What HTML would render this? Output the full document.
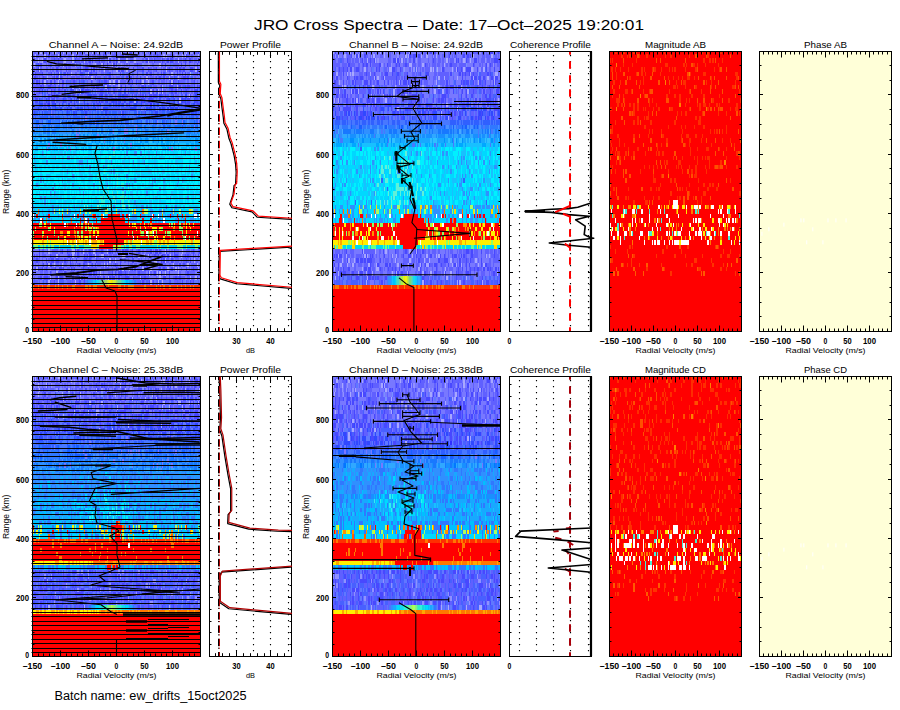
<!DOCTYPE html><html><head><meta charset="utf-8"><style>html,body{margin:0;padding:0;background:#fff;width:900px;height:710px;overflow:hidden}svg{display:block}text{font-family:"Liberation Sans",sans-serif;fill:#000}</style></head><body>
<svg width="900" height="710" viewBox="0 0 900 710">
<rect width="900" height="710" fill="#fff"/>
<text x="449" y="29.8" font-size="14.5" text-anchor="middle" textLength="390" lengthAdjust="spacingAndGlyphs" >JRO Cross Spectra – Date: 17–Oct–2025 19:20:01</text>
<text x="116" y="48" font-size="9.8" text-anchor="middle" textLength="134.5" lengthAdjust="spacingAndGlyphs" >Channel A – Noise: 24.92dB</text>
<text x="250.5" y="48" font-size="9.8" text-anchor="middle" textLength="61" lengthAdjust="spacingAndGlyphs" >Power Profile</text>
<text x="416" y="48" font-size="9.8" text-anchor="middle" textLength="134" lengthAdjust="spacingAndGlyphs" >Channel B – Noise: 24.92dB</text>
<text x="550.5" y="48" font-size="9.8" text-anchor="middle" textLength="81" lengthAdjust="spacingAndGlyphs" >Coherence Profile</text>
<text x="675.5" y="48" font-size="9.8" text-anchor="middle" textLength="61" lengthAdjust="spacingAndGlyphs" >Magnitude AB</text>
<text x="825.5" y="48" font-size="9.8" text-anchor="middle" textLength="43" lengthAdjust="spacingAndGlyphs" >Phase AB</text>
<path stroke="#ff0000" stroke-width="2.32" shape-rendering="crispEdges" d="M32.5 330.34h168"/>
<path stroke="#ff0000" stroke-width="4.44" shape-rendering="crispEdges" d="M32.5 326.96h168M32.5 322.51h168M32.5 318.07h168M32.5 313.63h168M32.5 309.19h168M32.5 304.74h168M32.5 300.3h168M32.5 295.86h168M32.5 291.42h168M32.5 238.11h168M32.5 233.66h168M32.5 229.22h168M32.5 224.78h168"/>
<path stroke="#ff3000" stroke-width="4.44" shape-rendering="crispEdges" d="M32.5 286.97h168"/>
<path stroke="#6060ff" stroke-width="4.44" shape-rendering="crispEdges" d="M32.5 282.53h168M32.5 278.09h168M32.5 273.65h168M32.5 269.2h168M32.5 264.76h168M32.5 260.32h168M32.5 255.88h168M32.5 251.43h168M32.5 87.06h168M32.5 82.61h168M32.5 78.17h168M32.5 60.4h168M32.5 55.96h168"/>
<path stroke="#00d8f0" stroke-width="4.44" shape-rendering="crispEdges" d="M32.5 246.99h168"/>
<path stroke="#fff000" stroke-width="4.44" shape-rendering="crispEdges" d="M32.5 242.55h168"/>
<path stroke="#00d8ff" stroke-width="4.44" shape-rendering="crispEdges" d="M32.5 220.33h168M32.5 215.89h168M32.5 211.45h168M32.5 207.01h168M32.5 202.56h168M32.5 193.68h168M32.5 189.24h168M32.5 184.79h168M32.5 162.58h168"/>
<path stroke="#00f0ff" stroke-width="4.44" shape-rendering="crispEdges" d="M32.5 198.12h168M32.5 180.35h168M32.5 175.91h168M32.5 171.47h168M32.5 167.02h168M32.5 158.14h168M32.5 153.7h168"/>
<path stroke="#18d8ff" stroke-width="4.44" shape-rendering="crispEdges" d="M32.5 149.25h168"/>
<path stroke="#18c0ff" stroke-width="4.44" shape-rendering="crispEdges" d="M32.5 144.81h168"/>
<path stroke="#18a8ff" stroke-width="4.44" shape-rendering="crispEdges" d="M32.5 140.37h168"/>
<path stroke="#1890ff" stroke-width="4.44" shape-rendering="crispEdges" d="M32.5 135.93h168"/>
<path stroke="#3090ff" stroke-width="4.44" shape-rendering="crispEdges" d="M32.5 131.48h168M32.5 127.04h168"/>
<path stroke="#3078ff" stroke-width="4.44" shape-rendering="crispEdges" d="M32.5 122.6h168"/>
<path stroke="#3060ff" stroke-width="4.44" shape-rendering="crispEdges" d="M32.5 118.16h168M32.5 113.71h168"/>
<path stroke="#4860ff" stroke-width="4.44" shape-rendering="crispEdges" d="M32.5 109.27h168M32.5 104.83h168"/>
<path stroke="#4848ff" stroke-width="4.44" shape-rendering="crispEdges" d="M32.5 100.38h168M32.5 95.94h168M32.5 91.5h168"/>
<path stroke="#7878ff" stroke-width="4.44" shape-rendering="crispEdges" d="M32.5 73.73h168M32.5 69.29h168M32.5 64.84h168"/>
<path stroke="#7878ff" stroke-width="2.24" shape-rendering="crispEdges" d="M32.5 52.62h168"/>
<path stroke="#ff7800" stroke-width="4.44" shape-rendering="crispEdges" d="M32.5 286.97h1.32m3.97 0h1.32m2.65 0h1.32m3.97 0h2.65m5.29 0h1.32m1.32 0h1.32m2.65 0h1.32m3.97 0h1.32m3.97 0h2.65m10.58 0h2.65m1.32 0h1.32m2.65 0h3.97m10.58 0h1.32m9.26 0h2.65m2.65 0h1.32m2.65 0h6.61m9.26 0h2.65m9.26 0h1.32m2.65 0h1.32m2.65 0h1.32m3.97 0h2.65m5.29 0h1.32m2.65 0h1.32m2.65 0h1.32m3.97 0h1.32m1.32 0h1.32M45.73 220.33h1.32m14.55 0h1.32m7.94 0h1.32m11.91 0h1.32M92.03 215.89h1.32m7.94 0h1.32m59.53 0h1.32m21.17 0h1.32M37.79 211.45h1.32m103.18 0h1.32"/>
<path stroke="#4860ff" stroke-width="4.44" shape-rendering="crispEdges" d="M33.82 282.53h1.32m7.94 0h1.32m1.32 0h1.32m2.65 0h1.32m7.94 0h5.29m5.29 0h1.32m1.32 0h1.32m66.14 0h1.32m5.29 0h1.32m9.26 0h1.32m1.32 0h1.32m7.94 0h1.32m6.61 0h1.32m7.94 0h1.32M32.5 113.71h1.32m14.55 0h1.32m2.65 0h1.32m1.32 0h1.32m27.78 0h1.32m1.32 0h1.32m1.32 0h1.32m3.97 0h1.32m6.61 0h1.32m2.65 0h2.65m9.26 0h1.32m3.97 0h1.32m1.32 0h1.32m1.32 0h1.32m11.91 0h2.65m3.97 0h1.32m2.65 0h2.65m3.97 0h2.65m3.97 0h1.32m14.55 0h1.32m1.32 0h2.65m9.26 0h1.32m1.32 0h1.32M32.5 100.38h1.32m6.61 0h2.65m3.97 0h1.32m2.65 0h1.32m3.97 0h1.32m3.97 0h1.32m2.65 0h1.32m10.58 0h1.32m13.23 0h2.65m7.94 0h1.32m29.1 0h1.32m10.58 0h1.32m6.61 0h1.32m1.32 0h1.32m9.26 0h1.32m2.65 0h2.65m3.97 0h1.32m7.94 0h1.32m10.58 0h2.65M33.82 95.94h1.32m6.61 0h1.32m1.32 0h1.32m11.91 0h1.32m5.29 0h1.32m1.32 0h1.32m3.97 0h1.32m18.52 0h1.32m2.65 0h1.32m9.26 0h1.32m1.32 0h2.65m2.65 0h1.32m5.29 0h1.32m11.91 0h1.32m21.17 0h1.32m3.97 0h1.32m3.97 0h1.32m2.65 0h1.32m7.94 0h2.65m10.58 0h1.32M44.41 91.5h1.32m9.26 0h1.32m10.58 0h1.32m10.58 0h1.32m9.26 0h1.32m1.32 0h1.32m1.32 0h1.32m6.61 0h1.32m1.32 0h1.32m6.61 0h1.32m3.97 0h1.32m10.58 0h3.97m1.32 0h2.65m3.97 0h3.97m1.32 0h1.32m6.61 0h1.32m27.78 0h1.32m13.23 0h1.32M54.99 87.06h1.32m2.65 0h1.32m5.29 0h1.32m6.61 0h1.32m6.61 0h1.32m19.84 0h1.32m5.29 0h1.32m2.65 0h1.32m15.87 0h1.32m9.26 0h1.32m5.29 0h1.32m1.32 0h1.32m31.75 0h1.32M32.5 82.61h1.32m31.75 0h1.32m2.65 0h1.32m10.58 0h1.32m1.32 0h1.32m15.87 0h1.32m41.01 0h1.32M103.93 78.17h1.32m17.2 0h1.32m51.59 0h1.32m14.55 0h1.32M53.67 73.73h1.32m5.29 0h1.32m1.32 0h1.32m18.52 0h2.65m21.17 0h2.65m13.23 0h1.32m7.94 0h1.32m9.26 0h1.32m21.17 0h1.32M137 69.29h1.32M36.47 64.84h1.32m13.23 0h1.32m6.61 0h1.32"/>
<path stroke="#6078ff" stroke-width="4.44" shape-rendering="crispEdges" d="M37.79 282.53h1.32m2.65 0h1.32m1.32 0h1.32m9.26 0h1.32m7.94 0h2.65m14.55 0h1.32m58.2 0h1.32m2.65 0h1.32m7.94 0h1.32m5.29 0h1.32m1.32 0h5.29m2.65 0h2.65m6.61 0h1.32m1.32 0h1.32m3.97 0h1.32m3.97 0h3.97m1.32 0h1.32M41.76 109.27h1.32m3.97 0h1.32m2.65 0h1.32m10.58 0h1.32m7.94 0h2.65m7.94 0h1.32m11.91 0h1.32m1.32 0h1.32m19.84 0h1.32m15.87 0h1.32m3.97 0h1.32m1.32 0h1.32m9.26 0h1.32m1.32 0h1.32m6.61 0h1.32m1.32 0h1.32m7.94 0h1.32m10.58 0h1.32m1.32 0h2.65m2.65 0h1.32M33.82 104.83h1.32m14.55 0h1.32m5.29 0h2.65m1.32 0h1.32m2.65 0h1.32m1.32 0h1.32m1.32 0h1.32m5.29 0h1.32m1.32 0h1.32m11.91 0h1.32m7.94 0h1.32m9.26 0h1.32m10.58 0h2.65m5.29 0h1.32m10.58 0h1.32m6.61 0h1.32m6.61 0h1.32m6.61 0h1.32m6.61 0h1.32m13.23 0h1.32M33.82 100.38h1.32m2.65 0h1.32m3.97 0h1.32m22.49 0h1.32m3.97 0h1.32m1.32 0h1.32m3.97 0h2.65m2.65 0h1.32m1.32 0h2.65m13.23 0h1.32m2.65 0h1.32m11.91 0h1.32m3.97 0h2.65m25.13 0h1.32m1.32 0h2.65m1.32 0h2.65m11.91 0h1.32m14.55 0h2.65M39.11 95.94h1.32m2.65 0h1.32m2.65 0h1.32m10.58 0h1.32m5.29 0h1.32m3.97 0h1.32m3.97 0h1.32m1.32 0h1.32m2.65 0h1.32m13.23 0h1.32m3.97 0h1.32m3.97 0h1.32m6.61 0h2.65m11.91 0h1.32m5.29 0h1.32m9.26 0h1.32m21.17 0h1.32M43.08 91.5h1.32m1.32 0h1.32m9.26 0h1.32m5.29 0h1.32m1.32 0h1.32m1.32 0h1.32m5.29 0h1.32m17.2 0h1.32m34.39 0h1.32m10.58 0h1.32m25.13 0h1.32m10.58 0h1.32m7.94 0h1.32m7.94 0h1.32M45.73 87.06h1.32m19.84 0h2.65m6.61 0h2.65m21.17 0h1.32m2.65 0h1.32m27.78 0h1.32m2.65 0h1.32m7.94 0h1.32m15.87 0h1.32m2.65 0h1.32m5.29 0h1.32m17.2 0h1.32M77.48 82.61h1.32m6.61 0h1.32m9.26 0h1.32m39.69 0h1.32m15.87 0h1.32m21.17 0h1.32m6.61 0h1.32M45.73 78.17h1.32m55.56 0h1.32m37.04 0h1.32m19.84 0h1.32m9.26 0h1.32m15.87 0h1.32m6.61 0h1.32M45.73 73.73h1.32m31.75 0h1.32m6.61 0h1.32m37.04 0h1.32m1.32 0h1.32m62.17 0h1.32M78.8 69.29h1.32m108.47 0h1.32M77.48 64.84h1.32m92.6 0h1.32M73.51 60.4h1.32"/>
<path stroke="#7878ff" stroke-width="4.44" shape-rendering="crispEdges" d="M40.44 282.53h1.32m142.87 0h1.32M32.5 278.09h1.32m1.32 0h2.65m3.97 0h1.32m9.26 0h2.65m9.26 0h1.32m3.97 0h2.65m1.32 0h1.32m7.94 0h1.32m1.32 0h1.32m9.26 0h1.32m3.97 0h1.32m2.65 0h1.32m7.94 0h1.32m1.32 0h1.32m1.32 0h1.32m9.26 0h2.65m15.87 0h6.61m1.32 0h2.65m1.32 0h2.65m2.65 0h2.65m1.32 0h2.65m11.91 0h2.65m6.61 0h1.32m2.65 0h2.65M33.82 273.65h1.32m1.32 0h3.97m2.65 0h1.32m3.97 0h1.32m2.65 0h2.65m7.94 0h1.32m2.65 0h2.65m3.97 0h2.65m2.65 0h3.97m3.97 0h1.32m3.97 0h1.32m3.97 0h1.32m2.65 0h1.32m1.32 0h3.97m5.29 0h1.32m2.65 0h1.32m9.26 0h1.32m6.61 0h1.32m9.26 0h1.32m3.97 0h1.32m2.65 0h1.32m5.29 0h2.65m2.65 0h1.32m1.32 0h7.94m2.65 0h3.97m10.58 0h2.65M32.5 269.2h1.32m9.26 0h1.32m3.97 0h2.65m5.29 0h2.65m5.29 0h2.65m2.65 0h1.32m3.97 0h6.61m15.87 0h3.97m2.65 0h1.32m3.97 0h2.65m1.32 0h2.65m2.65 0h1.32m5.29 0h3.97m3.97 0h1.32m1.32 0h1.32m11.91 0h1.32m1.32 0h6.61m2.65 0h1.32m6.61 0h1.32m2.65 0h1.32m5.29 0h1.32m1.32 0h3.97m1.32 0h1.32m1.32 0h1.32M33.82 264.76h1.32m1.32 0h1.32m1.32 0h2.65m2.65 0h1.32m6.61 0h1.32m1.32 0h1.32m2.65 0h1.32m2.65 0h1.32m2.65 0h2.65m3.97 0h1.32m1.32 0h1.32m3.97 0h1.32m3.97 0h1.32m1.32 0h1.32m2.65 0h1.32m1.32 0h1.32m3.97 0h1.32m6.61 0h1.32m1.32 0h1.32m5.29 0h1.32m1.32 0h6.61m1.32 0h1.32m2.65 0h1.32m2.65 0h3.97m1.32 0h1.32m1.32 0h1.32m1.32 0h3.97m3.97 0h1.32m1.32 0h1.32m6.61 0h2.65m2.65 0h1.32m5.29 0h1.32m1.32 0h1.32m3.97 0h1.32m2.65 0h1.32m6.61 0h1.32M40.44 260.32h1.32m1.32 0h2.65m1.32 0h1.32m5.29 0h1.32m7.94 0h1.32m3.97 0h1.32m1.32 0h1.32m1.32 0h2.65m1.32 0h5.29m9.26 0h3.97m7.94 0h1.32m1.32 0h1.32m5.29 0h1.32m1.32 0h3.97m2.65 0h1.32m2.65 0h1.32m1.32 0h2.65m2.65 0h3.97m1.32 0h1.32m1.32 0h2.65m1.32 0h1.32m1.32 0h1.32m1.32 0h2.65m5.29 0h1.32m7.94 0h2.65m2.65 0h1.32m3.97 0h1.32m1.32 0h1.32m5.29 0h1.32m1.32 0h1.32m2.65 0h1.32m1.32 0h2.65M32.5 255.88h1.32m1.32 0h1.32m1.32 0h1.32m1.32 0h1.32m3.97 0h3.97m10.58 0h6.61m6.61 0h1.32m1.32 0h1.32m2.65 0h3.97m3.97 0h1.32m9.26 0h2.65m6.61 0h1.32m2.65 0h1.32m3.97 0h1.32m1.32 0h2.65m2.65 0h1.32m6.61 0h1.32m5.29 0h3.97m2.65 0h1.32m2.65 0h1.32m7.94 0h2.65m3.97 0h1.32m1.32 0h1.32m2.65 0h1.32m5.29 0h1.32m1.32 0h1.32m7.94 0h1.32m1.32 0h1.32m1.32 0h1.32m1.32 0h1.32M33.82 251.43h5.29m1.32 0h1.32m2.65 0h2.65m2.65 0h2.65m5.29 0h2.65m2.65 0h3.97m3.97 0h1.32m3.97 0h1.32m2.65 0h1.32m2.65 0h1.32m1.32 0h1.32m6.61 0h1.32m7.94 0h2.65m6.61 0h1.32m1.32 0h1.32m3.97 0h1.32m6.61 0h1.32m2.65 0h2.65m5.29 0h1.32m1.32 0h2.65m5.29 0h1.32m1.32 0h1.32m2.65 0h1.32m2.65 0h2.65m2.65 0h1.32m1.32 0h1.32m1.32 0h1.32m5.29 0h2.65m1.32 0h2.65m3.97 0h1.32m3.97 0h2.65M47.05 149.25h1.32m18.52 0h1.32m1.32 0h1.32m42.33 0h1.32m54.24 0h1.32m1.32 0h1.32m22.49 0h1.32M48.37 144.81h1.32m10.58 0h1.32m11.91 0h1.32m55.56 0h1.32M54.99 140.37h1.32m47.62 0h1.32m18.52 0h1.32M76.15 135.93h2.65m18.52 0h1.32M76.15 131.48h1.32m1.32 0h1.32m33.07 0h1.32m9.26 0h3.97m7.94 0h1.32m30.43 0h1.32M33.82 127.04h1.32m2.65 0h1.32m96.57 0h1.32m56.88 0h1.32M94.67 122.6h1.32m60.85 0h1.32m17.2 0h1.32m5.29 0h1.32m14.55 0h1.32M85.41 118.16h1.32m112.44 0h1.32M51.02 113.71h1.32m68.79 0h1.32m14.55 0h1.32M101.29 109.27h1.32m38.36 0h1.32M49.7 100.38h1.32m3.97 0h1.32m108.47 0h1.32M40.44 95.94h1.32m3.97 0h1.32m13.23 0h2.65m50.27 0h1.32m18.52 0h1.32m9.26 0h1.32m13.23 0h1.32m9.26 0h1.32m3.97 0h1.32m3.97 0h1.32m2.65 0h1.32m2.65 0h1.32m2.65 0h1.32M32.5 91.5h1.32m1.32 0h1.32m11.91 0h2.65m22.49 0h1.32m2.65 0h1.32m11.91 0h1.32m3.97 0h1.32m9.26 0h1.32m2.65 0h2.65m3.97 0h1.32m3.97 0h1.32m2.65 0h1.32m10.58 0h1.32m14.55 0h1.32m3.97 0h1.32m5.29 0h1.32m9.26 0h1.32m3.97 0h1.32m6.61 0h1.32m1.32 0h1.32M44.41 87.06h1.32m10.58 0h1.32m2.65 0h1.32m2.65 0h1.32m14.55 0h1.32m3.97 0h1.32m1.32 0h2.65m3.97 0h1.32m14.55 0h2.65m2.65 0h2.65m3.97 0h2.65m1.32 0h3.97m1.32 0h1.32m1.32 0h2.65m2.65 0h1.32m10.58 0h1.32m3.97 0h2.65m5.29 0h1.32m14.55 0h1.32m13.23 0h1.32M35.15 82.61h1.32m3.97 0h1.32m6.61 0h1.32m2.65 0h1.32m2.65 0h1.32m2.65 0h1.32m2.65 0h1.32m22.49 0h2.65m2.65 0h2.65m14.55 0h2.65m13.23 0h1.32m5.29 0h2.65m5.29 0h1.32m3.97 0h1.32m1.32 0h1.32m5.29 0h2.65m1.32 0h1.32m3.97 0h1.32m1.32 0h1.32m17.2 0h1.32m1.32 0h2.65m3.97 0h1.32m1.32 0h2.65M32.5 78.17h1.32m3.97 0h1.32m1.32 0h1.32m6.61 0h3.97m2.65 0h1.32m6.61 0h3.97m1.32 0h2.65m3.97 0h1.32m3.97 0h1.32m2.65 0h1.32m1.32 0h1.32m5.29 0h1.32m1.32 0h1.32m3.97 0h1.32m3.97 0h1.32m2.65 0h2.65m1.32 0h1.32m3.97 0h1.32m2.65 0h2.65m2.65 0h1.32m1.32 0h1.32m1.32 0h1.32m2.65 0h1.32m2.65 0h1.32m5.29 0h1.32m3.97 0h1.32m1.32 0h1.32m6.61 0h1.32m10.58 0h1.32m1.32 0h1.32m7.94 0h1.32m2.65 0h1.32m2.65 0h1.32m1.32 0h1.32M35.15 60.4h2.65m1.32 0h1.32m7.94 0h2.65m14.55 0h5.29m9.26 0h1.32m5.29 0h1.32m2.65 0h1.32m1.32 0h1.32m5.29 0h1.32m3.97 0h1.32m3.97 0h2.65m1.32 0h1.32m11.91 0h2.65m2.65 0h1.32m1.32 0h6.61m1.32 0h1.32m7.94 0h1.32m6.61 0h1.32m2.65 0h1.32m2.65 0h1.32m3.97 0h1.32m6.61 0h1.32m3.97 0h1.32m3.97 0h1.32m2.65 0h1.32M33.82 55.96h1.32m3.97 0h3.97m3.97 0h1.32m1.32 0h1.32m3.97 0h1.32m5.29 0h2.65m1.32 0h2.65m6.61 0h1.32m1.32 0h1.32m3.97 0h2.65m2.65 0h1.32m1.32 0h1.32m3.97 0h1.32m3.97 0h1.32m7.94 0h1.32m6.61 0h1.32m3.97 0h1.32m3.97 0h1.32m9.26 0h3.97m2.65 0h2.65m2.65 0h1.32m7.94 0h2.65m1.32 0h1.32m1.32 0h2.65m3.97 0h1.32m1.32 0h5.29m1.32 0h1.32m5.29 0h1.32m1.32 0h5.29"/>
<path stroke="#a8a8ff" stroke-width="4.44" shape-rendering="crispEdges" d="M48.37 282.53h1.32m7.94 0h1.32m15.87 0h1.32m74.08 0h1.32m6.61 0h1.32m2.65 0h1.32M49.7 278.09h1.32m6.61 0h1.32m21.17 0h1.32m26.46 0h1.32m30.43 0h1.32m18.52 0h1.32m29.1 0h1.32m3.97 0h1.32M56.31 273.65h1.32m42.33 0h1.32m47.62 0h1.32m6.61 0h1.32m1.32 0h1.32m3.97 0h1.32m11.91 0h1.32M36.47 269.2h1.32m84.66 0h1.32m5.29 0h1.32m11.91 0h1.32m6.61 0h1.32m15.87 0h1.32m6.61 0h1.32m1.32 0h1.32m18.52 0h1.32M48.37 264.76h1.32m3.97 0h1.32m6.61 0h1.32m25.13 0h1.32m14.55 0h1.32m1.32 0h1.32m64.82 0h1.32m13.23 0h1.32m7.94 0h1.32M109.22 260.32h1.32m3.97 0h1.32m38.36 0h2.65m7.94 0h1.32m27.78 0h1.32M56.31 255.88h1.32m14.55 0h1.32m21.17 0h1.32m5.29 0h2.65m18.52 0h2.65m13.23 0h1.32m3.97 0h1.32m2.65 0h1.32m21.17 0h1.32m9.26 0h1.32M48.37 251.43h1.32m22.49 0h2.65m7.94 0h1.32m9.26 0h1.32m11.91 0h1.32m56.88 0h1.32m15.87 0h1.32M78.8 100.38h1.32m54.24 0h1.32m43.65 0h1.32M188.59 95.94h1.32M76.15 91.5h1.32m2.65 0h1.32m68.79 0h1.32m6.61 0h1.32m2.65 0h1.32M72.19 87.06h1.32m5.29 0h1.32m25.13 0h1.32m11.91 0h1.32m42.33 0h1.32m13.23 0h1.32M44.41 82.61h1.32m11.91 0h1.32m50.27 0h1.32m2.65 0h1.32m3.97 0h1.32m22.49 0h1.32m3.97 0h1.32m22.49 0h1.32M47.05 78.17h1.32m10.58 0h1.32m30.43 0h2.65m52.91 0h1.32m21.17 0h1.32m7.94 0h1.32M58.96 73.73h1.32m10.58 0h1.32m15.87 0h1.32m82.02 0h1.32m17.2 0h1.32M39.11 69.29h1.32m63.5 0h1.32m10.58 0h2.65m7.94 0h1.32m38.36 0h1.32m27.78 0h1.32M33.82 64.84h1.32m27.78 0h1.32m30.43 0h1.32m5.29 0h1.32m9.26 0h1.32m46.3 0h1.32M37.79 60.4h1.32m2.65 0h1.32m21.17 0h1.32m6.61 0h1.32m10.58 0h1.32m22.49 0h1.32m9.26 0h1.32m6.61 0h1.32m6.61 0h1.32m11.91 0h1.32m29.1 0h1.32M35.15 55.96h1.32m7.94 0h1.32m11.91 0h1.32m13.23 0h1.32m89.95 0h1.32m1.32 0h1.32m14.55 0h1.32m1.32 0h1.32m11.91 0h1.32"/>
<path stroke="#4848ff" stroke-width="4.44" shape-rendering="crispEdges" d="M53.67 282.53h1.32m23.81 0h2.65m2.65 0h1.32m56.88 0h1.32m5.29 0h1.32m2.65 0h1.32m15.87 0h1.32m10.58 0h1.32m6.61 0h1.32m1.32 0h1.32M40.44 278.09h1.32m2.65 0h3.97m7.94 0h1.32m2.65 0h2.65m2.65 0h1.32m5.29 0h1.32m5.29 0h1.32m1.32 0h1.32m1.32 0h1.32m9.26 0h1.32m1.32 0h1.32m3.97 0h2.65m3.97 0h1.32m1.32 0h2.65m3.97 0h1.32m5.29 0h3.97m3.97 0h1.32m6.61 0h1.32m1.32 0h2.65m17.2 0h2.65m2.65 0h1.32m5.29 0h1.32m2.65 0h1.32m15.87 0h1.32M49.7 273.65h1.32m13.23 0h1.32m11.91 0h1.32m3.97 0h1.32m5.29 0h2.65m1.32 0h1.32m1.32 0h1.32m14.55 0h1.32m1.32 0h1.32m2.65 0h3.97m2.65 0h1.32m11.91 0h1.32m7.94 0h1.32m5.29 0h1.32m5.29 0h1.32m6.61 0h1.32m17.2 0h1.32m10.58 0h1.32M35.15 269.2h1.32m1.32 0h1.32m2.65 0h1.32m2.65 0h1.32m7.94 0h1.32m2.65 0h2.65m1.32 0h1.32m6.61 0h1.32m1.32 0h1.32m7.94 0h1.32m3.97 0h1.32m26.46 0h1.32m2.65 0h1.32m2.65 0h1.32m6.61 0h1.32m1.32 0h1.32m7.94 0h2.65m13.23 0h1.32m2.65 0h1.32m6.61 0h1.32m13.23 0h1.32m5.29 0h1.32M32.5 264.76h1.32m9.26 0h1.32m2.65 0h1.32m1.32 0h2.65m17.2 0h1.32m7.94 0h1.32m2.65 0h2.65m6.61 0h1.32m1.32 0h1.32m18.52 0h1.32m3.97 0h1.32m19.84 0h1.32m3.97 0h1.32m31.75 0h1.32m2.65 0h1.32M36.47 260.32h1.32m7.94 0h1.32m3.97 0h2.65m2.65 0h2.65m5.29 0h1.32m3.97 0h1.32m5.29 0h1.32m6.61 0h2.65m2.65 0h1.32m5.29 0h1.32m10.58 0h1.32m10.58 0h1.32m10.58 0h2.65m26.46 0h1.32m1.32 0h1.32m6.61 0h1.32m13.23 0h1.32m2.65 0h1.32M33.82 255.88h1.32m3.97 0h1.32m9.26 0h1.32m17.2 0h1.32m1.32 0h1.32m5.29 0h1.32m5.29 0h1.32m1.32 0h1.32m1.32 0h2.65m11.91 0h1.32m21.17 0h1.32m3.97 0h1.32m2.65 0h1.32m11.91 0h1.32m3.97 0h1.32m2.65 0h1.32m2.65 0h2.65m2.65 0h1.32m5.29 0h3.97m6.61 0h1.32m1.32 0h1.32m3.97 0h1.32m3.97 0h1.32M39.11 251.43h1.32m21.17 0h1.32m3.97 0h1.32m6.61 0h1.32m1.32 0h1.32m10.58 0h1.32m5.29 0h1.32m3.97 0h1.32m6.61 0h1.32m1.32 0h1.32m3.97 0h1.32m3.97 0h1.32m1.32 0h2.65m3.97 0h1.32m5.29 0h1.32m10.58 0h1.32m3.97 0h2.65m1.32 0h1.32m5.29 0h1.32m6.61 0h1.32m17.2 0h1.32m5.29 0h1.32M44.41 104.83h1.32m1.32 0h1.32m10.58 0h1.32m27.78 0h1.32m7.94 0h1.32m15.87 0h1.32m5.29 0h1.32m3.97 0h1.32m34.39 0h1.32m22.49 0h3.97m6.61 0h3.97M40.44 87.06h1.32m1.32 0h1.32m3.97 0h2.65m10.58 0h1.32m7.94 0h1.32m10.58 0h1.32m9.26 0h1.32m1.32 0h2.65m7.94 0h2.65m11.91 0h1.32m2.65 0h1.32m15.87 0h1.32m1.32 0h1.32m14.55 0h1.32m6.61 0h3.97m6.61 0h1.32m3.97 0h1.32m1.32 0h2.65m3.97 0h1.32m1.32 0h1.32m1.32 0h1.32M36.47 82.61h1.32m1.32 0h1.32m1.32 0h1.32m6.61 0h2.65m1.32 0h1.32m6.61 0h2.65m9.26 0h1.32m3.97 0h1.32m2.65 0h1.32m6.61 0h1.32m6.61 0h1.32m3.97 0h2.65m9.26 0h2.65m9.26 0h2.65m1.32 0h1.32m2.65 0h1.32m2.65 0h1.32m10.58 0h2.65m15.87 0h1.32m1.32 0h1.32m3.97 0h1.32m14.55 0h1.32M33.82 78.17h2.65m6.61 0h1.32m9.26 0h1.32m1.32 0h1.32m2.65 0h1.32m33.07 0h1.32m13.23 0h1.32m15.87 0h1.32m2.65 0h1.32m7.94 0h1.32m14.55 0h1.32m2.65 0h1.32m2.65 0h1.32m9.26 0h1.32m7.94 0h2.65m1.32 0h1.32M32.5 73.73h1.32m1.32 0h1.32m5.29 0h1.32m7.94 0h1.32m5.29 0h1.32m5.29 0h1.32m1.32 0h1.32m11.91 0h2.65m6.61 0h2.65m3.97 0h1.32m11.91 0h1.32m9.26 0h1.32m7.94 0h1.32m6.61 0h1.32m7.94 0h1.32m2.65 0h1.32m9.26 0h1.32m1.32 0h1.32m11.91 0h1.32m3.97 0h1.32m1.32 0h1.32m10.58 0h1.32m1.32 0h1.32M37.79 69.29h1.32m17.2 0h1.32m7.94 0h1.32m13.23 0h1.32m3.97 0h2.65m2.65 0h1.32m1.32 0h1.32m23.81 0h1.32m1.32 0h2.65m9.26 0h1.32m7.94 0h1.32m3.97 0h1.32m6.61 0h1.32m11.91 0h1.32m6.61 0h1.32m1.32 0h1.32m2.65 0h1.32m5.29 0h2.65m3.97 0h1.32M37.79 64.84h1.32m1.32 0h1.32m7.94 0h1.32m6.61 0h1.32m21.17 0h1.32m21.17 0h1.32m2.65 0h1.32m5.29 0h1.32m1.32 0h1.32m19.84 0h1.32m26.46 0h1.32m14.55 0h1.32m2.65 0h1.32m10.58 0h1.32M44.41 60.4h1.32m7.94 0h1.32m2.65 0h1.32m15.87 0h1.32m13.23 0h1.32m1.32 0h1.32m5.29 0h1.32m9.26 0h1.32m5.29 0h1.32m29.1 0h1.32m6.61 0h1.32m6.61 0h1.32m3.97 0h1.32m1.32 0h2.65m11.91 0h1.32m2.65 0h2.65m6.61 0h1.32M48.37 55.96h1.32m26.46 0h1.32m21.17 0h1.32m2.65 0h1.32m1.32 0h1.32m15.87 0h1.32m21.17 0h1.32m10.58 0h1.32m27.78 0h1.32"/>
<path stroke="#4878ff" stroke-width="4.44" shape-rendering="crispEdges" d="M85.41 282.53h1.32m48.94 0h1.32M32.5 122.6h1.32m5.29 0h2.65m9.26 0h1.32m22.49 0h2.65m2.65 0h1.32m18.52 0h1.32m2.65 0h1.32m3.97 0h1.32m1.32 0h1.32m6.61 0h1.32m2.65 0h1.32m7.94 0h1.32m10.58 0h1.32m3.97 0h1.32m7.94 0h1.32m3.97 0h1.32m2.65 0h1.32m3.97 0h1.32m1.32 0h1.32m10.58 0h1.32M33.82 118.16h1.32m1.32 0h2.65m9.26 0h1.32m3.97 0h1.32m6.61 0h1.32m1.32 0h2.65m1.32 0h1.32m1.32 0h2.65m6.61 0h1.32m1.32 0h1.32m2.65 0h2.65m1.32 0h1.32m1.32 0h1.32m6.61 0h1.32m2.65 0h1.32m2.65 0h1.32m1.32 0h2.65m1.32 0h1.32m1.32 0h2.65m5.29 0h1.32m1.32 0h2.65m1.32 0h2.65m5.29 0h1.32m2.65 0h1.32m3.97 0h1.32m14.55 0h1.32m3.97 0h1.32m1.32 0h1.32m1.32 0h1.32m5.29 0h2.65m1.32 0h1.32m5.29 0h2.65m1.32 0h1.32M37.79 113.71h1.32m1.32 0h1.32m1.32 0h1.32m9.26 0h1.32m1.32 0h1.32m1.32 0h2.65m1.32 0h2.65m3.97 0h1.32m1.32 0h1.32m3.97 0h3.97m6.61 0h1.32m1.32 0h1.32m1.32 0h1.32m1.32 0h1.32m1.32 0h2.65m2.65 0h1.32m5.29 0h1.32m5.29 0h1.32m9.26 0h1.32m1.32 0h3.97m5.29 0h1.32m5.29 0h2.65m1.32 0h1.32m6.61 0h1.32m5.29 0h1.32m9.26 0h2.65m11.91 0h1.32M61.6 109.27h1.32m75.4 0h1.32"/>
<path stroke="#3078ff" stroke-width="4.44" shape-rendering="crispEdges" d="M86.74 282.53h1.32m46.3 0h1.32M36.47 127.04h1.32m15.87 0h2.65m7.94 0h1.32m2.65 0h1.32m3.97 0h1.32m7.94 0h1.32m5.29 0h1.32m6.61 0h1.32m11.91 0h1.32m1.32 0h2.65m6.61 0h1.32m2.65 0h7.94m2.65 0h1.32m15.87 0h1.32m3.97 0h1.32m3.97 0h1.32m7.94 0h1.32m5.29 0h1.32m1.32 0h1.32m2.65 0h2.65M39.11 118.16h1.32m19.84 0h1.32m34.39 0h1.32m44.98 0h1.32m35.72 0h1.32m9.26 0h1.32"/>
<path stroke="#3090ff" stroke-width="4.44" shape-rendering="crispEdges" d="M88.06 282.53h2.65m41.01 0h2.65M33.82 220.33h2.65m1.32 0h2.65m2.65 0h1.32m3.97 0h1.32m1.32 0h1.32m10.58 0h1.32m5.29 0h1.32m5.29 0h1.32m3.97 0h2.65m2.65 0h1.32m5.29 0h1.32m5.29 0h1.32m29.1 0h6.61m15.87 0h1.32m1.32 0h1.32m1.32 0h2.65m1.32 0h1.32m1.32 0h1.32m9.26 0h2.65m2.65 0h1.32m1.32 0h1.32m5.29 0h3.97m1.32 0h1.32m1.32 0h1.32M33.82 215.89h1.32m3.97 0h1.32m2.65 0h1.32m1.32 0h2.65m9.26 0h1.32m5.29 0h5.29m2.65 0h1.32m6.61 0h2.65m1.32 0h1.32m1.32 0h1.32m1.32 0h2.65m5.29 0h1.32m7.94 0h1.32m11.91 0h2.65m1.32 0h1.32m2.65 0h1.32m2.65 0h5.29m3.97 0h3.97m2.65 0h1.32m1.32 0h1.32m2.65 0h1.32m3.97 0h1.32m3.97 0h1.32m1.32 0h2.65m1.32 0h2.65m3.97 0h1.32m1.32 0h1.32m3.97 0h2.65m3.97 0h1.32m2.65 0h1.32M33.82 211.45h1.32m3.97 0h1.32m1.32 0h1.32m5.29 0h1.32m2.65 0h1.32m1.32 0h1.32m7.94 0h1.32m2.65 0h2.65m3.97 0h1.32m2.65 0h1.32m2.65 0h2.65m15.87 0h1.32m7.94 0h2.65m5.29 0h1.32m1.32 0h1.32m5.29 0h1.32m3.97 0h1.32m6.61 0h1.32m7.94 0h2.65m6.61 0h2.65m1.32 0h1.32m6.61 0h1.32m1.32 0h1.32m5.29 0h1.32m11.91 0h3.97M32.5 207.01h1.32m18.52 0h1.32m3.97 0h1.32m14.55 0h1.32m15.87 0h1.32m21.17 0h1.32m11.91 0h1.32m7.94 0h1.32m3.97 0h2.65m2.65 0h1.32m27.78 0h1.32M44.41 202.56h1.32m74.08 0h1.32m13.23 0h1.32M40.44 198.12h1.32m2.65 0h1.32m124.35 0h1.32m15.87 0h1.32M49.7 193.68h1.32m2.65 0h1.32m27.78 0h1.32m41.01 0h1.32m19.84 0h1.32M52.34 189.24h1.32m25.13 0h1.32m42.33 0h1.32m35.72 0h1.32M36.47 184.79h1.32m15.87 0h1.32m17.2 0h1.32m19.84 0h1.32m11.91 0h1.32m18.52 0h1.32m1.32 0h1.32m1.32 0h1.32m18.52 0h1.32m23.81 0h1.32M40.44 180.35h1.32m1.32 0h1.32m17.2 0h1.32m71.43 0h1.32m15.87 0h1.32m1.32 0h1.32m7.94 0h1.32m13.23 0h1.32m2.65 0h1.32M72.19 175.91h1.32m52.91 0h1.32m63.5 0h1.32M66.89 171.47h1.32m42.33 0h1.32m1.32 0h1.32M35.15 167.02h1.32m52.91 0h1.32m11.91 0h1.32m84.66 0h1.32M45.73 162.58h2.65m30.43 0h3.97m3.97 0h1.32m22.49 0h1.32m21.17 0h1.32m9.26 0h1.32M33.82 158.14h1.32m19.84 0h1.32m10.58 0h2.65m124.35 0h1.32M41.76 153.7h1.32m83.34 0h1.32m6.61 0h2.65m2.65 0h2.65m13.23 0h1.32m27.78 0h1.32"/>
<path stroke="#18a8ff" stroke-width="4.44" shape-rendering="crispEdges" d="M90.7 282.53h2.65m35.72 0h2.65M37.79 144.81h1.32m6.61 0h1.32m18.52 0h1.32m88.63 0h1.32M32.5 135.93h1.32m3.97 0h1.32m3.97 0h1.32m11.91 0h1.32m2.65 0h1.32m10.58 0h1.32m14.55 0h1.32m2.65 0h1.32m5.29 0h1.32m18.52 0h1.32m25.13 0h1.32m17.2 0h1.32m2.65 0h1.32m3.97 0h1.32m5.29 0h2.65m17.2 0h1.32"/>
<path stroke="#18c0ff" stroke-width="4.44" shape-rendering="crispEdges" d="M93.35 282.53h1.32m33.07 0h1.32M35.15 207.01h1.32m7.94 0h1.32m1.32 0h1.32m2.65 0h1.32m2.65 0h2.65m2.65 0h1.32m1.32 0h1.32m3.97 0h1.32m6.61 0h1.32m1.32 0h2.65m51.59 0h1.32m2.65 0h2.65m9.26 0h2.65m3.97 0h1.32m7.94 0h1.32m5.29 0h1.32m1.32 0h1.32m3.97 0h1.32m2.65 0h1.32m3.97 0h2.65m1.32 0h1.32m1.32 0h1.32M41.76 202.56h1.32m3.97 0h1.32m1.32 0h1.32m13.23 0h1.32m15.87 0h1.32m5.29 0h1.32m7.94 0h1.32m9.26 0h1.32m6.61 0h1.32m13.23 0h1.32m5.29 0h1.32m1.32 0h1.32m7.94 0h2.65m7.94 0h1.32M51.02 198.12h1.32m1.32 0h1.32m1.32 0h1.32m2.65 0h1.32m34.39 0h1.32m5.29 0h1.32m10.58 0h2.65m10.58 0h1.32m2.65 0h1.32m19.84 0h1.32m1.32 0h1.32m22.49 0h1.32m1.32 0h1.32m9.26 0h1.32m1.32 0h1.32M39.11 193.68h1.32m10.58 0h1.32m2.65 0h1.32m23.81 0h1.32m25.13 0h1.32m5.29 0h1.32m9.26 0h1.32m5.29 0h2.65m3.97 0h1.32m18.52 0h1.32m13.23 0h1.32m19.84 0h1.32m5.29 0h1.32M40.44 189.24h1.32m5.29 0h1.32m15.87 0h1.32m1.32 0h1.32m15.87 0h1.32m11.91 0h1.32m3.97 0h1.32m7.94 0h1.32m1.32 0h1.32m3.97 0h1.32m3.97 0h1.32m10.58 0h1.32m7.94 0h1.32m1.32 0h1.32m13.23 0h1.32m17.2 0h1.32m3.97 0h1.32M32.5 184.79h1.32m3.97 0h1.32m5.29 0h1.32m13.23 0h1.32m2.65 0h2.65m39.69 0h1.32m5.29 0h1.32m1.32 0h1.32m26.46 0h1.32m6.61 0h1.32m11.91 0h1.32m3.97 0h1.32m22.49 0h1.32m3.97 0h1.32M32.5 180.35h1.32m3.97 0h1.32m27.78 0h3.97m2.65 0h1.32m7.94 0h1.32m5.29 0h1.32m14.55 0h2.65m1.32 0h1.32m3.97 0h1.32m14.55 0h1.32m3.97 0h1.32m11.91 0h1.32m7.94 0h1.32m5.29 0h1.32m17.2 0h1.32M40.44 175.91h1.32m3.97 0h3.97m11.91 0h1.32m10.58 0h1.32m6.61 0h1.32m6.61 0h3.97m9.26 0h1.32m11.91 0h1.32m1.32 0h1.32m17.2 0h2.65m1.32 0h2.65m7.94 0h1.32m6.61 0h1.32m1.32 0h1.32m3.97 0h2.65m11.91 0h1.32m1.32 0h1.32m7.94 0h1.32M32.5 171.47h1.32m1.32 0h1.32m25.13 0h1.32m9.26 0h1.32m5.29 0h2.65m7.94 0h1.32m9.26 0h1.32m7.94 0h1.32m10.58 0h1.32m5.29 0h1.32m6.61 0h1.32m3.97 0h1.32m5.29 0h3.97m2.65 0h1.32m1.32 0h1.32m3.97 0h2.65m11.91 0h1.32m2.65 0h1.32m2.65 0h1.32m2.65 0h1.32m1.32 0h2.65M39.11 167.02h1.32m21.17 0h1.32m1.32 0h1.32m13.23 0h1.32m2.65 0h1.32m2.65 0h1.32m10.58 0h1.32m5.29 0h1.32m17.2 0h1.32m22.49 0h1.32m18.52 0h1.32m1.32 0h1.32m9.26 0h1.32m3.97 0h1.32M33.82 162.58h2.65m25.13 0h1.32m14.55 0h1.32m18.52 0h1.32m6.61 0h2.65m14.55 0h2.65m3.97 0h1.32m7.94 0h1.32m2.65 0h1.32m10.58 0h1.32m19.84 0h2.65m3.97 0h1.32m11.91 0h1.32M44.41 158.14h1.32m6.61 0h1.32m7.94 0h1.32m7.94 0h1.32m15.87 0h1.32m2.65 0h1.32m30.43 0h1.32m2.65 0h1.32m15.87 0h1.32m2.65 0h1.32m1.32 0h1.32m6.61 0h2.65m6.61 0h1.32m7.94 0h2.65m17.2 0h1.32M33.82 153.7h1.32m7.94 0h1.32m1.32 0h1.32m3.97 0h1.32m1.32 0h1.32m2.65 0h1.32m1.32 0h2.65m1.32 0h1.32m3.97 0h1.32m2.65 0h2.65m14.55 0h1.32m7.94 0h1.32m22.49 0h1.32m18.52 0h1.32m2.65 0h2.65m11.91 0h1.32m1.32 0h1.32m6.61 0h1.32m6.61 0h1.32m6.61 0h1.32m7.94 0h1.32M51.02 149.25h1.32m22.49 0h1.32m1.32 0h1.32m26.46 0h1.32m22.49 0h1.32m3.97 0h1.32m1.32 0h1.32m9.26 0h1.32m26.46 0h1.32m15.87 0h2.65m1.32 0h1.32M65.57 140.37h1.32m11.91 0h1.32m7.94 0h1.32m46.3 0h1.32m22.49 0h1.32m33.07 0h1.32"/>
<path stroke="#00c0ff" stroke-width="4.44" shape-rendering="crispEdges" d="M94.67 282.53h1.32m30.43 0h1.32M32.5 149.25h1.32m7.94 0h1.32m6.61 0h1.32m1.32 0h1.32m1.32 0h1.32m2.65 0h5.29m1.32 0h1.32m1.32 0h1.32m11.91 0h1.32m2.65 0h1.32m1.32 0h1.32m1.32 0h1.32m2.65 0h1.32m2.65 0h1.32m1.32 0h2.65m3.97 0h1.32m1.32 0h1.32m3.97 0h2.65m13.23 0h2.65m3.97 0h2.65m9.26 0h1.32m2.65 0h1.32m1.32 0h1.32m3.97 0h2.65m5.29 0h1.32m2.65 0h1.32m2.65 0h1.32m1.32 0h6.61m1.32 0h1.32m1.32 0h1.32m5.29 0h2.65"/>
<path stroke="#00d8ff" stroke-width="4.44" shape-rendering="crispEdges" d="M96 282.53h1.32m27.78 0h1.32M35.15 198.12h1.32m2.65 0h1.32m1.32 0h2.65m1.32 0h5.29m1.32 0h1.32m1.32 0h1.32m1.32 0h2.65m2.65 0h1.32m2.65 0h2.65m2.65 0h3.97m6.61 0h1.32m3.97 0h1.32m1.32 0h1.32m2.65 0h1.32m13.23 0h3.97m10.58 0h1.32m13.23 0h1.32m5.29 0h1.32m2.65 0h1.32m6.61 0h1.32m1.32 0h1.32m5.29 0h2.65m3.97 0h5.29m2.65 0h1.32m2.65 0h2.65m3.97 0h1.32m6.61 0h1.32M36.47 180.35h1.32m7.94 0h2.65m1.32 0h3.97m3.97 0h1.32m5.29 0h1.32m5.29 0h2.65m2.65 0h1.32m3.97 0h1.32m1.32 0h1.32m2.65 0h1.32m1.32 0h2.65m1.32 0h1.32m1.32 0h1.32m1.32 0h1.32m1.32 0h1.32m7.94 0h1.32m6.61 0h1.32m2.65 0h1.32m1.32 0h2.65m2.65 0h2.65m6.61 0h1.32m2.65 0h1.32m6.61 0h1.32m2.65 0h1.32m1.32 0h1.32m6.61 0h2.65m1.32 0h6.61m6.61 0h2.65m1.32 0h1.32m1.32 0h1.32m1.32 0h1.32m2.65 0h1.32M32.5 175.91h1.32m3.97 0h1.32m2.65 0h1.32m6.61 0h1.32m5.29 0h5.29m2.65 0h3.97m7.94 0h1.32m1.32 0h2.65m2.65 0h2.65m7.94 0h2.65m6.61 0h2.65m2.65 0h1.32m2.65 0h1.32m9.26 0h1.32m2.65 0h1.32m5.29 0h1.32m7.94 0h7.94m2.65 0h1.32m1.32 0h1.32m7.94 0h1.32m3.97 0h3.97m1.32 0h2.65m1.32 0h1.32m1.32 0h1.32m2.65 0h1.32m3.97 0h1.32m2.65 0h1.32m1.32 0h1.32M36.47 171.47h1.32m2.65 0h1.32m7.94 0h3.97m6.61 0h1.32m2.65 0h2.65m1.32 0h1.32m1.32 0h1.32m2.65 0h1.32m5.29 0h3.97m2.65 0h1.32m2.65 0h6.61m2.65 0h1.32m3.97 0h2.65m5.29 0h1.32m2.65 0h2.65m1.32 0h1.32m5.29 0h1.32m1.32 0h1.32m1.32 0h1.32m1.32 0h2.65m2.65 0h5.29m10.58 0h1.32m1.32 0h1.32m5.29 0h1.32m2.65 0h2.65m1.32 0h1.32m1.32 0h1.32m7.94 0h1.32m6.61 0h1.32m2.65 0h1.32M36.47 167.02h1.32m2.65 0h1.32m2.65 0h1.32m2.65 0h1.32m2.65 0h2.65m1.32 0h2.65m3.97 0h1.32m3.97 0h2.65m1.32 0h3.97m1.32 0h1.32m2.65 0h1.32m2.65 0h1.32m6.61 0h1.32m1.32 0h2.65m5.29 0h1.32m7.94 0h1.32m1.32 0h6.61m2.65 0h3.97m2.65 0h3.97m1.32 0h2.65m5.29 0h2.65m3.97 0h1.32m1.32 0h3.97m1.32 0h3.97m1.32 0h1.32m6.61 0h1.32m2.65 0h1.32m1.32 0h1.32m1.32 0h1.32m13.23 0h2.65M35.15 158.14h2.65m1.32 0h5.29m1.32 0h1.32m1.32 0h3.97m1.32 0h1.32m2.65 0h2.65m2.65 0h1.32m7.94 0h1.32m2.65 0h2.65m1.32 0h2.65m1.32 0h3.97m1.32 0h2.65m1.32 0h5.29m1.32 0h1.32m3.97 0h1.32m1.32 0h1.32m2.65 0h3.97m2.65 0h2.65m3.97 0h1.32m2.65 0h1.32m6.61 0h2.65m2.65 0h1.32m3.97 0h1.32m5.29 0h2.65m5.29 0h2.65m7.94 0h1.32m1.32 0h2.65m2.65 0h2.65m6.61 0h1.32M35.15 153.7h2.65m2.65 0h1.32m7.94 0h1.32m1.32 0h1.32m1.32 0h2.65m1.32 0h1.32m6.61 0h2.65m1.32 0h1.32m3.97 0h1.32m1.32 0h1.32m2.65 0h1.32m3.97 0h2.65m2.65 0h1.32m1.32 0h1.32m3.97 0h1.32m5.29 0h2.65m1.32 0h1.32m1.32 0h1.32m3.97 0h2.65m7.94 0h3.97m11.91 0h1.32m2.65 0h3.97m2.65 0h2.65m1.32 0h1.32m5.29 0h1.32m1.32 0h2.65m1.32 0h3.97m5.29 0h1.32m2.65 0h1.32m1.32 0h1.32m2.65 0h1.32m1.32 0h1.32"/>
<path stroke="#18d8f0" stroke-width="4.44" shape-rendering="crispEdges" d="M97.32 282.53h1.32m25.13 0h1.32"/>
<path stroke="#30d8d8" stroke-width="4.44" shape-rendering="crispEdges" d="M98.64 282.53h1.32m22.49 0h1.32"/>
<path stroke="#48d8c0" stroke-width="4.44" shape-rendering="crispEdges" d="M99.96 282.53h1.32m19.84 0h1.32"/>
<path stroke="#60d8a8" stroke-width="4.44" shape-rendering="crispEdges" d="M101.29 282.53h1.32m17.2 0h1.32"/>
<path stroke="#78d890" stroke-width="4.44" shape-rendering="crispEdges" d="M102.61 282.53h1.32m14.55 0h1.32"/>
<path stroke="#90d878" stroke-width="4.44" shape-rendering="crispEdges" d="M103.93 282.53h1.32m11.91 0h1.32"/>
<path stroke="#a8d860" stroke-width="4.44" shape-rendering="crispEdges" d="M105.26 282.53h1.32m9.26 0h1.32"/>
<path stroke="#c0f048" stroke-width="4.44" shape-rendering="crispEdges" d="M106.58 282.53h1.32m6.61 0h1.32"/>
<path stroke="#d8f030" stroke-width="4.44" shape-rendering="crispEdges" d="M107.9 282.53h1.32m3.97 0h1.32"/>
<path stroke="#f0f018" stroke-width="4.44" shape-rendering="crispEdges" d="M109.22 282.53h1.32"/>
<path stroke="#f0f000" stroke-width="4.44" shape-rendering="crispEdges" d="M110.55 282.53h1.32"/>
<path stroke="#d8f018" stroke-width="4.44" shape-rendering="crispEdges" d="M111.87 282.53h1.32"/>
<path stroke="#60ff90" stroke-width="4.44" shape-rendering="crispEdges" d="M33.82 246.99h3.97m2.65 0h2.65m1.32 0h1.32m2.65 0h1.32m1.32 0h2.65m5.29 0h1.32m10.58 0h2.65m2.65 0h2.65m50.27 0h2.65m3.97 0h3.97m17.2 0h1.32m1.32 0h1.32m6.61 0h1.32m7.94 0h6.61m2.65 0h1.32m7.94 0h2.65"/>
<path stroke="#48ffa8" stroke-width="4.44" shape-rendering="crispEdges" d="M84.09 246.99h6.61m30.43 0h2.65m1.32 0h1.32"/>
<path stroke="#ffd800" stroke-width="4.44" shape-rendering="crispEdges" d="M90.7 246.99h6.61m17.2 0h3.97m1.32 0h1.32M66.89 211.45h1.32m11.91 0h1.32m34.39 0h1.32m17.2 0h1.32m52.91 0h2.65"/>
<path stroke="#90ff60" stroke-width="4.44" shape-rendering="crispEdges" d="M97.32 246.99h1.32m14.55 0h1.32m3.97 0h1.32M47.05 242.55h1.32m1.32 0h1.32m76.72 0h1.32m2.65 0h1.32m21.17 0h2.65m27.78 0h1.32m6.61 0h1.32M47.05 238.11h1.32m9.26 0h1.32m30.43 0h1.32m56.88 0h1.32m34.39 0h1.32m3.97 0h1.32m3.97 0h1.32M32.5 233.66h1.32m7.94 0h1.32m10.58 0h1.32m22.49 0h1.32m2.65 0h1.32m48.94 0h1.32m7.94 0h2.65m3.97 0h1.32m2.65 0h1.32m2.65 0h1.32m7.94 0h1.32m1.32 0h2.65m11.91 0h1.32M35.15 229.22h1.32m11.91 0h1.32m35.72 0h1.32m2.65 0h1.32m2.65 0h1.32m44.98 0h1.32m19.84 0h2.65m15.87 0h3.97M39.11 224.78h2.65m39.69 0h1.32m9.26 0h1.32m78.05 0h1.32m6.61 0h1.32"/>
<path stroke="#ff0000" stroke-width="4.44" shape-rendering="crispEdges" d="M98.64 246.99h14.55M103.93 242.55h19.84M41.76 220.33h1.32m37.04 0h1.32m6.61 0h1.32m6.61 0h1.32m3.97 0h23.81m2.65 0h1.32m13.23 0h1.32m6.61 0h1.32m26.46 0h1.32m5.29 0h1.32M36.47 215.89h1.32m10.58 0h1.32m11.91 0h1.32m14.55 0h1.32m3.97 0h1.32m9.26 0h2.65m11.91 0h11.91m2.65 0h1.32m2.65 0h1.32m11.91 0h1.32m11.91 0h1.32m15.87 0h1.32m5.29 0h1.32m3.97 0h1.32"/>
<path stroke="#ffa800" stroke-width="4.44" shape-rendering="crispEdges" d="M32.5 242.55h1.32m7.94 0h2.65m18.52 0h1.32m3.97 0h1.32m2.65 0h1.32m3.97 0h1.32m3.97 0h1.32m1.32 0h1.32m1.32 0h1.32m2.65 0h5.29m2.65 0h2.65m23.81 0h1.32m2.65 0h1.32m14.55 0h2.65m1.32 0h1.32m7.94 0h1.32m2.65 0h1.32m2.65 0h1.32m5.29 0h1.32m15.87 0h1.32"/>
<path stroke="#ffffff" stroke-width="4.44" shape-rendering="crispEdges" d="M66.89 242.55h1.32m7.94 0h1.32m11.91 0h1.32m50.27 0h1.32M96 238.11h1.32m35.72 0h1.32m50.27 0h1.32M146.26 233.66h1.32m5.29 0h1.32m42.33 0h1.32M64.25 224.78h1.32m10.58 0h1.32M40.44 220.33h1.32m43.65 0h1.32m76.72 0h1.32M32.5 215.89h1.32m39.69 0h1.32m27.78 0h1.32m25.13 0h1.32m21.17 0h1.32m5.29 0h1.32m34.39 0h2.65m2.65 0h1.32"/>
<path stroke="#ff9000" stroke-width="4.44" shape-rendering="crispEdges" d="M32.5 238.11h1.32m7.94 0h1.32m31.75 0h1.32m1.32 0h1.32m5.29 0h1.32m84.66 0h1.32m2.65 0h1.32M60.28 233.66h2.65m10.58 0h2.65m13.23 0h1.32m48.94 0h1.32m7.94 0h1.32M73.51 229.22h1.32m6.61 0h1.32m11.91 0h1.32m1.32 0h1.32m74.08 0h2.65M66.89 224.78h1.32m10.58 0h1.32m5.29 0h1.32m46.3 0h1.32m5.29 0h1.32m6.61 0h1.32m1.32 0h1.32m31.75 0h1.32"/>
<path stroke="#fff000" stroke-width="4.44" shape-rendering="crispEdges" d="M64.25 238.11h1.32m13.23 0h1.32m1.32 0h1.32m2.65 0h2.65m48.94 0h1.32m15.87 0h1.32m1.32 0h1.32m5.29 0h1.32M43.08 233.66h1.32m22.49 0h2.65m23.81 0h1.32m2.65 0h1.32m29.1 0h1.32m21.17 0h1.32m18.52 0h1.32m14.55 0h1.32M49.7 229.22h1.32m2.65 0h1.32m33.07 0h1.32m1.32 0h1.32m3.97 0h1.32m38.36 0h1.32m7.94 0h1.32m5.29 0h5.29m2.65 0h1.32m25.13 0h1.32m2.65 0h1.32M44.41 224.78h1.32m3.97 0h1.32m37.04 0h1.32m39.69 0h1.32m1.32 0h1.32m1.32 0h1.32m7.94 0h1.32m23.81 0h1.32m3.97 0h1.32m10.58 0h1.32m1.32 0h1.32m2.65 0h1.32"/>
<path stroke="#a8ff60" stroke-width="4.44" shape-rendering="crispEdges" d="M53.67 211.45h1.32m3.97 0h1.32m1.32 0h1.32m22.49 0h1.32m2.65 0h1.32m14.55 0h2.65m23.81 0h1.32m10.58 0h3.97m14.55 0h1.32m9.26 0h1.32m5.29 0h1.32m10.58 0h1.32"/>
<path stroke="#00f0ff" stroke-width="4.44" shape-rendering="crispEdges" d="M58.96 207.01h1.32m1.32 0h1.32m3.97 0h1.32m1.32 0h2.65m2.65 0h1.32m25.13 0h1.32m1.32 0h1.32m6.61 0h1.32m2.65 0h3.97m1.32 0h1.32m2.65 0h1.32m1.32 0h1.32m1.32 0h2.65m10.58 0h2.65m1.32 0h1.32m2.65 0h2.65m2.65 0h2.65m2.65 0h1.32m5.29 0h2.65m1.32 0h1.32m6.61 0h2.65m1.32 0h3.97m10.58 0h1.32M33.82 202.56h1.32m3.97 0h1.32m2.65 0h1.32m1.32 0h1.32m1.32 0h1.32m6.61 0h1.32m3.97 0h1.32m9.26 0h1.32m1.32 0h2.65m2.65 0h1.32m1.32 0h1.32m1.32 0h1.32m2.65 0h1.32m1.32 0h1.32m6.61 0h1.32m7.94 0h1.32m1.32 0h2.65m6.61 0h1.32m6.61 0h1.32m17.2 0h1.32m2.65 0h1.32m5.29 0h1.32m6.61 0h3.97m1.32 0h3.97m2.65 0h1.32m3.97 0h1.32m1.32 0h1.32m1.32 0h3.97m1.32 0h6.61M32.5 193.68h3.97m1.32 0h1.32m1.32 0h2.65m1.32 0h1.32m1.32 0h2.65m2.65 0h1.32m5.29 0h1.32m3.97 0h2.65m2.65 0h1.32m1.32 0h1.32m1.32 0h1.32m1.32 0h1.32m2.65 0h1.32m1.32 0h1.32m1.32 0h1.32m1.32 0h2.65m2.65 0h2.65m1.32 0h1.32m5.29 0h1.32m2.65 0h2.65m6.61 0h1.32m1.32 0h1.32m3.97 0h1.32m1.32 0h1.32m2.65 0h2.65m2.65 0h1.32m2.65 0h1.32m6.61 0h1.32m2.65 0h2.65m3.97 0h2.65m3.97 0h3.97m5.29 0h2.65m3.97 0h3.97m1.32 0h1.32m3.97 0h1.32M33.82 189.24h1.32m1.32 0h1.32m1.32 0h1.32m13.23 0h1.32m1.32 0h1.32m1.32 0h1.32m2.65 0h1.32m1.32 0h1.32m2.65 0h1.32m11.91 0h1.32m1.32 0h2.65m2.65 0h2.65m1.32 0h2.65m3.97 0h1.32m1.32 0h1.32m5.29 0h1.32m1.32 0h1.32m1.32 0h1.32m6.61 0h1.32m5.29 0h1.32m3.97 0h1.32m3.97 0h2.65m9.26 0h6.61m1.32 0h2.65m2.65 0h7.94m2.65 0h1.32m6.61 0h1.32m2.65 0h1.32m2.65 0h1.32m1.32 0h1.32m1.32 0h2.65M33.82 184.79h1.32m5.29 0h3.97m2.65 0h1.32m3.97 0h1.32m2.65 0h2.65m1.32 0h1.32m5.29 0h1.32m1.32 0h2.65m6.61 0h1.32m1.32 0h1.32m2.65 0h1.32m7.94 0h1.32m2.65 0h1.32m2.65 0h1.32m3.97 0h1.32m3.97 0h1.32m1.32 0h1.32m1.32 0h1.32m14.55 0h2.65m3.97 0h1.32m1.32 0h1.32m1.32 0h1.32m6.61 0h1.32m2.65 0h5.29m3.97 0h1.32m1.32 0h2.65m1.32 0h1.32m6.61 0h5.29m1.32 0h1.32m1.32 0h1.32m1.32 0h3.97M32.5 162.58h1.32m5.29 0h2.65m6.61 0h1.32m23.81 0h2.65m11.91 0h2.65m1.32 0h1.32m1.32 0h2.65m3.97 0h3.97m2.65 0h1.32m3.97 0h1.32m1.32 0h1.32m1.32 0h1.32m1.32 0h1.32m7.94 0h1.32m2.65 0h2.65m7.94 0h2.65m10.58 0h6.61m1.32 0h1.32m1.32 0h2.65m1.32 0h2.65m7.94 0h5.29m2.65 0h2.65m2.65 0h1.32m1.32 0h1.32"/>
<path stroke="#60f0d8" stroke-width="4.44" shape-rendering="crispEdges" d="M84.09 207.01h1.32m1.32 0h1.32m9.26 0h1.32m1.32 0h1.32m5.29 0h1.32m1.32 0h2.65m10.58 0h2.65m3.97 0h1.32"/>
<path stroke="#3060ff" stroke-width="4.44" shape-rendering="crispEdges" d="M166.11 207.01h1.32M41.76 122.6h1.32m15.87 0h1.32m18.52 0h1.32m15.87 0h1.32m5.29 0h1.32m10.58 0h1.32m9.26 0h3.97m11.91 0h1.32m3.97 0h1.32m1.32 0h1.32m2.65 0h1.32m1.32 0h1.32m6.61 0h1.32m1.32 0h1.32m2.65 0h1.32m25.13 0h1.32m1.32 0h1.32M48.37 109.27h1.32m6.61 0h1.32m35.72 0h1.32m52.91 0h1.32m3.97 0h1.32"/>
<path stroke="#30f0d8" stroke-width="4.44" shape-rendering="crispEdges" d="M98.64 202.56h1.32m1.32 0h3.97m9.26 0h1.32m6.61 0h1.32m3.97 0h1.32M99.96 198.12h2.65m1.32 0h1.32m2.65 0h1.32m3.97 0h1.32m5.29 0h3.97m1.32 0h1.32M102.61 193.68h1.32m3.97 0h1.32m2.65 0h1.32m3.97 0h1.32m3.97 0h1.32M98.64 189.24h1.32m6.61 0h2.65m18.52 0h1.32M117.16 184.79h1.32m2.65 0h2.65M98.64 180.35h1.32m17.2 0h1.32m6.61 0h1.32M97.32 175.91h1.32m7.94 0h1.32m6.61 0h1.32m1.32 0h1.32M103.93 171.47h1.32M107.9 167.02h1.32m1.32 0h1.32M109.22 158.14h1.32M113.19 153.7h1.32"/>
<path stroke="#00a8ff" stroke-width="4.44" shape-rendering="crispEdges" d="M35.15 149.25h2.65m7.94 0h1.32m1.32 0h1.32m3.97 0h1.32m1.32 0h1.32m18.52 0h1.32m5.29 0h1.32m5.29 0h1.32m15.87 0h1.32m3.97 0h1.32m5.29 0h1.32m2.65 0h1.32m2.65 0h2.65m1.32 0h1.32m11.91 0h1.32m19.84 0h1.32m1.32 0h1.32M32.5 144.81h1.32m2.65 0h1.32m1.32 0h6.61m3.97 0h1.32m1.32 0h1.32m1.32 0h1.32m7.94 0h1.32m2.65 0h1.32m5.29 0h1.32m7.94 0h1.32m2.65 0h3.97m3.97 0h2.65m2.65 0h1.32m1.32 0h1.32m1.32 0h1.32m1.32 0h1.32m1.32 0h2.65m3.97 0h1.32m1.32 0h1.32m1.32 0h3.97m3.97 0h1.32m1.32 0h6.61m1.32 0h1.32m3.97 0h1.32m7.94 0h1.32m2.65 0h3.97m1.32 0h2.65m1.32 0h1.32m1.32 0h2.65m2.65 0h1.32m6.61 0h2.65m2.65 0h2.65m1.32 0h5.29M47.05 140.37h1.32m119.06 0h1.32m21.17 0h1.32"/>
<path stroke="#30c0ff" stroke-width="4.44" shape-rendering="crispEdges" d="M66.89 144.81h1.32m1.32 0h1.32m21.17 0h1.32m5.29 0h1.32m14.55 0h1.32M37.79 140.37h2.65m1.32 0h2.65m1.32 0h1.32m3.97 0h2.65m27.78 0h2.65m2.65 0h1.32m1.32 0h1.32m10.58 0h1.32m9.26 0h1.32m1.32 0h2.65m3.97 0h1.32m10.58 0h1.32m3.97 0h1.32m9.26 0h2.65m11.91 0h1.32m7.94 0h1.32m3.97 0h1.32"/>
<path stroke="#0090ff" stroke-width="4.44" shape-rendering="crispEdges" d="M33.82 140.37h1.32m5.29 0h1.32m2.65 0h1.32m2.65 0h1.32m6.61 0h1.32m9.26 0h2.65m6.61 0h1.32m14.55 0h1.32m1.32 0h1.32m2.65 0h1.32m6.61 0h1.32m1.32 0h1.32m2.65 0h1.32m25.13 0h2.65m2.65 0h2.65m5.29 0h1.32m3.97 0h1.32m1.32 0h2.65m10.58 0h1.32m19.84 0h2.65M73.51 135.93h1.32m7.94 0h2.65m1.32 0h1.32m5.29 0h2.65m3.97 0h1.32m11.91 0h1.32m2.65 0h1.32m21.17 0h1.32m11.91 0h2.65m33.07 0h1.32m7.94 0h1.32"/>
<path stroke="#30a8ff" stroke-width="4.44" shape-rendering="crispEdges" d="M33.82 135.93h1.32m1.32 0h1.32m3.97 0h1.32m1.32 0h2.65m2.65 0h1.32m1.32 0h1.32m1.32 0h1.32m1.32 0h1.32m3.97 0h3.97m1.32 0h2.65m10.58 0h1.32m2.65 0h1.32m2.65 0h1.32m10.58 0h1.32m3.97 0h1.32m2.65 0h1.32m2.65 0h2.65m2.65 0h3.97m1.32 0h1.32m3.97 0h1.32m1.32 0h2.65m1.32 0h1.32m2.65 0h3.97m2.65 0h1.32m6.61 0h1.32m2.65 0h1.32m1.32 0h1.32m1.32 0h1.32m2.65 0h1.32m3.97 0h1.32m2.65 0h1.32m2.65 0h3.97m3.97 0h1.32m5.29 0h1.32M41.76 131.48h1.32m6.61 0h1.32m18.52 0h1.32m3.97 0h1.32m3.97 0h1.32m1.32 0h1.32m1.32 0h1.32m3.97 0h1.32m5.29 0h1.32m1.32 0h1.32m2.65 0h1.32m2.65 0h1.32m5.29 0h3.97m10.58 0h2.65m2.65 0h1.32m3.97 0h1.32m27.78 0h2.65"/>
<path stroke="#1878ff" stroke-width="4.44" shape-rendering="crispEdges" d="M32.5 131.48h2.65m7.94 0h2.65m1.32 0h2.65m2.65 0h3.97m15.87 0h1.32m18.52 0h1.32m2.65 0h1.32m3.97 0h1.32m6.61 0h2.65m6.61 0h2.65m11.91 0h1.32m2.65 0h1.32m6.61 0h2.65m5.29 0h1.32m3.97 0h1.32m1.32 0h2.65m2.65 0h1.32m3.97 0h1.32m14.55 0h3.97m2.65 0h1.32m1.32 0h1.32M39.11 127.04h1.32m2.65 0h2.65m2.65 0h1.32m1.32 0h1.32m3.97 0h3.97m2.65 0h1.32m1.32 0h1.32m2.65 0h1.32m10.58 0h1.32m2.65 0h1.32m9.26 0h1.32m3.97 0h1.32m5.29 0h1.32m7.94 0h1.32m1.32 0h1.32m17.2 0h3.97m1.32 0h2.65m5.29 0h2.65m13.23 0h1.32m1.32 0h1.32m3.97 0h5.29m3.97 0h1.32m5.29 0h2.65m1.32 0h1.32"/>
<path stroke="#1890ff" stroke-width="4.44" shape-rendering="crispEdges" d="M36.47 131.48h1.32m1.32 0h1.32m15.87 0h2.65m6.61 0h1.32m21.17 0h1.32m3.97 0h2.65m2.65 0h1.32m6.61 0h1.32m13.23 0h2.65m7.94 0h1.32m7.94 0h1.32m5.29 0h1.32m2.65 0h1.32m1.32 0h1.32m1.32 0h1.32m5.29 0h1.32m10.58 0h1.32m3.97 0h1.32m1.32 0h1.32m1.32 0h1.32m3.97 0h1.32m5.29 0h1.32"/>
<path stroke="#4890ff" stroke-width="4.44" shape-rendering="crispEdges" d="M40.44 127.04h1.32m7.94 0h1.32m1.32 0h1.32m13.23 0h1.32m10.58 0h1.32m18.52 0h1.32m2.65 0h2.65m19.84 0h1.32m7.94 0h1.32m6.61 0h1.32m5.29 0h1.32m6.61 0h1.32m2.65 0h2.65m34.39 0h1.32M43.08 122.6h2.65m14.55 0h1.32m5.29 0h1.32m2.65 0h1.32m1.32 0h1.32m7.94 0h1.32m23.81 0h1.32m7.94 0h1.32m10.58 0h1.32m1.32 0h1.32m9.26 0h2.65m2.65 0h1.32m2.65 0h1.32m5.29 0h1.32m1.32 0h1.32m9.26 0h1.32m14.55 0h1.32"/>
<path stroke="#1860ff" stroke-width="4.44" shape-rendering="crispEdges" d="M70.86 127.04h1.32m91.28 0h1.32m3.97 0h1.32m11.91 0h1.32m13.23 0h1.32M36.47 122.6h2.65m9.26 0h2.65m10.58 0h1.32m2.65 0h1.32m5.29 0h1.32m3.97 0h1.32m5.29 0h1.32m3.97 0h2.65m1.32 0h1.32m2.65 0h1.32m22.49 0h1.32m14.55 0h1.32m23.81 0h1.32m19.84 0h1.32m9.26 0h1.32M47.05 118.16h1.32m1.32 0h1.32m76.72 0h1.32m9.26 0h1.32m17.2 0h1.32"/>
<path stroke="#3048ff" stroke-width="4.44" shape-rendering="crispEdges" d="M33.82 113.71h1.32m6.61 0h1.32m23.81 0h1.32m5.29 0h1.32m1.32 0h1.32m7.94 0h1.32m18.52 0h1.32m15.87 0h1.32m21.17 0h1.32m9.26 0h2.65m13.23 0h1.32m7.94 0h1.32m9.26 0h2.65m1.32 0h1.32M37.79 109.27h1.32m10.58 0h1.32m3.97 0h1.32m3.97 0h1.32m5.29 0h1.32m1.32 0h2.65m5.29 0h1.32m1.32 0h2.65m1.32 0h1.32m2.65 0h1.32m5.29 0h1.32m6.61 0h5.29m22.49 0h5.29m10.58 0h1.32m1.32 0h2.65m2.65 0h1.32m3.97 0h1.32m1.32 0h2.65m2.65 0h1.32m1.32 0h3.97m1.32 0h2.65m6.61 0h1.32M32.5 104.83h1.32m5.29 0h3.97m9.26 0h2.65m6.61 0h1.32m5.29 0h1.32m3.97 0h1.32m9.26 0h1.32m1.32 0h1.32m5.29 0h1.32m5.29 0h1.32m7.94 0h1.32m2.65 0h1.32m1.32 0h1.32m1.32 0h1.32m2.65 0h1.32m5.29 0h1.32m3.97 0h2.65m3.97 0h1.32m10.58 0h2.65m1.32 0h2.65m9.26 0h2.65m2.65 0h1.32m5.29 0h1.32m2.65 0h1.32m6.61 0h2.65M39.11 100.38h1.32m5.29 0h1.32m15.87 0h1.32m6.61 0h1.32m11.91 0h1.32m13.23 0h1.32m6.61 0h1.32m3.97 0h2.65m1.32 0h1.32m2.65 0h1.32m2.65 0h1.32m5.29 0h1.32m3.97 0h2.65m2.65 0h1.32m1.32 0h1.32m3.97 0h1.32m18.52 0h1.32m3.97 0h1.32m6.61 0h1.32m1.32 0h1.32m7.94 0h1.32M68.22 95.94h1.32m7.94 0h1.32m9.26 0h3.97m9.26 0h1.32m17.2 0h1.32m1.32 0h1.32m21.17 0h1.32m13.23 0h1.32m23.81 0h2.65m7.94 0h2.65M41.76 91.5h1.32m27.78 0h1.32m9.26 0h1.32m41.01 0h2.65m70.11 0h1.32"/>
<path stroke="#6060ff" stroke-width="4.44" shape-rendering="crispEdges" d="M43.08 104.83h1.32m1.32 0h1.32m3.97 0h1.32m18.52 0h2.65m1.32 0h1.32m6.61 0h1.32m5.29 0h1.32m3.97 0h1.32m6.61 0h1.32m26.46 0h1.32m10.58 0h1.32m3.97 0h2.65m14.55 0h1.32m5.29 0h1.32m3.97 0h1.32m5.29 0h1.32m10.58 0h1.32M44.41 100.38h1.32m11.91 0h3.97m6.61 0h1.32m13.23 0h1.32m2.65 0h1.32m2.65 0h1.32m2.65 0h1.32m1.32 0h1.32m1.32 0h1.32m7.94 0h1.32m6.61 0h1.32m3.97 0h1.32m14.55 0h2.65m5.29 0h1.32m15.87 0h1.32m25.13 0h1.32M32.5 95.94h1.32m2.65 0h2.65m10.58 0h1.32m1.32 0h1.32m1.32 0h1.32m6.61 0h1.32m10.58 0h1.32m3.97 0h2.65m1.32 0h2.65m17.2 0h1.32m6.61 0h1.32m14.55 0h2.65m7.94 0h1.32m1.32 0h1.32m3.97 0h1.32m3.97 0h1.32m10.58 0h1.32m1.32 0h1.32m7.94 0h3.97m13.23 0h1.32m3.97 0h1.32M36.47 91.5h2.65m1.32 0h1.32m10.58 0h1.32m6.61 0h2.65m21.17 0h1.32m11.91 0h2.65m3.97 0h1.32m3.97 0h1.32m3.97 0h2.65m3.97 0h1.32m11.91 0h1.32m10.58 0h1.32m3.97 0h1.32m10.58 0h2.65m2.65 0h2.65m1.32 0h2.65m2.65 0h1.32m3.97 0h1.32m2.65 0h1.32m2.65 0h1.32M36.47 73.73h5.29m6.61 0h2.65m5.29 0h1.32m10.58 0h2.65m3.97 0h2.65m14.55 0h3.97m5.29 0h2.65m1.32 0h1.32m5.29 0h1.32m10.58 0h1.32m1.32 0h1.32m5.29 0h1.32m14.55 0h1.32m2.65 0h1.32m2.65 0h2.65m9.26 0h2.65m2.65 0h1.32m3.97 0h1.32m6.61 0h2.65m2.65 0h3.97M32.5 69.29h2.65m1.32 0h1.32m2.65 0h1.32m3.97 0h2.65m1.32 0h1.32m1.32 0h1.32m3.97 0h1.32m1.32 0h1.32m6.61 0h2.65m6.61 0h1.32m3.97 0h2.65m2.65 0h1.32m6.61 0h1.32m1.32 0h1.32m1.32 0h1.32m2.65 0h3.97m2.65 0h1.32m14.55 0h2.65m7.94 0h3.97m6.61 0h2.65m1.32 0h2.65m5.29 0h1.32m1.32 0h2.65m1.32 0h1.32m1.32 0h2.65m2.65 0h1.32m3.97 0h2.65m9.26 0h2.65m2.65 0h1.32M39.11 64.84h1.32m5.29 0h1.32m1.32 0h1.32m5.29 0h2.65m3.97 0h1.32m1.32 0h2.65m1.32 0h2.65m1.32 0h2.65m1.32 0h1.32m1.32 0h1.32m2.65 0h1.32m1.32 0h2.65m1.32 0h1.32m6.61 0h3.97m22.49 0h1.32m1.32 0h1.32m1.32 0h1.32m3.97 0h2.65m1.32 0h3.97m9.26 0h2.65m6.61 0h2.65m6.61 0h1.32m1.32 0h6.61m9.26 0h1.32m3.97 0h1.32"/>
<path stroke="#3030ff" stroke-width="4.44" shape-rendering="crispEdges" d="M48.37 104.83h1.32m5.29 0h1.32m93.92 0h1.32m26.46 0h1.32"/>
<path stroke="#7890ff" stroke-width="4.44" shape-rendering="crispEdges" d="M117.16 73.73h1.32M81.44 64.84h1.32m34.39 0h1.32m23.81 0h1.32"/>
<path stroke="#9090ff" stroke-width="4.44" shape-rendering="crispEdges" d="M74.83 64.84h1.32m17.2 0h1.32m26.46 0h1.32m25.13 0h2.65M40.44 60.4h1.32m5.29 0h1.32m14.55 0h1.32M106.58 55.96h3.97m64.82 0h1.32"/>
<path stroke="#6060ff" stroke-width="2.24" shape-rendering="crispEdges" d="M33.82 52.62h2.65m2.65 0h1.32m1.32 0h3.97m3.97 0h2.65m5.29 0h2.65m5.29 0h1.32m6.61 0h2.65m2.65 0h1.32m1.32 0h1.32m5.29 0h1.32m1.32 0h1.32m1.32 0h3.97m5.29 0h1.32m1.32 0h1.32m1.32 0h1.32m2.65 0h1.32m1.32 0h1.32m3.97 0h1.32m1.32 0h2.65m1.32 0h1.32m1.32 0h1.32m11.91 0h1.32m3.97 0h1.32m5.29 0h3.97m1.32 0h1.32m5.29 0h1.32m3.97 0h1.32m3.97 0h1.32m1.32 0h1.32m1.32 0h1.32m3.97 0h1.32m6.61 0h2.65"/>
<path stroke="#a8a8ff" stroke-width="2.24" shape-rendering="crispEdges" d="M40.44 52.62h1.32m13.23 0h1.32m6.61 0h1.32m11.91 0h1.32m9.26 0h1.32m3.97 0h1.32m27.78 0h1.32m5.29 0h1.32m38.36 0h2.65m15.87 0h1.32"/>
<path stroke="#4848ff" stroke-width="2.24" shape-rendering="crispEdges" d="M45.73 52.62h1.32m14.55 0h1.32m17.2 0h1.32m2.65 0h1.32m18.52 0h1.32m25.13 0h1.32m6.61 0h1.32m3.97 0h1.32m5.29 0h1.32m41.01 0h1.32m3.97 0h1.32"/>
<path stroke="#9090ff" stroke-width="2.24" shape-rendering="crispEdges" d="M70.86 52.62h1.32m13.23 0h1.32m10.58 0h1.32m17.2 0h1.32m18.52 0h1.32m7.94 0h1.32m14.55 0h1.32m21.17 0h1.32m3.97 0h3.97"/>
<path d="M31.5 327.5h169M31.5 323.5h169M31.5 318.5h169M31.5 314.5h169M31.5 309.5h169M31.5 305.5h169M31.5 300.5h169M31.5 296.5h169M31.5 291.5h169M31.5 287.5h169M31.5 283.5h169M31.5 278.5h169M31.5 274.5h169M31.5 269.5h169M31.5 265.5h169M31.5 260.5h169M31.5 256.5h169M31.5 251.5h169M31.5 247.5h169M31.5 243.5h169M31.5 238.5h169M31.5 234.5h169M31.5 229.5h169M31.5 225.5h169M31.5 220.5h169M31.5 216.5h169M31.5 211.5h169M31.5 207.5h169M31.5 203.5h169M31.5 198.5h169M31.5 194.5h169M31.5 189.5h169M31.5 185.5h169M31.5 180.5h169M31.5 176.5h169M31.5 171.5h169M31.5 167.5h169M31.5 163.5h169M31.5 158.5h169M31.5 154.5h169M31.5 149.5h169M31.5 145.5h169M31.5 140.5h169M31.5 136.5h169M31.5 131.5h169M31.5 127.5h169M31.5 123.5h169M31.5 118.5h169M31.5 114.5h169M31.5 109.5h169M31.5 105.5h169M31.5 100.5h169M31.5 96.5h169M31.5 91.5h169M31.5 87.5h169M31.5 83.5h169M31.5 78.5h169M31.5 74.5h169M31.5 69.5h169M31.5 65.5h169M31.5 60.5h169M31.5 56.5h169" stroke="#000" stroke-width="1" fill="none"/>
<rect x="32.5" y="51.5" width="168" height="280" fill="none" stroke="#000" stroke-width="1"/>
<path d="M32.5 332v-3.5M32.5 51v3.5M38.5 332v-3.5M38.5 51v3.5M43.5 332v-3.5M43.5 51v3.5M49.5 332v-3.5M49.5 51v3.5M54.5 332v-3.5M54.5 51v3.5M60.5 332v-3.5M60.5 51v3.5M66.5 332v-3.5M66.5 51v3.5M71.5 332v-3.5M71.5 51v3.5M77.5 332v-3.5M77.5 51v3.5M82.5 332v-3.5M82.5 51v3.5M88.5 332v-3.5M88.5 51v3.5M94.5 332v-3.5M94.5 51v3.5M99.5 332v-3.5M99.5 51v3.5M105.5 332v-3.5M105.5 51v3.5M110.5 332v-3.5M110.5 51v3.5M116.5 332v-3.5M116.5 51v3.5M122.5 332v-3.5M122.5 51v3.5M127.5 332v-3.5M127.5 51v3.5M133.5 332v-3.5M133.5 51v3.5M138.5 332v-3.5M138.5 51v3.5M144.5 332v-3.5M144.5 51v3.5M150.5 332v-3.5M150.5 51v3.5M155.5 332v-3.5M155.5 51v3.5M161.5 332v-3.5M161.5 51v3.5M166.5 332v-3.5M166.5 51v3.5M172.5 332v-3.5M172.5 51v3.5M178.5 332v-3.5M178.5 51v3.5M183.5 332v-3.5M183.5 51v3.5M189.5 332v-3.5M189.5 51v3.5M194.5 332v-3.5M194.5 51v3.5M200.5 332v-3.5M200.5 51v3.5M32.5 332v-6.5M32.5 51v6.5M60.5 332v-6.5M60.5 51v6.5M88.5 332v-6.5M88.5 51v6.5M116.5 332v-6.5M116.5 51v6.5M144.5 332v-6.5M144.5 51v6.5M172.5 332v-6.5M172.5 51v6.5M200.5 332v-6.5M200.5 51v6.5" stroke="#000" stroke-width="1" fill="none"/>
<text x="32.5" y="343.8" font-size="8.3" text-anchor="middle" textLength="19.5" lengthAdjust="spacingAndGlyphs" font-weight="bold">–150</text>
<text x="60.5" y="343.8" font-size="8.3" text-anchor="middle" textLength="19.5" lengthAdjust="spacingAndGlyphs" font-weight="bold">–100</text>
<text x="88.5" y="343.8" font-size="8.3" text-anchor="middle" textLength="14.9" lengthAdjust="spacingAndGlyphs" font-weight="bold">–50</text>
<text x="116.5" y="343.8" font-size="8.3" text-anchor="middle" textLength="3.8" lengthAdjust="spacingAndGlyphs" font-weight="bold">0</text>
<text x="144.5" y="343.8" font-size="8.3" text-anchor="middle" textLength="8.4" lengthAdjust="spacingAndGlyphs" font-weight="bold">50</text>
<text x="172.5" y="343.8" font-size="8.3" text-anchor="middle" textLength="13" lengthAdjust="spacingAndGlyphs" font-weight="bold">100</text>
<text x="116.5" y="353" font-size="7.8" text-anchor="middle" textLength="80" lengthAdjust="spacingAndGlyphs" >Radial Velocity (m/s)</text>
<path d="M32 331.5h4M201 331.5h-4M32 319.5h2.5M201 319.5h-2.5M32 307.5h2.5M201 307.5h-2.5M32 296.5h2.5M201 296.5h-2.5M32 284.5h2.5M201 284.5h-2.5M32 272.5h4M201 272.5h-4M32 260.5h2.5M201 260.5h-2.5M32 248.5h2.5M201 248.5h-2.5M32 236.5h2.5M201 236.5h-2.5M32 225.5h2.5M201 225.5h-2.5M32 213.5h4M201 213.5h-4M32 201.5h2.5M201 201.5h-2.5M32 189.5h2.5M201 189.5h-2.5M32 177.5h2.5M201 177.5h-2.5M32 165.5h2.5M201 165.5h-2.5M32 154.5h4M201 154.5h-4M32 142.5h2.5M201 142.5h-2.5M32 130.5h2.5M201 130.5h-2.5M32 118.5h2.5M201 118.5h-2.5M32 106.5h2.5M201 106.5h-2.5M32 94.5h4M201 94.5h-4M32 83.5h2.5M201 83.5h-2.5M32 71.5h2.5M201 71.5h-2.5M32 59.5h2.5M201 59.5h-2.5" stroke="#000" stroke-width="1" fill="none"/>
<text x="29" y="333.1" font-size="8.3" text-anchor="end" textLength="3.8" lengthAdjust="spacingAndGlyphs" font-weight="bold">0</text>
<text x="29" y="276.1" font-size="8.3" text-anchor="end" textLength="13" lengthAdjust="spacingAndGlyphs" font-weight="bold">200</text>
<text x="29" y="217.1" font-size="8.3" text-anchor="end" textLength="13" lengthAdjust="spacingAndGlyphs" font-weight="bold">400</text>
<text x="29" y="158.1" font-size="8.3" text-anchor="end" textLength="13" lengthAdjust="spacingAndGlyphs" font-weight="bold">600</text>
<text x="29" y="98.1" font-size="8.3" text-anchor="end" textLength="13" lengthAdjust="spacingAndGlyphs" font-weight="bold">800</text>
<text transform="translate(9.1 191.8) rotate(-90)" font-size="8.6" text-anchor="middle" textLength="44.5" lengthAdjust="spacingAndGlyphs">Range (km)</text>
<path stroke="#ff0000" stroke-width="2.32" shape-rendering="crispEdges" d="M332.5 330.34h168"/>
<path stroke="#ff0000" stroke-width="4.44" shape-rendering="crispEdges" d="M332.5 326.96h168M332.5 322.51h168M332.5 318.07h168M332.5 313.63h168M332.5 309.19h168M332.5 304.74h168M332.5 300.3h168M332.5 295.86h168M332.5 291.42h168M332.5 238.11h168M332.5 233.66h168M332.5 229.22h168M332.5 224.78h168"/>
<path stroke="#ff3000" stroke-width="4.44" shape-rendering="crispEdges" d="M332.5 286.97h168"/>
<path stroke="#4860ff" stroke-width="4.44" shape-rendering="crispEdges" d="M332.5 282.53h168"/>
<path stroke="#6060ff" stroke-width="4.44" shape-rendering="crispEdges" d="M332.5 278.09h168M332.5 273.65h168M332.5 264.76h168M332.5 260.32h168M332.5 255.88h168M332.5 251.43h168M332.5 100.38h168M332.5 91.5h168M332.5 87.06h168M332.5 78.17h168M332.5 73.73h168M332.5 69.29h168M332.5 64.84h168M332.5 60.4h168"/>
<path stroke="#7878ff" stroke-width="4.44" shape-rendering="crispEdges" d="M332.5 269.2h168M332.5 95.94h168M332.5 82.61h168M332.5 55.96h168"/>
<path stroke="#00d8f0" stroke-width="4.44" shape-rendering="crispEdges" d="M332.5 246.99h168"/>
<path stroke="#fff000" stroke-width="4.44" shape-rendering="crispEdges" d="M332.5 242.55h168"/>
<path stroke="#00d8ff" stroke-width="4.44" shape-rendering="crispEdges" d="M332.5 220.33h168M332.5 215.89h168M332.5 211.45h168M332.5 207.01h168M332.5 198.12h168M332.5 193.68h168M332.5 189.24h168M332.5 184.79h168M332.5 180.35h168M332.5 171.47h168M332.5 167.02h168M332.5 158.14h168M332.5 153.7h168M332.5 149.25h168"/>
<path stroke="#00f0ff" stroke-width="4.44" shape-rendering="crispEdges" d="M332.5 202.56h168M332.5 175.91h168M332.5 162.58h168"/>
<path stroke="#18c0ff" stroke-width="4.44" shape-rendering="crispEdges" d="M332.5 144.81h168"/>
<path stroke="#18a8ff" stroke-width="4.44" shape-rendering="crispEdges" d="M332.5 140.37h168"/>
<path stroke="#1890ff" stroke-width="4.44" shape-rendering="crispEdges" d="M332.5 135.93h168"/>
<path stroke="#3090ff" stroke-width="4.44" shape-rendering="crispEdges" d="M332.5 131.48h168"/>
<path stroke="#3078ff" stroke-width="4.44" shape-rendering="crispEdges" d="M332.5 127.04h168"/>
<path stroke="#3060ff" stroke-width="4.44" shape-rendering="crispEdges" d="M332.5 122.6h168"/>
<path stroke="#6078ff" stroke-width="4.44" shape-rendering="crispEdges" d="M332.5 118.16h168M332.5 113.71h168"/>
<path stroke="#4848ff" stroke-width="4.44" shape-rendering="crispEdges" d="M332.5 109.27h168M332.5 104.83h168"/>
<path stroke="#7878ff" stroke-width="2.24" shape-rendering="crispEdges" d="M332.5 52.62h168"/>
<path stroke="#ff7800" stroke-width="4.44" shape-rendering="crispEdges" d="M332.5 286.97h1.32m1.32 0h3.97m5.29 0h1.32m1.32 0h1.32m2.65 0h1.32m1.32 0h2.65m1.32 0h3.97m7.94 0h1.32m2.65 0h1.32m1.32 0h1.32m1.32 0h1.32m1.32 0h1.32m7.94 0h1.32m5.29 0h1.32m5.29 0h1.32m9.26 0h1.32m2.65 0h1.32m2.65 0h1.32m2.65 0h1.32m3.97 0h1.32m2.65 0h1.32m1.32 0h1.32m1.32 0h2.65m13.23 0h1.32m3.97 0h2.65m3.97 0h1.32m2.65 0h1.32m15.87 0h2.65m3.97 0h1.32M361.6 220.33h1.32m62.17 0h1.32m26.46 0h1.32M348.37 215.89h1.32m15.87 0h1.32m128.31 0h1.32M343.08 211.45h1.32m2.65 0h1.32m25.13 0h1.32m23.81 0h1.32m43.65 0h1.32m17.2 0h1.32m34.39 0h1.32M425.1 207.01h1.32m3.97 0h1.32m19.84 0h1.32"/>
<path stroke="#7878ff" stroke-width="4.44" shape-rendering="crispEdges" d="M332.5 282.53h1.32m35.72 0h3.97m9.26 0h1.32M429.07 278.09h1.32m11.91 0h1.32m6.61 0h1.32m17.2 0h1.32m3.97 0h2.65M333.82 273.65h1.32m14.55 0h1.32m11.91 0h1.32m10.58 0h5.29m2.65 0h3.97m3.97 0h1.32m1.32 0h1.32m3.97 0h1.32m9.26 0h5.29m2.65 0h1.32m9.26 0h1.32m3.97 0h1.32m6.61 0h1.32m3.97 0h3.97m2.65 0h2.65m7.94 0h1.32m6.61 0h2.65m1.32 0h1.32m2.65 0h1.32m3.97 0h3.97m1.32 0h1.32M335.15 264.76h2.65m1.32 0h1.32m7.94 0h2.65m5.29 0h1.32m3.97 0h2.65m9.26 0h2.65m3.97 0h5.29m2.65 0h1.32m1.32 0h1.32m3.97 0h1.32m2.65 0h1.32m5.29 0h1.32m3.97 0h3.97m2.65 0h1.32m2.65 0h1.32m9.26 0h1.32m3.97 0h1.32m6.61 0h1.32m1.32 0h2.65m6.61 0h1.32m3.97 0h1.32m2.65 0h1.32m1.32 0h5.29m1.32 0h1.32m1.32 0h1.32m10.58 0h1.32m1.32 0h6.61M333.82 260.32h1.32m7.94 0h1.32m1.32 0h1.32m3.97 0h2.65m1.32 0h1.32m2.65 0h1.32m5.29 0h1.32m7.94 0h3.97m2.65 0h1.32m1.32 0h1.32m3.97 0h1.32m2.65 0h1.32m2.65 0h5.29m7.94 0h1.32m2.65 0h1.32m1.32 0h1.32m6.61 0h1.32m3.97 0h7.94m9.26 0h2.65m3.97 0h2.65m1.32 0h1.32m1.32 0h1.32m6.61 0h1.32m3.97 0h1.32m1.32 0h1.32m1.32 0h1.32m1.32 0h6.61m2.65 0h1.32M341.76 255.88h2.65m5.29 0h1.32m2.65 0h2.65m5.29 0h1.32m5.29 0h1.32m3.97 0h2.65m1.32 0h1.32m1.32 0h2.65m2.65 0h2.65m1.32 0h1.32m2.65 0h2.65m2.65 0h2.65m2.65 0h3.97m2.65 0h1.32m2.65 0h1.32m6.61 0h2.65m6.61 0h2.65m2.65 0h1.32m2.65 0h2.65m2.65 0h1.32m1.32 0h2.65m5.29 0h1.32m1.32 0h1.32m1.32 0h1.32m3.97 0h2.65m7.94 0h2.65m1.32 0h2.65m2.65 0h1.32m1.32 0h1.32m7.94 0h1.32M333.82 251.43h1.32m5.29 0h1.32m1.32 0h1.32m2.65 0h2.65m3.97 0h7.94m14.55 0h2.65m2.65 0h1.32m1.32 0h1.32m1.32 0h1.32m1.32 0h5.29m3.97 0h3.97m5.29 0h1.32m2.65 0h1.32m7.94 0h1.32m3.97 0h1.32m2.65 0h1.32m3.97 0h2.65m1.32 0h5.29m1.32 0h1.32m1.32 0h1.32m2.65 0h3.97m1.32 0h1.32m2.65 0h1.32m9.26 0h1.32m3.97 0h2.65m1.32 0h2.65m3.97 0h1.32m2.65 0h1.32m2.65 0h1.32M410.55 113.71h1.32m9.26 0h1.32m44.98 0h1.32m26.46 0h1.32M340.44 109.27h1.32m9.26 0h1.32m5.29 0h1.32m1.32 0h2.65m124.35 0h1.32M336.47 104.83h1.32m1.32 0h1.32m3.97 0h1.32m19.84 0h1.32m1.32 0h1.32m2.65 0h1.32m1.32 0h1.32m30.43 0h1.32m6.61 0h1.32m7.94 0h1.32m7.94 0h1.32m7.94 0h1.32m3.97 0h1.32m9.26 0h1.32m11.91 0h1.32m3.97 0h1.32m1.32 0h2.65m3.97 0h1.32m10.58 0h1.32M336.47 100.38h1.32m2.65 0h1.32m9.26 0h1.32m1.32 0h1.32m3.97 0h1.32m2.65 0h2.65m17.2 0h2.65m6.61 0h1.32m3.97 0h3.97m14.55 0h1.32m5.29 0h1.32m1.32 0h1.32m7.94 0h1.32m10.58 0h1.32m3.97 0h2.65m1.32 0h2.65m10.58 0h1.32m3.97 0h1.32m1.32 0h2.65m1.32 0h1.32m11.91 0h1.32m1.32 0h1.32m1.32 0h1.32M335.15 91.5h1.32m9.26 0h3.97m3.97 0h1.32m18.52 0h1.32m1.32 0h1.32m1.32 0h1.32m1.32 0h1.32m2.65 0h2.65m19.84 0h1.32m2.65 0h1.32m9.26 0h3.97m3.97 0h1.32m1.32 0h1.32m15.87 0h2.65m6.61 0h1.32m2.65 0h1.32m17.2 0h1.32m1.32 0h1.32m6.61 0h1.32m1.32 0h1.32M345.73 87.06h1.32m10.58 0h1.32m6.61 0h1.32m6.61 0h1.32m11.91 0h3.97m5.29 0h1.32m13.23 0h1.32m1.32 0h1.32m5.29 0h2.65m1.32 0h2.65m3.97 0h1.32m1.32 0h1.32m5.29 0h2.65m1.32 0h1.32m9.26 0h1.32m1.32 0h1.32m3.97 0h1.32m2.65 0h1.32m18.52 0h1.32M335.15 78.17h1.32m1.32 0h2.65m1.32 0h1.32m1.32 0h2.65m2.65 0h3.97m10.58 0h1.32m1.32 0h1.32m7.94 0h1.32m1.32 0h2.65m18.52 0h1.32m1.32 0h1.32m6.61 0h1.32m5.29 0h3.97m5.29 0h2.65m1.32 0h2.65m17.2 0h2.65m1.32 0h2.65m1.32 0h3.97m1.32 0h1.32m1.32 0h5.29m5.29 0h1.32m2.65 0h2.65m2.65 0h1.32m1.32 0h1.32m7.94 0h2.65M341.76 73.73h1.32m1.32 0h1.32m2.65 0h1.32m1.32 0h1.32m1.32 0h5.29m3.97 0h1.32m11.91 0h3.97m2.65 0h1.32m3.97 0h3.97m10.58 0h1.32m3.97 0h3.97m2.65 0h1.32m6.61 0h2.65m3.97 0h5.29m2.65 0h1.32m10.58 0h1.32m1.32 0h1.32m1.32 0h3.97m2.65 0h1.32m30.43 0h2.65m3.97 0h1.32M336.47 69.29h1.32m10.58 0h1.32m10.58 0h1.32m1.32 0h1.32m3.97 0h2.65m2.65 0h2.65m3.97 0h2.65m3.97 0h1.32m9.26 0h2.65m5.29 0h3.97m9.26 0h1.32m1.32 0h1.32m1.32 0h1.32m6.61 0h1.32m5.29 0h2.65m3.97 0h6.61m1.32 0h1.32m10.58 0h1.32m7.94 0h2.65m1.32 0h1.32m7.94 0h1.32m2.65 0h2.65m1.32 0h3.97M340.44 64.84h1.32m5.29 0h1.32m6.61 0h2.65m2.65 0h1.32m6.61 0h1.32m1.32 0h1.32m10.58 0h1.32m1.32 0h1.32m5.29 0h2.65m5.29 0h2.65m13.23 0h2.65m2.65 0h1.32m1.32 0h1.32m2.65 0h1.32m1.32 0h1.32m3.97 0h1.32m2.65 0h2.65m2.65 0h1.32m1.32 0h1.32m7.94 0h2.65m7.94 0h5.29m2.65 0h3.97m1.32 0h1.32m1.32 0h1.32m10.58 0h1.32M336.47 60.4h1.32m6.61 0h2.65m3.97 0h1.32m1.32 0h1.32m7.94 0h1.32m11.91 0h1.32m1.32 0h9.26m2.65 0h2.65m5.29 0h1.32m3.97 0h1.32m2.65 0h1.32m1.32 0h2.65m1.32 0h1.32m1.32 0h1.32m2.65 0h6.61m1.32 0h2.65m3.97 0h2.65m2.65 0h1.32m1.32 0h2.65m2.65 0h1.32m9.26 0h1.32m1.32 0h1.32m5.29 0h1.32m1.32 0h2.65m2.65 0h1.32m1.32 0h1.32m5.29 0h1.32m2.65 0h1.32"/>
<path stroke="#6060ff" stroke-width="4.44" shape-rendering="crispEdges" d="M335.15 282.53h1.32m3.97 0h1.32m6.61 0h2.65m11.91 0h1.32m3.97 0h1.32m10.58 0h1.32m43.65 0h1.32m1.32 0h2.65m2.65 0h1.32m1.32 0h1.32m1.32 0h1.32m2.65 0h1.32m3.97 0h1.32m11.91 0h2.65m1.32 0h1.32m1.32 0h3.97m3.97 0h1.32m1.32 0h1.32m3.97 0h1.32m3.97 0h2.65m1.32 0h1.32M335.15 269.2h2.65m2.65 0h1.32m2.65 0h3.97m5.29 0h2.65m15.87 0h2.65m3.97 0h1.32m1.32 0h1.32m1.32 0h1.32m1.32 0h1.32m1.32 0h2.65m1.32 0h1.32m1.32 0h1.32m5.29 0h2.65m1.32 0h1.32m1.32 0h1.32m5.29 0h2.65m2.65 0h1.32m1.32 0h1.32m1.32 0h1.32m3.97 0h1.32m3.97 0h1.32m3.97 0h1.32m2.65 0h1.32m1.32 0h3.97m2.65 0h2.65m1.32 0h1.32m7.94 0h1.32m1.32 0h2.65m1.32 0h1.32m2.65 0h2.65m6.61 0h1.32m1.32 0h1.32M351.02 118.16h2.65m2.65 0h1.32m6.61 0h1.32m13.23 0h1.32m14.55 0h1.32m3.97 0h1.32m5.29 0h1.32m15.87 0h1.32m3.97 0h1.32m18.52 0h2.65m1.32 0h2.65m5.29 0h1.32m1.32 0h1.32m1.32 0h1.32m6.61 0h1.32m1.32 0h1.32m7.94 0h1.32m1.32 0h1.32m5.29 0h2.65M332.5 113.71h1.32m2.65 0h2.65m26.46 0h1.32m7.94 0h1.32m1.32 0h1.32m7.94 0h2.65m14.55 0h1.32m21.17 0h1.32m2.65 0h1.32m10.58 0h2.65m5.29 0h1.32m3.97 0h2.65m13.23 0h2.65m1.32 0h1.32m9.26 0h1.32M333.82 109.27h1.32m1.32 0h2.65m14.55 0h2.65m10.58 0h1.32m3.97 0h2.65m2.65 0h1.32m13.23 0h1.32m2.65 0h1.32m5.29 0h2.65m15.87 0h1.32m9.26 0h1.32m6.61 0h1.32m5.29 0h1.32m5.29 0h1.32m6.61 0h1.32m30.43 0h1.32M340.44 104.83h1.32m6.61 0h1.32m2.65 0h1.32m3.97 0h3.97m17.2 0h1.32m2.65 0h1.32m7.94 0h1.32m5.29 0h1.32m15.87 0h2.65m2.65 0h2.65m1.32 0h1.32m5.29 0h1.32m10.58 0h1.32m11.91 0h1.32m10.58 0h1.32m5.29 0h1.32M337.79 95.94h1.32m1.32 0h1.32m1.32 0h1.32m5.29 0h2.65m2.65 0h2.65m3.97 0h1.32m6.61 0h1.32m6.61 0h2.65m5.29 0h1.32m10.58 0h1.32m3.97 0h1.32m5.29 0h2.65m17.2 0h1.32m7.94 0h1.32m1.32 0h1.32m3.97 0h1.32m10.58 0h1.32m5.29 0h1.32m6.61 0h1.32m7.94 0h2.65m6.61 0h1.32m5.29 0h1.32M336.47 82.61h1.32m7.94 0h1.32m1.32 0h1.32m6.61 0h5.29m9.26 0h1.32m1.32 0h1.32m1.32 0h1.32m9.26 0h1.32m2.65 0h1.32m1.32 0h1.32m2.65 0h1.32m10.58 0h1.32m1.32 0h2.65m1.32 0h1.32m1.32 0h2.65m2.65 0h3.97m5.29 0h1.32m2.65 0h1.32m1.32 0h5.29m3.97 0h1.32m11.91 0h1.32m11.91 0h1.32m3.97 0h1.32m1.32 0h1.32m5.29 0h1.32m5.29 0h2.65M333.82 55.96h1.32m1.32 0h1.32m3.97 0h1.32m3.97 0h3.97m7.94 0h1.32m5.29 0h2.65m1.32 0h1.32m1.32 0h1.32m1.32 0h1.32m3.97 0h2.65m5.29 0h2.65m7.94 0h1.32m3.97 0h1.32m5.29 0h2.65m6.61 0h1.32m2.65 0h2.65m5.29 0h1.32m1.32 0h1.32m2.65 0h1.32m2.65 0h3.97m1.32 0h1.32m2.65 0h1.32m1.32 0h2.65m5.29 0h1.32m2.65 0h1.32m1.32 0h1.32m7.94 0h1.32m2.65 0h2.65m1.32 0h5.29m3.97 0h1.32m1.32 0h1.32"/>
<path stroke="#6078ff" stroke-width="4.44" shape-rendering="crispEdges" d="M343.08 282.53h2.65m11.91 0h1.32m1.32 0h1.32m13.23 0h3.97m6.61 0h1.32m44.98 0h1.32m1.32 0h1.32m7.94 0h1.32m5.29 0h1.32m1.32 0h1.32m11.91 0h1.32m6.61 0h1.32m9.26 0h1.32m11.91 0h1.32M333.82 278.09h1.32m2.65 0h1.32m1.32 0h1.32m2.65 0h2.65m5.29 0h2.65m5.29 0h1.32m21.17 0h1.32m48.94 0h1.32m2.65 0h1.32m1.32 0h2.65m1.32 0h1.32m2.65 0h1.32m3.97 0h1.32m7.94 0h1.32m3.97 0h1.32m7.94 0h2.65m3.97 0h1.32m2.65 0h1.32m2.65 0h1.32m2.65 0h1.32M341.76 109.27h1.32m9.26 0h1.32m5.29 0h1.32m3.97 0h2.65m1.32 0h1.32m1.32 0h1.32m13.23 0h1.32m2.65 0h1.32m2.65 0h1.32m3.97 0h1.32m1.32 0h1.32m13.23 0h1.32m6.61 0h1.32m2.65 0h1.32m6.61 0h1.32m5.29 0h1.32m5.29 0h1.32m9.26 0h1.32m5.29 0h1.32m1.32 0h1.32m6.61 0h1.32m3.97 0h1.32m7.94 0h1.32M335.15 104.83h1.32m6.61 0h1.32m6.61 0h1.32m1.32 0h1.32m44.98 0h1.32m2.65 0h2.65m27.78 0h1.32m1.32 0h3.97m7.94 0h1.32m1.32 0h2.65m34.39 0h1.32M393.35 100.38h1.32m11.91 0h1.32m19.84 0h3.97m30.43 0h1.32m1.32 0h1.32m5.29 0h1.32M332.5 95.94h2.65m29.1 0h1.32m2.65 0h1.32m6.61 0h1.32m2.65 0h1.32m25.13 0h2.65m7.94 0h1.32m11.91 0h2.65m1.32 0h1.32m1.32 0h1.32m21.17 0h1.32m7.94 0h2.65m2.65 0h1.32m1.32 0h1.32m1.32 0h1.32m6.61 0h1.32M343.08 91.5h1.32m21.17 0h2.65m2.65 0h1.32m15.87 0h1.32m23.81 0h2.65m2.65 0h1.32m6.61 0h2.65m14.55 0h1.32m9.26 0h1.32m1.32 0h1.32m18.52 0h2.65m14.55 0h1.32M348.37 87.06h1.32m1.32 0h2.65m2.65 0h1.32m2.65 0h2.65m17.2 0h1.32m1.32 0h1.32m6.61 0h1.32m25.13 0h1.32m15.87 0h1.32m1.32 0h1.32m31.75 0h1.32m22.49 0h2.65M349.7 82.61h1.32m87.31 0h1.32m13.23 0h1.32M448.91 78.17h1.32M401.29 73.73h1.32m14.55 0h1.32m2.65 0h1.32m30.43 0h1.32M372.19 69.29h1.32m9.26 0h1.32M493.89 55.96h1.32"/>
<path stroke="#4848ff" stroke-width="4.44" shape-rendering="crispEdges" d="M361.6 282.53h1.32m18.52 0h1.32m41.01 0h1.32m5.29 0h1.32m5.29 0h1.32m2.65 0h1.32m15.87 0h1.32m3.97 0h1.32m11.91 0h1.32m2.65 0h1.32m3.97 0h2.65m7.94 0h1.32m1.32 0h1.32M339.11 278.09h1.32m10.58 0h1.32m3.97 0h2.65m9.26 0h2.65m1.32 0h1.32m1.32 0h1.32m1.32 0h1.32m6.61 0h1.32m35.72 0h1.32m21.17 0h1.32m9.26 0h1.32m25.13 0h1.32M332.5 273.65h1.32m6.61 0h1.32m1.32 0h2.65m6.61 0h1.32m6.61 0h2.65m5.29 0h2.65m23.81 0h1.32m1.32 0h1.32m2.65 0h1.32m5.29 0h1.32m10.58 0h1.32m2.65 0h2.65m7.94 0h2.65m7.94 0h1.32m9.26 0h1.32m1.32 0h1.32m6.61 0h2.65m1.32 0h1.32m21.17 0h2.65m3.97 0h1.32M332.5 269.2h1.32m3.97 0h1.32m3.97 0h1.32m3.97 0h1.32m14.55 0h2.65m1.32 0h2.65m9.26 0h1.32m6.61 0h1.32m2.65 0h1.32m1.32 0h1.32m2.65 0h1.32m19.84 0h1.32m14.55 0h1.32m21.17 0h1.32m2.65 0h1.32m2.65 0h1.32m2.65 0h1.32m2.65 0h1.32m1.32 0h2.65m3.97 0h1.32m2.65 0h1.32m1.32 0h1.32m3.97 0h1.32m1.32 0h1.32M333.82 264.76h1.32m2.65 0h1.32m30.43 0h1.32m6.61 0h1.32m6.61 0h2.65m1.32 0h1.32m11.91 0h1.32m5.29 0h2.65m9.26 0h1.32m2.65 0h1.32m2.65 0h1.32m3.97 0h2.65m3.97 0h1.32m5.29 0h1.32m5.29 0h1.32m3.97 0h1.32m5.29 0h1.32m1.32 0h1.32m10.58 0h1.32m2.65 0h2.65M332.5 260.32h1.32m13.23 0h1.32m7.94 0h2.65m1.32 0h2.65m1.32 0h1.32m1.32 0h5.29m7.94 0h1.32m37.04 0h1.32m18.52 0h1.32m3.97 0h3.97m11.91 0h1.32m5.29 0h1.32m2.65 0h1.32m9.26 0h1.32M333.82 255.88h1.32m1.32 0h1.32m1.32 0h2.65m23.81 0h1.32m2.65 0h1.32m1.32 0h1.32m10.58 0h1.32m17.2 0h1.32m3.97 0h2.65m5.29 0h1.32m2.65 0h1.32m9.26 0h1.32m7.94 0h1.32m2.65 0h1.32m6.61 0h1.32m1.32 0h2.65m3.97 0h1.32m1.32 0h1.32m6.61 0h1.32m21.17 0h1.32M345.73 251.43h1.32m14.55 0h1.32m19.84 0h1.32m10.58 0h1.32m9.26 0h1.32m7.94 0h1.32m1.32 0h1.32m3.97 0h1.32m42.33 0h2.65m2.65 0h1.32m7.94 0h1.32m11.91 0h1.32M332.5 118.16h1.32m3.97 0h1.32m2.65 0h1.32m3.97 0h1.32m13.23 0h2.65m17.2 0h2.65m17.2 0h1.32m18.52 0h1.32m17.2 0h1.32m3.97 0h1.32m5.29 0h1.32m22.49 0h1.32m2.65 0h1.32m6.61 0h1.32m2.65 0h1.32m6.61 0h1.32M344.41 113.71h1.32m5.29 0h1.32m3.97 0h1.32m2.65 0h2.65m3.97 0h1.32m1.32 0h1.32m11.91 0h1.32m7.94 0h1.32m1.32 0h1.32m1.32 0h1.32m1.32 0h1.32m5.29 0h1.32m11.91 0h1.32m2.65 0h2.65m5.29 0h1.32m11.91 0h1.32m2.65 0h1.32m1.32 0h1.32m1.32 0h1.32m3.97 0h1.32m1.32 0h1.32m14.55 0h1.32m1.32 0h1.32m11.91 0h1.32M339.11 100.38h1.32m5.29 0h2.65m3.97 0h1.32m1.32 0h1.32m1.32 0h1.32m7.94 0h2.65m2.65 0h1.32m3.97 0h2.65m14.55 0h1.32m14.55 0h1.32m2.65 0h1.32m1.32 0h2.65m13.23 0h1.32m3.97 0h1.32m1.32 0h2.65m1.32 0h1.32m14.55 0h1.32m5.29 0h1.32m6.61 0h1.32m2.65 0h1.32m5.29 0h5.29m1.32 0h1.32m1.32 0h1.32M336.47 95.94h1.32m3.97 0h1.32m1.32 0h1.32m1.32 0h1.32m14.55 0h1.32m7.94 0h1.32m10.58 0h1.32m1.32 0h1.32m1.32 0h1.32m1.32 0h1.32m7.94 0h1.32m1.32 0h1.32m6.61 0h5.29m5.29 0h1.32m9.26 0h1.32m7.94 0h3.97m14.55 0h1.32m3.97 0h1.32m3.97 0h1.32m11.91 0h2.65m1.32 0h2.65m7.94 0h1.32M337.79 91.5h1.32m5.29 0h1.32m6.61 0h1.32m1.32 0h2.65m10.58 0h2.65m6.61 0h1.32m1.32 0h1.32m1.32 0h1.32m13.23 0h2.65m3.97 0h1.32m1.32 0h1.32m1.32 0h1.32m5.29 0h1.32m3.97 0h1.32m15.87 0h1.32m6.61 0h1.32m5.29 0h1.32m7.94 0h1.32m2.65 0h1.32m5.29 0h1.32m9.26 0h1.32m5.29 0h1.32m5.29 0h2.65M332.5 87.06h1.32m13.23 0h1.32m5.29 0h2.65m2.65 0h1.32m2.65 0h1.32m2.65 0h1.32m46.3 0h2.65m14.55 0h1.32m13.23 0h1.32m2.65 0h3.97m3.97 0h2.65m15.87 0h1.32m3.97 0h1.32m5.29 0h1.32m2.65 0h1.32m2.65 0h3.97M333.82 82.61h2.65m6.61 0h1.32m7.94 0h1.32m1.32 0h1.32m7.94 0h3.97m1.32 0h1.32m6.61 0h1.32m5.29 0h1.32m2.65 0h1.32m6.61 0h1.32m2.65 0h1.32m1.32 0h3.97m1.32 0h1.32m11.91 0h1.32m23.81 0h1.32m13.23 0h1.32m1.32 0h1.32m1.32 0h2.65m3.97 0h1.32m5.29 0h1.32m3.97 0h1.32m6.61 0h1.32m1.32 0h1.32M336.47 78.17h1.32m9.26 0h1.32m5.29 0h1.32m1.32 0h1.32m2.65 0h2.65m11.91 0h1.32m6.61 0h1.32m11.91 0h1.32m6.61 0h1.32m9.26 0h1.32m6.61 0h2.65m37.04 0h1.32m7.94 0h1.32m1.32 0h2.65m2.65 0h1.32m2.65 0h1.32m6.61 0h1.32m2.65 0h2.65M332.5 73.73h1.32m9.26 0h1.32m21.17 0h1.32m6.61 0h1.32m10.58 0h2.65m3.97 0h1.32m3.97 0h1.32m7.94 0h1.32m11.91 0h1.32m5.29 0h2.65m21.17 0h1.32m7.94 0h1.32m1.32 0h1.32m1.32 0h1.32m2.65 0h1.32m2.65 0h1.32m13.23 0h1.32m1.32 0h1.32M339.11 69.29h1.32m2.65 0h1.32m2.65 0h1.32m1.32 0h2.65m3.97 0h2.65m17.2 0h1.32m1.32 0h1.32m11.91 0h2.65m5.29 0h1.32m41.01 0h1.32m13.23 0h1.32m2.65 0h1.32m3.97 0h5.29m5.29 0h1.32m7.94 0h1.32m6.61 0h1.32M348.37 64.84h1.32m13.23 0h1.32m1.32 0h2.65m1.32 0h1.32m7.94 0h2.65m5.29 0h1.32m7.94 0h1.32m1.32 0h1.32m5.29 0h1.32m18.52 0h1.32m23.81 0h1.32m21.17 0h1.32m11.91 0h1.32m2.65 0h1.32M347.05 60.4h1.32m13.23 0h1.32m6.61 0h1.32m2.65 0h1.32m18.52 0h2.65m1.32 0h1.32m14.55 0h1.32m18.52 0h1.32m21.17 0h1.32m1.32 0h1.32m6.61 0h1.32m6.61 0h2.65m17.2 0h3.97m1.32 0h1.32M351.02 55.96h1.32m3.97 0h1.32m6.61 0h1.32m43.65 0h1.32m2.65 0h2.65m2.65 0h1.32m29.1 0h1.32m13.23 0h1.32m2.65 0h1.32m1.32 0h1.32"/>
<path stroke="#a8a8ff" stroke-width="4.44" shape-rendering="crispEdges" d="M365.57 282.53h1.32m55.56 0h1.32m33.07 0h1.32m1.32 0h1.32m21.17 0h1.32M335.15 278.09h1.32m30.43 0h1.32m78.05 0h1.32m18.52 0h1.32M337.79 273.65h1.32m18.52 0h1.32m6.61 0h1.32m5.29 0h1.32m18.52 0h1.32m2.65 0h1.32m9.26 0h1.32m14.55 0h1.32m6.61 0h1.32m11.91 0h1.32m5.29 0h1.32m44.98 0h1.32M333.82 269.2h1.32m26.46 0h1.32m13.23 0h2.65m39.69 0h1.32m25.13 0h1.32M340.44 264.76h1.32m5.29 0h1.32m3.97 0h1.32m14.55 0h1.32m6.61 0h1.32m19.84 0h1.32m9.26 0h1.32m10.58 0h1.32m5.29 0h2.65m22.49 0h1.32m2.65 0h1.32m3.97 0h1.32m15.87 0h1.32m3.97 0h1.32M341.76 260.32h1.32m5.29 0h1.32m3.97 0h1.32m39.69 0h1.32m13.23 0h1.32m13.23 0h1.32m3.97 0h1.32m19.84 0h1.32m23.81 0h1.32M337.79 255.88h1.32m6.61 0h1.32m17.2 0h1.32m1.32 0h1.32m23.81 0h1.32m2.65 0h1.32m14.55 0h1.32m13.23 0h1.32m7.94 0h1.32m1.32 0h1.32m46.3 0h1.32m1.32 0h1.32M362.93 251.43h1.32m10.58 0h1.32m9.26 0h1.32m22.49 0h1.32m5.29 0h1.32M447.59 118.16h1.32M440.97 113.71h1.32M397.32 109.27h1.32m14.55 0h1.32m42.33 0h1.32M446.26 104.83h1.32M333.82 100.38h1.32m2.65 0h1.32m17.2 0h1.32m17.2 0h1.32m9.26 0h1.32m111.12 0h1.32M370.86 95.94h1.32m10.58 0h1.32m9.26 0h1.32m10.58 0h1.32M339.11 91.5h1.32m10.58 0h1.32m5.29 0h1.32m34.39 0h1.32m39.69 0h1.32m6.61 0h1.32m23.81 0h1.32M341.76 87.06h1.32m1.32 0h1.32m26.46 0h1.32m21.17 0h1.32m11.91 0h1.32m13.23 0h1.32m14.55 0h1.32m21.17 0h1.32M339.11 82.61h1.32m58.2 0h1.32m10.58 0h1.32m23.81 0h1.32m41.01 0h1.32m14.55 0h1.32M373.51 78.17h1.32m2.65 0h1.32m5.29 0h1.32m52.91 0h1.32m3.97 0h1.32m11.91 0h1.32m14.55 0h1.32m13.23 0h1.32m5.29 0h1.32M336.47 73.73h1.32m9.26 0h1.32m1.32 0h1.32m1.32 0h1.32m15.87 0h1.32m99.21 0h1.32m23.81 0h2.65M364.25 69.29h1.32m23.81 0h2.65m23.81 0h1.32m13.23 0h1.32m1.32 0h1.32m2.65 0h1.32m13.23 0h1.32m2.65 0h1.32m6.61 0h1.32m6.61 0h1.32m10.58 0h1.32M409.22 64.84h2.65m10.58 0h1.32m19.84 0h1.32M366.89 60.4h1.32m6.61 0h1.32m19.84 0h1.32m3.97 0h1.32m43.65 0h1.32m15.87 0h1.32m5.29 0h1.32M337.79 55.96h1.32m5.29 0h1.32m9.26 0h1.32m1.32 0h1.32m14.55 0h1.32m9.26 0h1.32m19.84 0h1.32m1.32 0h1.32m6.61 0h1.32m3.97 0h1.32m3.97 0h1.32m7.94 0h1.32m35.72 0h1.32m17.2 0h1.32"/>
<path stroke="#4878ff" stroke-width="4.44" shape-rendering="crispEdges" d="M386.74 282.53h1.32M386.74 278.09h1.32M357.63 144.81h1.32m27.78 0h1.32m23.81 0h2.65m2.65 0h1.32m1.32 0h1.32m13.23 0h1.32m1.32 0h1.32m6.61 0h1.32m6.61 0h1.32m35.72 0h1.32M340.44 140.37h2.65m44.98 0h1.32m63.5 0h1.32m39.69 0h1.32M333.82 135.93h1.32m3.97 0h1.32m33.07 0h1.32m31.75 0h1.32m70.11 0h1.32m9.26 0h1.32M332.5 131.48h1.32m2.65 0h1.32m43.65 0h1.32m1.32 0h1.32m30.43 0h1.32m7.94 0h1.32m51.59 0h1.32m11.91 0h1.32M349.7 127.04h1.32m5.29 0h2.65m2.65 0h1.32m31.75 0h1.32m3.97 0h1.32m10.58 0h1.32m43.65 0h1.32m25.13 0h1.32M333.82 122.6h1.32m5.29 0h1.32m3.97 0h1.32m1.32 0h2.65m1.32 0h2.65m2.65 0h1.32m1.32 0h1.32m3.97 0h2.65m1.32 0h1.32m2.65 0h3.97m2.65 0h1.32m1.32 0h5.29m1.32 0h2.65m2.65 0h2.65m2.65 0h5.29m1.32 0h1.32m2.65 0h5.29m1.32 0h1.32m1.32 0h1.32m3.97 0h1.32m1.32 0h1.32m3.97 0h1.32m1.32 0h2.65m3.97 0h7.94m5.29 0h1.32m2.65 0h1.32m1.32 0h1.32m6.61 0h1.32m1.32 0h1.32m5.29 0h1.32m1.32 0h1.32m6.61 0h1.32m1.32 0h1.32m1.32 0h1.32"/>
<path stroke="#3090ff" stroke-width="4.44" shape-rendering="crispEdges" d="M388.06 282.53h2.65m29.1 0h1.32M388.06 278.09h2.65m29.1 0h1.32M335.15 220.33h1.32m5.29 0h1.32m5.29 0h3.97m3.97 0h1.32m1.32 0h1.32m3.97 0h1.32m7.94 0h1.32m1.32 0h1.32m1.32 0h3.97m1.32 0h1.32m1.32 0h1.32m5.29 0h2.65m34.39 0h1.32m1.32 0h1.32m11.91 0h1.32m3.97 0h1.32m2.65 0h1.32m5.29 0h1.32m2.65 0h1.32m2.65 0h2.65m2.65 0h2.65m3.97 0h1.32m2.65 0h1.32m9.26 0h1.32M332.5 215.89h1.32m10.58 0h3.97m1.32 0h1.32m1.32 0h1.32m3.97 0h1.32m3.97 0h1.32m2.65 0h3.97m5.29 0h1.32m2.65 0h1.32m3.97 0h1.32m3.97 0h2.65m1.32 0h1.32m25.13 0h1.32m2.65 0h6.61m2.65 0h1.32m2.65 0h2.65m6.61 0h2.65m1.32 0h2.65m2.65 0h2.65m6.61 0h1.32m3.97 0h1.32m2.65 0h1.32m1.32 0h1.32m1.32 0h2.65m6.61 0h2.65m5.29 0h1.32M332.5 211.45h1.32m1.32 0h1.32m2.65 0h1.32m1.32 0h1.32m5.29 0h1.32m2.65 0h1.32m3.97 0h1.32m3.97 0h1.32m2.65 0h1.32m6.61 0h1.32m6.61 0h1.32m2.65 0h2.65m1.32 0h1.32m13.23 0h1.32m3.97 0h2.65m1.32 0h1.32m1.32 0h1.32m2.65 0h1.32m5.29 0h1.32m3.97 0h6.61m2.65 0h1.32m6.61 0h1.32m6.61 0h3.97m3.97 0h1.32m1.32 0h1.32m5.29 0h1.32m3.97 0h1.32m7.94 0h1.32m3.97 0h1.32m2.65 0h1.32M335.15 207.01h1.32m3.97 0h2.65m3.97 0h1.32m1.32 0h5.29m5.29 0h1.32m2.65 0h2.65m3.97 0h1.32m11.91 0h1.32m7.94 0h3.97m5.29 0h1.32m1.32 0h1.32m1.32 0h1.32m3.97 0h1.32m1.32 0h1.32m5.29 0h1.32m3.97 0h1.32m2.65 0h5.29m1.32 0h1.32m2.65 0h2.65m3.97 0h1.32m3.97 0h1.32m1.32 0h1.32m3.97 0h1.32m5.29 0h1.32m2.65 0h1.32m1.32 0h5.29m1.32 0h2.65m1.32 0h3.97m1.32 0h1.32m2.65 0h1.32m1.32 0h2.65M347.05 202.56h1.32m17.2 0h1.32m7.94 0h1.32m33.07 0h1.32m22.49 0h1.32m29.1 0h1.32m1.32 0h1.32m2.65 0h1.32M333.82 198.12h1.32m13.23 0h1.32m52.91 0h1.32m26.46 0h1.32m35.72 0h1.32m5.29 0h1.32M340.44 193.68h1.32m7.94 0h1.32m22.49 0h1.32m64.82 0h1.32m2.65 0h1.32m18.52 0h1.32m1.32 0h1.32m1.32 0h1.32m15.87 0h2.65M332.5 189.24h2.65m126.99 0h1.32m6.61 0h2.65m5.29 0h1.32m18.52 0h1.32M335.15 184.79h1.32m5.29 0h1.32m1.32 0h1.32m27.78 0h1.32m63.5 0h2.65m15.87 0h1.32m1.32 0h2.65m17.2 0h1.32m9.26 0h1.32M345.73 180.35h1.32m22.49 0h1.32m1.32 0h1.32m74.08 0h1.32m11.91 0h1.32m21.17 0h1.32m14.55 0h1.32M358.96 175.91h1.32m60.85 0h1.32m6.61 0h1.32m31.75 0h1.32m1.32 0h1.32m5.29 0h1.32M333.82 171.47h1.32m1.32 0h1.32m18.52 0h1.32m11.91 0h1.32m7.94 0h1.32m17.2 0h1.32m1.32 0h1.32m14.55 0h1.32m33.07 0h1.32m17.2 0h1.32m18.52 0h1.32M337.79 167.02h1.32m21.17 0h1.32m7.94 0h1.32m5.29 0h1.32m30.43 0h1.32m33.07 0h1.32m3.97 0h1.32m6.61 0h1.32m10.58 0h1.32m25.13 0h2.65M336.47 162.58h1.32m3.97 0h1.32m2.65 0h2.65m5.29 0h1.32m17.2 0h1.32m6.61 0h1.32m30.43 0h1.32m23.81 0h1.32m19.84 0h1.32m1.32 0h1.32m3.97 0h1.32m10.58 0h1.32m3.97 0h1.32m3.97 0h1.32M332.5 158.14h1.32m6.61 0h1.32m33.07 0h1.32m17.2 0h1.32m13.23 0h1.32m18.52 0h1.32m31.75 0h1.32m1.32 0h1.32m10.58 0h1.32m2.65 0h1.32M332.5 153.7h1.32m9.26 0h1.32m66.14 0h1.32m3.97 0h2.65m1.32 0h1.32m21.17 0h1.32m2.65 0h1.32m25.13 0h1.32m15.87 0h1.32M373.51 149.25h2.65m1.32 0h1.32m56.88 0h1.32M340.44 135.93h1.32"/>
<path stroke="#18a8ff" stroke-width="4.44" shape-rendering="crispEdges" d="M390.7 282.53h1.32m25.13 0h1.32M390.7 278.09h1.32m25.13 0h1.32M347.05 144.81h1.32"/>
<path stroke="#18c0ff" stroke-width="4.44" shape-rendering="crispEdges" d="M392.03 282.53h1.32m22.49 0h1.32M392.03 278.09h1.32m22.49 0h1.32M343.08 202.56h1.32m1.32 0h1.32m1.32 0h1.32m3.97 0h1.32m3.97 0h3.97m5.29 0h1.32m13.23 0h1.32m1.32 0h1.32m15.87 0h1.32m30.43 0h3.97m2.65 0h2.65m5.29 0h1.32m2.65 0h1.32m13.23 0h1.32m7.94 0h1.32m5.29 0h2.65m2.65 0h1.32m2.65 0h1.32m2.65 0h1.32M332.5 198.12h1.32m1.32 0h1.32m3.97 0h2.65m10.58 0h1.32m1.32 0h3.97m1.32 0h2.65m1.32 0h1.32m3.97 0h2.65m2.65 0h1.32m10.58 0h1.32m22.49 0h2.65m3.97 0h1.32m9.26 0h1.32m10.58 0h1.32m2.65 0h1.32m1.32 0h2.65m1.32 0h1.32m1.32 0h1.32m2.65 0h1.32m2.65 0h1.32m9.26 0h1.32m3.97 0h1.32m1.32 0h2.65m3.97 0h1.32M333.82 193.68h1.32m1.32 0h2.65m2.65 0h2.65m2.65 0h2.65m1.32 0h1.32m15.87 0h1.32m1.32 0h2.65m2.65 0h1.32m42.33 0h2.65m6.61 0h1.32m2.65 0h1.32m1.32 0h1.32m9.26 0h1.32m3.97 0h1.32m2.65 0h1.32m1.32 0h1.32m2.65 0h1.32m17.2 0h1.32m2.65 0h1.32m5.29 0h1.32m5.29 0h1.32M341.76 189.24h1.32m6.61 0h1.32m5.29 0h1.32m5.29 0h3.97m2.65 0h1.32m6.61 0h1.32m3.97 0h1.32m22.49 0h1.32m2.65 0h2.65m1.32 0h1.32m6.61 0h1.32m10.58 0h1.32m13.23 0h1.32m1.32 0h1.32m5.29 0h3.97m5.29 0h2.65m5.29 0h1.32m3.97 0h1.32m2.65 0h2.65m6.61 0h1.32m1.32 0h1.32m1.32 0h1.32M351.02 184.79h1.32m11.91 0h1.32m1.32 0h1.32m6.61 0h1.32m3.97 0h1.32m1.32 0h2.65m19.84 0h1.32m2.65 0h1.32m3.97 0h1.32m6.61 0h1.32m5.29 0h1.32m14.55 0h1.32m1.32 0h1.32m3.97 0h1.32m15.87 0h1.32m1.32 0h1.32m1.32 0h1.32m7.94 0h1.32m1.32 0h1.32m2.65 0h1.32m3.97 0h1.32M333.82 180.35h1.32m1.32 0h1.32m2.65 0h1.32m7.94 0h1.32m1.32 0h1.32m9.26 0h2.65m1.32 0h1.32m47.62 0h2.65m6.61 0h1.32m1.32 0h1.32m2.65 0h1.32m7.94 0h1.32m1.32 0h1.32m6.61 0h5.29m2.65 0h1.32m1.32 0h1.32m10.58 0h1.32m2.65 0h1.32m1.32 0h1.32m3.97 0h5.29M336.47 175.91h1.32m3.97 0h1.32m2.65 0h1.32m1.32 0h1.32m1.32 0h1.32m7.94 0h1.32m6.61 0h2.65m10.58 0h1.32m6.61 0h2.65m22.49 0h1.32m1.32 0h1.32m11.91 0h1.32m5.29 0h1.32m3.97 0h1.32m11.91 0h2.65m1.32 0h1.32m5.29 0h1.32m1.32 0h1.32m13.23 0h1.32m1.32 0h1.32m3.97 0h1.32m1.32 0h2.65m1.32 0h1.32M337.79 171.47h1.32m5.29 0h3.97m1.32 0h2.65m7.94 0h2.65m1.32 0h1.32m1.32 0h1.32m5.29 0h2.65m7.94 0h1.32m21.17 0h1.32m1.32 0h1.32m6.61 0h1.32m6.61 0h1.32m2.65 0h1.32m3.97 0h1.32m7.94 0h1.32m1.32 0h1.32m5.29 0h1.32m2.65 0h1.32m6.61 0h1.32m3.97 0h1.32m1.32 0h1.32m1.32 0h1.32m2.65 0h2.65m3.97 0h1.32m3.97 0h1.32m6.61 0h1.32M336.47 167.02h1.32m1.32 0h1.32m2.65 0h1.32m2.65 0h1.32m6.61 0h1.32m1.32 0h2.65m2.65 0h2.65m1.32 0h1.32m3.97 0h1.32m17.2 0h1.32m27.78 0h1.32m6.61 0h1.32m3.97 0h1.32m9.26 0h1.32m5.29 0h1.32m6.61 0h2.65m17.2 0h1.32m6.61 0h2.65m1.32 0h2.65m3.97 0h1.32M337.79 162.58h1.32m13.23 0h1.32m19.84 0h1.32m13.23 0h1.32m3.97 0h1.32m1.32 0h1.32m26.46 0h1.32m2.65 0h1.32m1.32 0h1.32m15.87 0h1.32m3.97 0h1.32m2.65 0h1.32m3.97 0h2.65m2.65 0h3.97m2.65 0h1.32m19.84 0h2.65M337.79 158.14h1.32m14.55 0h1.32m1.32 0h1.32m3.97 0h1.32m3.97 0h1.32m11.91 0h1.32m21.17 0h2.65m10.58 0h1.32m7.94 0h2.65m3.97 0h1.32m5.29 0h1.32m2.65 0h1.32m2.65 0h2.65m3.97 0h1.32m2.65 0h1.32m3.97 0h1.32m9.26 0h1.32m7.94 0h1.32m1.32 0h1.32m1.32 0h1.32m1.32 0h1.32m3.97 0h1.32m1.32 0h2.65M337.79 153.7h2.65m1.32 0h1.32m3.97 0h1.32m14.55 0h1.32m1.32 0h1.32m7.94 0h1.32m10.58 0h2.65m2.65 0h1.32m13.23 0h1.32m1.32 0h1.32m3.97 0h1.32m7.94 0h2.65m1.32 0h1.32m1.32 0h1.32m3.97 0h1.32m2.65 0h1.32m3.97 0h1.32m11.91 0h1.32m1.32 0h5.29m1.32 0h1.32m5.29 0h1.32m3.97 0h2.65m6.61 0h1.32m5.29 0h1.32M333.82 149.25h1.32m1.32 0h1.32m5.29 0h1.32m1.32 0h1.32m1.32 0h1.32m6.61 0h2.65m11.91 0h1.32m9.26 0h1.32m6.61 0h1.32m3.97 0h1.32m1.32 0h1.32m9.26 0h6.61m11.91 0h2.65m2.65 0h1.32m1.32 0h1.32m3.97 0h1.32m2.65 0h1.32m7.94 0h2.65m7.94 0h2.65m5.29 0h1.32m3.97 0h2.65m2.65 0h1.32m1.32 0h1.32m2.65 0h1.32m1.32 0h1.32m2.65 0h2.65"/>
<path stroke="#00c0ff" stroke-width="4.44" shape-rendering="crispEdges" d="M393.35 282.53h1.32M393.35 278.09h1.32"/>
<path stroke="#00d8f0" stroke-width="4.44" shape-rendering="crispEdges" d="M394.67 282.53h1.32M394.67 278.09h1.32"/>
<path stroke="#30d8d8" stroke-width="4.44" shape-rendering="crispEdges" d="M396 282.53h1.32M396 278.09h1.32"/>
<path stroke="#48d8c0" stroke-width="4.44" shape-rendering="crispEdges" d="M397.32 282.53h1.32m13.23 0h1.32M397.32 278.09h1.32m13.23 0h1.32"/>
<path stroke="#78d890" stroke-width="4.44" shape-rendering="crispEdges" d="M398.64 282.53h1.32M398.64 278.09h1.32"/>
<path stroke="#90d878" stroke-width="4.44" shape-rendering="crispEdges" d="M399.96 282.53h1.32M399.96 278.09h1.32"/>
<path stroke="#a8f048" stroke-width="4.44" shape-rendering="crispEdges" d="M401.29 282.53h1.32M401.29 278.09h1.32"/>
<path stroke="#d8f030" stroke-width="4.44" shape-rendering="crispEdges" d="M402.61 282.53h1.32M402.61 278.09h1.32"/>
<path stroke="#f0f000" stroke-width="4.44" shape-rendering="crispEdges" d="M403.93 282.53h1.32M403.93 278.09h1.32"/>
<path stroke="#f0f018" stroke-width="4.44" shape-rendering="crispEdges" d="M405.26 282.53h1.32M405.26 278.09h1.32"/>
<path stroke="#c0f030" stroke-width="4.44" shape-rendering="crispEdges" d="M406.58 282.53h1.32M406.58 278.09h1.32"/>
<path stroke="#a8d860" stroke-width="4.44" shape-rendering="crispEdges" d="M407.9 282.53h1.32M407.9 278.09h1.32"/>
<path stroke="#78d878" stroke-width="4.44" shape-rendering="crispEdges" d="M409.22 282.53h1.32M409.22 278.09h1.32"/>
<path stroke="#60d8a8" stroke-width="4.44" shape-rendering="crispEdges" d="M410.55 282.53h1.32M410.55 278.09h1.32"/>
<path stroke="#18d8f0" stroke-width="4.44" shape-rendering="crispEdges" d="M413.19 282.53h1.32M413.19 278.09h1.32"/>
<path stroke="#00d8ff" stroke-width="4.44" shape-rendering="crispEdges" d="M414.52 282.53h1.32M414.52 278.09h1.32M332.5 202.56h2.65m1.32 0h2.65m1.32 0h2.65m1.32 0h1.32m11.91 0h1.32m10.58 0h1.32m10.58 0h1.32m6.61 0h1.32m5.29 0h1.32m3.97 0h1.32m9.26 0h1.32m2.65 0h2.65m2.65 0h1.32m1.32 0h1.32m1.32 0h2.65m1.32 0h1.32m6.61 0h1.32m5.29 0h1.32m5.29 0h1.32m1.32 0h1.32m2.65 0h3.97m2.65 0h1.32m2.65 0h1.32m3.97 0h2.65m2.65 0h1.32m1.32 0h1.32m6.61 0h2.65m1.32 0h2.65m1.32 0h1.32M337.79 175.91h3.97m2.65 0h1.32m3.97 0h1.32m2.65 0h3.97m6.61 0h1.32m1.32 0h1.32m3.97 0h2.65m1.32 0h1.32m7.94 0h1.32m1.32 0h1.32m5.29 0h2.65m3.97 0h1.32m2.65 0h1.32m5.29 0h1.32m5.29 0h2.65m1.32 0h2.65m10.58 0h1.32m1.32 0h1.32m1.32 0h1.32m1.32 0h2.65m3.97 0h3.97m3.97 0h1.32m3.97 0h1.32m2.65 0h1.32m7.94 0h2.65m1.32 0h1.32m2.65 0h1.32m1.32 0h1.32m7.94 0h1.32m1.32 0h1.32M332.5 162.58h1.32m1.32 0h1.32m2.65 0h1.32m9.26 0h1.32m5.29 0h3.97m2.65 0h3.97m2.65 0h1.32m5.29 0h1.32m1.32 0h1.32m14.55 0h1.32m3.97 0h1.32m1.32 0h1.32m9.26 0h2.65m9.26 0h1.32m5.29 0h3.97m2.65 0h9.26m2.65 0h2.65m1.32 0h1.32m3.97 0h1.32m11.91 0h1.32m6.61 0h1.32m5.29 0h1.32m1.32 0h2.65m1.32 0h1.32"/>
<path stroke="#30a8ff" stroke-width="4.44" shape-rendering="crispEdges" d="M418.48 282.53h1.32M418.48 278.09h1.32M336.47 135.93h1.32m3.97 0h5.29m1.32 0h1.32m6.61 0h2.65m1.32 0h1.32m1.32 0h1.32m1.32 0h2.65m1.32 0h1.32m5.29 0h3.97m3.97 0h1.32m2.65 0h2.65m3.97 0h1.32m2.65 0h3.97m1.32 0h2.65m2.65 0h1.32m1.32 0h2.65m3.97 0h1.32m1.32 0h1.32m2.65 0h1.32m5.29 0h3.97m1.32 0h1.32m6.61 0h2.65m3.97 0h1.32m1.32 0h3.97m2.65 0h3.97m5.29 0h2.65m7.94 0h1.32m2.65 0h2.65m3.97 0h2.65m2.65 0h1.32"/>
<path stroke="#3078ff" stroke-width="4.44" shape-rendering="crispEdges" d="M421.13 282.53h1.32M421.13 278.09h1.32"/>
<path stroke="#4860ff" stroke-width="4.44" shape-rendering="crispEdges" d="M343.08 278.09h1.32m2.65 0h2.65m9.26 0h1.32m1.32 0h1.32m1.32 0h1.32m10.58 0h1.32m46.3 0h1.32m2.65 0h1.32m2.65 0h1.32m1.32 0h1.32m2.65 0h1.32m9.26 0h1.32m13.23 0h1.32m5.29 0h2.65m11.91 0h1.32m2.65 0h2.65m2.65 0h1.32m1.32 0h1.32m1.32 0h1.32M340.44 118.16h1.32m1.32 0h3.97m2.65 0h1.32m2.65 0h1.32m2.65 0h1.32m7.94 0h1.32m11.91 0h1.32m3.97 0h2.65m2.65 0h2.65m3.97 0h1.32m10.58 0h1.32m2.65 0h3.97m1.32 0h2.65m6.61 0h1.32m1.32 0h1.32m10.58 0h1.32m23.81 0h1.32m1.32 0h1.32m1.32 0h1.32m19.84 0h1.32m2.65 0h1.32M340.44 113.71h2.65m11.91 0h1.32m11.91 0h1.32m9.26 0h2.65m14.55 0h1.32m3.97 0h1.32m2.65 0h1.32m1.32 0h2.65m3.97 0h2.65m29.1 0h1.32m13.23 0h1.32m3.97 0h1.32m2.65 0h1.32m11.91 0h2.65m1.32 0h1.32m1.32 0h1.32m5.29 0h1.32M335.15 109.27h1.32m42.33 0h1.32m3.97 0h1.32m1.32 0h1.32m22.49 0h2.65m5.29 0h2.65m3.97 0h1.32m17.2 0h1.32m5.29 0h2.65m1.32 0h1.32m11.91 0h1.32m1.32 0h1.32m7.94 0h1.32m7.94 0h1.32M332.5 104.83h2.65m6.61 0h1.32m18.52 0h1.32m6.61 0h1.32m6.61 0h1.32m2.65 0h1.32m1.32 0h1.32m7.94 0h1.32m6.61 0h1.32m56.88 0h2.65m2.65 0h1.32m6.61 0h1.32m7.94 0h1.32m1.32 0h1.32m5.29 0h1.32m3.97 0h1.32m1.32 0h1.32M360.28 100.38h1.32m26.46 0h1.32m1.32 0h1.32m17.2 0h1.32m10.58 0h1.32m31.75 0h1.32m14.55 0h1.32m19.84 0h1.32M357.63 95.94h1.32m7.94 0h1.32m5.29 0h1.32m19.84 0h1.32m23.81 0h2.65m25.13 0h1.32m43.65 0h3.97M332.5 91.5h1.32m50.27 0h1.32m3.97 0h1.32m1.32 0h1.32m6.61 0h1.32m1.32 0h1.32m35.72 0h2.65m26.46 0h1.32m9.26 0h1.32M337.79 87.06h1.32m10.58 0h1.32m17.2 0h1.32m9.26 0h1.32m29.1 0h1.32m44.98 0h1.32m10.58 0h1.32m6.61 0h1.32M417.16 82.61h1.32m35.72 0h1.32m9.26 0h1.32m3.97 0h2.65m9.26 0h1.32m15.87 0h1.32M369.54 78.17h1.32m107.15 0h1.32M396 73.73h1.32m27.78 0h1.32m52.91 0h1.32m10.58 0h1.32M335.15 69.29h1.32m78.05 0h1.32m68.79 0h1.32M340.44 60.4h1.32"/>
<path stroke="#ffd800" stroke-width="4.44" shape-rendering="crispEdges" d="M332.5 246.99h1.32m1.32 0h1.32m1.32 0h3.97m10.58 0h2.65m67.46 0h1.32m1.32 0h1.32m18.52 0h1.32m6.61 0h1.32m22.49 0h1.32m2.65 0h1.32m11.91 0h2.65M333.82 211.45h1.32m14.55 0h1.32m7.94 0h1.32m47.62 0h1.32m10.58 0h1.32m9.26 0h1.32m22.49 0h1.32m17.2 0h1.32m2.65 0h1.32m13.23 0h1.32M358.96 207.01h1.32m15.87 0h1.32m42.33 0h2.65m70.11 0h1.32m2.65 0h1.32"/>
<path stroke="#60ff90" stroke-width="4.44" shape-rendering="crispEdges" d="M336.47 246.99h1.32m3.97 0h1.32m2.65 0h1.32m14.55 0h2.65m3.97 0h1.32m1.32 0h5.29m6.61 0h1.32m1.32 0h1.32m1.32 0h1.32m5.29 0h1.32m19.84 0h1.32m2.65 0h1.32m5.29 0h1.32m2.65 0h1.32m1.32 0h1.32m2.65 0h1.32m3.97 0h1.32m13.23 0h1.32m2.65 0h1.32m2.65 0h1.32m5.29 0h2.65m5.29 0h1.32m3.97 0h1.32"/>
<path stroke="#ff0000" stroke-width="4.44" shape-rendering="crispEdges" d="M402.61 246.99h13.23M399.96 242.55h18.52M339.11 220.33h2.65m11.91 0h1.32m44.98 0h23.81m3.97 0h1.32m21.17 0h1.32m2.65 0h1.32m29.1 0h1.32m13.23 0h1.32M340.44 215.89h1.32m18.52 0h2.65m41.01 0h14.55m1.32 0h1.32m21.17 0h1.32m1.32 0h1.32m15.87 0h1.32m3.97 0h1.32m5.29 0h1.32m1.32 0h1.32m1.32 0h1.32m2.65 0h1.32"/>
<path stroke="#ffa800" stroke-width="4.44" shape-rendering="crispEdges" d="M337.79 242.55h1.32m1.32 0h1.32m11.91 0h1.32m6.61 0h1.32m7.94 0h1.32m5.29 0h1.32m5.29 0h1.32m7.94 0h1.32m39.69 0h1.32m23.81 0h2.65m2.65 0h1.32m9.26 0h1.32"/>
<path stroke="#90ff60" stroke-width="4.44" shape-rendering="crispEdges" d="M348.37 242.55h1.32m1.32 0h1.32m93.92 0h1.32m1.32 0h1.32m41.01 0h1.32M358.96 238.11h1.32m2.65 0h1.32m27.78 0h1.32m47.62 0h1.32m13.23 0h1.32m26.46 0h1.32M345.73 233.66h1.32m5.29 0h1.32m23.81 0h1.32m1.32 0h1.32m50.27 0h1.32m5.29 0h1.32m2.65 0h1.32m35.72 0h1.32m7.94 0h1.32M335.15 229.22h1.32m55.56 0h1.32m41.01 0h1.32m11.91 0h1.32m2.65 0h1.32m37.04 0h1.32M372.19 224.78h1.32m3.97 0h1.32m1.32 0h2.65m9.26 0h2.65m31.75 0h1.32m2.65 0h1.32m23.81 0h2.65"/>
<path stroke="#ffffff" stroke-width="4.44" shape-rendering="crispEdges" d="M356.31 242.55h1.32m10.58 0h2.65m26.46 0h1.32m21.17 0h1.32m15.87 0h1.32M352.34 238.11h1.32m7.94 0h1.32m18.52 0h2.65m11.91 0h1.32m63.5 0h1.32m10.58 0h1.32M335.15 233.66h1.32m5.29 0h1.32m50.27 0h1.32m33.07 0h1.32m39.69 0h1.32m17.2 0h1.32M356.31 229.22h1.32m11.91 0h1.32m121.7 0h1.32M366.89 224.78h1.32m22.49 0h1.32m41.01 0h1.32m7.94 0h1.32m47.62 0h1.32M343.08 220.33h1.32M333.82 215.89h1.32m35.72 0h1.32m2.65 0h1.32m13.23 0h1.32m10.58 0h1.32m33.07 0h1.32m3.97 0h1.32m17.2 0h2.65m6.61 0h1.32"/>
<path stroke="#fff000" stroke-width="4.44" shape-rendering="crispEdges" d="M339.11 238.11h1.32m1.32 0h1.32m21.17 0h1.32m1.32 0h1.32m22.49 0h1.32m33.07 0h5.29m5.29 0h1.32m6.61 0h1.32m6.61 0h1.32m17.2 0h1.32m22.49 0h2.65m1.32 0h1.32M339.11 233.66h1.32m19.84 0h1.32m3.97 0h1.32m1.32 0h1.32m66.14 0h2.65m10.58 0h1.32m21.17 0h1.32m10.58 0h1.32m1.32 0h1.32m3.97 0h3.97m1.32 0h1.32M339.11 229.22h1.32m1.32 0h1.32m14.55 0h1.32m9.26 0h1.32m6.61 0h1.32m50.27 0h1.32m6.61 0h2.65m7.94 0h1.32m5.29 0h1.32m15.87 0h1.32m3.97 0h1.32m3.97 0h2.65m5.29 0h1.32M344.41 224.78h1.32m6.61 0h1.32m9.26 0h1.32m23.81 0h1.32m42.33 0h1.32m6.61 0h2.65m26.46 0h1.32m2.65 0h1.32m5.29 0h1.32m2.65 0h1.32m7.94 0h1.32m5.29 0h1.32"/>
<path stroke="#ff9000" stroke-width="4.44" shape-rendering="crispEdges" d="M377.48 238.11h1.32m9.26 0h1.32m42.33 0h1.32m11.91 0h1.32m11.91 0h2.65m19.84 0h1.32m7.94 0h1.32M333.82 233.66h1.32m7.94 0h1.32m3.97 0h1.32m5.29 0h2.65m14.55 0h1.32m52.91 0h1.32m6.61 0h1.32m18.52 0h1.32m18.52 0h1.32m2.65 0h1.32M349.7 229.22h1.32m3.97 0h1.32m72.76 0h1.32m23.81 0h1.32m2.65 0h1.32m5.29 0h1.32m1.32 0h1.32M333.82 224.78h1.32m14.55 0h1.32m14.55 0h1.32m29.1 0h1.32m66.14 0h3.97m2.65 0h1.32m10.58 0h1.32m10.58 0h1.32"/>
<path stroke="#a8ff60" stroke-width="4.44" shape-rendering="crispEdges" d="M360.28 211.45h1.32m14.55 0h2.65m5.29 0h1.32m3.97 0h1.32m13.23 0h1.32m1.32 0h1.32m15.87 0h2.65m25.13 0h1.32m21.17 0h1.32M362.93 207.01h1.32m5.29 0h1.32m9.26 0h1.32m9.26 0h1.32m5.29 0h2.65m26.46 0h1.32m13.23 0h1.32m3.97 0h1.32m22.49 0h2.65"/>
<path stroke="#3060ff" stroke-width="4.44" shape-rendering="crispEdges" d="M354.99 202.56h1.32m14.55 0h1.32m113.76 0h1.32M386.74 189.24h1.32M381.44 180.35h1.32m80.69 0h1.32M398.64 171.47h1.32M360.28 149.25h1.32"/>
<path stroke="#60f0d8" stroke-width="4.44" shape-rendering="crispEdges" d="M376.15 202.56h1.32m2.65 0h1.32m2.65 0h1.32m1.32 0h1.32m2.65 0h1.32m6.61 0h2.65m2.65 0h1.32m1.32 0h1.32m2.65 0h1.32M390.7 198.12h1.32m1.32 0h1.32m19.84 0h2.65M374.83 193.68h1.32m11.91 0h1.32m3.97 0h3.97m2.65 0h1.32m2.65 0h1.32m1.32 0h1.32m1.32 0h1.32m5.29 0h1.32m5.29 0h1.32M384.09 189.24h1.32m10.58 0h7.94m1.32 0h1.32m10.58 0h1.32m1.32 0h2.65m2.65 0h1.32M377.48 184.79h1.32m17.2 0h2.65m11.91 0h1.32m5.29 0h1.32M380.12 180.35h1.32m3.97 0h2.65m3.97 0h1.32m18.52 0h1.32M378.8 175.91h2.65m2.65 0h1.32m11.91 0h2.65m3.97 0h1.32m1.32 0h3.97M381.44 171.47h2.65m5.29 0h1.32m5.29 0h1.32m5.29 0h1.32m1.32 0h1.32M381.44 167.02h1.32m2.65 0h1.32m1.32 0h1.32m6.61 0h3.97m2.65 0h1.32m2.65 0h1.32m3.97 0h1.32M398.64 162.58h1.32m1.32 0h1.32m1.32 0h2.65m1.32 0h1.32m7.94 0h2.65M384.09 158.14h1.32m3.97 0h1.32m5.29 0h1.32M405.26 153.7h1.32m14.55 0h1.32"/>
<path stroke="#00f0ff" stroke-width="4.44" shape-rendering="crispEdges" d="M344.41 198.12h1.32m1.32 0h1.32m1.32 0h3.97m1.32 0h1.32m3.97 0h1.32m2.65 0h1.32m2.65 0h1.32m5.29 0h1.32m2.65 0h1.32m2.65 0h1.32m5.29 0h1.32m5.29 0h2.65m1.32 0h1.32m2.65 0h1.32m3.97 0h2.65m10.58 0h3.97m1.32 0h1.32m2.65 0h3.97m1.32 0h3.97m2.65 0h1.32m5.29 0h1.32m1.32 0h1.32m5.29 0h2.65m1.32 0h2.65m2.65 0h1.32m14.55 0h1.32m2.65 0h1.32m1.32 0h1.32m3.97 0h2.65M335.15 193.68h1.32m9.26 0h1.32m6.61 0h1.32m1.32 0h1.32m11.91 0h1.32m6.61 0h1.32m1.32 0h2.65m1.32 0h1.32m1.32 0h1.32m2.65 0h2.65m21.17 0h1.32m10.58 0h2.65m2.65 0h1.32m1.32 0h1.32m1.32 0h1.32m22.49 0h1.32m2.65 0h1.32m3.97 0h1.32m3.97 0h1.32m1.32 0h1.32m9.26 0h2.65m2.65 0h2.65M336.47 189.24h2.65m3.97 0h3.97m5.29 0h2.65m2.65 0h2.65m1.32 0h1.32m3.97 0h1.32m3.97 0h2.65m3.97 0h2.65m7.94 0h1.32m1.32 0h1.32m1.32 0h1.32m17.2 0h1.32m1.32 0h1.32m6.61 0h1.32m1.32 0h1.32m1.32 0h1.32m2.65 0h1.32m1.32 0h1.32m3.97 0h2.65m1.32 0h1.32m10.58 0h1.32m6.61 0h1.32m6.61 0h1.32m7.94 0h2.65m2.65 0h2.65m2.65 0h1.32M340.44 184.79h1.32m3.97 0h2.65m1.32 0h1.32m2.65 0h2.65m1.32 0h1.32m1.32 0h1.32m7.94 0h1.32m5.29 0h1.32m7.94 0h3.97m5.29 0h1.32m7.94 0h1.32m1.32 0h1.32m7.94 0h1.32m1.32 0h2.65m5.29 0h2.65m2.65 0h2.65m1.32 0h1.32m5.29 0h1.32m2.65 0h1.32m1.32 0h1.32m3.97 0h1.32m2.65 0h1.32m2.65 0h3.97m2.65 0h1.32m6.61 0h2.65m6.61 0h1.32m6.61 0h2.65m1.32 0h2.65M332.5 180.35h1.32m5.29 0h1.32m1.32 0h1.32m1.32 0h1.32m13.23 0h3.97m2.65 0h1.32m1.32 0h1.32m1.32 0h1.32m2.65 0h1.32m11.91 0h1.32m3.97 0h5.29m1.32 0h1.32m1.32 0h7.94m3.97 0h1.32m5.29 0h3.97m1.32 0h1.32m1.32 0h1.32m2.65 0h2.65m3.97 0h1.32m7.94 0h1.32m22.49 0h1.32m1.32 0h1.32m5.29 0h1.32m7.94 0h2.65m3.97 0h1.32M332.5 171.47h1.32m1.32 0h1.32m3.97 0h1.32m1.32 0h1.32m7.94 0h2.65m7.94 0h1.32m3.97 0h1.32m1.32 0h1.32m5.29 0h1.32m1.32 0h1.32m10.58 0h2.65m6.61 0h1.32m5.29 0h1.32m1.32 0h5.29m2.65 0h2.65m6.61 0h1.32m2.65 0h1.32m6.61 0h2.65m11.91 0h2.65m3.97 0h1.32m3.97 0h1.32m3.97 0h1.32m5.29 0h1.32m3.97 0h1.32m5.29 0h1.32m1.32 0h1.32m1.32 0h1.32m1.32 0h1.32M361.6 167.02h1.32m7.94 0h1.32m5.29 0h2.65m3.97 0h1.32m1.32 0h1.32m1.32 0h1.32m3.97 0h1.32m3.97 0h1.32m11.91 0h1.32m3.97 0h1.32m1.32 0h1.32m1.32 0h1.32m5.29 0h1.32m2.65 0h2.65m3.97 0h1.32m2.65 0h1.32m5.29 0h3.97m5.29 0h1.32m6.61 0h2.65m3.97 0h2.65m2.65 0h1.32m1.32 0h1.32m13.23 0h2.65M333.82 158.14h1.32m1.32 0h1.32m6.61 0h1.32m1.32 0h1.32m1.32 0h2.65m13.23 0h1.32m1.32 0h1.32m1.32 0h3.97m3.97 0h1.32m5.29 0h1.32m5.29 0h1.32m1.32 0h1.32m5.29 0h1.32m2.65 0h2.65m2.65 0h3.97m3.97 0h1.32m1.32 0h2.65m11.91 0h2.65m2.65 0h1.32m1.32 0h1.32m3.97 0h1.32m3.97 0h2.65m1.32 0h1.32m5.29 0h1.32m2.65 0h1.32m1.32 0h1.32m1.32 0h1.32m2.65 0h1.32m3.97 0h1.32m3.97 0h1.32m2.65 0h2.65m1.32 0h1.32M340.44 153.7h1.32m2.65 0h1.32m3.97 0h2.65m3.97 0h2.65m1.32 0h2.65m1.32 0h1.32m2.65 0h1.32m1.32 0h1.32m3.97 0h2.65m2.65 0h2.65m10.58 0h1.32m3.97 0h1.32m1.32 0h2.65m6.61 0h1.32m9.26 0h1.32m5.29 0h1.32m1.32 0h3.97m2.65 0h1.32m1.32 0h1.32m5.29 0h1.32m3.97 0h5.29m1.32 0h1.32m5.29 0h1.32m2.65 0h1.32m5.29 0h2.65m7.94 0h1.32m3.97 0h1.32m2.65 0h3.97M335.15 149.25h1.32m3.97 0h1.32m5.29 0h1.32m1.32 0h5.29m6.61 0h2.65m2.65 0h3.97m9.26 0h1.32m14.55 0h1.32m2.65 0h1.32m2.65 0h3.97m6.61 0h1.32m2.65 0h2.65m1.32 0h3.97m2.65 0h1.32m2.65 0h1.32m6.61 0h1.32m2.65 0h3.97m1.32 0h1.32m3.97 0h5.29m5.29 0h3.97m13.23 0h1.32m13.23 0h2.65"/>
<path stroke="#00a8ff" stroke-width="4.44" shape-rendering="crispEdges" d="M333.82 144.81h1.32m1.32 0h5.29m1.32 0h1.32m1.32 0h1.32m5.29 0h3.97m3.97 0h1.32m14.55 0h2.65m2.65 0h1.32m2.65 0h1.32m3.97 0h1.32m1.32 0h1.32m3.97 0h1.32m2.65 0h1.32m1.32 0h2.65m1.32 0h2.65m2.65 0h1.32m9.26 0h2.65m1.32 0h1.32m1.32 0h1.32m7.94 0h2.65m11.91 0h2.65m1.32 0h3.97m1.32 0h1.32m15.87 0h3.97m6.61 0h2.65m2.65 0h1.32"/>
<path stroke="#30c0ff" stroke-width="4.44" shape-rendering="crispEdges" d="M333.82 140.37h2.65m21.17 0h1.32m30.43 0h1.32m1.32 0h2.65m10.58 0h1.32m23.81 0h1.32m1.32 0h3.97m10.58 0h2.65m3.97 0h1.32m3.97 0h2.65m3.97 0h1.32m1.32 0h1.32m1.32 0h1.32m5.29 0h1.32m5.29 0h1.32m1.32 0h2.65m7.94 0h1.32"/>
<path stroke="#0090ff" stroke-width="4.44" shape-rendering="crispEdges" d="M337.79 140.37h1.32m10.58 0h3.97m7.94 0h2.65m5.29 0h1.32m7.94 0h1.32m3.97 0h1.32m1.32 0h1.32m2.65 0h1.32m7.94 0h1.32m5.29 0h1.32m2.65 0h1.32m3.97 0h1.32m26.46 0h1.32m6.61 0h1.32m2.65 0h1.32m5.29 0h1.32m10.58 0h1.32m3.97 0h1.32m10.58 0h1.32m6.61 0h1.32"/>
<path stroke="#1878ff" stroke-width="4.44" shape-rendering="crispEdges" d="M333.82 131.48h1.32m7.94 0h7.94m2.65 0h1.32m1.32 0h5.29m1.32 0h1.32m5.29 0h3.97m15.87 0h2.65m1.32 0h3.97m2.65 0h1.32m7.94 0h3.97m1.32 0h1.32m2.65 0h1.32m9.26 0h1.32m1.32 0h1.32m5.29 0h2.65m1.32 0h6.61m1.32 0h1.32m1.32 0h1.32m2.65 0h2.65m2.65 0h1.32m2.65 0h2.65m2.65 0h1.32m9.26 0h1.32m1.32 0h1.32m1.32 0h1.32m1.32 0h1.32m3.97 0h1.32m1.32 0h1.32"/>
<path stroke="#48a8ff" stroke-width="4.44" shape-rendering="crispEdges" d="M337.79 131.48h1.32m2.65 0h1.32m34.39 0h1.32m80.69 0h1.32m9.26 0h1.32m17.2 0h1.32"/>
<path stroke="#1860ff" stroke-width="4.44" shape-rendering="crispEdges" d="M332.5 127.04h1.32m3.97 0h1.32m11.91 0h1.32m6.61 0h2.65m23.81 0h1.32m11.91 0h1.32m1.32 0h1.32m3.97 0h1.32m6.61 0h1.32m2.65 0h1.32m6.61 0h1.32m2.65 0h1.32m11.91 0h1.32m7.94 0h1.32m7.94 0h1.32m1.32 0h2.65m6.61 0h1.32m1.32 0h1.32"/>
<path stroke="#4890ff" stroke-width="4.44" shape-rendering="crispEdges" d="M333.82 127.04h1.32m3.97 0h2.65m6.61 0h1.32m15.87 0h1.32m2.65 0h2.65m5.29 0h1.32m3.97 0h1.32m2.65 0h1.32m7.94 0h1.32m6.61 0h2.65m3.97 0h1.32m1.32 0h1.32m2.65 0h1.32m1.32 0h1.32m2.65 0h1.32m2.65 0h1.32m5.29 0h1.32m10.58 0h2.65m2.65 0h1.32m1.32 0h1.32m11.91 0h1.32m1.32 0h2.65m6.61 0h1.32m7.94 0h1.32m7.94 0h1.32"/>
<path stroke="#3048ff" stroke-width="4.44" shape-rendering="crispEdges" d="M336.47 118.16h1.32m1.32 0h1.32m14.55 0h1.32m2.65 0h2.65m3.97 0h1.32m1.32 0h1.32m1.32 0h3.97m2.65 0h1.32m5.29 0h1.32m2.65 0h1.32m13.23 0h2.65m6.61 0h1.32m11.91 0h1.32m6.61 0h3.97m9.26 0h1.32m10.58 0h2.65m10.58 0h1.32m5.29 0h1.32m1.32 0h1.32m2.65 0h1.32m6.61 0h1.32M335.15 113.71h1.32m9.26 0h1.32m1.32 0h1.32m3.97 0h1.32m7.94 0h2.65m5.29 0h1.32m21.17 0h1.32m7.94 0h1.32m14.55 0h1.32m2.65 0h1.32m3.97 0h1.32m3.97 0h3.97m2.65 0h1.32m6.61 0h1.32m15.87 0h1.32m13.23 0h1.32m1.32 0h1.32m5.29 0h1.32m1.32 0h1.32m5.29 0h2.65M332.5 109.27h1.32m5.29 0h1.32m22.49 0h1.32m17.2 0h2.65m3.97 0h1.32m5.29 0h1.32m9.26 0h2.65m9.26 0h1.32m3.97 0h1.32m21.17 0h1.32m9.26 0h1.32m1.32 0h1.32m3.97 0h1.32m6.61 0h2.65m1.32 0h1.32m3.97 0h1.32m1.32 0h2.65m3.97 0h1.32m6.61 0h1.32M362.93 104.83h1.32m23.81 0h2.65m17.2 0h1.32m9.26 0h1.32m6.61 0h1.32m39.69 0h1.32m1.32 0h1.32m6.61 0h1.32"/>
<path stroke="#7890ff" stroke-width="4.44" shape-rendering="crispEdges" d="M361.6 82.61h1.32M435.68 78.17h1.32M380.12 73.73h1.32m96.57 0h1.32M402.61 69.29h1.32m31.75 0h1.32M466.11 64.84h1.32M406.58 60.4h1.32"/>
<path stroke="#9090ff" stroke-width="4.44" shape-rendering="crispEdges" d="M352.34 69.29h1.32m50.27 0h1.32m5.29 0h1.32m1.32 0h1.32m26.46 0h1.32m30.43 0h1.32m5.29 0h1.32M381.44 64.84h1.32m7.94 0h1.32m95.24 0h1.32m3.97 0h1.32M358.96 60.4h1.32m17.2 0h1.32m37.04 0h1.32m37.04 0h1.32m9.26 0h1.32m18.52 0h1.32M335.15 55.96h1.32m15.87 0h1.32m17.2 0h1.32m25.13 0h1.32m34.39 0h1.32"/>
<path stroke="#a8a8ff" stroke-width="2.24" shape-rendering="crispEdges" d="M332.5 52.62h1.32m15.87 0h1.32m10.58 0h1.32m17.2 0h1.32m2.65 0h1.32m30.43 0h1.32"/>
<path stroke="#4848ff" stroke-width="2.24" shape-rendering="crispEdges" d="M335.15 52.62h1.32m6.61 0h1.32m1.32 0h1.32m52.91 0h1.32m19.84 0h1.32m7.94 0h1.32m2.65 0h1.32m7.94 0h1.32m9.26 0h1.32m2.65 0h1.32m6.61 0h1.32m5.29 0h1.32m2.65 0h2.65m2.65 0h1.32m5.29 0h3.97m5.29 0h1.32"/>
<path stroke="#6060ff" stroke-width="2.24" shape-rendering="crispEdges" d="M337.79 52.62h5.29m3.97 0h1.32m2.65 0h1.32m2.65 0h1.32m1.32 0h1.32m5.29 0h2.65m1.32 0h2.65m2.65 0h1.32m1.32 0h2.65m2.65 0h2.65m3.97 0h2.65m1.32 0h1.32m2.65 0h1.32m3.97 0h2.65m2.65 0h2.65m14.55 0h3.97m1.32 0h1.32m2.65 0h1.32m10.58 0h1.32m1.32 0h3.97m1.32 0h1.32m1.32 0h1.32m3.97 0h1.32m1.32 0h1.32m2.65 0h2.65m3.97 0h2.65m6.61 0h1.32m1.32 0h1.32m9.26 0h1.32m1.32 0h1.32"/>
<path stroke="#9090ff" stroke-width="2.24" shape-rendering="crispEdges" d="M386.74 52.62h1.32m5.29 0h2.65m2.65 0h1.32m9.26 0h1.32m68.79 0h1.32"/>
<rect x="332.5" y="51.5" width="168" height="280" fill="none" stroke="#000" stroke-width="1"/>
<path d="M332.5 332v-3.5M332.5 51v3.5M338.5 332v-3.5M338.5 51v3.5M343.5 332v-3.5M343.5 51v3.5M349.5 332v-3.5M349.5 51v3.5M354.5 332v-3.5M354.5 51v3.5M360.5 332v-3.5M360.5 51v3.5M366.5 332v-3.5M366.5 51v3.5M371.5 332v-3.5M371.5 51v3.5M377.5 332v-3.5M377.5 51v3.5M382.5 332v-3.5M382.5 51v3.5M388.5 332v-3.5M388.5 51v3.5M394.5 332v-3.5M394.5 51v3.5M399.5 332v-3.5M399.5 51v3.5M405.5 332v-3.5M405.5 51v3.5M410.5 332v-3.5M410.5 51v3.5M416.5 332v-3.5M416.5 51v3.5M422.5 332v-3.5M422.5 51v3.5M427.5 332v-3.5M427.5 51v3.5M433.5 332v-3.5M433.5 51v3.5M438.5 332v-3.5M438.5 51v3.5M444.5 332v-3.5M444.5 51v3.5M450.5 332v-3.5M450.5 51v3.5M455.5 332v-3.5M455.5 51v3.5M461.5 332v-3.5M461.5 51v3.5M466.5 332v-3.5M466.5 51v3.5M472.5 332v-3.5M472.5 51v3.5M478.5 332v-3.5M478.5 51v3.5M483.5 332v-3.5M483.5 51v3.5M489.5 332v-3.5M489.5 51v3.5M494.5 332v-3.5M494.5 51v3.5M500.5 332v-3.5M500.5 51v3.5M332.5 332v-6.5M332.5 51v6.5M360.5 332v-6.5M360.5 51v6.5M388.5 332v-6.5M388.5 51v6.5M416.5 332v-6.5M416.5 51v6.5M444.5 332v-6.5M444.5 51v6.5M472.5 332v-6.5M472.5 51v6.5M500.5 332v-6.5M500.5 51v6.5" stroke="#000" stroke-width="1" fill="none"/>
<text x="332.5" y="343.8" font-size="8.3" text-anchor="middle" textLength="19.5" lengthAdjust="spacingAndGlyphs" font-weight="bold">–150</text>
<text x="360.5" y="343.8" font-size="8.3" text-anchor="middle" textLength="19.5" lengthAdjust="spacingAndGlyphs" font-weight="bold">–100</text>
<text x="388.5" y="343.8" font-size="8.3" text-anchor="middle" textLength="14.9" lengthAdjust="spacingAndGlyphs" font-weight="bold">–50</text>
<text x="416.5" y="343.8" font-size="8.3" text-anchor="middle" textLength="3.8" lengthAdjust="spacingAndGlyphs" font-weight="bold">0</text>
<text x="444.5" y="343.8" font-size="8.3" text-anchor="middle" textLength="8.4" lengthAdjust="spacingAndGlyphs" font-weight="bold">50</text>
<text x="472.5" y="343.8" font-size="8.3" text-anchor="middle" textLength="13" lengthAdjust="spacingAndGlyphs" font-weight="bold">100</text>
<text x="416.5" y="353" font-size="7.8" text-anchor="middle" textLength="80" lengthAdjust="spacingAndGlyphs" >Radial Velocity (m/s)</text>
<path d="M332 331.5h4M501 331.5h-4M332 319.5h2.5M501 319.5h-2.5M332 307.5h2.5M501 307.5h-2.5M332 296.5h2.5M501 296.5h-2.5M332 284.5h2.5M501 284.5h-2.5M332 272.5h4M501 272.5h-4M332 260.5h2.5M501 260.5h-2.5M332 248.5h2.5M501 248.5h-2.5M332 236.5h2.5M501 236.5h-2.5M332 225.5h2.5M501 225.5h-2.5M332 213.5h4M501 213.5h-4M332 201.5h2.5M501 201.5h-2.5M332 189.5h2.5M501 189.5h-2.5M332 177.5h2.5M501 177.5h-2.5M332 165.5h2.5M501 165.5h-2.5M332 154.5h4M501 154.5h-4M332 142.5h2.5M501 142.5h-2.5M332 130.5h2.5M501 130.5h-2.5M332 118.5h2.5M501 118.5h-2.5M332 106.5h2.5M501 106.5h-2.5M332 94.5h4M501 94.5h-4M332 83.5h2.5M501 83.5h-2.5M332 71.5h2.5M501 71.5h-2.5M332 59.5h2.5M501 59.5h-2.5" stroke="#000" stroke-width="1" fill="none"/>
<text x="329" y="333.1" font-size="8.3" text-anchor="end" textLength="3.8" lengthAdjust="spacingAndGlyphs" font-weight="bold">0</text>
<text x="329" y="276.1" font-size="8.3" text-anchor="end" textLength="13" lengthAdjust="spacingAndGlyphs" font-weight="bold">200</text>
<text x="329" y="217.1" font-size="8.3" text-anchor="end" textLength="13" lengthAdjust="spacingAndGlyphs" font-weight="bold">400</text>
<text x="329" y="158.1" font-size="8.3" text-anchor="end" textLength="13" lengthAdjust="spacingAndGlyphs" font-weight="bold">600</text>
<text x="329" y="98.1" font-size="8.3" text-anchor="end" textLength="13" lengthAdjust="spacingAndGlyphs" font-weight="bold">800</text>
<text transform="translate(309.1 191.8) rotate(-90)" font-size="8.6" text-anchor="middle" textLength="44.5" lengthAdjust="spacingAndGlyphs">Range (km)</text>
<path stroke="#ff0000" stroke-width="2.32" shape-rendering="crispEdges" d="M609.5 330.34h132"/>
<path stroke="#ff0000" stroke-width="4.44" shape-rendering="crispEdges" d="M609.5 326.96h132M609.5 322.51h132M609.5 318.07h132M609.5 313.63h132M609.5 309.19h132M609.5 304.74h132M609.5 300.3h132M609.5 295.86h132M609.5 291.42h132M609.5 286.97h132M609.5 282.53h132M609.5 278.09h132M609.5 273.65h132M609.5 269.2h132M609.5 264.76h132M609.5 260.32h132M609.5 255.88h132M609.5 251.43h132M609.5 246.99h132M609.5 242.55h132M609.5 238.11h132M609.5 233.66h132M609.5 229.22h132M609.5 224.78h132M609.5 220.33h132M609.5 215.89h132M609.5 211.45h132M609.5 207.01h132M609.5 202.56h132M609.5 198.12h132M609.5 193.68h132M609.5 189.24h132M609.5 184.79h132M609.5 180.35h132M609.5 175.91h132M609.5 171.47h132M609.5 167.02h132M609.5 162.58h132M609.5 158.14h132M609.5 153.7h132M609.5 149.25h132M609.5 144.81h132M609.5 140.37h132M609.5 135.93h132M609.5 131.48h132M609.5 127.04h132M609.5 122.6h132M609.5 118.16h132M609.5 113.71h132M609.5 109.27h132M609.5 104.83h132M609.5 100.38h132M609.5 95.94h132M609.5 91.5h132M609.5 87.06h132M609.5 82.61h132M609.5 78.17h132M609.5 73.73h132M609.5 69.29h132M609.5 64.84h132M609.5 60.4h132M609.5 55.96h132"/>
<path stroke="#ff0000" stroke-width="2.24" shape-rendering="crispEdges" d="M609.5 52.62h132"/>
<path stroke="#ff5a00" stroke-width="4.44" shape-rendering="crispEdges" d="M613.46 273.65h1.32m2.64 0h1.32m15.84 0h1.32m6.6 0h1.32m56.76 0h1.32m1.32 0h1.32m34.32 0h1.32M616.1 269.2h1.32m15.84 0h1.32m27.72 0h1.32m33 0h1.32M621.38 264.76h1.32m23.76 0h1.32m79.2 0h1.32m2.64 0h1.32M609.5 260.32h1.32m125.4 0h1.32M627.98 255.88h1.32m2.64 0h1.32M679.46 246.99h1.32m35.64 0h1.32"/>
<path stroke="#ff3200" stroke-width="4.44" shape-rendering="crispEdges" d="M670.22 273.65h1.32m63.36 0h1.32M646.46 269.2h1.32m15.84 0h1.32m33 0h2.64m19.8 0h1.32m3.96 0h1.32M622.7 264.76h1.32m2.64 0h1.32m2.64 0h1.32m6.6 0h1.32m21.12 0h1.32m23.76 0h1.32m3.96 0h1.32m19.8 0h1.32m9.24 0h1.32M610.82 260.32h2.64m17.16 0h1.32m62.04 0h2.64m14.52 0h1.32M633.26 255.88h1.32m21.12 0h1.32m17.16 0h1.32m9.24 0h1.32m15.84 0h1.32m17.16 0h1.32m5.28 0h2.64m9.24 0h1.32M614.78 251.43h1.32m10.56 0h1.32m34.32 0h1.32m17.16 0h1.32m40.92 0h1.32m5.28 0h1.32M609.5 246.99h1.32m18.48 0h1.32m1.32 0h1.32m33 0h1.32m19.8 0h1.32m26.4 0h1.32m1.32 0h1.32"/>
<path stroke="#ffffff" stroke-width="4.44" shape-rendering="crispEdges" d="M620.06 242.55h1.32m22.44 0h1.32m6.6 0h1.32m1.32 0h1.32m1.32 0h2.64m3.96 0h1.32m3.96 0h1.32m1.32 0h1.32m1.32 0h5.28m1.32 0h7.92m18.48 0h1.32m22.44 0h1.32m6.6 0h1.32M613.46 238.11h1.32m5.28 0h1.32m17.16 0h1.32m50.16 0h1.32m9.24 0h1.32m7.92 0h2.64M610.82 233.66h1.32m5.28 0h1.32m5.28 0h2.64m3.96 0h1.32m7.92 0h2.64m5.28 0h1.32m17.16 0h1.32m1.32 0h1.32m3.96 0h1.32m2.64 0h2.64m7.92 0h1.32m5.28 0h1.32m1.32 0h3.96m5.28 0h2.64m3.96 0h1.32m5.28 0h1.32m6.6 0h1.32M609.5 229.22h1.32m1.32 0h1.32m14.52 0h1.32m22.44 0h1.32m3.96 0h1.32m22.44 0h1.32m10.56 0h1.32m5.28 0h1.32m10.56 0h1.32m19.8 0h1.32M609.5 224.78h1.32m9.24 0h1.32m10.56 0h1.32m11.88 0h1.32m9.24 0h1.32m9.24 0h1.32m5.28 0h1.32m15.84 0h1.32m27.72 0h1.32m2.64 0h1.32M614.78 220.33h1.32m15.84 0h1.32m1.32 0h1.32m5.28 0h1.32m6.6 0h1.32m6.6 0h1.32m10.56 0h1.32m22.44 0h1.32m1.32 0h1.32m1.32 0h2.64m17.16 0h2.64m5.28 0h1.32m1.32 0h1.32m2.64 0h1.32m1.32 0h1.32M622.7 215.89h1.32m25.08 0h1.32m15.84 0h1.32m10.56 0h1.32m30.36 0h1.32m11.88 0h1.32M610.82 211.45h1.32m11.88 0h1.32m6.6 0h2.64m6.6 0h1.32m17.16 0h1.32m56.76 0h1.32m1.32 0h1.32m5.28 0h1.32m6.6 0h1.32M658.34 207.01h1.32m13.2 0h5.28m7.92 0h1.32m6.6 0h3.96m1.32 0h1.32m10.56 0h2.64m7.92 0h1.32m11.88 0h1.32M672.86 202.56h5.28"/>
<path stroke="#ff7800" stroke-width="4.44" shape-rendering="crispEdges" d="M631.94 242.55h1.32m76.56 0h1.32M643.82 238.11h1.32m3.96 0h1.32m10.56 0h1.32m5.28 0h1.32m2.64 0h1.32m11.88 0h1.32m6.6 0h1.32m19.8 0h1.32m5.28 0h1.32M629.3 233.66h1.32m26.4 0h1.32m51.48 0h1.32m6.6 0h1.32M629.3 229.22h1.32m3.96 0h1.32m33 0h1.32m5.28 0h1.32m25.08 0h1.32m14.52 0h1.32m5.28 0h1.32m1.32 0h1.32m1.32 0h1.32m2.64 0h1.32m3.96 0h1.32M621.38 224.78h1.32m5.28 0h1.32m18.48 0h1.32m26.4 0h1.32m1.32 0h1.32M638.54 220.33h1.32m14.52 0h1.32m2.64 0h1.32m40.92 0h1.32m34.32 0h1.32M613.46 215.89h1.32m9.24 0h1.32m6.6 0h2.64m93.72 0h2.64M657.02 211.45h1.32m17.16 0h1.32m14.52 0h1.32m3.96 0h1.32M610.82 207.01h1.32m10.56 0h1.32m3.96 0h2.64m30.36 0h1.32m3.96 0h1.32m25.08 0h1.32m3.96 0h1.32m6.6 0h2.64m1.32 0h1.32m9.24 0h1.32m7.92 0h1.32"/>
<path stroke="#ffeb00" stroke-width="4.44" shape-rendering="crispEdges" d="M679.46 242.55h1.32m39.6 0h1.32m11.88 0h1.32M617.42 238.11h1.32m29.04 0h1.32m7.92 0h1.32m11.88 0h1.32m9.24 0h1.32m6.6 0h1.32m14.52 0h1.32m2.64 0h1.32m25.08 0h1.32m2.64 0h1.32M651.74 233.66h2.64m21.12 0h1.32m26.4 0h1.32m33 0h1.32M610.82 229.22h1.32m2.64 0h2.64m5.28 0h1.32m47.52 0h1.32m18.48 0h1.32m11.88 0h2.64m5.28 0h1.32M629.3 224.78h1.32m5.28 0h1.32m6.6 0h1.32m22.44 0h1.32m1.32 0h1.32m10.56 0h1.32m5.28 0h1.32m7.92 0h1.32m3.96 0h1.32m19.8 0h1.32m1.32 0h1.32M712.46 220.33h1.32m6.6 0h1.32M621.38 215.89h1.32m11.88 0h1.32M676.82 211.45h1.32m7.92 0h1.32M609.5 207.01h1.32m6.6 0h1.32m14.52 0h2.64m2.64 0h2.64m6.6 0h1.32m14.52 0h1.32m2.64 0h1.32m2.64 0h1.32m5.28 0h1.32m2.64 0h2.64m6.6 0h1.32m11.88 0h1.32m13.2 0h1.32m6.6 0h2.64m3.96 0h1.32"/>
<path stroke="#46ebd2" stroke-width="4.44" shape-rendering="crispEdges" d="M624.02 238.11h1.32m102.96 0h1.32M631.94 233.66h1.32m15.84 0h2.64m19.8 0h1.32m3.96 0h1.32m27.72 0h1.32m7.92 0h1.32M617.42 229.22h1.32m40.92 0h1.32M617.42 224.78h1.32M660.98 220.33h1.32M612.14 215.89h1.32m125.4 0h1.32M622.7 211.45h1.32m1.32 0h1.32m9.24 0h1.32m11.88 0h1.32m13.2 0h1.32m30.36 0h1.32m1.32 0h1.32m29.04 0h1.32M612.14 207.01h1.32m23.76 0h1.32"/>
<path stroke="#ff2d00" stroke-width="4.44" shape-rendering="crispEdges" d="M633.26 202.56h1.32m10.56 0h2.64m48.84 0h1.32m2.64 0h1.32M625.34 198.12h1.32m1.32 0h1.32m14.52 0h1.32m7.92 0h1.32m3.96 0h1.32m17.16 0h1.32m1.32 0h1.32m11.88 0h1.32m6.6 0h1.32M670.22 193.68h1.32m17.16 0h1.32m13.2 0h2.64m33 0h2.64M613.46 189.24h1.32m13.2 0h1.32m21.12 0h1.32m3.96 0h1.32m1.32 0h1.32m19.8 0h1.32m1.32 0h1.32m2.64 0h1.32m10.56 0h1.32m7.92 0h1.32m7.92 0h1.32M659.66 184.79h1.32m27.72 0h1.32m13.2 0h1.32m3.96 0h2.64m1.32 0h1.32M653.06 180.35h2.64m14.52 0h1.32m2.64 0h1.32m22.44 0h1.32m30.36 0h1.32M653.06 175.91h1.32m6.6 0h1.32m26.4 0h1.32m3.96 0h2.64M614.78 171.47h1.32m23.76 0h1.32m26.4 0h1.32m13.2 0h1.32m7.92 0h1.32m2.64 0h1.32m9.24 0h1.32M609.5 167.02h1.32m1.32 0h1.32m30.36 0h1.32m3.96 0h1.32m2.64 0h1.32m2.64 0h1.32m17.16 0h1.32m1.32 0h1.32m1.32 0h1.32m6.6 0h1.32m5.28 0h1.32m7.92 0h1.32m2.64 0h1.32m3.96 0h1.32m2.64 0h2.64m5.28 0h1.32m9.24 0h1.32M616.1 162.58h1.32m1.32 0h1.32m43.56 0h1.32m1.32 0h1.32m10.56 0h2.64m15.84 0h1.32m10.56 0h1.32m10.56 0h1.32M618.74 158.14h2.64m9.24 0h1.32m40.92 0h1.32m7.92 0h1.32m10.56 0h1.32m1.32 0h1.32m3.96 0h1.32m1.32 0h1.32m1.32 0h2.64m15.84 0h1.32m11.88 0h1.32M610.82 153.7h1.32m2.64 0h1.32m1.32 0h2.64m5.28 0h1.32m6.6 0h1.32m10.56 0h1.32m9.24 0h1.32m1.32 0h1.32m2.64 0h1.32m26.4 0h1.32m44.88 0h1.32M612.14 149.25h1.32m14.52 0h1.32m7.92 0h1.32m18.48 0h1.32m31.68 0h1.32m5.28 0h1.32m7.92 0h2.64m10.56 0h1.32m5.28 0h1.32M610.82 144.81h1.32m6.6 0h1.32m3.96 0h1.32m31.68 0h1.32m2.64 0h1.32m22.44 0h1.32m2.64 0h1.32m21.12 0h1.32m21.12 0h1.32M609.5 140.37h1.32m7.92 0h1.32m46.2 0h1.32m13.2 0h1.32m6.6 0h2.64m9.24 0h1.32m19.8 0h1.32m6.6 0h1.32M617.42 135.93h1.32m14.52 0h1.32m13.2 0h1.32m13.2 0h1.32m17.16 0h1.32m3.96 0h2.64m6.6 0h1.32m5.28 0h1.32M610.82 131.48h2.64m35.64 0h1.32m1.32 0h1.32m7.92 0h1.32m19.8 0h1.32m26.4 0h1.32m2.64 0h1.32m1.32 0h1.32m3.96 0h1.32m2.64 0h1.32M612.14 127.04h1.32m30.36 0h2.64m21.12 0h1.32m11.88 0h1.32m2.64 0h1.32m7.92 0h1.32m7.92 0h1.32m21.12 0h1.32M614.78 122.6h1.32m17.16 0h1.32m2.64 0h1.32m11.88 0h1.32m22.44 0h1.32m22.44 0h2.64M637.22 118.16h1.32m5.28 0h1.32m1.32 0h2.64m46.2 0h1.32m2.64 0h1.32M630.62 113.71h1.32m1.32 0h1.32m13.2 0h1.32m27.72 0h1.32m2.64 0h1.32m2.64 0h2.64m14.52 0h1.32m14.52 0h1.32m6.6 0h1.32m11.88 0h1.32M609.5 109.27h2.64m21.12 0h1.32m2.64 0h1.32m3.96 0h1.32m1.32 0h1.32m6.6 0h1.32m3.96 0h1.32m10.56 0h2.64m15.84 0h1.32m9.24 0h1.32m6.6 0h1.32m10.56 0h1.32m9.24 0h1.32m3.96 0h2.64m2.64 0h1.32M617.42 104.83h1.32m2.64 0h1.32m6.6 0h1.32m2.64 0h1.32m2.64 0h1.32m10.56 0h1.32m5.28 0h1.32m27.72 0h1.32m10.56 0h1.32m1.32 0h1.32m2.64 0h2.64m2.64 0h1.32m6.6 0h1.32m1.32 0h1.32m15.84 0h1.32M616.1 100.38h3.96m3.96 0h1.32m23.76 0h1.32m1.32 0h1.32m26.4 0h1.32m5.28 0h1.32m1.32 0h1.32m22.44 0h1.32m14.52 0h1.32m10.56 0h1.32M612.14 95.94h1.32m9.24 0h1.32m19.8 0h1.32m21.12 0h1.32m6.6 0h1.32m3.96 0h1.32m10.56 0h1.32m10.56 0h1.32m14.52 0h1.32M613.46 91.5h1.32m10.56 0h2.64m2.64 0h1.32m10.56 0h1.32m5.28 0h1.32m18.48 0h1.32m18.48 0h1.32m10.56 0h1.32m36.96 0h1.32M672.86 87.06h2.64m1.32 0h1.32m6.6 0h1.32m9.24 0h1.32m14.52 0h1.32m19.8 0h2.64M613.46 82.61h1.32m5.28 0h1.32m18.48 0h1.32m1.32 0h1.32m31.68 0h1.32m6.6 0h2.64m19.8 0h1.32m3.96 0h1.32m22.44 0h1.32M616.1 78.17h1.32m11.88 0h1.32m11.88 0h1.32m23.76 0h1.32m3.96 0h1.32m3.96 0h1.32m2.64 0h1.32m3.96 0h2.64m3.96 0h1.32m15.84 0h1.32m23.76 0h1.32M616.1 73.73h1.32m18.48 0h1.32m3.96 0h1.32m2.64 0h1.32m13.2 0h1.32m29.04 0h1.32m11.88 0h2.64m29.04 0h2.64M610.82 69.29h2.64m1.32 0h1.32m3.96 0h1.32m6.6 0h1.32m11.88 0h1.32m1.32 0h1.32m6.6 0h1.32m1.32 0h1.32m5.28 0h1.32m6.6 0h1.32m1.32 0h1.32m1.32 0h1.32m9.24 0h1.32m9.24 0h1.32m17.16 0h1.32m3.96 0h1.32M622.7 64.84h1.32m7.92 0h1.32m31.68 0h2.64m15.84 0h1.32m1.32 0h1.32m5.28 0h2.64m1.32 0h1.32m6.6 0h1.32m11.88 0h1.32M609.5 60.4h1.32m1.32 0h1.32m22.44 0h1.32m66 0h1.32m3.96 0h2.64m1.32 0h1.32m7.92 0h1.32M621.38 55.96h1.32m3.96 0h1.32m1.32 0h1.32m7.92 0h1.32m6.6 0h1.32m17.16 0h1.32m3.96 0h1.32m17.16 0h1.32m17.16 0h1.32"/>
<path stroke="#ff5000" stroke-width="4.44" shape-rendering="crispEdges" d="M649.1 202.56h1.32m1.32 0h1.32m15.84 0h1.32m13.2 0h1.32M617.42 198.12h1.32m64.68 0h1.32m2.64 0h1.32m6.6 0h1.32m13.2 0h1.32M609.5 193.68h1.32m5.28 0h1.32m69.96 0h1.32M616.1 189.24h1.32m23.76 0h1.32m34.32 0h1.32m54.12 0h1.32M609.5 184.79h1.32m64.68 0h1.32m40.92 0h1.32M625.34 180.35h1.32m99 0h1.32M622.7 175.91h1.32m5.28 0h1.32m31.68 0h1.32m27.72 0h1.32M610.82 171.47h1.32m10.56 0h1.32m1.32 0h1.32m26.4 0h1.32m33 0h1.32M660.98 167.02h1.32m2.64 0h1.32m48.84 0h2.64m2.64 0h2.64M620.06 162.58h1.32m34.32 0h1.32m2.64 0h1.32M609.5 158.14h1.32m13.2 0h1.32m7.92 0h1.32m40.92 0h1.32M627.98 153.7h1.32m44.88 0h1.32m39.6 0h1.32m6.6 0h1.32m13.2 0h2.64M616.1 149.25h1.32m30.36 0h1.32m1.32 0h1.32m66 0h1.32m14.52 0h1.32M642.5 144.81h1.32m11.88 0h1.32m9.24 0h1.32m15.84 0h1.32m46.2 0h1.32M633.26 140.37h1.32m15.84 0h1.32m30.36 0h1.32m22.44 0h1.32m7.92 0h1.32m23.76 0h1.32M638.54 135.93h1.32m21.12 0h1.32M609.5 131.48h1.32m108.24 0h1.32m17.16 0h1.32M624.02 122.6h1.32m14.52 0h1.32M621.38 118.16h1.32m52.8 0h1.32m52.8 0h1.32M629.3 113.71h1.32m1.32 0h1.32m18.48 0h1.32m2.64 0h1.32m46.2 0h1.32m31.68 0h1.32M622.7 109.27h1.32m44.88 0h1.32m19.8 0h1.32m18.48 0h2.64m1.32 0h1.32m2.64 0h1.32m1.32 0h2.64M624.02 104.83h1.32M622.7 100.38h1.32m13.2 0h1.32m9.24 0h1.32m17.16 0h2.64m27.72 0h1.32m5.28 0h1.32m6.6 0h1.32m9.24 0h1.32M618.74 95.94h1.32m25.08 0h2.64m87.12 0h1.32M631.94 91.5h1.32m17.16 0h2.64m36.96 0h1.32m18.48 0h1.32m10.56 0h1.32M612.14 87.06h1.32m5.28 0h1.32m18.48 0h1.32m54.12 0h1.32m14.52 0h1.32m3.96 0h1.32m18.48 0h1.32m1.32 0h1.32M625.34 82.61h1.32m9.24 0h1.32m21.12 0h1.32m9.24 0h1.32m10.56 0h1.32m21.12 0h1.32m13.2 0h1.32M612.14 78.17h1.32m13.2 0h1.32m22.44 0h1.32m11.88 0h1.32m33 0h1.32m10.56 0h1.32m2.64 0h1.32m10.56 0h1.32m10.56 0h1.32M612.14 73.73h1.32m9.24 0h2.64m11.88 0h1.32m13.2 0h1.32m34.32 0h1.32M653.06 69.29h1.32m42.24 0h1.32m22.44 0h1.32m3.96 0h1.32M691.34 64.84h1.32M622.7 60.4h1.32m31.68 0h1.32m2.64 0h1.32m23.76 0h1.32m29.04 0h1.32M637.22 55.96h1.32m56.76 0h1.32m9.24 0h1.32m22.44 0h1.32"/>
<path stroke="#ff8200" stroke-width="4.44" shape-rendering="crispEdges" d="M667.58 175.91h1.32M724.34 162.58h1.32M617.42 158.14h1.32M616.1 109.27h1.32m88.44 0h1.32M679.46 104.83h1.32M639.86 95.94h1.32M664.94 82.61h1.32M688.7 73.73h1.32M616.1 64.84h1.32"/>
<path stroke="#ff2d00" stroke-width="2.24" shape-rendering="crispEdges" d="M614.78 52.62h2.64m5.28 0h2.64m1.32 0h1.32m5.28 0h1.32m1.32 0h1.32m6.6 0h1.32m18.48 0h1.32m36.96 0h1.32m3.96 0h1.32m11.88 0h1.32"/>
<rect x="609.5" y="51.5" width="132" height="280" fill="none" stroke="#000" stroke-width="1"/>
<path d="M609.5 332v-3.5M609.5 51v3.5M613.5 332v-3.5M613.5 51v3.5M618.5 332v-3.5M618.5 51v3.5M622.5 332v-3.5M622.5 51v3.5M627.5 332v-3.5M627.5 51v3.5M631.5 332v-3.5M631.5 51v3.5M635.5 332v-3.5M635.5 51v3.5M640.5 332v-3.5M640.5 51v3.5M644.5 332v-3.5M644.5 51v3.5M649.5 332v-3.5M649.5 51v3.5M653.5 332v-3.5M653.5 51v3.5M657.5 332v-3.5M657.5 51v3.5M662.5 332v-3.5M662.5 51v3.5M666.5 332v-3.5M666.5 51v3.5M671.5 332v-3.5M671.5 51v3.5M675.5 332v-3.5M675.5 51v3.5M679.5 332v-3.5M679.5 51v3.5M684.5 332v-3.5M684.5 51v3.5M688.5 332v-3.5M688.5 51v3.5M693.5 332v-3.5M693.5 51v3.5M697.5 332v-3.5M697.5 51v3.5M701.5 332v-3.5M701.5 51v3.5M706.5 332v-3.5M706.5 51v3.5M710.5 332v-3.5M710.5 51v3.5M715.5 332v-3.5M715.5 51v3.5M719.5 332v-3.5M719.5 51v3.5M723.5 332v-3.5M723.5 51v3.5M728.5 332v-3.5M728.5 51v3.5M732.5 332v-3.5M732.5 51v3.5M737.5 332v-3.5M737.5 51v3.5M741.5 332v-3.5M741.5 51v3.5M609.5 332v-6.5M609.5 51v6.5M631.5 332v-6.5M631.5 51v6.5M653.5 332v-6.5M653.5 51v6.5M675.5 332v-6.5M675.5 51v6.5M697.5 332v-6.5M697.5 51v6.5M719.5 332v-6.5M719.5 51v6.5M741.5 332v-6.5M741.5 51v6.5" stroke="#000" stroke-width="1" fill="none"/>
<text x="609.5" y="343.8" font-size="8.3" text-anchor="middle" textLength="19.5" lengthAdjust="spacingAndGlyphs" font-weight="bold">–150</text>
<text x="631.5" y="343.8" font-size="8.3" text-anchor="middle" textLength="19.5" lengthAdjust="spacingAndGlyphs" font-weight="bold">–100</text>
<text x="653.5" y="343.8" font-size="8.3" text-anchor="middle" textLength="14.9" lengthAdjust="spacingAndGlyphs" font-weight="bold">–50</text>
<text x="675.5" y="343.8" font-size="8.3" text-anchor="middle" textLength="3.8" lengthAdjust="spacingAndGlyphs" font-weight="bold">0</text>
<text x="697.5" y="343.8" font-size="8.3" text-anchor="middle" textLength="8.4" lengthAdjust="spacingAndGlyphs" font-weight="bold">50</text>
<text x="719.5" y="343.8" font-size="8.3" text-anchor="middle" textLength="13" lengthAdjust="spacingAndGlyphs" font-weight="bold">100</text>
<text x="675.5" y="353" font-size="7.8" text-anchor="middle" textLength="80" lengthAdjust="spacingAndGlyphs" >Radial Velocity (m/s)</text>
<path d="M609 331.5h4M742 331.5h-4M609 316.5h2.5M742 316.5h-2.5M609 302.5h2.5M742 302.5h-2.5M609 287.5h2.5M742 287.5h-2.5M609 272.5h4M742 272.5h-4M609 257.5h2.5M742 257.5h-2.5M609 242.5h2.5M742 242.5h-2.5M609 228.5h2.5M742 228.5h-2.5M609 213.5h4M742 213.5h-4M609 198.5h2.5M742 198.5h-2.5M609 183.5h2.5M742 183.5h-2.5M609 168.5h2.5M742 168.5h-2.5M609 154.5h4M742 154.5h-4M609 139.5h2.5M742 139.5h-2.5M609 124.5h2.5M742 124.5h-2.5M609 109.5h2.5M742 109.5h-2.5M609 94.5h4M742 94.5h-4M609 80.5h2.5M742 80.5h-2.5M609 65.5h2.5M742 65.5h-2.5" stroke="#000" stroke-width="1" fill="none"/>
<rect x="759.5" y="51.5" width="132" height="280" fill="#ffffd8"/>
<path d="M800.96 218.35v4M803.85 218.35v4M827.99 218.35v4M835.93 218.35v4M846.05 218.35v4M783.91 222.68v4M768.88 227.31v4M812.81 227.31v4M761.95 231.79v4M806.74 240.31v4M822.93 240.31v4" stroke="#fff" stroke-width="1"/>
<rect x="759.5" y="51.5" width="132" height="280" fill="none" stroke="#000" stroke-width="1"/>
<path d="M759.5 332v-3.5M759.5 51v3.5M763.5 332v-3.5M763.5 51v3.5M768.5 332v-3.5M768.5 51v3.5M772.5 332v-3.5M772.5 51v3.5M777.5 332v-3.5M777.5 51v3.5M781.5 332v-3.5M781.5 51v3.5M785.5 332v-3.5M785.5 51v3.5M790.5 332v-3.5M790.5 51v3.5M794.5 332v-3.5M794.5 51v3.5M799.5 332v-3.5M799.5 51v3.5M803.5 332v-3.5M803.5 51v3.5M807.5 332v-3.5M807.5 51v3.5M812.5 332v-3.5M812.5 51v3.5M816.5 332v-3.5M816.5 51v3.5M821.5 332v-3.5M821.5 51v3.5M825.5 332v-3.5M825.5 51v3.5M829.5 332v-3.5M829.5 51v3.5M834.5 332v-3.5M834.5 51v3.5M838.5 332v-3.5M838.5 51v3.5M843.5 332v-3.5M843.5 51v3.5M847.5 332v-3.5M847.5 51v3.5M851.5 332v-3.5M851.5 51v3.5M856.5 332v-3.5M856.5 51v3.5M860.5 332v-3.5M860.5 51v3.5M865.5 332v-3.5M865.5 51v3.5M869.5 332v-3.5M869.5 51v3.5M873.5 332v-3.5M873.5 51v3.5M878.5 332v-3.5M878.5 51v3.5M882.5 332v-3.5M882.5 51v3.5M887.5 332v-3.5M887.5 51v3.5M891.5 332v-3.5M891.5 51v3.5M759.5 332v-6.5M759.5 51v6.5M781.5 332v-6.5M781.5 51v6.5M803.5 332v-6.5M803.5 51v6.5M825.5 332v-6.5M825.5 51v6.5M847.5 332v-6.5M847.5 51v6.5M869.5 332v-6.5M869.5 51v6.5M891.5 332v-6.5M891.5 51v6.5" stroke="#000" stroke-width="1" fill="none"/>
<text x="759.5" y="343.8" font-size="8.3" text-anchor="middle" textLength="19.5" lengthAdjust="spacingAndGlyphs" font-weight="bold">–150</text>
<text x="781.5" y="343.8" font-size="8.3" text-anchor="middle" textLength="19.5" lengthAdjust="spacingAndGlyphs" font-weight="bold">–100</text>
<text x="803.5" y="343.8" font-size="8.3" text-anchor="middle" textLength="14.9" lengthAdjust="spacingAndGlyphs" font-weight="bold">–50</text>
<text x="825.5" y="343.8" font-size="8.3" text-anchor="middle" textLength="3.8" lengthAdjust="spacingAndGlyphs" font-weight="bold">0</text>
<text x="847.5" y="343.8" font-size="8.3" text-anchor="middle" textLength="8.4" lengthAdjust="spacingAndGlyphs" font-weight="bold">50</text>
<text x="869.5" y="343.8" font-size="8.3" text-anchor="middle" textLength="13" lengthAdjust="spacingAndGlyphs" font-weight="bold">100</text>
<text x="825.5" y="353" font-size="7.8" text-anchor="middle" textLength="80" lengthAdjust="spacingAndGlyphs" >Radial Velocity (m/s)</text>
<path d="M759 331.5h4M892 331.5h-4M759 316.5h2.5M892 316.5h-2.5M759 302.5h2.5M892 302.5h-2.5M759 287.5h2.5M892 287.5h-2.5M759 272.5h4M892 272.5h-4M759 257.5h2.5M892 257.5h-2.5M759 242.5h2.5M892 242.5h-2.5M759 228.5h2.5M892 228.5h-2.5M759 213.5h4M892 213.5h-4M759 198.5h2.5M892 198.5h-2.5M759 183.5h2.5M892 183.5h-2.5M759 168.5h2.5M892 168.5h-2.5M759 154.5h4M892 154.5h-4M759 139.5h2.5M892 139.5h-2.5M759 124.5h2.5M892 124.5h-2.5M759 109.5h2.5M892 109.5h-2.5M759 94.5h4M892 94.5h-4M759 80.5h2.5M892 80.5h-2.5M759 65.5h2.5M892 65.5h-2.5" stroke="#000" stroke-width="1" fill="none"/>
<path d="M236.5 55V331M253.5 55V331M270.5 55V331M288.5 55V331" stroke="#000" stroke-width="1.15" stroke-dasharray="1.15 4.85"/>
<path d="M215.5 332v-3.8M215.5 51v3.8M222.5 332v-3.8M222.5 51v3.8M229.5 332v-3.8M229.5 51v3.8M243.5 332v-3.8M243.5 51v3.8M250.5 332v-3.8M250.5 51v3.8M257.5 332v-3.8M257.5 51v3.8M264.5 332v-3.8M264.5 51v3.8M277.5 332v-3.8M277.5 51v3.8M284.5 332v-3.8M284.5 51v3.8M236.5 332v-7M236.5 51v7M270.5 332v-7M270.5 51v7" stroke="#000" stroke-width="1" fill="none"/>
<path d="M209 331.5h4M292 331.5h-4M209 319.5h2.5M292 319.5h-2.5M209 307.5h2.5M292 307.5h-2.5M209 296.5h2.5M292 296.5h-2.5M209 284.5h2.5M292 284.5h-2.5M209 272.5h4M292 272.5h-4M209 260.5h2.5M292 260.5h-2.5M209 248.5h2.5M292 248.5h-2.5M209 236.5h2.5M292 236.5h-2.5M209 225.5h2.5M292 225.5h-2.5M209 213.5h4M292 213.5h-4M209 201.5h2.5M292 201.5h-2.5M209 189.5h2.5M292 189.5h-2.5M209 177.5h2.5M292 177.5h-2.5M209 165.5h2.5M292 165.5h-2.5M209 154.5h4M292 154.5h-4M209 142.5h2.5M292 142.5h-2.5M209 130.5h2.5M292 130.5h-2.5M209 118.5h2.5M292 118.5h-2.5M209 106.5h2.5M292 106.5h-2.5M209 94.5h4M292 94.5h-4M209 83.5h2.5M292 83.5h-2.5M209 71.5h2.5M292 71.5h-2.5M209 59.5h2.5M292 59.5h-2.5" stroke="#000" stroke-width="1" fill="none"/>
<rect x="209.5" y="51.5" width="82" height="280" fill="none" stroke="#000" stroke-width="1"/>
<text x="236.5" y="343.8" font-size="8.3" text-anchor="middle" textLength="8.4" lengthAdjust="spacingAndGlyphs" font-weight="bold">30</text>
<text x="270.5" y="343.8" font-size="8.3" text-anchor="middle" textLength="8.4" lengthAdjust="spacingAndGlyphs" font-weight="bold">40</text>
<text x="250.5" y="353" font-size="7.8" text-anchor="middle" textLength="9" lengthAdjust="spacingAndGlyphs" >dB</text>
<path d="M519.5 55V331M536.5 55V331M553.5 55V331M588.5 55V331" stroke="#000" stroke-width="1.15" stroke-dasharray="1.15 4.85"/>
<path d="M509 331.5h4M592 331.5h-4M509 319.5h2.5M592 319.5h-2.5M509 307.5h2.5M592 307.5h-2.5M509 296.5h2.5M592 296.5h-2.5M509 284.5h2.5M592 284.5h-2.5M509 272.5h4M592 272.5h-4M509 260.5h2.5M592 260.5h-2.5M509 248.5h2.5M592 248.5h-2.5M509 236.5h2.5M592 236.5h-2.5M509 225.5h2.5M592 225.5h-2.5M509 213.5h4M592 213.5h-4M509 201.5h2.5M592 201.5h-2.5M509 189.5h2.5M592 189.5h-2.5M509 177.5h2.5M592 177.5h-2.5M509 165.5h2.5M592 165.5h-2.5M509 154.5h4M592 154.5h-4M509 142.5h2.5M592 142.5h-2.5M509 130.5h2.5M592 130.5h-2.5M509 118.5h2.5M592 118.5h-2.5M509 106.5h2.5M592 106.5h-2.5M509 94.5h4M592 94.5h-4M509 83.5h2.5M592 83.5h-2.5M509 71.5h2.5M592 71.5h-2.5M509 59.5h2.5M592 59.5h-2.5" stroke="#000" stroke-width="1" fill="none"/>
<rect x="509.5" y="51.5" width="82" height="280" fill="none" stroke="#000" stroke-width="1"/>
<text x="509.5" y="343.8" font-size="8.3" text-anchor="middle" textLength="3.8" lengthAdjust="spacingAndGlyphs" font-weight="bold">0</text>
<text x="116" y="373" font-size="9.8" text-anchor="middle" textLength="134.5" lengthAdjust="spacingAndGlyphs" >Channel C – Noise: 25.38dB</text>
<text x="250.5" y="373" font-size="9.8" text-anchor="middle" textLength="61" lengthAdjust="spacingAndGlyphs" >Power Profile</text>
<text x="416" y="373" font-size="9.8" text-anchor="middle" textLength="134" lengthAdjust="spacingAndGlyphs" >Channel D – Noise: 25.38dB</text>
<text x="550.5" y="373" font-size="9.8" text-anchor="middle" textLength="81" lengthAdjust="spacingAndGlyphs" >Coherence Profile</text>
<text x="675.5" y="373" font-size="9.8" text-anchor="middle" textLength="61" lengthAdjust="spacingAndGlyphs" >Magnitude CD</text>
<text x="825.5" y="373" font-size="9.8" text-anchor="middle" textLength="43" lengthAdjust="spacingAndGlyphs" >Phase CD</text>
<path stroke="#ff0000" stroke-width="2.32" shape-rendering="crispEdges" d="M32.5 655.34h168"/>
<path stroke="#ff0000" stroke-width="4.44" shape-rendering="crispEdges" d="M32.5 651.96h168M32.5 647.51h168M32.5 643.07h168M32.5 638.63h168M32.5 634.19h168M32.5 629.74h168M32.5 625.3h168M32.5 620.86h168M32.5 616.42h168M32.5 558.66h168M32.5 554.22h168M32.5 549.78h168M32.5 545.34h168"/>
<path stroke="#ff7800" stroke-width="4.44" shape-rendering="crispEdges" d="M32.5 611.97h168M32.5 563.11h168"/>
<path stroke="#4860ff" stroke-width="4.44" shape-rendering="crispEdges" d="M32.5 607.53h168M32.5 603.09h168M32.5 585.32h168M32.5 576.43h168M32.5 438.71h168M32.5 434.27h168M32.5 425.38h168"/>
<path stroke="#6060ff" stroke-width="4.44" shape-rendering="crispEdges" d="M32.5 598.65h168M32.5 594.2h168M32.5 589.76h168M32.5 580.88h168M32.5 571.99h168M32.5 420.94h168M32.5 407.61h168M32.5 403.17h168M32.5 398.73h168M32.5 394.29h168M32.5 389.84h168M32.5 385.4h168"/>
<path stroke="#3078ff" stroke-width="4.44" shape-rendering="crispEdges" d="M32.5 567.55h168M32.5 456.48h168M32.5 452.04h168"/>
<path stroke="#ff3000" stroke-width="4.44" shape-rendering="crispEdges" d="M32.5 540.89h168"/>
<path stroke="#00d8ff" stroke-width="4.44" shape-rendering="crispEdges" d="M32.5 536.45h168"/>
<path stroke="#00c0ff" stroke-width="4.44" shape-rendering="crispEdges" d="M32.5 532.01h168M32.5 527.56h168M32.5 523.12h168"/>
<path stroke="#18a8ff" stroke-width="4.44" shape-rendering="crispEdges" d="M32.5 518.68h168M32.5 514.24h168M32.5 509.79h168M32.5 505.35h168M32.5 500.91h168"/>
<path stroke="#3090ff" stroke-width="4.44" shape-rendering="crispEdges" d="M32.5 496.47h168M32.5 492.02h168M32.5 487.58h168M32.5 483.14h168M32.5 478.7h168M32.5 474.25h168M32.5 465.37h168"/>
<path stroke="#1890ff" stroke-width="4.44" shape-rendering="crispEdges" d="M32.5 469.81h168"/>
<path stroke="#1878ff" stroke-width="4.44" shape-rendering="crispEdges" d="M32.5 460.93h168"/>
<path stroke="#3060ff" stroke-width="4.44" shape-rendering="crispEdges" d="M32.5 447.6h168"/>
<path stroke="#4878ff" stroke-width="4.44" shape-rendering="crispEdges" d="M32.5 443.16h168"/>
<path stroke="#3048ff" stroke-width="4.44" shape-rendering="crispEdges" d="M32.5 429.83h168"/>
<path stroke="#4848ff" stroke-width="4.44" shape-rendering="crispEdges" d="M32.5 416.5h168M32.5 412.06h168"/>
<path stroke="#7878ff" stroke-width="4.44" shape-rendering="crispEdges" d="M32.5 380.96h168"/>
<path stroke="#6060ff" stroke-width="2.24" shape-rendering="crispEdges" d="M32.5 377.62h168"/>
<path stroke="#fff000" stroke-width="4.44" shape-rendering="crispEdges" d="M32.5 611.97h3.97m2.65 0h1.32m1.32 0h2.65m1.32 0h5.29m3.97 0h1.32m1.32 0h1.32m3.97 0h1.32m2.65 0h2.65m1.32 0h1.32m1.32 0h3.97m2.65 0h2.65m1.32 0h2.65m1.32 0h2.65m1.32 0h1.32m1.32 0h1.32m1.32 0h1.32M32.5 563.11h10.58m1.32 0h10.58m3.97 0h3.97m1.32 0h3.97m1.32 0h2.65m1.32 0h2.65m1.32 0h1.32m1.32 0h2.65m1.32 0h3.97m1.32 0h1.32m1.32 0h1.32M32.5 532.01h1.32m2.65 0h1.32m2.65 0h1.32m59.53 0h2.65m13.23 0h1.32m3.97 0h1.32m25.13 0h1.32m18.52 0h1.32m7.94 0h1.32m11.91 0h1.32M56.31 527.56h2.65m2.65 0h1.32m9.26 0h1.32m7.94 0h1.32m15.87 0h2.65m31.75 0h1.32m19.84 0h2.65m27.78 0h1.32"/>
<path stroke="#ffa800" stroke-width="4.44" shape-rendering="crispEdges" d="M36.47 611.97h2.65m1.32 0h1.32m2.65 0h1.32m5.29 0h3.97m1.32 0h1.32m1.32 0h3.97m1.32 0h2.65m2.65 0h1.32m1.32 0h1.32m3.97 0h2.65m2.65 0h1.32m2.65 0h1.32m2.65 0h1.32m1.32 0h1.32m1.32 0h1.32m1.32 0h2.65m3.97 0h1.32m2.65 0h1.32m2.65 0h1.32m2.65 0h1.32m1.32 0h2.65m6.61 0h1.32m1.32 0h2.65m1.32 0h1.32m1.32 0h1.32m7.94 0h1.32m1.32 0h1.32m6.61 0h1.32m5.29 0h3.97m6.61 0h1.32m10.58 0h1.32m5.29 0h1.32M43.08 563.11h1.32m10.58 0h3.97m3.97 0h1.32m3.97 0h1.32m2.65 0h1.32m2.65 0h1.32m1.32 0h1.32m2.65 0h1.32m3.97 0h1.32m1.32 0h1.32m13.23 0h2.65m5.29 0h2.65m1.32 0h2.65m10.58 0h1.32m1.32 0h2.65m7.94 0h3.97m3.97 0h2.65m2.65 0h1.32m1.32 0h2.65m5.29 0h2.65m5.29 0h2.65m3.97 0h2.65m2.65 0h1.32m5.29 0h1.32"/>
<path stroke="#6078ff" stroke-width="4.44" shape-rendering="crispEdges" d="M32.5 607.53h2.65m2.65 0h1.32m2.65 0h2.65m1.32 0h1.32m2.65 0h1.32m1.32 0h3.97m6.61 0h1.32m3.97 0h1.32m2.65 0h1.32m66.14 0h1.32m10.58 0h1.32m3.97 0h1.32m1.32 0h1.32m9.26 0h1.32m9.26 0h2.65m7.94 0h1.32m5.29 0h1.32M39.11 603.09h1.32m5.29 0h1.32m18.52 0h1.32m5.29 0h1.32m9.26 0h2.65m9.26 0h1.32m10.58 0h1.32m9.26 0h1.32m1.32 0h1.32m1.32 0h1.32m6.61 0h1.32m7.94 0h1.32m7.94 0h1.32m3.97 0h2.65m19.84 0h1.32m3.97 0h1.32m2.65 0h1.32m6.61 0h1.32m3.97 0h1.32M56.31 598.65h1.32m19.84 0h2.65m2.65 0h1.32m6.61 0h1.32m1.32 0h2.65m2.65 0h1.32m42.33 0h1.32m10.58 0h1.32m7.94 0h2.65m3.97 0h1.32m2.65 0h1.32m1.32 0h1.32m10.58 0h1.32M39.11 594.2h1.32m5.29 0h1.32m18.52 0h1.32m17.2 0h1.32m7.94 0h1.32m2.65 0h1.32m3.97 0h1.32m11.91 0h1.32m3.97 0h1.32m2.65 0h2.65m11.91 0h1.32m7.94 0h2.65m2.65 0h1.32m9.26 0h1.32m1.32 0h2.65m3.97 0h1.32m15.87 0h1.32M35.15 589.76h1.32m11.91 0h1.32m35.72 0h2.65m17.2 0h1.32m11.91 0h1.32m19.84 0h1.32m1.32 0h1.32m26.46 0h2.65m1.32 0h1.32m1.32 0h1.32m13.23 0h1.32m2.65 0h1.32m1.32 0h1.32M36.47 585.32h1.32m13.23 0h1.32m14.55 0h2.65m11.91 0h1.32m6.61 0h1.32m17.2 0h1.32m22.49 0h1.32m11.91 0h1.32m9.26 0h1.32m6.61 0h1.32m10.58 0h1.32m1.32 0h1.32m3.97 0h1.32m5.29 0h1.32M39.11 580.88h1.32m2.65 0h1.32m9.26 0h2.65m14.55 0h1.32m13.23 0h1.32m10.58 0h1.32m1.32 0h1.32m7.94 0h1.32m15.87 0h1.32m11.91 0h1.32m35.72 0h1.32m18.52 0h1.32m1.32 0h1.32M48.37 576.43h1.32m21.17 0h1.32m2.65 0h2.65m5.29 0h1.32m33.07 0h1.32m7.94 0h1.32m5.29 0h1.32m9.26 0h1.32m6.61 0h1.32m5.29 0h1.32m10.58 0h1.32m6.61 0h1.32m7.94 0h1.32M43.08 571.99h1.32m17.2 0h1.32m1.32 0h1.32m1.32 0h1.32m2.65 0h1.32m6.61 0h1.32m6.61 0h1.32m7.94 0h1.32m35.72 0h1.32m9.26 0h1.32m3.97 0h1.32m7.94 0h2.65m2.65 0h1.32m9.26 0h2.65m2.65 0h1.32m10.58 0h1.32m6.61 0h1.32M47.05 438.71h1.32m37.04 0h1.32m22.49 0h1.32m10.58 0h2.65m7.94 0h1.32m2.65 0h2.65m23.81 0h1.32m2.65 0h1.32M39.11 434.27h1.32m14.55 0h1.32m1.32 0h1.32m6.61 0h1.32m13.23 0h1.32m18.52 0h1.32m2.65 0h2.65m3.97 0h1.32m1.32 0h1.32m1.32 0h2.65m13.23 0h1.32m3.97 0h1.32m7.94 0h1.32m10.58 0h1.32m7.94 0h1.32m3.97 0h2.65m9.26 0h1.32M32.5 429.83h1.32m11.91 0h1.32m5.29 0h1.32m6.61 0h1.32m11.91 0h1.32m2.65 0h1.32m5.29 0h2.65m1.32 0h1.32m10.58 0h1.32m3.97 0h1.32m18.52 0h1.32m9.26 0h1.32m5.29 0h1.32m5.29 0h1.32m18.52 0h1.32m6.61 0h1.32m3.97 0h2.65m6.61 0h1.32M44.41 425.38h1.32m1.32 0h1.32m2.65 0h1.32m7.94 0h1.32m2.65 0h1.32m3.97 0h3.97m2.65 0h2.65m1.32 0h1.32m9.26 0h1.32m3.97 0h2.65m3.97 0h1.32m6.61 0h1.32m2.65 0h2.65m2.65 0h1.32m1.32 0h2.65m9.26 0h1.32m5.29 0h1.32m27.78 0h1.32m2.65 0h2.65m6.61 0h2.65m3.97 0h1.32m6.61 0h1.32M36.47 420.94h1.32m1.32 0h1.32m18.52 0h3.97m6.61 0h1.32m10.58 0h1.32m3.97 0h1.32m35.72 0h1.32m22.49 0h1.32m7.94 0h1.32m5.29 0h1.32m2.65 0h2.65m10.58 0h1.32m1.32 0h1.32m2.65 0h1.32m1.32 0h1.32m7.94 0h1.32M33.82 416.5h1.32m3.97 0h1.32m2.65 0h1.32m3.97 0h1.32m1.32 0h1.32m2.65 0h1.32m5.29 0h1.32m1.32 0h2.65m6.61 0h1.32m2.65 0h1.32m42.33 0h1.32m3.97 0h1.32m14.55 0h1.32m6.61 0h1.32m1.32 0h2.65m2.65 0h1.32m3.97 0h1.32m3.97 0h1.32m1.32 0h1.32m6.61 0h1.32m11.91 0h1.32m5.29 0h1.32M41.76 412.06h1.32m7.94 0h1.32m6.61 0h1.32m5.29 0h1.32m11.91 0h1.32m27.78 0h1.32m30.43 0h1.32m2.65 0h1.32m19.84 0h1.32M35.15 407.61h1.32m18.52 0h1.32m9.26 0h1.32m10.58 0h1.32m34.39 0h1.32m5.29 0h2.65m10.58 0h1.32m2.65 0h1.32m27.78 0h2.65M72.19 403.17h1.32m30.43 0h1.32m10.58 0h1.32m9.26 0h2.65m2.65 0h1.32m5.29 0h1.32m9.26 0h1.32m44.98 0h1.32M70.86 398.73h1.32M56.31 394.29h1.32m1.32 0h1.32m2.65 0h1.32m59.53 0h1.32M41.76 389.84h1.32m5.29 0h1.32m3.97 0h1.32M84.09 380.96h1.32"/>
<path stroke="#4848ff" stroke-width="4.44" shape-rendering="crispEdges" d="M35.15 607.53h1.32m3.97 0h1.32m2.65 0h1.32m1.32 0h1.32m7.94 0h2.65m6.61 0h1.32m15.87 0h1.32m54.24 0h1.32m7.94 0h1.32m9.26 0h1.32m2.65 0h1.32m9.26 0h1.32m14.55 0h1.32M32.5 603.09h2.65m5.29 0h1.32m1.32 0h1.32m2.65 0h1.32m13.23 0h1.32m13.23 0h1.32m2.65 0h2.65m18.52 0h1.32m1.32 0h1.32m3.97 0h1.32m1.32 0h1.32m21.17 0h1.32m11.91 0h1.32m14.55 0h1.32m6.61 0h2.65m10.58 0h1.32m2.65 0h1.32m6.61 0h1.32M43.08 598.65h1.32m1.32 0h1.32m2.65 0h1.32m1.32 0h1.32m3.97 0h1.32m2.65 0h1.32m3.97 0h1.32m7.94 0h1.32m3.97 0h1.32m1.32 0h1.32m6.61 0h1.32m6.61 0h1.32m9.26 0h1.32m3.97 0h1.32m3.97 0h1.32m1.32 0h3.97m5.29 0h1.32m1.32 0h1.32m2.65 0h1.32m11.91 0h1.32m5.29 0h1.32m1.32 0h1.32m5.29 0h1.32m14.55 0h1.32m6.61 0h1.32M33.82 594.2h2.65m14.55 0h1.32m7.94 0h1.32m13.23 0h7.94m3.97 0h1.32m25.13 0h2.65m2.65 0h2.65m6.61 0h2.65m2.65 0h1.32m2.65 0h2.65m5.29 0h1.32m13.23 0h2.65m3.97 0h1.32m9.26 0h1.32m5.29 0h2.65m2.65 0h1.32m2.65 0h1.32M32.5 589.76h1.32m6.61 0h2.65m1.32 0h2.65m5.29 0h1.32m5.29 0h1.32m1.32 0h2.65m9.26 0h1.32m6.61 0h2.65m7.94 0h1.32m2.65 0h1.32m1.32 0h1.32m2.65 0h1.32m15.87 0h3.97m2.65 0h1.32m6.61 0h1.32m1.32 0h1.32m2.65 0h1.32m3.97 0h3.97m7.94 0h2.65m14.55 0h1.32m7.94 0h1.32m1.32 0h1.32M40.44 585.32h1.32m3.97 0h1.32m5.29 0h1.32m18.52 0h1.32m1.32 0h1.32m21.17 0h3.97m1.32 0h2.65m5.29 0h3.97m2.65 0h1.32m3.97 0h1.32m2.65 0h1.32m7.94 0h3.97m3.97 0h1.32m5.29 0h1.32m1.32 0h1.32m2.65 0h1.32m1.32 0h1.32m3.97 0h1.32m10.58 0h1.32m2.65 0h2.65m9.26 0h1.32M44.41 580.88h2.65m2.65 0h2.65m6.61 0h1.32m3.97 0h2.65m1.32 0h2.65m2.65 0h2.65m1.32 0h1.32m1.32 0h2.65m3.97 0h2.65m1.32 0h1.32m3.97 0h1.32m5.29 0h5.29m10.58 0h1.32m3.97 0h1.32m5.29 0h1.32m3.97 0h1.32m5.29 0h1.32m1.32 0h1.32m15.87 0h1.32m6.61 0h1.32m6.61 0h1.32m1.32 0h2.65m3.97 0h1.32m3.97 0h2.65M52.34 576.43h1.32m9.26 0h1.32m2.65 0h2.65m9.26 0h3.97m3.97 0h1.32m10.58 0h1.32m14.55 0h2.65m1.32 0h1.32m15.87 0h1.32m2.65 0h1.32m1.32 0h1.32m2.65 0h1.32m9.26 0h1.32m3.97 0h1.32m5.29 0h1.32m2.65 0h1.32m1.32 0h2.65m10.58 0h1.32m3.97 0h1.32m1.32 0h1.32m1.32 0h1.32M32.5 571.99h1.32m1.32 0h1.32m2.65 0h1.32m7.94 0h1.32m2.65 0h2.65m2.65 0h1.32m3.97 0h1.32m7.94 0h3.97m7.94 0h1.32m3.97 0h1.32m1.32 0h1.32m1.32 0h1.32m6.61 0h1.32m2.65 0h1.32m2.65 0h1.32m13.23 0h1.32m5.29 0h1.32m6.61 0h1.32m9.26 0h3.97m13.23 0h1.32m13.23 0h1.32m11.91 0h1.32m1.32 0h1.32M33.82 429.83h1.32m1.32 0h1.32m1.32 0h1.32m21.17 0h1.32m15.87 0h1.32m9.26 0h1.32m2.65 0h1.32m6.61 0h1.32m3.97 0h2.65m27.78 0h1.32m21.17 0h1.32m3.97 0h1.32m5.29 0h1.32m6.61 0h1.32M37.79 425.38h2.65m11.91 0h1.32m2.65 0h1.32m10.58 0h1.32m13.23 0h1.32m1.32 0h1.32m13.23 0h1.32m6.61 0h1.32m7.94 0h2.65m10.58 0h2.65m3.97 0h1.32m1.32 0h1.32m5.29 0h1.32m3.97 0h1.32m3.97 0h2.65m3.97 0h1.32m6.61 0h1.32m7.94 0h1.32M41.76 420.94h1.32m5.29 0h1.32m30.43 0h1.32m2.65 0h1.32m3.97 0h1.32m2.65 0h1.32m1.32 0h1.32m2.65 0h1.32m5.29 0h2.65m5.29 0h1.32m5.29 0h1.32m5.29 0h1.32m1.32 0h1.32m26.46 0h1.32m13.23 0h5.29m6.61 0h2.65m1.32 0h1.32M33.82 407.61h1.32m5.29 0h2.65m2.65 0h1.32m3.97 0h1.32m3.97 0h1.32m14.55 0h1.32m1.32 0h1.32m7.94 0h1.32m2.65 0h1.32m1.32 0h1.32m2.65 0h1.32m2.65 0h1.32m5.29 0h2.65m2.65 0h1.32m11.91 0h3.97m1.32 0h1.32m14.55 0h1.32m1.32 0h1.32m1.32 0h3.97m2.65 0h1.32m11.91 0h1.32m11.91 0h1.32m5.29 0h1.32m1.32 0h1.32m3.97 0h1.32M32.5 403.17h1.32m3.97 0h1.32m7.94 0h1.32m2.65 0h2.65m3.97 0h1.32m15.87 0h3.97m6.61 0h1.32m1.32 0h1.32m2.65 0h1.32m9.26 0h1.32m10.58 0h1.32m25.13 0h2.65m9.26 0h2.65m5.29 0h1.32m2.65 0h1.32m10.58 0h1.32m2.65 0h1.32m7.94 0h1.32m1.32 0h1.32m2.65 0h1.32m1.32 0h1.32M32.5 398.73h1.32m9.26 0h1.32m2.65 0h1.32m5.29 0h2.65m3.97 0h2.65m1.32 0h1.32m10.58 0h1.32m1.32 0h1.32m15.87 0h1.32m2.65 0h1.32m7.94 0h1.32m9.26 0h1.32m3.97 0h1.32m3.97 0h1.32m15.87 0h1.32m3.97 0h1.32m2.65 0h2.65m1.32 0h1.32m3.97 0h1.32m3.97 0h1.32m10.58 0h2.65m3.97 0h2.65m2.65 0h1.32M33.82 394.29h1.32m9.26 0h1.32m9.26 0h1.32m15.87 0h1.32m5.29 0h1.32m13.23 0h1.32m14.55 0h1.32m1.32 0h1.32m7.94 0h1.32m2.65 0h1.32m10.58 0h1.32m14.55 0h1.32m2.65 0h1.32m2.65 0h1.32m15.87 0h1.32m1.32 0h1.32m5.29 0h1.32m2.65 0h1.32M43.08 389.84h1.32m13.23 0h1.32m6.61 0h2.65m17.2 0h1.32m10.58 0h1.32m6.61 0h1.32m1.32 0h1.32m5.29 0h1.32m6.61 0h1.32m14.55 0h3.97m1.32 0h1.32m2.65 0h1.32m6.61 0h1.32m1.32 0h1.32m9.26 0h1.32m13.23 0h1.32m2.65 0h1.32m5.29 0h1.32M47.05 385.4h1.32m33.07 0h1.32m13.23 0h1.32m3.97 0h1.32m1.32 0h1.32m19.84 0h1.32m21.17 0h1.32m18.52 0h1.32m1.32 0h1.32m1.32 0h1.32m6.61 0h1.32m1.32 0h1.32m9.26 0h2.65m2.65 0h1.32M33.82 380.96h1.32m3.97 0h1.32m1.32 0h1.32m17.2 0h1.32m19.84 0h1.32m15.87 0h1.32m22.49 0h1.32m1.32 0h1.32m3.97 0h1.32m2.65 0h1.32m3.97 0h1.32m5.29 0h1.32m5.29 0h1.32m13.23 0h1.32m11.91 0h1.32m13.23 0h2.65m1.32 0h1.32"/>
<path stroke="#6060ff" stroke-width="4.44" shape-rendering="crispEdges" d="M36.47 607.53h1.32m1.32 0h1.32m10.58 0h1.32m11.91 0h1.32m1.32 0h1.32m2.65 0h1.32m3.97 0h2.65m1.32 0h2.65m3.97 0h1.32m47.62 0h1.32m6.61 0h3.97m2.65 0h1.32m1.32 0h1.32m6.61 0h1.32m3.97 0h1.32m6.61 0h2.65m13.23 0h1.32m1.32 0h1.32m1.32 0h2.65M37.79 603.09h1.32m11.91 0h1.32m2.65 0h1.32m1.32 0h3.97m2.65 0h1.32m1.32 0h1.32m2.65 0h1.32m5.29 0h2.65m6.61 0h3.97m5.29 0h1.32m7.94 0h1.32m11.91 0h1.32m1.32 0h1.32m2.65 0h1.32m1.32 0h1.32m2.65 0h2.65m3.97 0h1.32m2.65 0h1.32m2.65 0h1.32m5.29 0h1.32m2.65 0h1.32m1.32 0h1.32m1.32 0h1.32m6.61 0h1.32m3.97 0h1.32m13.23 0h1.32m1.32 0h1.32m1.32 0h1.32M33.82 585.32h1.32m3.97 0h1.32m1.32 0h1.32m1.32 0h1.32m9.26 0h1.32m1.32 0h1.32m2.65 0h3.97m11.91 0h1.32m1.32 0h1.32m1.32 0h1.32m9.26 0h1.32m1.32 0h1.32m9.26 0h1.32m11.91 0h2.65m2.65 0h1.32m3.97 0h1.32m2.65 0h1.32m5.29 0h2.65m10.58 0h1.32m2.65 0h1.32m1.32 0h1.32m10.58 0h2.65m3.97 0h1.32m3.97 0h1.32m1.32 0h1.32m7.94 0h2.65M32.5 576.43h1.32m6.61 0h2.65m18.52 0h1.32m1.32 0h1.32m6.61 0h1.32m3.97 0h1.32m5.29 0h1.32m10.58 0h1.32m2.65 0h1.32m1.32 0h1.32m3.97 0h3.97m10.58 0h1.32m1.32 0h1.32m1.32 0h1.32m1.32 0h1.32m5.29 0h2.65m7.94 0h1.32m10.58 0h1.32m2.65 0h3.97m6.61 0h1.32m5.29 0h2.65m2.65 0h1.32m2.65 0h1.32m1.32 0h1.32m1.32 0h1.32M49.7 429.83h2.65m22.49 0h1.32m15.87 0h1.32m21.17 0h2.65m1.32 0h1.32m3.97 0h1.32m3.97 0h2.65m7.94 0h2.65m1.32 0h1.32m1.32 0h1.32m9.26 0h1.32m5.29 0h1.32m1.32 0h1.32m30.43 0h1.32M32.5 425.38h1.32m14.55 0h1.32m5.29 0h1.32m2.65 0h1.32m5.29 0h1.32m6.61 0h1.32m13.23 0h2.65m7.94 0h1.32m1.32 0h1.32m39.69 0h2.65m9.26 0h2.65m10.58 0h1.32m30.43 0h1.32M36.47 416.5h2.65m7.94 0h1.32m11.91 0h1.32m5.29 0h1.32m1.32 0h1.32m5.29 0h1.32m10.58 0h1.32m3.97 0h1.32m10.58 0h1.32m3.97 0h1.32m15.87 0h1.32m1.32 0h1.32m1.32 0h1.32m2.65 0h1.32m10.58 0h1.32m1.32 0h1.32m3.97 0h1.32m3.97 0h1.32m1.32 0h2.65m2.65 0h1.32m1.32 0h2.65m1.32 0h2.65m5.29 0h1.32m5.29 0h1.32M32.5 412.06h1.32m6.61 0h1.32m2.65 0h1.32m9.26 0h1.32m1.32 0h1.32m3.97 0h1.32m2.65 0h6.61m7.94 0h1.32m2.65 0h1.32m3.97 0h1.32m7.94 0h1.32m5.29 0h1.32m3.97 0h1.32m1.32 0h1.32m10.58 0h3.97m2.65 0h1.32m10.58 0h1.32m7.94 0h1.32m1.32 0h2.65m1.32 0h2.65m5.29 0h1.32m3.97 0h1.32m2.65 0h2.65m1.32 0h1.32m9.26 0h2.65M37.79 380.96h1.32m11.91 0h3.97m1.32 0h1.32m9.26 0h2.65m7.94 0h1.32m1.32 0h1.32m3.97 0h2.65m5.29 0h1.32m2.65 0h1.32m5.29 0h1.32m1.32 0h3.97m1.32 0h1.32m6.61 0h1.32m5.29 0h1.32m3.97 0h1.32m3.97 0h2.65m3.97 0h2.65m1.32 0h3.97m3.97 0h1.32m7.94 0h2.65m2.65 0h2.65m2.65 0h1.32m1.32 0h1.32m2.65 0h1.32m6.61 0h2.65m1.32 0h1.32"/>
<path stroke="#a8a8ff" stroke-width="4.44" shape-rendering="crispEdges" d="M48.37 607.53h1.32m34.39 0h1.32m83.34 0h1.32M98.64 429.83h1.32m11.91 0h1.32M127.74 425.38h1.32m31.75 0h1.32M131.71 420.94h1.32M57.63 416.5h1.32m3.97 0h1.32m31.75 0h1.32M73.51 412.06h1.32m13.23 0h1.32m6.61 0h2.65M117.16 407.61h1.32m43.65 0h1.32m5.29 0h1.32m11.91 0h1.32M89.38 403.17h1.32m10.58 0h1.32m60.85 0h1.32m13.23 0h2.65m7.94 0h1.32m7.94 0h1.32M62.93 398.73h1.32m67.46 0h1.32m11.91 0h1.32m9.26 0h1.32M37.79 394.29h1.32m22.49 0h1.32m17.2 0h1.32m33.07 0h1.32m35.72 0h1.32M39.11 389.84h1.32m27.78 0h1.32m26.46 0h1.32m27.78 0h1.32m34.39 0h1.32m22.49 0h1.32m13.23 0h1.32M37.79 385.4h1.32m6.61 0h1.32m72.76 0h1.32m54.24 0h1.32M32.5 380.96h1.32m1.32 0h1.32m34.39 0h1.32m42.33 0h1.32m25.13 0h1.32m18.52 0h1.32m1.32 0h1.32m23.81 0h1.32"/>
<path stroke="#4878ff" stroke-width="4.44" shape-rendering="crispEdges" d="M88.06 607.53h1.32m44.98 0h1.32M40.44 452.04h2.65m6.61 0h1.32m7.94 0h1.32m1.32 0h1.32m10.58 0h1.32m2.65 0h1.32m5.29 0h1.32m11.91 0h1.32m2.65 0h1.32m10.58 0h3.97m14.55 0h1.32m33.07 0h1.32m5.29 0h1.32m5.29 0h1.32M32.5 447.6h1.32m2.65 0h1.32m13.23 0h1.32m7.94 0h6.61m3.97 0h1.32m14.55 0h1.32m2.65 0h1.32m1.32 0h1.32m2.65 0h1.32m1.32 0h2.65m11.91 0h1.32m1.32 0h3.97m2.65 0h1.32m2.65 0h1.32m3.97 0h3.97m1.32 0h1.32m3.97 0h1.32m1.32 0h1.32m6.61 0h1.32m2.65 0h1.32m1.32 0h1.32m10.58 0h2.65m1.32 0h1.32m2.65 0h1.32m6.61 0h1.32m1.32 0h1.32m2.65 0h5.29M33.82 438.71h1.32m7.94 0h1.32m11.91 0h1.32m5.29 0h2.65m3.97 0h3.97m15.87 0h1.32m2.65 0h2.65m3.97 0h1.32m1.32 0h1.32m1.32 0h1.32m7.94 0h2.65m7.94 0h1.32m7.94 0h1.32m6.61 0h2.65m1.32 0h1.32m9.26 0h1.32m2.65 0h1.32m10.58 0h1.32m1.32 0h1.32m5.29 0h2.65M84.09 434.27h1.32m48.94 0h1.32"/>
<path stroke="#3078ff" stroke-width="4.44" shape-rendering="crispEdges" d="M89.38 607.53h1.32m42.33 0h1.32M49.7 536.45h5.29m5.29 0h1.32m6.61 0h1.32m1.32 0h1.32m7.94 0h1.32m3.97 0h2.65m2.65 0h2.65m1.32 0h3.97m2.65 0h1.32m23.81 0h1.32m21.17 0h1.32m2.65 0h1.32m1.32 0h1.32m7.94 0h1.32m2.65 0h1.32m5.29 0h1.32m1.32 0h1.32m3.97 0h1.32m13.23 0h1.32M33.82 532.01h1.32m11.91 0h2.65m10.58 0h1.32m6.61 0h1.32m6.61 0h1.32m1.32 0h1.32m5.29 0h1.32m7.94 0h1.32m3.97 0h1.32m23.81 0h1.32m1.32 0h1.32m5.29 0h2.65m1.32 0h1.32m14.55 0h1.32m2.65 0h1.32m21.17 0h1.32m5.29 0h1.32m5.29 0h2.65M36.47 527.56h1.32m3.97 0h1.32m9.26 0h1.32m5.29 0h2.65m2.65 0h1.32m18.52 0h1.32m11.91 0h1.32m3.97 0h1.32m3.97 0h1.32m14.55 0h1.32m2.65 0h1.32m1.32 0h1.32m5.29 0h1.32m7.94 0h1.32m13.23 0h1.32m1.32 0h1.32m2.65 0h1.32m5.29 0h1.32m15.87 0h1.32m1.32 0h1.32M39.11 523.12h2.65m2.65 0h1.32m1.32 0h3.97m3.97 0h1.32m5.29 0h1.32m1.32 0h1.32m3.97 0h2.65m1.32 0h1.32m2.65 0h1.32m3.97 0h2.65m6.61 0h1.32m1.32 0h2.65m1.32 0h2.65m6.61 0h1.32m1.32 0h1.32m7.94 0h1.32m3.97 0h2.65m5.29 0h5.29m7.94 0h1.32m3.97 0h1.32m1.32 0h2.65m3.97 0h2.65m6.61 0h1.32m2.65 0h1.32m9.26 0h1.32m1.32 0h1.32m3.97 0h1.32m1.32 0h2.65M43.08 518.68h1.32m3.97 0h1.32m9.26 0h1.32m10.58 0h1.32m15.87 0h1.32m9.26 0h1.32m18.52 0h1.32m1.32 0h1.32m10.58 0h1.32m1.32 0h1.32m1.32 0h2.65m1.32 0h1.32m10.58 0h1.32m1.32 0h1.32m1.32 0h1.32m5.29 0h1.32m5.29 0h2.65m1.32 0h1.32m3.97 0h3.97m1.32 0h1.32m2.65 0h3.97M32.5 514.24h2.65m19.84 0h3.97m2.65 0h1.32m5.29 0h1.32m1.32 0h1.32m1.32 0h2.65m1.32 0h1.32m6.61 0h1.32m10.58 0h1.32m2.65 0h1.32m5.29 0h1.32m11.91 0h1.32m10.58 0h1.32m3.97 0h1.32m5.29 0h1.32m2.65 0h1.32m3.97 0h1.32m3.97 0h1.32m11.91 0h1.32m6.61 0h1.32m3.97 0h2.65m5.29 0h1.32M32.5 509.79h3.97m3.97 0h1.32m3.97 0h1.32m2.65 0h1.32m19.84 0h1.32m6.61 0h2.65m2.65 0h1.32m11.91 0h2.65m14.55 0h1.32m7.94 0h1.32m1.32 0h1.32m1.32 0h1.32m2.65 0h1.32m1.32 0h2.65m1.32 0h1.32m2.65 0h2.65m7.94 0h1.32m3.97 0h1.32m2.65 0h2.65m6.61 0h1.32m1.32 0h1.32m1.32 0h1.32m3.97 0h1.32m13.23 0h1.32M40.44 505.35h1.32m1.32 0h1.32m2.65 0h1.32m2.65 0h2.65m9.26 0h1.32m2.65 0h1.32m1.32 0h1.32m3.97 0h1.32m9.26 0h1.32m6.61 0h1.32m23.81 0h1.32m3.97 0h1.32m3.97 0h2.65m5.29 0h2.65m5.29 0h1.32m3.97 0h1.32m2.65 0h1.32m9.26 0h2.65m11.91 0h2.65m1.32 0h2.65m1.32 0h1.32m3.97 0h1.32m1.32 0h2.65M33.82 500.91h2.65m25.13 0h1.32m5.29 0h1.32m7.94 0h1.32m2.65 0h1.32m1.32 0h1.32m7.94 0h1.32m2.65 0h1.32m1.32 0h1.32m15.87 0h1.32m2.65 0h1.32m6.61 0h1.32m3.97 0h1.32m3.97 0h1.32m2.65 0h1.32m13.23 0h1.32m10.58 0h1.32m1.32 0h1.32m7.94 0h1.32m13.23 0h2.65M37.79 496.47h1.32m5.29 0h1.32m13.23 0h1.32m2.65 0h1.32m7.94 0h1.32m1.32 0h1.32m1.32 0h3.97m1.32 0h2.65m2.65 0h1.32m10.58 0h1.32m1.32 0h1.32m2.65 0h1.32m5.29 0h1.32m1.32 0h1.32m1.32 0h1.32m10.58 0h1.32m7.94 0h1.32m10.58 0h1.32m7.94 0h3.97m13.23 0h1.32m3.97 0h2.65m6.61 0h2.65M35.15 492.02h1.32m9.26 0h1.32m14.55 0h1.32m9.26 0h2.65m7.94 0h1.32m5.29 0h1.32m9.26 0h2.65m2.65 0h1.32m2.65 0h1.32m3.97 0h1.32m1.32 0h1.32m1.32 0h1.32m1.32 0h1.32m14.55 0h1.32m3.97 0h1.32m1.32 0h2.65m1.32 0h1.32m5.29 0h1.32m3.97 0h1.32m2.65 0h1.32m1.32 0h2.65m17.2 0h1.32m3.97 0h1.32M39.11 487.58h1.32m1.32 0h1.32m2.65 0h2.65m2.65 0h1.32m2.65 0h1.32m10.58 0h1.32m17.2 0h3.97m1.32 0h1.32m2.65 0h1.32m1.32 0h1.32m9.26 0h1.32m6.61 0h2.65m3.97 0h1.32m10.58 0h1.32m5.29 0h1.32m6.61 0h1.32m13.23 0h1.32m5.29 0h1.32m1.32 0h1.32m3.97 0h1.32m1.32 0h1.32m5.29 0h1.32m10.58 0h1.32M35.15 483.14h1.32m9.26 0h1.32m5.29 0h2.65m3.97 0h1.32m3.97 0h1.32m3.97 0h2.65m1.32 0h1.32m2.65 0h1.32m1.32 0h2.65m2.65 0h1.32m3.97 0h1.32m3.97 0h2.65m3.97 0h1.32m1.32 0h1.32m6.61 0h1.32m1.32 0h1.32m2.65 0h3.97m5.29 0h3.97m7.94 0h1.32m3.97 0h1.32m6.61 0h1.32m1.32 0h1.32m2.65 0h2.65m5.29 0h2.65m5.29 0h1.32m2.65 0h1.32m1.32 0h2.65m1.32 0h1.32m6.61 0h1.32M32.5 478.7h1.32m3.97 0h2.65m2.65 0h2.65m3.97 0h1.32m23.81 0h1.32m7.94 0h1.32m5.29 0h1.32m10.58 0h1.32m1.32 0h1.32m3.97 0h1.32m1.32 0h1.32m1.32 0h1.32m5.29 0h1.32m2.65 0h1.32m1.32 0h2.65m2.65 0h1.32m2.65 0h1.32m3.97 0h1.32m1.32 0h1.32m9.26 0h1.32m2.65 0h1.32m9.26 0h1.32m14.55 0h3.97M32.5 474.25h1.32m2.65 0h1.32m1.32 0h1.32m1.32 0h2.65m3.97 0h1.32m9.26 0h1.32m1.32 0h1.32m9.26 0h1.32m1.32 0h1.32m2.65 0h1.32m6.61 0h1.32m2.65 0h2.65m3.97 0h1.32m5.29 0h1.32m10.58 0h1.32m3.97 0h1.32m1.32 0h1.32m6.61 0h1.32m1.32 0h1.32m7.94 0h1.32m2.65 0h1.32m1.32 0h1.32m11.91 0h1.32m1.32 0h2.65m15.87 0h1.32M48.37 460.93h1.32m2.65 0h1.32m1.32 0h1.32m1.32 0h1.32m1.32 0h1.32m7.94 0h1.32m10.58 0h1.32m15.87 0h1.32m2.65 0h1.32m1.32 0h1.32m9.26 0h2.65m6.61 0h3.97m13.23 0h1.32m1.32 0h1.32m13.23 0h1.32m13.23 0h1.32m14.55 0h1.32m3.97 0h1.32m2.65 0h1.32M35.15 447.6h1.32m1.32 0h1.32m1.32 0h1.32m13.23 0h1.32m2.65 0h1.32m9.26 0h1.32m1.32 0h1.32m1.32 0h1.32m2.65 0h2.65m2.65 0h2.65m1.32 0h1.32m2.65 0h1.32m11.91 0h1.32m9.26 0h1.32m25.13 0h1.32m3.97 0h1.32m2.65 0h1.32m2.65 0h1.32m6.61 0h1.32m2.65 0h1.32m9.26 0h1.32"/>
<path stroke="#3090ff" stroke-width="4.44" shape-rendering="crispEdges" d="M90.7 607.53h1.32m39.69 0h1.32M39.11 469.81h1.32m7.94 0h1.32m9.26 0h1.32m5.29 0h1.32m13.23 0h1.32m1.32 0h1.32m2.65 0h1.32m2.65 0h1.32m1.32 0h1.32m5.29 0h1.32m5.29 0h2.65m6.61 0h1.32m9.26 0h2.65m3.97 0h1.32m6.61 0h1.32m2.65 0h1.32m5.29 0h1.32m11.91 0h1.32m7.94 0h1.32m2.65 0h3.97m5.29 0h1.32M36.47 460.93h3.97m1.32 0h1.32m2.65 0h1.32m9.26 0h1.32m7.94 0h1.32m5.29 0h1.32m5.29 0h1.32m2.65 0h2.65m2.65 0h1.32m3.97 0h3.97m2.65 0h1.32m2.65 0h1.32m3.97 0h3.97m1.32 0h1.32m13.23 0h1.32m5.29 0h2.65m1.32 0h1.32m5.29 0h2.65m5.29 0h1.32m2.65 0h1.32m3.97 0h1.32m1.32 0h1.32m10.58 0h1.32m2.65 0h2.65m1.32 0h1.32m5.29 0h1.32m2.65 0h1.32M39.11 456.48h1.32m19.84 0h1.32m1.32 0h1.32m1.32 0h1.32m38.36 0h1.32m29.1 0h2.65m9.26 0h1.32m13.23 0h1.32m13.23 0h1.32m3.97 0h1.32m5.29 0h1.32m3.97 0h1.32"/>
<path stroke="#18a8ff" stroke-width="4.44" shape-rendering="crispEdges" d="M92.03 607.53h2.65m34.39 0h2.65M36.47 567.55h1.32m1.32 0h1.32m5.29 0h2.65m2.65 0h1.32m9.26 0h1.32m15.87 0h1.32m1.32 0h1.32m2.65 0h1.32m33.07 0h1.32m3.97 0h1.32m5.29 0h1.32m14.55 0h2.65m2.65 0h1.32m1.32 0h1.32m7.94 0h1.32m10.58 0h1.32m2.65 0h1.32m2.65 0h1.32m3.97 0h1.32M51.02 523.12h1.32m15.87 0h1.32m9.26 0h1.32m31.75 0h1.32m18.52 0h1.32m5.29 0h1.32m9.26 0h1.32m9.26 0h1.32m3.97 0h5.29m7.94 0h1.32m2.65 0h1.32m2.65 0h1.32m6.61 0h1.32m3.97 0h1.32M32.5 496.47h1.32m5.29 0h1.32m1.32 0h1.32m5.29 0h1.32m6.61 0h2.65m7.94 0h2.65m6.61 0h1.32m3.97 0h1.32m15.87 0h1.32m1.32 0h1.32m6.61 0h3.97m6.61 0h1.32m1.32 0h1.32m3.97 0h1.32m6.61 0h1.32m5.29 0h1.32m2.65 0h1.32m47.62 0h1.32M36.47 492.02h1.32m3.97 0h2.65m7.94 0h1.32m30.43 0h1.32m9.26 0h1.32m6.61 0h1.32m7.94 0h1.32m7.94 0h1.32m18.52 0h1.32m18.52 0h1.32m14.55 0h1.32m5.29 0h1.32m6.61 0h1.32m3.97 0h2.65M33.82 487.58h1.32m1.32 0h2.65m10.58 0h1.32m6.61 0h1.32m2.65 0h1.32m15.87 0h1.32m9.26 0h1.32m10.58 0h1.32m2.65 0h1.32m5.29 0h1.32m1.32 0h1.32m2.65 0h1.32m7.94 0h1.32m6.61 0h2.65m6.61 0h2.65m10.58 0h1.32m38.36 0h1.32M40.44 483.14h2.65m13.23 0h1.32m3.97 0h1.32m2.65 0h1.32m7.94 0h1.32m7.94 0h1.32m1.32 0h1.32m18.52 0h1.32m1.32 0h1.32m1.32 0h1.32m3.97 0h2.65m3.97 0h1.32m7.94 0h2.65m11.91 0h2.65m9.26 0h1.32m5.29 0h1.32m11.91 0h1.32m1.32 0h1.32m5.29 0h2.65m2.65 0h1.32m3.97 0h1.32M54.99 478.7h1.32m3.97 0h1.32m3.97 0h2.65m1.32 0h1.32m7.94 0h1.32m1.32 0h2.65m9.26 0h1.32m2.65 0h1.32m15.87 0h1.32m3.97 0h2.65m17.2 0h2.65m23.81 0h2.65m3.97 0h1.32m19.84 0h1.32M47.05 474.25h1.32m3.97 0h1.32m9.26 0h1.32m1.32 0h1.32m1.32 0h1.32m1.32 0h1.32m9.26 0h1.32m1.32 0h1.32m15.87 0h1.32m3.97 0h2.65m2.65 0h1.32m5.29 0h1.32m9.26 0h1.32m7.94 0h1.32m9.26 0h1.32m2.65 0h1.32m6.61 0h2.65m1.32 0h1.32m13.23 0h1.32m6.61 0h1.32m1.32 0h2.65m2.65 0h3.97"/>
<path stroke="#18c0ff" stroke-width="4.44" shape-rendering="crispEdges" d="M94.67 607.53h1.32m31.75 0h1.32M32.5 518.68h1.32m27.78 0h1.32m23.81 0h1.32m58.2 0h1.32m23.81 0h1.32M52.34 514.24h2.65m3.97 0h1.32m59.53 0h1.32m5.29 0h2.65m2.65 0h1.32m13.23 0h1.32m9.26 0h1.32m13.23 0h1.32m3.97 0h1.32m18.52 0h1.32M62.93 509.79h1.32m56.88 0h1.32m7.94 0h1.32m2.65 0h1.32m30.43 0h1.32m6.61 0h1.32M37.79 505.35h1.32m10.58 0h1.32m7.94 0h1.32m5.29 0h1.32m31.75 0h1.32m3.97 0h1.32m29.1 0h1.32m17.2 0h1.32m18.52 0h2.65m2.65 0h1.32m11.91 0h1.32"/>
<path stroke="#00d8ff" stroke-width="4.44" shape-rendering="crispEdges" d="M96 607.53h2.65m27.78 0h1.32M80.12 518.68h1.32m9.26 0h1.32m1.32 0h2.65m6.61 0h2.65m6.61 0h1.32m1.32 0h1.32m6.61 0h1.32M80.12 514.24h2.65m7.94 0h1.32m2.65 0h2.65m6.61 0h1.32m1.32 0h1.32m3.97 0h1.32m9.26 0h1.32M73.51 509.79h1.32m10.58 0h2.65m1.32 0h1.32m2.65 0h1.32m5.29 0h3.97m1.32 0h2.65M73.51 505.35h1.32m2.65 0h2.65m1.32 0h1.32m1.32 0h1.32m5.29 0h1.32m14.55 0h2.65m2.65 0h1.32m7.94 0h1.32M73.51 500.91h2.65m19.84 0h1.32m1.32 0h1.32m6.61 0h1.32M85.41 496.47h1.32m3.97 0h1.32m1.32 0h2.65m9.26 0h1.32m1.32 0h1.32m5.29 0h1.32M96 492.02h1.32m10.58 0h1.32m17.2 0h1.32M96 487.58h1.32m6.61 0h1.32M99.96 483.14h1.32M88.06 478.7h1.32m19.84 0h1.32M105.26 474.25h1.32"/>
<path stroke="#18d8f0" stroke-width="4.44" shape-rendering="crispEdges" d="M98.64 607.53h2.65m21.17 0h2.65"/>
<path stroke="#18d8d8" stroke-width="4.44" shape-rendering="crispEdges" d="M101.29 607.53h1.32"/>
<path stroke="#30f0d8" stroke-width="4.44" shape-rendering="crispEdges" d="M102.61 607.53h2.65m13.23 0h2.65"/>
<path stroke="#30f0c0" stroke-width="4.44" shape-rendering="crispEdges" d="M105.26 607.53h1.32"/>
<path stroke="#60f0a8" stroke-width="4.44" shape-rendering="crispEdges" d="M106.58 607.53h1.32m7.94 0h1.32"/>
<path stroke="#78f090" stroke-width="4.44" shape-rendering="crispEdges" d="M107.9 607.53h1.32m5.29 0h1.32"/>
<path stroke="#90f078" stroke-width="4.44" shape-rendering="crispEdges" d="M109.22 607.53h1.32m2.65 0h1.32"/>
<path stroke="#a8ff60" stroke-width="4.44" shape-rendering="crispEdges" d="M110.55 607.53h1.32M39.11 536.45h1.32m63.5 0h1.32m17.2 0h1.32m3.97 0h1.32m38.36 0h1.32m7.94 0h1.32m3.97 0h1.32M106.58 532.01h1.32m39.69 0h1.32m10.58 0h1.32m38.36 0h1.32M37.79 527.56h1.32m1.32 0h1.32m33.07 0h1.32m3.97 0h1.32m14.55 0h1.32m38.36 0h1.32m1.32 0h1.32m13.23 0h1.32m21.17 0h1.32m3.97 0h1.32m15.87 0h1.32"/>
<path stroke="#a8ff48" stroke-width="4.44" shape-rendering="crispEdges" d="M111.87 607.53h1.32"/>
<path stroke="#48f0c0" stroke-width="4.44" shape-rendering="crispEdges" d="M117.16 607.53h1.32"/>
<path stroke="#18f0d8" stroke-width="4.44" shape-rendering="crispEdges" d="M121.13 607.53h1.32"/>
<path stroke="#00d8f0" stroke-width="4.44" shape-rendering="crispEdges" d="M125.1 607.53h1.32"/>
<path stroke="#9090ff" stroke-width="4.44" shape-rendering="crispEdges" d="M53.67 603.09h1.32m60.85 0h1.32m33.07 0h2.65m44.98 0h1.32M58.96 598.65h1.32m29.1 0h1.32m14.55 0h1.32m21.17 0h1.32m52.91 0h1.32m3.97 0h1.32m6.61 0h1.32M54.99 594.2h1.32m79.37 0h1.32m34.39 0h1.32m17.2 0h1.32m6.61 0h1.32M77.48 589.76h1.32m21.17 0h1.32m7.94 0h1.32m50.27 0h1.32m15.87 0h1.32m2.65 0h1.32M65.57 585.32h1.32m23.81 0h1.32m17.2 0h1.32m35.72 0h1.32m1.32 0h1.32M47.05 580.88h1.32m104.5 0h2.65m30.43 0h1.32m10.58 0h1.32M44.41 576.43h1.32m5.29 0h1.32m35.72 0h1.32m30.43 0h1.32M77.48 571.99h1.32m2.65 0h1.32m5.29 0h1.32m19.84 0h1.32m7.94 0h1.32m2.65 0h1.32m14.55 0h1.32m26.46 0h1.32M56.31 389.84h1.32m43.65 0h1.32m27.78 0h1.32M33.82 385.4h1.32m15.87 0h1.32m21.17 0h1.32m5.29 0h1.32m55.56 0h1.32m3.97 0h1.32m1.32 0h1.32m19.84 0h1.32m3.97 0h1.32M45.73 380.96h1.32m26.46 0h1.32m7.94 0h1.32m34.39 0h1.32m66.14 0h1.32"/>
<path stroke="#4860ff" stroke-width="4.44" shape-rendering="crispEdges" d="M35.15 598.65h1.32m7.94 0h1.32m1.32 0h2.65m13.23 0h1.32m5.29 0h1.32m1.32 0h2.65m11.91 0h1.32m9.26 0h1.32m2.65 0h1.32m3.97 0h2.65m3.97 0h2.65m1.32 0h2.65m9.26 0h2.65m2.65 0h1.32m1.32 0h2.65m3.97 0h2.65m1.32 0h1.32m1.32 0h1.32m6.61 0h1.32m1.32 0h1.32m3.97 0h2.65m6.61 0h1.32m1.32 0h1.32m1.32 0h1.32m1.32 0h1.32m6.61 0h1.32M32.5 594.2h1.32m2.65 0h1.32m10.58 0h2.65m1.32 0h1.32m2.65 0h3.97m2.65 0h2.65m1.32 0h3.97m11.91 0h1.32m1.32 0h1.32m2.65 0h2.65m3.97 0h1.32m2.65 0h2.65m2.65 0h1.32m1.32 0h1.32m1.32 0h1.32m29.1 0h1.32m10.58 0h1.32m2.65 0h1.32m3.97 0h2.65m10.58 0h1.32m5.29 0h1.32m2.65 0h2.65m6.61 0h1.32m2.65 0h1.32M39.11 589.76h1.32m9.26 0h1.32m2.65 0h1.32m5.29 0h1.32m2.65 0h1.32m1.32 0h3.97m1.32 0h1.32m2.65 0h1.32m15.87 0h1.32m15.87 0h2.65m2.65 0h2.65m5.29 0h2.65m3.97 0h3.97m9.26 0h1.32m5.29 0h3.97m7.94 0h1.32m5.29 0h1.32m9.26 0h1.32m2.65 0h1.32m1.32 0h1.32m2.65 0h1.32m2.65 0h1.32m1.32 0h1.32m1.32 0h1.32M37.79 580.88h1.32m1.32 0h2.65m5.29 0h1.32m2.65 0h1.32m2.65 0h1.32m2.65 0h3.97m2.65 0h1.32m14.55 0h1.32m9.26 0h1.32m19.84 0h2.65m2.65 0h2.65m6.61 0h1.32m3.97 0h1.32m1.32 0h1.32m5.29 0h1.32m5.29 0h1.32m3.97 0h3.97m1.32 0h1.32m1.32 0h1.32m6.61 0h1.32m1.32 0h1.32m3.97 0h1.32m2.65 0h2.65M36.47 571.99h1.32m2.65 0h1.32m3.97 0h1.32m3.97 0h1.32m2.65 0h1.32m3.97 0h1.32m6.61 0h1.32m10.58 0h1.32m1.32 0h1.32m1.32 0h1.32m3.97 0h1.32m11.91 0h2.65m1.32 0h1.32m5.29 0h1.32m3.97 0h1.32m2.65 0h1.32m3.97 0h2.65m2.65 0h1.32m5.29 0h1.32m2.65 0h1.32m10.58 0h1.32m2.65 0h2.65m5.29 0h2.65m1.32 0h1.32m2.65 0h1.32m2.65 0h1.32m5.29 0h1.32m5.29 0h1.32m1.32 0h1.32M36.47 443.16h1.32m44.98 0h2.65m26.46 0h1.32m13.23 0h1.32m11.91 0h1.32m22.49 0h1.32m1.32 0h1.32M35.15 429.83h1.32m1.32 0h1.32m1.32 0h1.32m1.32 0h1.32m3.97 0h1.32m3.97 0h3.97m5.29 0h1.32m1.32 0h1.32m1.32 0h2.65m1.32 0h1.32m2.65 0h1.32m5.29 0h1.32m6.61 0h1.32m3.97 0h2.65m11.91 0h1.32m9.26 0h2.65m2.65 0h1.32m6.61 0h1.32m11.91 0h1.32m3.97 0h1.32m1.32 0h1.32m5.29 0h1.32m3.97 0h1.32m3.97 0h2.65m10.58 0h1.32m2.65 0h1.32m3.97 0h2.65M32.5 420.94h2.65m2.65 0h1.32m1.32 0h1.32m1.32 0h1.32m5.29 0h1.32m1.32 0h1.32m2.65 0h2.65m6.61 0h3.97m2.65 0h1.32m3.97 0h2.65m5.29 0h1.32m3.97 0h1.32m2.65 0h1.32m2.65 0h1.32m2.65 0h1.32m15.87 0h1.32m7.94 0h1.32m11.91 0h2.65m1.32 0h1.32m2.65 0h2.65m17.2 0h1.32m6.61 0h2.65m17.2 0h1.32M40.44 416.5h1.32m7.94 0h1.32m1.32 0h1.32m5.29 0h1.32m19.84 0h1.32m1.32 0h1.32m1.32 0h2.65m1.32 0h1.32m3.97 0h1.32m2.65 0h2.65m2.65 0h1.32m3.97 0h1.32m1.32 0h1.32m21.17 0h1.32m11.91 0h1.32m6.61 0h1.32m2.65 0h1.32m6.61 0h1.32m11.91 0h1.32m6.61 0h1.32M35.15 412.06h1.32m1.32 0h1.32m7.94 0h1.32m11.91 0h2.65m1.32 0h1.32m9.26 0h1.32m10.58 0h1.32m5.29 0h2.65m6.61 0h1.32m6.61 0h1.32m1.32 0h1.32m3.97 0h1.32m10.58 0h1.32m9.26 0h1.32m13.23 0h1.32m6.61 0h1.32m15.87 0h1.32m9.26 0h1.32M32.5 407.61h1.32m5.29 0h1.32m2.65 0h1.32m9.26 0h1.32m3.97 0h1.32m9.26 0h1.32m15.87 0h1.32m1.32 0h1.32m9.26 0h1.32m2.65 0h1.32m6.61 0h1.32m2.65 0h1.32m10.58 0h1.32m6.61 0h1.32m23.81 0h1.32m15.87 0h2.65m10.58 0h1.32M65.57 403.17h1.32m3.97 0h1.32m11.91 0h1.32m7.94 0h1.32m22.49 0h1.32m10.58 0h1.32m5.29 0h1.32m34.39 0h1.32M39.11 398.73h1.32m10.58 0h1.32m48.94 0h1.32m30.43 0h1.32m2.65 0h1.32m37.04 0h1.32m10.58 0h1.32M103.93 394.29h1.32M150.23 389.84h1.32m18.52 0h1.32m18.52 0h1.32M115.84 385.4h1.32"/>
<path stroke="#00c0ff" stroke-width="4.44" shape-rendering="crispEdges" d="M35.15 567.55h1.32m7.94 0h1.32m7.94 0h2.65m1.32 0h3.97m1.32 0h2.65m3.97 0h9.26m15.87 0h2.65m1.32 0h6.61m5.29 0h1.32m6.61 0h1.32m3.97 0h1.32m1.32 0h1.32m1.32 0h2.65m1.32 0h1.32m2.65 0h1.32m3.97 0h1.32m1.32 0h1.32m10.58 0h1.32m10.58 0h1.32m9.26 0h1.32m15.87 0h1.32m1.32 0h1.32M33.82 518.68h1.32m6.61 0h1.32m6.61 0h1.32m17.2 0h2.65m5.29 0h1.32m7.94 0h1.32m38.36 0h1.32m3.97 0h1.32m13.23 0h1.32m5.29 0h2.65m1.32 0h1.32m5.29 0h1.32m1.32 0h1.32m11.91 0h1.32m10.58 0h1.32m5.29 0h1.32m1.32 0h1.32M40.44 514.24h1.32m2.65 0h1.32m17.2 0h1.32m2.65 0h1.32m7.94 0h1.32m1.32 0h1.32m3.97 0h1.32m2.65 0h1.32m3.97 0h1.32m10.58 0h1.32m3.97 0h1.32m2.65 0h1.32m1.32 0h1.32m15.87 0h2.65m6.61 0h1.32m5.29 0h1.32m6.61 0h1.32m2.65 0h2.65m1.32 0h1.32m10.58 0h2.65m11.91 0h1.32M37.79 509.79h1.32m3.97 0h2.65m5.29 0h1.32m2.65 0h1.32m13.23 0h1.32m5.29 0h1.32m3.97 0h1.32m5.29 0h1.32m1.32 0h1.32m59.53 0h2.65m1.32 0h1.32m1.32 0h1.32m10.58 0h1.32m9.26 0h1.32m3.97 0h1.32m2.65 0h1.32m3.97 0h2.65M35.15 505.35h1.32m2.65 0h1.32m3.97 0h1.32m9.26 0h1.32m3.97 0h1.32m10.58 0h1.32m2.65 0h1.32m10.58 0h1.32m10.58 0h1.32m3.97 0h1.32m6.61 0h1.32m21.17 0h1.32m9.26 0h1.32m1.32 0h1.32m1.32 0h1.32m15.87 0h1.32m11.91 0h1.32M37.79 500.91h3.97m1.32 0h1.32m3.97 0h1.32m15.87 0h1.32m9.26 0h1.32m11.91 0h1.32m11.91 0h1.32m6.61 0h1.32m7.94 0h1.32m3.97 0h1.32m9.26 0h1.32m3.97 0h1.32m10.58 0h1.32m1.32 0h1.32m3.97 0h3.97m2.65 0h1.32m7.94 0h2.65m13.23 0h1.32M35.15 496.47h1.32m18.52 0h1.32m3.97 0h2.65m34.39 0h1.32m25.13 0h1.32m23.81 0h1.32m14.55 0h1.32m6.61 0h1.32m6.61 0h1.32m3.97 0h1.32m10.58 0h1.32M37.79 492.02h1.32m64.82 0h1.32m7.94 0h1.32m19.84 0h1.32m3.97 0h1.32m17.2 0h1.32m13.23 0h1.32m5.29 0h1.32m9.26 0h1.32M35.15 487.58h1.32m3.97 0h1.32m6.61 0h1.32m31.75 0h1.32m37.04 0h1.32m7.94 0h1.32m63.5 0h1.32M47.05 483.14h2.65m22.49 0h1.32m52.91 0h1.32m10.58 0h1.32m31.75 0h1.32m13.23 0h1.32M61.6 478.7h1.32m17.2 0h1.32m46.3 0h1.32m23.81 0h1.32m3.97 0h1.32"/>
<path stroke="#ff0000" stroke-width="4.44" shape-rendering="crispEdges" d="M106.58 567.55h3.97m2.65 0h1.32m1.32 0h2.65M111.87 540.89h10.58M111.87 536.45h1.32m1.32 0h5.29m1.32 0h1.32M52.34 532.01h1.32m13.23 0h1.32m42.33 0h1.32m2.65 0h2.65m2.65 0h1.32m21.17 0h1.32M32.5 527.56h1.32m76.72 0h11.91m6.61 0h1.32m9.26 0h1.32m44.98 0h1.32M115.84 523.12h2.65"/>
<path stroke="#ff7800" stroke-width="4.44" shape-rendering="crispEdges" d="M111.87 567.55h1.32M58.96 558.66h2.65m37.04 0h1.32m6.61 0h1.32m27.78 0h1.32m30.43 0h1.32m13.23 0h1.32M56.31 554.22h1.32m22.49 0h1.32m10.58 0h1.32m6.61 0h1.32m15.87 0h1.32m2.65 0h1.32m2.65 0h1.32M40.44 549.78h1.32m47.62 0h1.32m3.97 0h1.32m10.58 0h1.32m25.13 0h1.32m15.87 0h1.32m13.23 0h1.32M52.34 545.34h1.32m6.61 0h1.32m33.07 0h1.32m5.29 0h1.32m68.79 0h2.65M33.82 540.89h2.65m1.32 0h1.32m13.23 0h1.32m3.97 0h1.32m5.29 0h1.32m1.32 0h1.32m1.32 0h6.61m5.29 0h1.32m2.65 0h2.65m21.17 0h1.32m11.91 0h1.32m1.32 0h1.32m2.65 0h1.32m2.65 0h1.32m6.61 0h1.32m2.65 0h1.32m1.32 0h1.32m2.65 0h2.65m1.32 0h1.32m7.94 0h1.32m3.97 0h2.65m1.32 0h1.32m1.32 0h1.32m3.97 0h1.32m1.32 0h3.97m6.61 0h1.32m1.32 0h1.32M111.87 532.01h1.32m5.29 0h1.32M122.45 527.56h1.32M118.48 523.12h1.32"/>
<path stroke="#ff6000" stroke-width="4.44" shape-rendering="crispEdges" d="M48.37 536.45h1.32m29.1 0h1.32m91.28 0h1.32"/>
<path stroke="#ffd800" stroke-width="4.44" shape-rendering="crispEdges" d="M109.22 536.45h1.32m22.49 0h1.32m29.1 0h1.32m5.29 0h1.32m2.65 0h1.32"/>
<path stroke="#ff9000" stroke-width="4.44" shape-rendering="crispEdges" d="M57.63 532.01h1.32m25.13 0h1.32m6.61 0h1.32m11.91 0h1.32m23.81 0h1.32m33.07 0h1.32m5.29 0h1.32m17.2 0h1.32M78.8 527.56h1.32m26.46 0h1.32m17.2 0h1.32m51.59 0h1.32"/>
<path stroke="#30f0f0" stroke-width="4.44" shape-rendering="crispEdges" d="M89.38 518.68h1.32m1.32 0h1.32m13.23 0h1.32m5.29 0h1.32M92.03 514.24h1.32m15.87 0h1.32m5.29 0h1.32M111.87 509.79h1.32m2.65 0h1.32m5.29 0h1.32M115.84 505.35h1.32M105.26 500.91h1.32M103.93 496.47h1.32"/>
<path stroke="#00f0f0" stroke-width="4.44" shape-rendering="crispEdges" d="M123.78 518.68h1.32m1.32 0h1.32M102.61 514.24h1.32m14.55 0h1.32m3.97 0h1.32m3.97 0h1.32M107.9 509.79h1.32m3.97 0h1.32M122.45 505.35h1.32m1.32 0h1.32m1.32 0h1.32M123.78 500.91h1.32M110.55 492.02h1.32m17.2 0h1.32M125.1 487.58h1.32"/>
<path stroke="#1878ff" stroke-width="4.44" shape-rendering="crispEdges" d="M33.82 469.81h1.32m6.61 0h1.32m13.23 0h1.32m14.55 0h2.65m2.65 0h1.32m2.65 0h1.32m5.29 0h1.32m27.78 0h1.32m3.97 0h1.32m1.32 0h1.32m3.97 0h2.65m9.26 0h1.32m6.61 0h1.32m15.87 0h1.32m25.13 0h2.65M33.82 465.37h1.32m1.32 0h1.32m7.94 0h1.32m1.32 0h3.97m1.32 0h1.32m1.32 0h2.65m2.65 0h2.65m1.32 0h2.65m2.65 0h1.32m6.61 0h1.32m1.32 0h2.65m6.61 0h1.32m3.97 0h1.32m7.94 0h1.32m3.97 0h3.97m3.97 0h1.32m1.32 0h1.32m13.23 0h2.65m3.97 0h1.32m1.32 0h1.32m3.97 0h2.65m1.32 0h1.32m5.29 0h1.32m1.32 0h2.65m1.32 0h1.32m3.97 0h1.32m1.32 0h1.32m5.29 0h2.65m2.65 0h1.32m1.32 0h2.65m1.32 0h2.65m1.32 0h1.32M32.5 456.48h2.65m11.91 0h1.32m31.75 0h1.32m10.58 0h1.32m15.87 0h1.32m1.32 0h2.65m1.32 0h1.32m29.1 0h1.32m9.26 0h2.65m5.29 0h1.32m5.29 0h1.32m11.91 0h1.32m3.97 0h1.32"/>
<path stroke="#30a8ff" stroke-width="4.44" shape-rendering="crispEdges" d="M35.15 469.81h1.32m3.97 0h1.32m3.97 0h1.32m2.65 0h5.29m11.91 0h1.32m1.32 0h1.32m3.97 0h1.32m7.94 0h1.32m3.97 0h1.32m1.32 0h1.32m3.97 0h2.65m10.58 0h5.29m5.29 0h1.32m1.32 0h1.32m11.91 0h1.32m5.29 0h1.32m1.32 0h3.97m5.29 0h2.65m1.32 0h1.32m7.94 0h1.32m1.32 0h2.65m15.87 0h1.32m5.29 0h1.32M77.48 465.37h1.32m1.32 0h1.32m11.91 0h1.32m3.97 0h1.32m6.61 0h1.32m1.32 0h1.32m5.29 0h1.32m11.91 0h2.65m37.04 0h1.32m7.94 0h1.32"/>
<path stroke="#7878ff" stroke-width="4.44" shape-rendering="crispEdges" d="M160.81 469.81h1.32M58.96 465.37h1.32m3.97 0h1.32m3.97 0h1.32m30.43 0h1.32m29.1 0h1.32m19.84 0h1.32m2.65 0h1.32m3.97 0h1.32m7.94 0h1.32M33.82 460.93h1.32m78.05 0h1.32m7.94 0h1.32m38.36 0h1.32m3.97 0h1.32M85.41 456.48h1.32m17.2 0h1.32M82.77 452.04h1.32m37.04 0h1.32m5.29 0h1.32m1.32 0h1.32m3.97 0h1.32m1.32 0h1.32m18.52 0h1.32m15.87 0h1.32M53.67 447.6h1.32M89.38 443.16h1.32M126.42 438.71h1.32m43.65 0h1.32M76.15 434.27h2.65m6.61 0h1.32m74.08 0h1.32m6.61 0h1.32M70.86 420.94h1.32m38.36 0h1.32m3.97 0h1.32m18.52 0h1.32m2.65 0h1.32m19.84 0h1.32M45.73 416.5h1.32m37.04 0h1.32m5.29 0h2.65m7.94 0h1.32m11.91 0h1.32m1.32 0h1.32m3.97 0h1.32m5.29 0h1.32m30.43 0h1.32m13.23 0h1.32m5.29 0h1.32m2.65 0h2.65M43.08 412.06h1.32m9.26 0h1.32m1.32 0h1.32m22.49 0h1.32m17.2 0h1.32m1.32 0h1.32m2.65 0h1.32m9.26 0h1.32m14.55 0h1.32m1.32 0h5.29m9.26 0h2.65m1.32 0h1.32m18.52 0h1.32m9.26 0h1.32m3.97 0h1.32m7.94 0h2.65M37.79 407.61h1.32m5.29 0h1.32m1.32 0h1.32m3.97 0h1.32m6.61 0h2.65m1.32 0h1.32m2.65 0h1.32m6.61 0h1.32m1.32 0h1.32m1.32 0h2.65m7.94 0h2.65m1.32 0h2.65m3.97 0h1.32m18.52 0h1.32m7.94 0h1.32m6.61 0h2.65m3.97 0h1.32m11.91 0h1.32m3.97 0h1.32m6.61 0h1.32m10.58 0h3.97m5.29 0h1.32M35.15 403.17h1.32m5.29 0h2.65m5.29 0h1.32m3.97 0h2.65m1.32 0h2.65m1.32 0h2.65m3.97 0h1.32m2.65 0h1.32m5.29 0h1.32m13.23 0h1.32m1.32 0h1.32m9.26 0h2.65m1.32 0h2.65m5.29 0h1.32m3.97 0h1.32m7.94 0h1.32m1.32 0h1.32m5.29 0h2.65m1.32 0h1.32m2.65 0h1.32m2.65 0h2.65m3.97 0h1.32m5.29 0h2.65m2.65 0h2.65m9.26 0h2.65m2.65 0h1.32m1.32 0h1.32M49.7 398.73h1.32m14.55 0h2.65m3.97 0h3.97m1.32 0h1.32m2.65 0h2.65m5.29 0h1.32m1.32 0h2.65m7.94 0h1.32m2.65 0h1.32m3.97 0h1.32m1.32 0h3.97m3.97 0h1.32m2.65 0h2.65m10.58 0h1.32m10.58 0h1.32m21.17 0h1.32m1.32 0h1.32m1.32 0h1.32m1.32 0h1.32m5.29 0h1.32m3.97 0h1.32m1.32 0h1.32m1.32 0h1.32M36.47 394.29h1.32m1.32 0h2.65m3.97 0h2.65m2.65 0h3.97m2.65 0h1.32m1.32 0h1.32m21.17 0h1.32m2.65 0h3.97m1.32 0h1.32m3.97 0h1.32m7.94 0h1.32m5.29 0h1.32m2.65 0h1.32m1.32 0h1.32m6.61 0h3.97m1.32 0h1.32m3.97 0h1.32m1.32 0h1.32m3.97 0h1.32m1.32 0h2.65m2.65 0h1.32m3.97 0h1.32m2.65 0h2.65m1.32 0h2.65m2.65 0h2.65m9.26 0h2.65m1.32 0h2.65m1.32 0h3.97m1.32 0h1.32M32.5 389.84h1.32m1.32 0h1.32m1.32 0h1.32m15.87 0h1.32m2.65 0h1.32m1.32 0h3.97m5.29 0h1.32m1.32 0h1.32m2.65 0h1.32m3.97 0h2.65m1.32 0h2.65m1.32 0h3.97m7.94 0h2.65m1.32 0h1.32m1.32 0h2.65m1.32 0h1.32m3.97 0h2.65m5.29 0h1.32m1.32 0h1.32m1.32 0h2.65m11.91 0h1.32m1.32 0h1.32m1.32 0h1.32m1.32 0h1.32m3.97 0h1.32m3.97 0h1.32m5.29 0h1.32m3.97 0h1.32m2.65 0h1.32m13.23 0h2.65M35.15 385.4h2.65m1.32 0h2.65m1.32 0h2.65m2.65 0h1.32m2.65 0h2.65m5.29 0h1.32m1.32 0h1.32m1.32 0h1.32m1.32 0h1.32m1.32 0h2.65m5.29 0h1.32m2.65 0h1.32m1.32 0h3.97m2.65 0h1.32m6.61 0h1.32m6.61 0h1.32m3.97 0h1.32m11.91 0h2.65m1.32 0h1.32m1.32 0h3.97m2.65 0h2.65m1.32 0h1.32m10.58 0h6.61m2.65 0h1.32m2.65 0h1.32m3.97 0h1.32m1.32 0h1.32m3.97 0h1.32m1.32 0h2.65m2.65 0h1.32m1.32 0h1.32m2.65 0h2.65"/>
<path stroke="#1890ff" stroke-width="4.44" shape-rendering="crispEdges" d="M73.51 465.37h1.32m11.91 0h1.32m14.55 0h1.32m29.1 0h1.32m39.69 0h1.32m13.23 0h1.32m2.65 0h1.32"/>
<path stroke="#4890ff" stroke-width="4.44" shape-rendering="crispEdges" d="M32.5 460.93h1.32m9.26 0h1.32m9.26 0h1.32m6.61 0h1.32m27.78 0h2.65m26.46 0h1.32m19.84 0h1.32m34.39 0h1.32m9.26 0h1.32M43.08 456.48h1.32m48.94 0h1.32m1.32 0h2.65m9.26 0h1.32m9.26 0h3.97m3.97 0h1.32m1.32 0h3.97m5.29 0h1.32m2.65 0h2.65m5.29 0h1.32m1.32 0h1.32m13.23 0h1.32m5.29 0h1.32m10.58 0h1.32m9.26 0h2.65M33.82 452.04h2.65m23.81 0h1.32m17.2 0h1.32m9.26 0h1.32m9.26 0h1.32m31.75 0h1.32m7.94 0h1.32"/>
<path stroke="#1860ff" stroke-width="4.44" shape-rendering="crispEdges" d="M35.15 456.48h1.32m1.32 0h1.32m1.32 0h1.32m17.2 0h1.32m6.61 0h1.32m1.32 0h1.32m1.32 0h1.32m1.32 0h5.29m1.32 0h2.65m3.97 0h2.65m15.87 0h1.32m9.26 0h1.32m5.29 0h1.32m7.94 0h1.32m6.61 0h1.32m11.91 0h1.32m10.58 0h1.32m5.29 0h1.32m9.26 0h1.32M32.5 452.04h1.32m5.29 0h1.32m6.61 0h1.32m18.52 0h2.65m1.32 0h1.32m2.65 0h1.32m14.55 0h1.32m11.91 0h1.32m1.32 0h1.32m9.26 0h1.32m1.32 0h1.32m18.52 0h1.32m7.94 0h3.97m2.65 0h1.32m2.65 0h1.32m9.26 0h1.32m5.29 0h1.32m3.97 0h2.65m5.29 0h1.32m1.32 0h2.65M39.11 447.6h1.32m17.2 0h1.32m9.26 0h1.32m3.97 0h1.32m1.32 0h2.65m15.87 0h1.32m11.91 0h1.32m39.69 0h1.32m6.61 0h1.32m7.94 0h1.32m11.91 0h1.32m5.29 0h1.32m2.65 0h1.32m2.65 0h1.32"/>
<path stroke="#3060ff" stroke-width="4.44" shape-rendering="crispEdges" d="M37.79 452.04h1.32m3.97 0h1.32m13.23 0h1.32m17.2 0h1.32m7.94 0h1.32m1.32 0h1.32m9.26 0h1.32m2.65 0h1.32m3.97 0h1.32m17.2 0h1.32m18.52 0h1.32m9.26 0h1.32m2.65 0h1.32m6.61 0h1.32m1.32 0h1.32m1.32 0h1.32m10.58 0h1.32m1.32 0h1.32m7.94 0h2.65M37.79 443.16h6.61m1.32 0h1.32m1.32 0h7.94m3.97 0h1.32m10.58 0h2.65m1.32 0h1.32m2.65 0h1.32m5.29 0h2.65m5.29 0h3.97m1.32 0h3.97m1.32 0h1.32m1.32 0h1.32m1.32 0h1.32m2.65 0h1.32m2.65 0h1.32m1.32 0h2.65m1.32 0h1.32m2.65 0h1.32m3.97 0h2.65m1.32 0h1.32m1.32 0h2.65m10.58 0h3.97m10.58 0h2.65m1.32 0h1.32m2.65 0h1.32m5.29 0h1.32m1.32 0h6.61m1.32 0h1.32m2.65 0h1.32M35.15 438.71h2.65m17.2 0h1.32m1.32 0h1.32m2.65 0h1.32m3.97 0h1.32m6.61 0h2.65m1.32 0h1.32m3.97 0h1.32m1.32 0h1.32m2.65 0h1.32m3.97 0h3.97m10.58 0h2.65m5.29 0h1.32m3.97 0h1.32m15.87 0h1.32m5.29 0h2.65m5.29 0h1.32m1.32 0h1.32m17.2 0h1.32m15.87 0h1.32M185.95 434.27h1.32"/>
<path stroke="#3048ff" stroke-width="4.44" shape-rendering="crispEdges" d="M66.89 443.16h1.32m23.81 0h1.32m13.23 0h1.32M39.11 438.71h3.97m6.61 0h2.65m6.61 0h1.32m13.23 0h1.32m2.65 0h1.32m1.32 0h1.32m1.32 0h1.32m19.84 0h1.32m14.55 0h1.32m7.94 0h1.32m19.84 0h1.32m7.94 0h1.32m6.61 0h1.32m1.32 0h1.32m19.84 0h2.65m1.32 0h1.32m2.65 0h1.32M40.44 434.27h1.32m2.65 0h2.65m6.61 0h1.32m1.32 0h1.32m1.32 0h1.32m7.94 0h1.32m1.32 0h1.32m2.65 0h1.32m2.65 0h1.32m6.61 0h1.32m3.97 0h2.65m1.32 0h2.65m10.58 0h1.32m9.26 0h1.32m5.29 0h1.32m5.29 0h1.32m3.97 0h1.32m3.97 0h1.32m2.65 0h2.65m2.65 0h1.32m7.94 0h3.97m3.97 0h1.32m5.29 0h3.97m1.32 0h1.32m3.97 0h1.32m1.32 0h1.32m3.97 0h1.32m1.32 0h2.65M35.15 425.38h1.32m6.61 0h1.32m22.49 0h1.32m10.58 0h1.32m26.46 0h1.32m1.32 0h1.32m2.65 0h1.32m23.81 0h1.32m5.29 0h1.32m1.32 0h1.32m1.32 0h1.32m7.94 0h1.32m1.32 0h1.32m2.65 0h1.32m1.32 0h1.32m2.65 0h1.32m3.97 0h1.32m2.65 0h1.32m2.65 0h3.97m5.29 0h2.65M35.15 420.94h1.32m14.55 0h1.32m11.91 0h1.32m9.26 0h1.32m21.17 0h1.32m14.55 0h1.32m2.65 0h1.32m3.97 0h1.32m1.32 0h1.32m11.91 0h1.32m1.32 0h1.32m17.2 0h1.32m10.58 0h1.32m9.26 0h1.32m7.94 0h1.32M35.15 416.5h1.32m5.29 0h1.32m31.75 0h1.32m37.04 0h1.32m1.32 0h1.32m1.32 0h1.32m21.17 0h1.32"/>
<path stroke="#3030ff" stroke-width="4.44" shape-rendering="crispEdges" d="M64.25 429.83h1.32m115.09 0h1.32"/>
<path stroke="#7890ff" stroke-width="4.44" shape-rendering="crispEdges" d="M80.12 398.73h1.32m68.79 0h1.32m26.46 0h1.32m6.61 0h1.32M68.22 394.29h1.32m3.97 0h1.32m26.46 0h1.32M60.28 389.84h1.32m80.69 0h1.32"/>
<path stroke="#a8a8ff" stroke-width="2.24" shape-rendering="crispEdges" d="M32.5 377.62h1.32m1.32 0h1.32m1.32 0h1.32m14.55 0h1.32m2.65 0h2.65m31.75 0h1.32m14.55 0h1.32m78.05 0h1.32m1.32 0h1.32"/>
<path stroke="#7878ff" stroke-width="2.24" shape-rendering="crispEdges" d="M39.11 377.62h1.32m1.32 0h2.65m5.29 0h1.32m5.29 0h1.32m3.97 0h1.32m2.65 0h1.32m1.32 0h1.32m9.26 0h2.65m1.32 0h2.65m11.91 0h1.32m3.97 0h1.32m11.91 0h2.65m1.32 0h1.32m3.97 0h1.32m2.65 0h6.61m1.32 0h2.65m1.32 0h1.32m6.61 0h2.65m1.32 0h1.32m1.32 0h1.32m1.32 0h1.32m2.65 0h1.32m1.32 0h1.32m3.97 0h2.65m5.29 0h2.65m1.32 0h3.97m6.61 0h1.32m2.65 0h2.65"/>
<path stroke="#4848ff" stroke-width="2.24" shape-rendering="crispEdges" d="M47.05 377.62h1.32m14.55 0h1.32m2.65 0h1.32m2.65 0h1.32m3.97 0h1.32m13.23 0h1.32m7.94 0h1.32m2.65 0h1.32m6.61 0h2.65m3.97 0h1.32m3.97 0h1.32m10.58 0h1.32m14.55 0h1.32m15.87 0h1.32m2.65 0h1.32m6.61 0h1.32m6.61 0h1.32m5.29 0h1.32"/>
<path stroke="#9090ff" stroke-width="2.24" shape-rendering="crispEdges" d="M48.37 377.62h1.32m1.32 0h1.32m42.33 0h1.32m9.26 0h1.32m14.55 0h1.32m25.13 0h1.32m27.78 0h1.32m7.94 0h1.32"/>
<path d="M31.5 652.5h169M31.5 648.5h169M31.5 643.5h169M31.5 639.5h169M31.5 634.5h169M31.5 630.5h169M31.5 625.5h169M31.5 621.5h169M31.5 616.5h169M31.5 612.5h169M31.5 608.5h169M31.5 603.5h169M31.5 599.5h169M31.5 594.5h169M31.5 590.5h169M31.5 585.5h169M31.5 581.5h169M31.5 576.5h169M31.5 572.5h169M31.5 568.5h169M31.5 563.5h169M31.5 559.5h169M31.5 554.5h169M31.5 550.5h169M31.5 545.5h169M31.5 541.5h169M31.5 536.5h169M31.5 532.5h169M31.5 528.5h169M31.5 523.5h169M31.5 519.5h169M31.5 514.5h169M31.5 510.5h169M31.5 505.5h169M31.5 501.5h169M31.5 496.5h169M31.5 492.5h169M31.5 488.5h169M31.5 483.5h169M31.5 479.5h169M31.5 474.5h169M31.5 470.5h169M31.5 465.5h169M31.5 461.5h169M31.5 456.5h169M31.5 452.5h169M31.5 448.5h169M31.5 443.5h169M31.5 439.5h169M31.5 434.5h169M31.5 430.5h169M31.5 425.5h169M31.5 421.5h169M31.5 416.5h169M31.5 412.5h169M31.5 408.5h169M31.5 403.5h169M31.5 399.5h169M31.5 394.5h169M31.5 390.5h169M31.5 385.5h169M31.5 381.5h169" stroke="#000" stroke-width="1" fill="none"/>
<rect x="32.5" y="376.5" width="168" height="280" fill="none" stroke="#000" stroke-width="1"/>
<path d="M32.5 657v-3.5M32.5 376v3.5M38.5 657v-3.5M38.5 376v3.5M43.5 657v-3.5M43.5 376v3.5M49.5 657v-3.5M49.5 376v3.5M54.5 657v-3.5M54.5 376v3.5M60.5 657v-3.5M60.5 376v3.5M66.5 657v-3.5M66.5 376v3.5M71.5 657v-3.5M71.5 376v3.5M77.5 657v-3.5M77.5 376v3.5M82.5 657v-3.5M82.5 376v3.5M88.5 657v-3.5M88.5 376v3.5M94.5 657v-3.5M94.5 376v3.5M99.5 657v-3.5M99.5 376v3.5M105.5 657v-3.5M105.5 376v3.5M110.5 657v-3.5M110.5 376v3.5M116.5 657v-3.5M116.5 376v3.5M122.5 657v-3.5M122.5 376v3.5M127.5 657v-3.5M127.5 376v3.5M133.5 657v-3.5M133.5 376v3.5M138.5 657v-3.5M138.5 376v3.5M144.5 657v-3.5M144.5 376v3.5M150.5 657v-3.5M150.5 376v3.5M155.5 657v-3.5M155.5 376v3.5M161.5 657v-3.5M161.5 376v3.5M166.5 657v-3.5M166.5 376v3.5M172.5 657v-3.5M172.5 376v3.5M178.5 657v-3.5M178.5 376v3.5M183.5 657v-3.5M183.5 376v3.5M189.5 657v-3.5M189.5 376v3.5M194.5 657v-3.5M194.5 376v3.5M200.5 657v-3.5M200.5 376v3.5M32.5 657v-6.5M32.5 376v6.5M60.5 657v-6.5M60.5 376v6.5M88.5 657v-6.5M88.5 376v6.5M116.5 657v-6.5M116.5 376v6.5M144.5 657v-6.5M144.5 376v6.5M172.5 657v-6.5M172.5 376v6.5M200.5 657v-6.5M200.5 376v6.5" stroke="#000" stroke-width="1" fill="none"/>
<text x="32.5" y="668.8" font-size="8.3" text-anchor="middle" textLength="19.5" lengthAdjust="spacingAndGlyphs" font-weight="bold">–150</text>
<text x="60.5" y="668.8" font-size="8.3" text-anchor="middle" textLength="19.5" lengthAdjust="spacingAndGlyphs" font-weight="bold">–100</text>
<text x="88.5" y="668.8" font-size="8.3" text-anchor="middle" textLength="14.9" lengthAdjust="spacingAndGlyphs" font-weight="bold">–50</text>
<text x="116.5" y="668.8" font-size="8.3" text-anchor="middle" textLength="3.8" lengthAdjust="spacingAndGlyphs" font-weight="bold">0</text>
<text x="144.5" y="668.8" font-size="8.3" text-anchor="middle" textLength="8.4" lengthAdjust="spacingAndGlyphs" font-weight="bold">50</text>
<text x="172.5" y="668.8" font-size="8.3" text-anchor="middle" textLength="13" lengthAdjust="spacingAndGlyphs" font-weight="bold">100</text>
<text x="116.5" y="678" font-size="7.8" text-anchor="middle" textLength="80" lengthAdjust="spacingAndGlyphs" >Radial Velocity (m/s)</text>
<path d="M32 656.5h4M201 656.5h-4M32 644.5h2.5M201 644.5h-2.5M32 632.5h2.5M201 632.5h-2.5M32 621.5h2.5M201 621.5h-2.5M32 609.5h2.5M201 609.5h-2.5M32 597.5h4M201 597.5h-4M32 585.5h2.5M201 585.5h-2.5M32 573.5h2.5M201 573.5h-2.5M32 561.5h2.5M201 561.5h-2.5M32 550.5h2.5M201 550.5h-2.5M32 538.5h4M201 538.5h-4M32 526.5h2.5M201 526.5h-2.5M32 514.5h2.5M201 514.5h-2.5M32 502.5h2.5M201 502.5h-2.5M32 490.5h2.5M201 490.5h-2.5M32 479.5h4M201 479.5h-4M32 467.5h2.5M201 467.5h-2.5M32 455.5h2.5M201 455.5h-2.5M32 443.5h2.5M201 443.5h-2.5M32 431.5h2.5M201 431.5h-2.5M32 419.5h4M201 419.5h-4M32 408.5h2.5M201 408.5h-2.5M32 396.5h2.5M201 396.5h-2.5M32 384.5h2.5M201 384.5h-2.5" stroke="#000" stroke-width="1" fill="none"/>
<text x="29" y="658.1" font-size="8.3" text-anchor="end" textLength="3.8" lengthAdjust="spacingAndGlyphs" font-weight="bold">0</text>
<text x="29" y="601.1" font-size="8.3" text-anchor="end" textLength="13" lengthAdjust="spacingAndGlyphs" font-weight="bold">200</text>
<text x="29" y="542.1" font-size="8.3" text-anchor="end" textLength="13" lengthAdjust="spacingAndGlyphs" font-weight="bold">400</text>
<text x="29" y="483.1" font-size="8.3" text-anchor="end" textLength="13" lengthAdjust="spacingAndGlyphs" font-weight="bold">600</text>
<text x="29" y="423.1" font-size="8.3" text-anchor="end" textLength="13" lengthAdjust="spacingAndGlyphs" font-weight="bold">800</text>
<text transform="translate(9.1 516.8) rotate(-90)" font-size="8.6" text-anchor="middle" textLength="44.5" lengthAdjust="spacingAndGlyphs">Range (km)</text>
<path stroke="#ff0000" stroke-width="2.32" shape-rendering="crispEdges" d="M332.5 655.34h168"/>
<path stroke="#ff0000" stroke-width="4.44" shape-rendering="crispEdges" d="M332.5 651.96h168M332.5 647.51h168M332.5 643.07h168M332.5 638.63h168M332.5 634.19h168M332.5 629.74h168M332.5 625.3h168M332.5 620.86h168M332.5 616.42h168M332.5 558.66h168M332.5 554.22h168M332.5 549.78h168M332.5 545.34h168"/>
<path stroke="#ff7800" stroke-width="4.44" shape-rendering="crispEdges" d="M332.5 611.97h168M332.5 563.11h168"/>
<path stroke="#6060ff" stroke-width="4.44" shape-rendering="crispEdges" d="M332.5 607.53h168M332.5 603.09h168M332.5 594.2h168M332.5 580.88h168M332.5 576.43h168M332.5 434.27h168M332.5 420.94h168M332.5 416.5h168M332.5 398.73h168"/>
<path stroke="#4860ff" stroke-width="4.44" shape-rendering="crispEdges" d="M332.5 598.65h168M332.5 589.76h168M332.5 585.32h168M332.5 447.6h168"/>
<path stroke="#4848ff" stroke-width="4.44" shape-rendering="crispEdges" d="M332.5 571.99h168M332.5 429.83h168M332.5 425.38h168"/>
<path stroke="#3078ff" stroke-width="4.44" shape-rendering="crispEdges" d="M332.5 567.55h168M332.5 523.12h168M332.5 456.48h168"/>
<path stroke="#ff3000" stroke-width="4.44" shape-rendering="crispEdges" d="M332.5 540.89h168"/>
<path stroke="#00d8ff" stroke-width="4.44" shape-rendering="crispEdges" d="M332.5 536.45h168"/>
<path stroke="#00c0ff" stroke-width="4.44" shape-rendering="crispEdges" d="M332.5 532.01h168M332.5 527.56h168"/>
<path stroke="#18a8ff" stroke-width="4.44" shape-rendering="crispEdges" d="M332.5 518.68h168M332.5 514.24h168M332.5 509.79h168M332.5 505.35h168M332.5 500.91h168"/>
<path stroke="#1890ff" stroke-width="4.44" shape-rendering="crispEdges" d="M332.5 496.47h168M332.5 465.37h168"/>
<path stroke="#3090ff" stroke-width="4.44" shape-rendering="crispEdges" d="M332.5 492.02h168M332.5 487.58h168M332.5 483.14h168M332.5 478.7h168M332.5 474.25h168M332.5 469.81h168M332.5 460.93h168"/>
<path stroke="#3060ff" stroke-width="4.44" shape-rendering="crispEdges" d="M332.5 452.04h168"/>
<path stroke="#3048ff" stroke-width="4.44" shape-rendering="crispEdges" d="M332.5 443.16h168"/>
<path stroke="#6078ff" stroke-width="4.44" shape-rendering="crispEdges" d="M332.5 438.71h168"/>
<path stroke="#7878ff" stroke-width="4.44" shape-rendering="crispEdges" d="M332.5 412.06h168M332.5 407.61h168M332.5 403.17h168M332.5 394.29h168M332.5 389.84h168M332.5 385.4h168M332.5 380.96h168"/>
<path stroke="#7878ff" stroke-width="2.24" shape-rendering="crispEdges" d="M332.5 377.62h168"/>
<path stroke="#ffa800" stroke-width="4.44" shape-rendering="crispEdges" d="M332.5 611.97h1.32m7.94 0h2.65m1.32 0h1.32m7.94 0h2.65m5.29 0h1.32m1.32 0h3.97m2.65 0h1.32m3.97 0h1.32m3.97 0h2.65m5.29 0h1.32m2.65 0h2.65m3.97 0h2.65m2.65 0h1.32m6.61 0h1.32m6.61 0h2.65m6.61 0h1.32m2.65 0h1.32m11.91 0h1.32m1.32 0h1.32m3.97 0h1.32m1.32 0h1.32m3.97 0h1.32m3.97 0h1.32m3.97 0h2.65m5.29 0h1.32m1.32 0h1.32m3.97 0h1.32m1.32 0h1.32m1.32 0h1.32M336.47 563.11h2.65m22.49 0h1.32m9.26 0h1.32m2.65 0h2.65m1.32 0h1.32m2.65 0h1.32m3.97 0h1.32m1.32 0h2.65m33.07 0h1.32m5.29 0h1.32m1.32 0h1.32m13.23 0h1.32m3.97 0h2.65m1.32 0h1.32m5.29 0h1.32m1.32 0h1.32m1.32 0h3.97m1.32 0h2.65m15.87 0h1.32"/>
<path stroke="#fff000" stroke-width="4.44" shape-rendering="crispEdges" d="M333.82 611.97h7.94m2.65 0h1.32m1.32 0h7.94m2.65 0h5.29m1.32 0h1.32m3.97 0h2.65m1.32 0h3.97m1.32 0h3.97m2.65 0h5.29m1.32 0h2.65m2.65 0h1.32M332.5 563.11h3.97m2.65 0h22.49m1.32 0h9.26m1.32 0h2.65m2.65 0h1.32m1.32 0h2.65m1.32 0h3.97m1.32 0h1.32M347.05 532.01h2.65m23.81 0h1.32m3.97 0h1.32m11.91 0h1.32m43.65 0h1.32m17.2 0h1.32m10.58 0h1.32m7.94 0h2.65m5.29 0h1.32m3.97 0h1.32M337.79 527.56h1.32m19.84 0h1.32m1.32 0h1.32m3.97 0h1.32m30.43 0h1.32m25.13 0h1.32m2.65 0h1.32m1.32 0h1.32m13.23 0h1.32m13.23 0h1.32m35.72 0h1.32"/>
<path stroke="#4848ff" stroke-width="4.44" shape-rendering="crispEdges" d="M332.5 607.53h1.32m5.29 0h2.65m1.32 0h1.32m1.32 0h2.65m9.26 0h1.32m79.37 0h1.32m13.23 0h2.65m17.2 0h1.32m9.26 0h1.32m1.32 0h1.32M335.15 603.09h1.32m13.23 0h1.32m1.32 0h1.32m5.29 0h2.65m6.61 0h1.32m1.32 0h1.32m1.32 0h2.65m5.29 0h1.32m15.87 0h1.32m1.32 0h1.32m5.29 0h1.32m1.32 0h1.32m2.65 0h1.32m9.26 0h2.65m5.29 0h2.65m2.65 0h2.65m3.97 0h1.32m2.65 0h1.32m2.65 0h1.32m3.97 0h1.32m11.91 0h1.32m1.32 0h1.32m6.61 0h1.32m1.32 0h1.32m3.97 0h1.32M352.34 598.65h1.32m3.97 0h1.32m2.65 0h1.32m5.29 0h1.32m1.32 0h1.32m5.29 0h1.32m1.32 0h2.65m17.2 0h1.32m5.29 0h1.32m1.32 0h1.32m6.61 0h2.65m2.65 0h1.32m1.32 0h1.32m3.97 0h1.32m6.61 0h3.97m21.17 0h1.32m1.32 0h1.32m5.29 0h1.32m13.23 0h2.65m2.65 0h1.32m5.29 0h1.32M335.15 594.2h1.32m13.23 0h1.32m6.61 0h1.32m1.32 0h1.32m18.52 0h2.65m3.97 0h1.32m3.97 0h1.32m5.29 0h1.32m9.26 0h1.32m7.94 0h1.32m1.32 0h1.32m6.61 0h1.32m6.61 0h2.65m9.26 0h1.32m5.29 0h1.32m3.97 0h1.32m6.61 0h1.32m6.61 0h1.32m2.65 0h1.32m5.29 0h1.32m2.65 0h1.32m2.65 0h1.32M337.79 589.76h1.32m2.65 0h1.32m9.26 0h2.65m1.32 0h2.65m9.26 0h1.32m3.97 0h1.32m2.65 0h1.32m6.61 0h1.32m2.65 0h1.32m3.97 0h2.65m5.29 0h1.32m5.29 0h1.32m9.26 0h1.32m5.29 0h1.32m2.65 0h1.32m2.65 0h2.65m2.65 0h2.65m6.61 0h1.32m11.91 0h1.32m1.32 0h2.65m11.91 0h1.32m7.94 0h1.32m1.32 0h2.65m1.32 0h1.32M335.15 585.32h1.32m1.32 0h1.32m5.29 0h2.65m1.32 0h1.32m7.94 0h1.32m14.55 0h1.32m1.32 0h2.65m2.65 0h1.32m3.97 0h2.65m18.52 0h1.32m3.97 0h1.32m13.23 0h1.32m3.97 0h1.32m19.84 0h1.32m2.65 0h2.65m5.29 0h2.65m10.58 0h3.97m6.61 0h1.32M332.5 580.88h1.32m1.32 0h1.32m9.26 0h1.32m1.32 0h1.32m10.58 0h6.61m2.65 0h1.32m1.32 0h1.32m2.65 0h1.32m11.91 0h1.32m1.32 0h1.32m6.61 0h1.32m5.29 0h1.32m14.55 0h2.65m13.23 0h1.32m1.32 0h2.65m5.29 0h1.32m2.65 0h1.32m10.58 0h3.97m25.13 0h1.32m1.32 0h1.32M344.41 576.43h1.32m5.29 0h1.32m6.61 0h1.32m2.65 0h1.32m1.32 0h1.32m1.32 0h1.32m3.97 0h1.32m3.97 0h1.32m3.97 0h1.32m2.65 0h1.32m10.58 0h1.32m22.49 0h1.32m1.32 0h1.32m9.26 0h1.32m3.97 0h1.32m18.52 0h2.65m6.61 0h2.65m11.91 0h1.32m3.97 0h1.32m1.32 0h1.32M337.79 443.16h1.32m23.81 0h1.32m1.32 0h1.32m7.94 0h1.32m1.32 0h1.32m14.55 0h2.65m11.91 0h1.32m10.58 0h1.32m2.65 0h1.32m7.94 0h1.32m7.94 0h1.32m1.32 0h1.32m7.94 0h1.32m1.32 0h1.32m1.32 0h2.65m18.52 0h1.32M332.5 438.71h1.32m7.94 0h1.32m9.26 0h1.32m2.65 0h1.32m13.23 0h2.65m5.29 0h1.32m1.32 0h1.32m18.52 0h1.32m2.65 0h1.32m1.32 0h1.32m14.55 0h1.32m3.97 0h1.32m3.97 0h1.32m2.65 0h1.32m3.97 0h2.65m3.97 0h1.32m3.97 0h2.65m1.32 0h1.32m5.29 0h1.32m18.52 0h1.32m3.97 0h2.65M335.15 434.27h2.65m7.94 0h1.32m3.97 0h1.32m1.32 0h1.32m3.97 0h1.32m2.65 0h1.32m6.61 0h2.65m13.23 0h1.32m1.32 0h1.32m6.61 0h1.32m1.32 0h1.32m6.61 0h1.32m6.61 0h1.32m1.32 0h1.32m5.29 0h1.32m11.91 0h1.32m9.26 0h2.65m9.26 0h1.32m3.97 0h1.32M336.47 420.94h1.32m2.65 0h1.32m3.97 0h1.32m3.97 0h1.32m2.65 0h1.32m2.65 0h1.32m2.65 0h1.32m1.32 0h1.32m2.65 0h1.32m14.55 0h2.65m14.55 0h1.32m2.65 0h1.32m5.29 0h1.32m5.29 0h1.32m6.61 0h3.97m3.97 0h2.65m6.61 0h2.65m1.32 0h1.32m2.65 0h1.32m1.32 0h1.32m3.97 0h1.32m3.97 0h5.29m3.97 0h1.32m5.29 0h1.32m9.26 0h1.32m1.32 0h1.32M332.5 416.5h1.32m2.65 0h1.32m1.32 0h3.97m10.58 0h1.32m7.94 0h3.97m6.61 0h1.32m7.94 0h1.32m2.65 0h1.32m11.91 0h1.32m11.91 0h2.65m22.49 0h1.32m3.97 0h1.32m13.23 0h2.65m1.32 0h1.32m2.65 0h1.32m1.32 0h1.32m1.32 0h1.32m17.2 0h1.32m5.29 0h1.32M332.5 412.06h1.32m3.97 0h1.32m3.97 0h1.32m5.29 0h1.32m2.65 0h1.32m13.23 0h1.32m14.55 0h1.32m6.61 0h1.32m3.97 0h3.97m27.78 0h1.32m2.65 0h2.65m3.97 0h1.32m9.26 0h2.65m2.65 0h1.32m1.32 0h2.65m1.32 0h1.32m9.26 0h1.32m1.32 0h1.32m2.65 0h1.32m6.61 0h1.32m5.29 0h1.32m3.97 0h1.32M332.5 407.61h1.32m1.32 0h1.32m1.32 0h1.32m2.65 0h1.32m5.29 0h1.32m6.61 0h1.32m6.61 0h1.32m9.26 0h1.32m15.87 0h1.32m6.61 0h1.32m6.61 0h1.32m9.26 0h1.32m2.65 0h1.32m22.49 0h1.32m11.91 0h2.65m1.32 0h2.65m7.94 0h1.32m9.26 0h1.32m13.23 0h1.32M335.15 403.17h1.32m2.65 0h1.32m5.29 0h2.65m1.32 0h1.32m1.32 0h1.32m7.94 0h1.32m1.32 0h1.32m2.65 0h1.32m2.65 0h1.32m2.65 0h1.32m7.94 0h1.32m2.65 0h1.32m2.65 0h1.32m1.32 0h1.32m2.65 0h1.32m2.65 0h1.32m7.94 0h1.32m1.32 0h1.32m5.29 0h1.32m13.23 0h1.32m15.87 0h1.32m3.97 0h1.32m2.65 0h1.32m10.58 0h1.32m2.65 0h1.32m6.61 0h1.32M335.15 398.73h1.32m2.65 0h1.32m2.65 0h1.32m2.65 0h2.65m2.65 0h1.32m2.65 0h1.32m10.58 0h1.32m25.13 0h1.32m3.97 0h1.32m25.13 0h3.97m1.32 0h1.32m15.87 0h1.32m5.29 0h1.32m13.23 0h1.32m5.29 0h1.32m1.32 0h2.65m1.32 0h2.65m2.65 0h1.32m2.65 0h1.32M347.05 394.29h1.32m6.61 0h1.32m3.97 0h1.32m1.32 0h2.65m11.91 0h1.32m15.87 0h3.97m26.46 0h1.32m6.61 0h1.32m1.32 0h1.32m22.49 0h1.32m5.29 0h1.32m3.97 0h1.32m3.97 0h1.32m10.58 0h1.32m6.61 0h1.32M362.93 389.84h1.32m1.32 0h1.32m22.49 0h1.32m1.32 0h1.32m5.29 0h1.32m14.55 0h1.32m18.52 0h1.32m1.32 0h1.32m14.55 0h1.32m2.65 0h1.32m1.32 0h1.32m11.91 0h1.32m3.97 0h1.32m1.32 0h1.32m14.55 0h1.32M336.47 385.4h1.32m31.75 0h1.32m1.32 0h1.32m9.26 0h1.32m11.91 0h1.32m6.61 0h1.32m2.65 0h2.65m26.46 0h1.32m9.26 0h1.32m1.32 0h1.32m6.61 0h1.32m7.94 0h1.32m27.78 0h1.32M345.73 380.96h1.32m2.65 0h1.32m13.23 0h1.32m11.91 0h1.32m5.29 0h1.32m1.32 0h1.32m14.55 0h2.65m3.97 0h1.32m9.26 0h1.32m13.23 0h1.32m5.29 0h1.32m2.65 0h1.32m5.29 0h1.32m15.87 0h1.32m6.61 0h1.32m9.26 0h2.65m5.29 0h1.32"/>
<path stroke="#4860ff" stroke-width="4.44" shape-rendering="crispEdges" d="M336.47 607.53h1.32m11.91 0h1.32m1.32 0h1.32m1.32 0h1.32m3.97 0h5.29m2.65 0h1.32m5.29 0h1.32m6.61 0h1.32m67.46 0h1.32m3.97 0h2.65m2.65 0h2.65m5.29 0h1.32m2.65 0h1.32m1.32 0h2.65m2.65 0h1.32m6.61 0h2.65m5.29 0h1.32M333.82 603.09h1.32m1.32 0h1.32m2.65 0h3.97m1.32 0h1.32m9.26 0h1.32m3.97 0h1.32m15.87 0h1.32m5.29 0h2.65m2.65 0h3.97m11.91 0h1.32m9.26 0h2.65m1.32 0h1.32m13.23 0h1.32m9.26 0h1.32m3.97 0h1.32m2.65 0h1.32m3.97 0h2.65m13.23 0h2.65m15.87 0h1.32m1.32 0h1.32M337.79 594.2h3.97m1.32 0h1.32m1.32 0h1.32m14.55 0h6.61m7.94 0h1.32m10.58 0h2.65m2.65 0h1.32m1.32 0h1.32m5.29 0h2.65m2.65 0h1.32m6.61 0h1.32m5.29 0h1.32m7.94 0h2.65m1.32 0h1.32m5.29 0h2.65m9.26 0h1.32m14.55 0h1.32m2.65 0h1.32m6.61 0h1.32m2.65 0h1.32m1.32 0h2.65M337.79 580.88h1.32m7.94 0h1.32m2.65 0h1.32m1.32 0h1.32m1.32 0h1.32m9.26 0h2.65m5.29 0h1.32m1.32 0h1.32m14.55 0h1.32m6.61 0h2.65m3.97 0h3.97m1.32 0h1.32m3.97 0h2.65m3.97 0h1.32m2.65 0h2.65m2.65 0h1.32m14.55 0h1.32m5.29 0h1.32m2.65 0h3.97m5.29 0h1.32m1.32 0h1.32m6.61 0h1.32m5.29 0h1.32m10.58 0h1.32M339.11 576.43h1.32m2.65 0h1.32m2.65 0h2.65m6.61 0h2.65m7.94 0h1.32m11.91 0h1.32m13.23 0h5.29m1.32 0h2.65m1.32 0h1.32m3.97 0h2.65m1.32 0h1.32m5.29 0h1.32m2.65 0h1.32m2.65 0h5.29m5.29 0h2.65m6.61 0h1.32m1.32 0h1.32m3.97 0h1.32m9.26 0h1.32m1.32 0h1.32m2.65 0h2.65m3.97 0h5.29m2.65 0h2.65m6.61 0h1.32M347.05 571.99h1.32m1.32 0h1.32m1.32 0h1.32m2.65 0h1.32m1.32 0h1.32m5.29 0h1.32m3.97 0h1.32m5.29 0h1.32m6.61 0h2.65m2.65 0h1.32m9.26 0h1.32m1.32 0h1.32m1.32 0h2.65m2.65 0h3.97m1.32 0h1.32m5.29 0h3.97m5.29 0h1.32m5.29 0h2.65m6.61 0h3.97m3.97 0h1.32m5.29 0h1.32m5.29 0h1.32m5.29 0h1.32m3.97 0h1.32m3.97 0h2.65m2.65 0h2.65m1.32 0h1.32M332.5 443.16h1.32m5.29 0h2.65m1.32 0h1.32m7.94 0h1.32m1.32 0h1.32m1.32 0h1.32m11.91 0h1.32m23.81 0h3.97m3.97 0h1.32m1.32 0h1.32m1.32 0h1.32m5.29 0h1.32m7.94 0h2.65m7.94 0h3.97m13.23 0h1.32m1.32 0h1.32m6.61 0h2.65m1.32 0h1.32m13.23 0h1.32m2.65 0h1.32m2.65 0h2.65m3.97 0h1.32M337.79 438.71h2.65m13.23 0h1.32m2.65 0h1.32m21.17 0h1.32m1.32 0h1.32m5.29 0h2.65m2.65 0h2.65m2.65 0h1.32m2.65 0h1.32m3.97 0h1.32m3.97 0h2.65m3.97 0h1.32m3.97 0h1.32m5.29 0h1.32m2.65 0h1.32m15.87 0h1.32m5.29 0h1.32m9.26 0h2.65m7.94 0h1.32m6.61 0h1.32m5.29 0h1.32M332.5 434.27h2.65m5.29 0h1.32m10.58 0h1.32m48.94 0h1.32m2.65 0h1.32m1.32 0h1.32m1.32 0h1.32m3.97 0h1.32m14.55 0h2.65m3.97 0h1.32m6.61 0h1.32m6.61 0h1.32m2.65 0h1.32m2.65 0h1.32m2.65 0h1.32m7.94 0h1.32m13.23 0h1.32m1.32 0h1.32m2.65 0h1.32M348.37 429.83h2.65m6.61 0h2.65m7.94 0h1.32m11.91 0h9.26m3.97 0h1.32m2.65 0h1.32m19.84 0h1.32m2.65 0h1.32m6.61 0h1.32m1.32 0h1.32m3.97 0h1.32m5.29 0h1.32m3.97 0h1.32m6.61 0h1.32m1.32 0h1.32m5.29 0h1.32m5.29 0h1.32m10.58 0h1.32m10.58 0h1.32M341.76 425.38h2.65m1.32 0h1.32m22.49 0h2.65m2.65 0h1.32m6.61 0h1.32m2.65 0h1.32m2.65 0h1.32m2.65 0h1.32m6.61 0h1.32m1.32 0h1.32m7.94 0h1.32m2.65 0h1.32m7.94 0h1.32m39.69 0h1.32m3.97 0h1.32m2.65 0h1.32m9.26 0h1.32m1.32 0h1.32m6.61 0h1.32M333.82 420.94h1.32m26.46 0h1.32m17.2 0h1.32m1.32 0h1.32m10.58 0h2.65m25.13 0h1.32m1.32 0h2.65m19.84 0h1.32m9.26 0h1.32m2.65 0h1.32M337.79 416.5h1.32m3.97 0h1.32m13.23 0h1.32m35.72 0h1.32m19.84 0h1.32m6.61 0h1.32m17.2 0h1.32m2.65 0h1.32m7.94 0h2.65m15.87 0h1.32m3.97 0h1.32M362.93 412.06h1.32m6.61 0h1.32m5.29 0h2.65m1.32 0h1.32m22.49 0h1.32m2.65 0h1.32m10.58 0h1.32m3.97 0h1.32m2.65 0h1.32m34.39 0h1.32m23.81 0h1.32M339.11 407.61h1.32m44.98 0h1.32m47.62 0h1.32m14.55 0h1.32m37.04 0h1.32M332.5 403.17h1.32m58.2 0h1.32m44.98 0h1.32m58.2 0h1.32M353.67 398.73h1.32m14.55 0h1.32m79.37 0h1.32m5.29 0h1.32m6.61 0h2.65M356.31 394.29h1.32m64.82 0h1.32"/>
<path stroke="#6078ff" stroke-width="4.44" shape-rendering="crispEdges" d="M344.41 607.53h1.32m2.65 0h1.32m1.32 0h1.32m3.97 0h1.32m7.94 0h2.65m1.32 0h1.32m2.65 0h1.32m1.32 0h1.32m9.26 0h1.32m48.94 0h1.32m3.97 0h2.65m1.32 0h1.32m2.65 0h1.32m7.94 0h2.65m25.13 0h2.65m2.65 0h2.65m1.32 0h1.32M344.41 603.09h1.32m1.32 0h1.32m15.87 0h1.32m1.32 0h1.32m1.32 0h1.32m5.29 0h1.32m6.61 0h1.32m26.46 0h1.32m2.65 0h1.32m11.91 0h1.32m1.32 0h1.32m3.97 0h1.32m5.29 0h1.32m11.91 0h1.32m7.94 0h2.65m3.97 0h1.32m9.26 0h1.32m3.97 0h1.32m1.32 0h2.65M336.47 598.65h1.32m15.87 0h1.32m5.29 0h1.32m1.32 0h1.32m30.43 0h1.32m1.32 0h1.32m14.55 0h1.32m1.32 0h1.32m3.97 0h1.32m6.61 0h1.32m1.32 0h1.32m29.1 0h1.32m27.78 0h1.32M332.5 594.2h1.32m2.65 0h1.32m6.61 0h1.32m5.29 0h1.32m6.61 0h1.32m9.26 0h3.97m3.97 0h1.32m15.87 0h1.32m1.32 0h1.32m25.13 0h1.32m2.65 0h1.32m17.2 0h1.32m3.97 0h1.32m9.26 0h1.32m2.65 0h2.65m2.65 0h1.32m2.65 0h1.32m7.94 0h1.32m11.91 0h1.32M332.5 589.76h1.32m1.32 0h1.32m14.55 0h1.32m7.94 0h1.32m1.32 0h1.32m1.32 0h1.32m26.46 0h1.32m3.97 0h1.32m5.29 0h1.32m7.94 0h1.32m9.26 0h1.32m6.61 0h1.32m7.94 0h1.32m23.81 0h1.32m7.94 0h1.32m3.97 0h1.32m2.65 0h1.32m6.61 0h1.32M332.5 585.32h1.32m17.2 0h1.32m3.97 0h1.32m17.2 0h1.32m3.97 0h1.32m2.65 0h1.32m6.61 0h1.32m2.65 0h1.32m2.65 0h1.32m13.23 0h1.32m1.32 0h2.65m11.91 0h1.32m1.32 0h1.32m3.97 0h1.32m15.87 0h1.32m10.58 0h1.32m5.29 0h1.32m15.87 0h2.65M339.11 580.88h1.32m2.65 0h1.32m13.23 0h1.32m14.55 0h1.32m3.97 0h3.97m2.65 0h2.65m6.61 0h1.32m7.94 0h2.65m5.29 0h1.32m1.32 0h1.32m1.32 0h1.32m9.26 0h1.32m2.65 0h1.32m2.65 0h2.65m19.84 0h1.32m26.46 0h1.32m3.97 0h1.32M349.7 576.43h1.32m23.81 0h2.65m11.91 0h1.32m2.65 0h1.32m23.81 0h1.32m25.13 0h1.32m7.94 0h2.65m7.94 0h2.65m31.75 0h1.32M351.02 571.99h1.32m7.94 0h1.32m1.32 0h1.32m5.29 0h1.32m23.81 0h1.32m9.26 0h1.32m9.26 0h1.32m1.32 0h1.32m11.91 0h1.32m5.29 0h1.32m2.65 0h1.32m3.97 0h1.32m10.58 0h1.32m3.97 0h2.65m7.94 0h1.32m1.32 0h1.32m5.29 0h1.32m3.97 0h1.32M344.41 447.6h1.32m31.75 0h2.65m13.23 0h2.65m29.1 0h1.32m2.65 0h1.32m5.29 0h1.32m15.87 0h1.32m29.1 0h2.65m5.29 0h1.32M333.82 443.16h1.32m1.32 0h1.32m3.97 0h1.32m18.52 0h1.32m9.26 0h1.32m5.29 0h1.32m5.29 0h2.65m1.32 0h1.32m1.32 0h1.32m17.2 0h1.32m2.65 0h1.32m2.65 0h1.32m9.26 0h2.65m17.2 0h1.32m1.32 0h1.32m5.29 0h1.32m2.65 0h1.32m6.61 0h1.32m2.65 0h1.32m7.94 0h1.32m9.26 0h1.32m2.65 0h1.32M341.76 434.27h1.32m3.97 0h1.32m9.26 0h1.32m1.32 0h1.32m6.61 0h1.32m3.97 0h1.32m1.32 0h2.65m2.65 0h1.32m1.32 0h2.65m17.2 0h2.65m15.87 0h1.32m3.97 0h1.32m2.65 0h1.32m11.91 0h1.32m5.29 0h1.32m5.29 0h1.32m11.91 0h1.32m9.26 0h3.97m2.65 0h1.32m2.65 0h1.32M335.15 429.83h1.32m7.94 0h3.97m2.65 0h1.32m9.26 0h1.32m14.55 0h1.32m18.52 0h1.32m22.49 0h1.32m2.65 0h1.32m3.97 0h1.32m1.32 0h1.32m21.17 0h3.97m17.2 0h1.32m1.32 0h2.65m1.32 0h1.32m7.94 0h1.32M337.79 425.38h1.32m34.39 0h1.32m3.97 0h1.32m48.94 0h1.32m19.84 0h1.32m25.13 0h1.32m19.84 0h1.32M343.08 420.94h1.32m22.49 0h1.32m2.65 0h1.32m11.91 0h1.32m3.97 0h2.65m1.32 0h1.32m5.29 0h1.32m2.65 0h1.32m5.29 0h1.32m19.84 0h2.65m25.13 0h1.32m11.91 0h1.32m3.97 0h1.32m1.32 0h1.32m5.29 0h1.32m1.32 0h1.32M347.05 416.5h1.32m1.32 0h1.32m29.1 0h1.32m35.72 0h1.32m14.55 0h1.32m6.61 0h1.32m21.17 0h1.32m29.1 0h1.32M393.35 412.06h1.32m23.81 0h1.32m3.97 0h1.32m6.61 0h1.32m5.29 0h1.32M340.44 407.61h1.32m3.97 0h1.32m15.87 0h1.32m5.29 0h1.32m33.07 0h1.32m15.87 0h1.32m9.26 0h1.32m14.55 0h1.32m9.26 0h1.32m10.58 0h1.32m3.97 0h1.32M358.96 403.17h2.65m21.17 0h2.65m38.36 0h1.32m22.49 0h1.32m15.87 0h1.32m10.58 0h1.32M434.36 398.73h1.32m11.91 0h1.32M365.57 394.29h1.32m41.01 0h1.32m18.52 0h1.32M356.31 385.4h1.32"/>
<path stroke="#a8a8ff" stroke-width="4.44" shape-rendering="crispEdges" d="M370.86 607.53h1.32m68.79 0h1.32m5.29 0h1.32m17.2 0h1.32m11.91 0h2.65M405.26 443.16h1.32M348.37 438.71h1.32m85.98 0h1.32m30.43 0h1.32m1.32 0h1.32M348.37 434.27h1.32M352.34 429.83h1.32m6.61 0h1.32m11.91 0h2.65m26.46 0h1.32m44.98 0h1.32M389.38 425.38h1.32m6.61 0h1.32M337.79 420.94h1.32m13.23 0h1.32m87.31 0h2.65m13.23 0h1.32m26.46 0h1.32M397.32 416.5h1.32m11.91 0h1.32m14.55 0h1.32m22.49 0h1.32M335.15 412.06h1.32m54.24 0h1.32m25.13 0h1.32m34.39 0h1.32M361.6 407.61h1.32m10.58 0h1.32m14.55 0h1.32m14.55 0h1.32m3.97 0h1.32m43.65 0h1.32M401.29 403.17h1.32m5.29 0h1.32m35.72 0h1.32m31.75 0h1.32M390.7 398.73h1.32m59.53 0h1.32m1.32 0h1.32m7.94 0h1.32m22.49 0h1.32M333.82 394.29h1.32m14.55 0h1.32m6.61 0h1.32m2.65 0h1.32m58.2 0h1.32m7.94 0h1.32m6.61 0h1.32m15.87 0h1.32m17.2 0h1.32M354.99 389.84h1.32m29.1 0h1.32m35.72 0h1.32m5.29 0h1.32m48.94 0h1.32m13.23 0h1.32M332.5 385.4h1.32m7.94 0h1.32m38.36 0h1.32m1.32 0h1.32m59.53 0h1.32m17.2 0h1.32M336.47 380.96h1.32m10.58 0h1.32m7.94 0h1.32m2.65 0h1.32m22.49 0h1.32m13.23 0h1.32m6.61 0h1.32m18.52 0h1.32m34.39 0h1.32m26.46 0h1.32"/>
<path stroke="#4878ff" stroke-width="4.44" shape-rendering="crispEdges" d="M389.38 607.53h1.32m44.98 0h1.32M372.19 456.48h1.32m2.65 0h1.32m27.78 0h1.32m10.58 0h1.32m44.98 0h1.32m33.07 0h1.32M333.82 452.04h1.32m1.32 0h1.32m10.58 0h5.29m1.32 0h1.32m3.97 0h2.65m1.32 0h1.32m1.32 0h3.97m5.29 0h2.65m2.65 0h1.32m1.32 0h1.32m2.65 0h3.97m1.32 0h1.32m1.32 0h5.29m2.65 0h3.97m9.26 0h1.32m5.29 0h1.32m11.91 0h1.32m1.32 0h1.32m3.97 0h1.32m1.32 0h2.65m6.61 0h1.32m3.97 0h5.29m2.65 0h1.32m3.97 0h7.94m3.97 0h1.32m9.26 0h2.65M351.02 447.6h1.32m6.61 0h1.32m29.1 0h1.32m1.32 0h1.32m9.26 0h1.32m1.32 0h1.32m1.32 0h1.32m2.65 0h1.32m1.32 0h2.65m6.61 0h1.32m7.94 0h2.65m9.26 0h1.32m5.29 0h1.32m10.58 0h1.32m11.91 0h1.32m1.32 0h1.32"/>
<path stroke="#3090ff" stroke-width="4.44" shape-rendering="crispEdges" d="M390.7 607.53h2.65m39.69 0h1.32M340.44 465.37h2.65m51.59 0h1.32m1.32 0h1.32m13.23 0h1.32m15.87 0h2.65m3.97 0h1.32m30.43 0h1.32"/>
<path stroke="#18a8ff" stroke-width="4.44" shape-rendering="crispEdges" d="M393.35 607.53h2.65m34.39 0h1.32M332.5 567.55h1.32m1.32 0h1.32m11.91 0h1.32m9.26 0h1.32m2.65 0h1.32m9.26 0h1.32m38.36 0h1.32m13.23 0h1.32m7.94 0h1.32m1.32 0h2.65m1.32 0h1.32m6.61 0h1.32m2.65 0h1.32m1.32 0h1.32m11.91 0h1.32m5.29 0h5.29m10.58 0h1.32m2.65 0h1.32M347.05 523.12h1.32m7.94 0h2.65m5.29 0h1.32m1.32 0h1.32m10.58 0h1.32m14.55 0h1.32m13.23 0h1.32m6.61 0h1.32m11.91 0h1.32m17.2 0h2.65m13.23 0h1.32m1.32 0h1.32m14.55 0h2.65m3.97 0h1.32M344.41 496.47h2.65m1.32 0h2.65m6.61 0h1.32m2.65 0h1.32m10.58 0h1.32m25.13 0h1.32m13.23 0h1.32m10.58 0h1.32m7.94 0h1.32m3.97 0h1.32m5.29 0h1.32m3.97 0h1.32m1.32 0h1.32m10.58 0h1.32m5.29 0h2.65m5.29 0h1.32m13.23 0h1.32M335.15 492.02h1.32m3.97 0h3.97m14.55 0h1.32m2.65 0h3.97m17.2 0h1.32m2.65 0h1.32m18.52 0h1.32m5.29 0h1.32m1.32 0h2.65m11.91 0h1.32m2.65 0h1.32m5.29 0h1.32m14.55 0h1.32m37.04 0h1.32M341.76 487.58h1.32m39.69 0h1.32m31.75 0h1.32m9.26 0h1.32m6.61 0h1.32m2.65 0h2.65m3.97 0h1.32m23.81 0h1.32m1.32 0h2.65m11.91 0h1.32m10.58 0h1.32M337.79 483.14h1.32m6.61 0h1.32m2.65 0h2.65m9.26 0h2.65m5.29 0h1.32m9.26 0h1.32m5.29 0h6.61m17.2 0h1.32m2.65 0h1.32m1.32 0h2.65m1.32 0h1.32m11.91 0h1.32m13.23 0h1.32m6.61 0h1.32m22.49 0h1.32m2.65 0h2.65m1.32 0h1.32m9.26 0h1.32M337.79 478.7h1.32m2.65 0h1.32m6.61 0h1.32m1.32 0h2.65m11.91 0h2.65m1.32 0h1.32m3.97 0h1.32m5.29 0h1.32m3.97 0h1.32m9.26 0h1.32m1.32 0h1.32m3.97 0h1.32m9.26 0h1.32m2.65 0h1.32m25.13 0h1.32m3.97 0h1.32m3.97 0h1.32m10.58 0h1.32m5.29 0h1.32m2.65 0h2.65m1.32 0h1.32m1.32 0h2.65m3.97 0h1.32m1.32 0h1.32M335.15 474.25h1.32m6.61 0h2.65m1.32 0h2.65m3.97 0h1.32m1.32 0h1.32m5.29 0h1.32m3.97 0h2.65m1.32 0h1.32m2.65 0h1.32m10.58 0h2.65m6.61 0h3.97m6.61 0h1.32m5.29 0h1.32m3.97 0h2.65m10.58 0h1.32m10.58 0h2.65m6.61 0h2.65m9.26 0h1.32m1.32 0h1.32m3.97 0h2.65m9.26 0h1.32m5.29 0h1.32m5.29 0h1.32M332.5 469.81h1.32m10.58 0h2.65m2.65 0h1.32m1.32 0h2.65m11.91 0h1.32m2.65 0h1.32m2.65 0h1.32m14.55 0h1.32m5.29 0h5.29m1.32 0h1.32m7.94 0h1.32m1.32 0h2.65m3.97 0h1.32m1.32 0h1.32m1.32 0h1.32m1.32 0h1.32m11.91 0h1.32m1.32 0h1.32m2.65 0h1.32m15.87 0h1.32m2.65 0h2.65m15.87 0h1.32m1.32 0h1.32m3.97 0h1.32"/>
<path stroke="#18c0ff" stroke-width="4.44" shape-rendering="crispEdges" d="M396 607.53h1.32m31.75 0h1.32M378.8 518.68h1.32m9.26 0h2.65m27.78 0h1.32m2.65 0h1.32m18.52 0h1.32m22.49 0h1.32m15.87 0h1.32m6.61 0h1.32M352.34 514.24h1.32m79.37 0h1.32m42.33 0h1.32M339.11 509.79h1.32m2.65 0h1.32m3.97 0h1.32m30.43 0h1.32m1.32 0h1.32m7.94 0h1.32m10.58 0h1.32m3.97 0h1.32m15.87 0h1.32m23.81 0h1.32m6.61 0h1.32m2.65 0h1.32m6.61 0h1.32m6.61 0h1.32m11.91 0h1.32M337.79 505.35h1.32m2.65 0h1.32m1.32 0h1.32m29.1 0h1.32m34.39 0h1.32m14.55 0h1.32m6.61 0h1.32m1.32 0h1.32m26.46 0h1.32m3.97 0h1.32m17.2 0h1.32m7.94 0h1.32"/>
<path stroke="#00d8ff" stroke-width="4.44" shape-rendering="crispEdges" d="M397.32 607.53h1.32m27.78 0h1.32M380.12 518.68h1.32m5.29 0h1.32m3.97 0h1.32m3.97 0h2.65m1.32 0h2.65M382.77 514.24h1.32m1.32 0h2.65m2.65 0h2.65m3.97 0h1.32m7.94 0h1.32m2.65 0h3.97M389.38 509.79h1.32m5.29 0h2.65m1.32 0h1.32m5.29 0h1.32m9.26 0h1.32m1.32 0h1.32m1.32 0h1.32M380.12 505.35h1.32m3.97 0h1.32m11.91 0h1.32m1.32 0h6.61m13.23 0h2.65M376.15 500.91h1.32m3.97 0h1.32m2.65 0h2.65m5.29 0h1.32m7.94 0h2.65m2.65 0h1.32m7.94 0h1.32M378.8 496.47h1.32m2.65 0h1.32m9.26 0h3.97m1.32 0h1.32m5.29 0h1.32m9.26 0h1.32m2.65 0h1.32M378.8 492.02h1.32m5.29 0h1.32m10.58 0h1.32m5.29 0h1.32m19.84 0h1.32M392.03 487.58h1.32m5.29 0h1.32m3.97 0h1.32m5.29 0h1.32M378.8 478.7h1.32m13.23 0h1.32m18.52 0h1.32"/>
<path stroke="#00d8f0" stroke-width="4.44" shape-rendering="crispEdges" d="M398.64 607.53h1.32m25.13 0h1.32"/>
<path stroke="#18d8f0" stroke-width="4.44" shape-rendering="crispEdges" d="M399.96 607.53h2.65m21.17 0h1.32"/>
<path stroke="#18f0d8" stroke-width="4.44" shape-rendering="crispEdges" d="M402.61 607.53h1.32"/>
<path stroke="#30f0d8" stroke-width="4.44" shape-rendering="crispEdges" d="M403.93 607.53h2.65m13.23 0h2.65"/>
<path stroke="#48f0c0" stroke-width="4.44" shape-rendering="crispEdges" d="M406.58 607.53h1.32"/>
<path stroke="#60f0a8" stroke-width="4.44" shape-rendering="crispEdges" d="M407.9 607.53h1.32"/>
<path stroke="#78f090" stroke-width="4.44" shape-rendering="crispEdges" d="M409.22 607.53h1.32m5.29 0h1.32"/>
<path stroke="#90f078" stroke-width="4.44" shape-rendering="crispEdges" d="M410.55 607.53h1.32m2.65 0h1.32"/>
<path stroke="#a8ff48" stroke-width="4.44" shape-rendering="crispEdges" d="M411.87 607.53h1.32"/>
<path stroke="#a8ff60" stroke-width="4.44" shape-rendering="crispEdges" d="M413.19 607.53h1.32M374.83 536.45h1.32m46.3 0h1.32m18.52 0h1.32m17.2 0h1.32m23.81 0h1.32M341.76 532.01h1.32m2.65 0h1.32m25.13 0h1.32m7.94 0h1.32m17.2 0h1.32m22.49 0h1.32m18.52 0h1.32m5.29 0h1.32m11.91 0h2.65m27.78 0h2.65M336.47 527.56h1.32m22.49 0h1.32m1.32 0h1.32m21.17 0h1.32m30.43 0h1.32m59.53 0h1.32m10.58 0h1.32"/>
<path stroke="#48f0a8" stroke-width="4.44" shape-rendering="crispEdges" d="M417.16 607.53h1.32"/>
<path stroke="#30f0c0" stroke-width="4.44" shape-rendering="crispEdges" d="M418.48 607.53h1.32"/>
<path stroke="#18d8d8" stroke-width="4.44" shape-rendering="crispEdges" d="M422.45 607.53h1.32"/>
<path stroke="#00c0ff" stroke-width="4.44" shape-rendering="crispEdges" d="M427.74 607.53h1.32M336.47 567.55h1.32m3.97 0h5.29m2.65 0h3.97m1.32 0h3.97m2.65 0h1.32m2.65 0h2.65m1.32 0h1.32m5.29 0h2.65m2.65 0h1.32m3.97 0h1.32m3.97 0h3.97m2.65 0h1.32m1.32 0h1.32m3.97 0h1.32m6.61 0h1.32m1.32 0h1.32m3.97 0h1.32m2.65 0h1.32m1.32 0h1.32m3.97 0h1.32m2.65 0h1.32m2.65 0h1.32m1.32 0h2.65m5.29 0h1.32m2.65 0h1.32m7.94 0h2.65m6.61 0h2.65m6.61 0h1.32m1.32 0h6.61m5.29 0h1.32M332.5 523.12h1.32m1.32 0h1.32m1.32 0h2.65m1.32 0h1.32m1.32 0h2.65m1.32 0h2.65m1.32 0h1.32m1.32 0h1.32m6.61 0h1.32m1.32 0h1.32m1.32 0h2.65m1.32 0h1.32m1.32 0h3.97m1.32 0h6.61m2.65 0h1.32m2.65 0h1.32m1.32 0h1.32m1.32 0h1.32m1.32 0h2.65m1.32 0h3.97m1.32 0h1.32m6.61 0h1.32m2.65 0h2.65m2.65 0h1.32m9.26 0h1.32m13.23 0h2.65m2.65 0h1.32m1.32 0h1.32m3.97 0h1.32m2.65 0h3.97m5.29 0h1.32m6.61 0h1.32m5.29 0h3.97M336.47 518.68h1.32m7.94 0h2.65m2.65 0h1.32m6.61 0h1.32m7.94 0h1.32m2.65 0h1.32m21.17 0h1.32m9.26 0h1.32m5.29 0h1.32m3.97 0h2.65m7.94 0h1.32m6.61 0h1.32m2.65 0h1.32m1.32 0h1.32m6.61 0h1.32m2.65 0h1.32m5.29 0h1.32m23.81 0h1.32m7.94 0h1.32M333.82 514.24h1.32m5.29 0h1.32m1.32 0h1.32m3.97 0h1.32m6.61 0h1.32m1.32 0h1.32m2.65 0h1.32m1.32 0h1.32m22.49 0h1.32m10.58 0h1.32m17.2 0h1.32m1.32 0h2.65m1.32 0h1.32m7.94 0h1.32m9.26 0h1.32m9.26 0h1.32m11.91 0h1.32m1.32 0h1.32m6.61 0h1.32m2.65 0h1.32m13.23 0h1.32M333.82 509.79h1.32m22.49 0h1.32m7.94 0h1.32m1.32 0h5.29m43.65 0h1.32m11.91 0h1.32m10.58 0h1.32m19.84 0h1.32m1.32 0h1.32m9.26 0h1.32m10.58 0h1.32m7.94 0h1.32M336.47 505.35h1.32m14.55 0h1.32m22.49 0h1.32m10.58 0h1.32m7.94 0h1.32m1.32 0h1.32m11.91 0h1.32m14.55 0h1.32m19.84 0h1.32m3.97 0h2.65m2.65 0h1.32m1.32 0h1.32m7.94 0h1.32m2.65 0h2.65m19.84 0h1.32M337.79 500.91h1.32m10.58 0h1.32m7.94 0h1.32m7.94 0h1.32m7.94 0h1.32m5.29 0h1.32m11.91 0h1.32m6.61 0h1.32m13.23 0h1.32m9.26 0h1.32m15.87 0h1.32m41.01 0h1.32m1.32 0h1.32M337.79 496.47h1.32m14.55 0h1.32m5.29 0h1.32m14.55 0h1.32m3.97 0h1.32m1.32 0h1.32m5.29 0h1.32m5.29 0h1.32m13.23 0h1.32m7.94 0h1.32m6.61 0h1.32m1.32 0h1.32m15.87 0h2.65m2.65 0h1.32m9.26 0h1.32m3.97 0h2.65m11.91 0h1.32M337.79 492.02h1.32m22.49 0h1.32m48.94 0h1.32m2.65 0h1.32m6.61 0h1.32m9.26 0h1.32m2.65 0h1.32m1.32 0h1.32m13.23 0h1.32m3.97 0h1.32m5.29 0h2.65m5.29 0h1.32m3.97 0h1.32m1.32 0h1.32m1.32 0h1.32m7.94 0h1.32M335.15 487.58h1.32m13.23 0h1.32m7.94 0h1.32m42.33 0h1.32m26.46 0h1.32m18.52 0h1.32m15.87 0h1.32m21.17 0h1.32M332.5 483.14h1.32m59.53 0h1.32m27.78 0h1.32m5.29 0h1.32m38.36 0h1.32m13.23 0h1.32M343.08 478.7h1.32m3.97 0h1.32m10.58 0h1.32m27.78 0h1.32m3.97 0h1.32m42.33 0h1.32m15.87 0h1.32m3.97 0h1.32m13.23 0h1.32m2.65 0h1.32M345.73 474.25h1.32m2.65 0h1.32m31.75 0h2.65m1.32 0h1.32m6.61 0h1.32m26.46 0h1.32m23.81 0h1.32M485.95 469.81h1.32m11.91 0h1.32"/>
<path stroke="#30a8ff" stroke-width="4.44" shape-rendering="crispEdges" d="M431.71 607.53h1.32M339.11 465.37h1.32m5.29 0h1.32m1.32 0h1.32m1.32 0h5.29m7.94 0h2.65m1.32 0h2.65m5.29 0h1.32m1.32 0h1.32m5.29 0h1.32m1.32 0h6.61m3.97 0h1.32m3.97 0h1.32m3.97 0h2.65m3.97 0h1.32m19.84 0h1.32m1.32 0h5.29m10.58 0h1.32m1.32 0h3.97m6.61 0h2.65m1.32 0h1.32m1.32 0h1.32m2.65 0h2.65m5.29 0h2.65"/>
<path stroke="#3078ff" stroke-width="4.44" shape-rendering="crispEdges" d="M434.36 607.53h1.32M332.5 536.45h1.32m2.65 0h1.32m1.32 0h1.32m13.23 0h1.32m15.87 0h1.32m1.32 0h1.32m1.32 0h1.32m6.61 0h1.32m11.91 0h1.32m2.65 0h2.65m5.29 0h1.32m10.58 0h1.32m21.17 0h1.32m1.32 0h2.65m2.65 0h3.97m7.94 0h2.65m1.32 0h1.32m13.23 0h1.32m5.29 0h1.32m3.97 0h1.32m2.65 0h2.65M336.47 532.01h1.32m13.23 0h1.32m6.61 0h1.32m3.97 0h1.32m14.55 0h1.32m5.29 0h1.32m6.61 0h1.32m35.72 0h1.32m2.65 0h1.32m1.32 0h2.65m6.61 0h2.65m1.32 0h1.32m9.26 0h1.32m2.65 0h1.32m1.32 0h1.32m2.65 0h1.32m1.32 0h1.32m5.29 0h1.32m2.65 0h1.32m1.32 0h1.32m1.32 0h1.32m5.29 0h1.32M340.44 527.56h1.32m1.32 0h1.32m9.26 0h1.32m15.87 0h2.65m19.84 0h2.65m3.97 0h1.32m13.23 0h1.32m6.61 0h1.32m10.58 0h5.29m1.32 0h1.32m1.32 0h1.32m17.2 0h1.32m5.29 0h2.65m2.65 0h1.32m3.97 0h1.32m2.65 0h2.65m7.94 0h1.32M337.79 518.68h1.32m1.32 0h1.32m1.32 0h1.32m3.97 0h1.32m17.2 0h1.32m9.26 0h1.32m2.65 0h3.97m22.49 0h1.32m1.32 0h1.32m3.97 0h1.32m19.84 0h1.32m13.23 0h2.65m11.91 0h1.32m1.32 0h1.32m9.26 0h1.32m13.23 0h1.32m1.32 0h1.32M339.11 514.24h1.32m1.32 0h1.32m3.97 0h1.32m2.65 0h1.32m2.65 0h1.32m7.94 0h1.32m1.32 0h3.97m2.65 0h1.32m1.32 0h1.32m2.65 0h1.32m2.65 0h1.32m2.65 0h1.32m5.29 0h1.32m3.97 0h1.32m3.97 0h1.32m21.17 0h1.32m1.32 0h1.32m6.61 0h1.32m3.97 0h1.32m9.26 0h1.32m6.61 0h2.65m1.32 0h1.32m3.97 0h1.32m13.23 0h5.29m1.32 0h1.32m1.32 0h1.32M332.5 509.79h1.32m1.32 0h1.32m1.32 0h1.32m2.65 0h1.32m10.58 0h1.32m5.29 0h1.32m2.65 0h1.32m9.26 0h2.65m15.87 0h1.32m10.58 0h1.32m6.61 0h1.32m15.87 0h1.32m1.32 0h5.29m7.94 0h5.29m1.32 0h1.32m1.32 0h3.97m2.65 0h1.32m10.58 0h1.32M332.5 505.35h1.32m1.32 0h1.32m3.97 0h1.32m3.97 0h1.32m2.65 0h1.32m2.65 0h1.32m9.26 0h2.65m1.32 0h1.32m1.32 0h1.32m14.55 0h1.32m6.61 0h1.32m18.52 0h1.32m1.32 0h1.32m1.32 0h1.32m2.65 0h1.32m2.65 0h1.32m15.87 0h1.32m7.94 0h1.32m2.65 0h1.32m6.61 0h1.32m6.61 0h1.32m5.29 0h1.32m1.32 0h1.32m5.29 0h1.32M333.82 500.91h1.32m5.29 0h2.65m2.65 0h2.65m5.29 0h1.32m5.29 0h1.32m17.2 0h1.32m11.91 0h1.32m17.2 0h1.32m3.97 0h1.32m15.87 0h2.65m3.97 0h1.32m1.32 0h1.32m1.32 0h2.65m2.65 0h1.32m1.32 0h1.32m13.23 0h2.65m5.29 0h1.32m1.32 0h1.32m7.94 0h1.32m6.61 0h1.32m1.32 0h2.65M340.44 496.47h1.32m1.32 0h1.32m6.61 0h1.32m2.65 0h1.32m7.94 0h1.32m2.65 0h2.65m17.2 0h1.32m13.23 0h2.65m5.29 0h1.32m13.23 0h1.32m1.32 0h1.32m3.97 0h2.65m7.94 0h1.32m11.91 0h2.65m9.26 0h1.32m2.65 0h1.32m21.17 0h1.32M345.73 492.02h1.32m5.29 0h3.97m13.23 0h1.32m2.65 0h1.32m6.61 0h1.32m3.97 0h1.32m3.97 0h1.32m1.32 0h1.32m5.29 0h1.32m3.97 0h1.32m2.65 0h1.32m9.26 0h1.32m5.29 0h1.32m7.94 0h1.32m7.94 0h2.65m2.65 0h1.32m25.13 0h2.65m1.32 0h1.32m3.97 0h6.61m3.97 0h2.65M332.5 487.58h1.32m2.65 0h1.32m9.26 0h1.32m3.97 0h2.65m6.61 0h1.32m3.97 0h2.65m1.32 0h1.32m2.65 0h2.65m6.61 0h1.32m3.97 0h1.32m3.97 0h2.65m10.58 0h1.32m2.65 0h1.32m1.32 0h1.32m2.65 0h1.32m1.32 0h1.32m2.65 0h1.32m1.32 0h2.65m5.29 0h1.32m5.29 0h2.65m1.32 0h1.32m1.32 0h1.32m1.32 0h1.32m7.94 0h1.32m13.23 0h2.65m2.65 0h2.65m9.26 0h1.32m1.32 0h1.32M336.47 483.14h1.32m2.65 0h3.97m15.87 0h1.32m10.58 0h1.32m3.97 0h2.65m3.97 0h1.32m15.87 0h1.32m3.97 0h1.32m1.32 0h1.32m13.23 0h1.32m1.32 0h2.65m3.97 0h1.32m2.65 0h1.32m2.65 0h2.65m3.97 0h1.32m6.61 0h1.32m1.32 0h1.32m3.97 0h1.32m2.65 0h1.32m2.65 0h6.61m13.23 0h2.65m3.97 0h1.32M332.5 478.7h1.32m10.58 0h1.32m10.58 0h1.32m1.32 0h1.32m9.26 0h1.32m2.65 0h2.65m1.32 0h1.32m5.29 0h1.32m14.55 0h1.32m27.78 0h1.32m2.65 0h1.32m2.65 0h1.32m11.91 0h2.65m3.97 0h1.32m6.61 0h1.32m2.65 0h1.32m3.97 0h1.32m10.58 0h1.32m7.94 0h1.32m2.65 0h1.32M332.5 474.25h2.65m23.81 0h2.65m18.52 0h2.65m10.58 0h1.32m1.32 0h1.32m3.97 0h1.32m2.65 0h2.65m1.32 0h5.29m14.55 0h1.32m9.26 0h1.32m19.84 0h1.32m2.65 0h1.32m13.23 0h1.32m6.61 0h2.65m6.61 0h1.32M341.76 469.81h1.32m17.2 0h2.65m13.23 0h1.32m1.32 0h6.61m2.65 0h1.32m5.29 0h1.32m11.91 0h1.32m1.32 0h1.32m2.65 0h1.32m3.97 0h1.32m7.94 0h1.32m1.32 0h1.32m6.61 0h2.65m6.61 0h1.32m3.97 0h3.97m2.65 0h1.32m11.91 0h3.97m1.32 0h2.65m1.32 0h1.32m3.97 0h1.32m1.32 0h1.32m3.97 0h1.32M337.79 460.93h1.32m34.39 0h1.32m34.39 0h2.65m11.91 0h1.32m54.24 0h1.32m6.61 0h1.32m9.26 0h1.32M401.29 452.04h2.65m22.49 0h1.32m63.5 0h1.32"/>
<path stroke="#9090ff" stroke-width="4.44" shape-rendering="crispEdges" d="M348.37 603.09h1.32m27.78 0h1.32m23.81 0h1.32m18.52 0h1.32m6.61 0h1.32m9.26 0h1.32m11.91 0h1.32m13.23 0h1.32m17.2 0h1.32m10.58 0h1.32M364.25 598.65h1.32m83.34 0h2.65m3.97 0h1.32m10.58 0h1.32m27.78 0h1.32M353.67 594.2h1.32m29.1 0h1.32m27.78 0h1.32m33.07 0h1.32M354.99 589.76h1.32m15.87 0h1.32M333.82 585.32h1.32m1.32 0h1.32m52.91 0h1.32m19.84 0h1.32m2.65 0h1.32m44.98 0h1.32m22.49 0h1.32m1.32 0h1.32m9.26 0h1.32M344.41 580.88h1.32m25.13 0h1.32m10.58 0h1.32m31.75 0h1.32m38.36 0h1.32m11.91 0h1.32m7.94 0h2.65m9.26 0h1.32M332.5 576.43h1.32m1.32 0h3.97m21.17 0h1.32m30.43 0h1.32m19.84 0h1.32m19.84 0h1.32m41.01 0h1.32M389.38 571.99h1.32m64.82 0h1.32m11.91 0h1.32M343.08 394.29h1.32m31.75 0h1.32m39.69 0h1.32M335.15 389.84h1.32m5.29 0h1.32m2.65 0h1.32m5.29 0h1.32m34.39 0h1.32m29.1 0h1.32m11.91 0h1.32m6.61 0h1.32m27.78 0h1.32M347.05 385.4h1.32m62.17 0h1.32m1.32 0h1.32m41.01 0h1.32m11.91 0h1.32m7.94 0h1.32m13.23 0h1.32m3.97 0h1.32M376.15 380.96h1.32m68.79 0h1.32m48.94 0h2.65"/>
<path stroke="#6060ff" stroke-width="4.44" shape-rendering="crispEdges" d="M333.82 598.65h1.32m2.65 0h1.32m1.32 0h1.32m1.32 0h2.65m1.32 0h2.65m1.32 0h1.32m2.65 0h2.65m7.94 0h2.65m1.32 0h1.32m1.32 0h1.32m10.58 0h2.65m1.32 0h1.32m1.32 0h1.32m3.97 0h1.32m1.32 0h1.32m3.97 0h2.65m1.32 0h1.32m2.65 0h1.32m1.32 0h1.32m7.94 0h1.32m7.94 0h2.65m1.32 0h1.32m5.29 0h1.32m7.94 0h2.65m3.97 0h1.32m3.97 0h1.32m2.65 0h1.32m1.32 0h1.32m1.32 0h1.32m1.32 0h1.32m7.94 0h1.32m10.58 0h1.32M333.82 589.76h1.32m1.32 0h1.32m1.32 0h1.32m5.29 0h1.32m1.32 0h2.65m7.94 0h1.32m9.26 0h1.32m3.97 0h2.65m1.32 0h3.97m3.97 0h1.32m9.26 0h1.32m1.32 0h1.32m9.26 0h3.97m1.32 0h1.32m1.32 0h1.32m2.65 0h1.32m3.97 0h2.65m7.94 0h1.32m3.97 0h1.32m1.32 0h1.32m3.97 0h3.97m3.97 0h1.32m9.26 0h1.32m1.32 0h1.32m10.58 0h1.32m3.97 0h1.32m5.29 0h1.32M339.11 585.32h1.32m1.32 0h1.32m15.87 0h1.32m3.97 0h2.65m1.32 0h3.97m13.23 0h1.32m10.58 0h1.32m5.29 0h1.32m1.32 0h1.32m1.32 0h2.65m9.26 0h1.32m1.32 0h2.65m2.65 0h1.32m6.61 0h1.32m2.65 0h3.97m1.32 0h1.32m1.32 0h3.97m10.58 0h1.32m5.29 0h2.65m10.58 0h1.32m2.65 0h1.32m9.26 0h1.32M332.5 571.99h1.32m1.32 0h1.32m1.32 0h1.32m1.32 0h2.65m1.32 0h2.65m1.32 0h1.32m5.29 0h1.32m11.91 0h1.32m3.97 0h2.65m5.29 0h1.32m13.23 0h1.32m1.32 0h1.32m2.65 0h1.32m15.87 0h1.32m1.32 0h1.32m22.49 0h1.32m14.55 0h1.32m7.94 0h2.65m6.61 0h1.32m9.26 0h1.32m2.65 0h1.32m2.65 0h1.32M335.15 443.16h1.32m13.23 0h2.65m7.94 0h1.32m7.94 0h1.32m2.65 0h1.32m7.94 0h1.32m15.87 0h1.32m1.32 0h1.32m7.94 0h1.32m7.94 0h1.32m11.91 0h1.32m5.29 0h1.32m1.32 0h1.32m21.17 0h1.32m7.94 0h1.32m2.65 0h1.32m11.91 0h1.32M333.82 438.71h2.65m3.97 0h1.32m7.94 0h1.32m3.97 0h1.32m21.17 0h1.32m9.26 0h1.32m22.49 0h2.65m3.97 0h1.32m10.58 0h2.65m15.87 0h1.32m1.32 0h1.32m10.58 0h1.32m18.52 0h1.32m9.26 0h1.32m3.97 0h1.32M333.82 429.83h1.32m5.29 0h1.32m11.91 0h1.32m1.32 0h1.32m6.61 0h2.65m13.23 0h1.32m11.91 0h1.32m18.52 0h1.32m11.91 0h1.32m1.32 0h1.32m13.23 0h1.32m2.65 0h1.32m3.97 0h1.32m17.2 0h1.32m5.29 0h1.32m2.65 0h1.32m1.32 0h1.32m2.65 0h1.32m1.32 0h1.32m3.97 0h1.32M339.11 425.38h2.65m7.94 0h1.32m15.87 0h1.32m7.94 0h1.32m3.97 0h1.32m10.58 0h1.32m1.32 0h1.32m1.32 0h2.65m5.29 0h1.32m3.97 0h2.65m2.65 0h1.32m2.65 0h1.32m1.32 0h1.32m5.29 0h1.32m1.32 0h1.32m7.94 0h2.65m1.32 0h3.97m1.32 0h1.32m3.97 0h1.32m9.26 0h1.32m13.23 0h1.32m1.32 0h1.32m1.32 0h1.32m1.32 0h1.32m1.32 0h1.32m1.32 0h1.32M339.11 412.06h1.32m3.97 0h2.65m1.32 0h1.32m2.65 0h1.32m2.65 0h1.32m2.65 0h2.65m6.61 0h1.32m1.32 0h1.32m1.32 0h1.32m6.61 0h1.32m1.32 0h3.97m18.52 0h1.32m1.32 0h6.61m2.65 0h1.32m3.97 0h1.32m9.26 0h2.65m6.61 0h5.29m10.58 0h1.32m2.65 0h1.32m3.97 0h1.32m5.29 0h1.32m5.29 0h2.65m6.61 0h1.32m1.32 0h1.32M333.82 407.61h1.32m1.32 0h1.32m6.61 0h1.32m7.94 0h1.32m3.97 0h2.65m3.97 0h2.65m2.65 0h2.65m6.61 0h1.32m1.32 0h2.65m2.65 0h1.32m1.32 0h1.32m1.32 0h1.32m2.65 0h1.32m3.97 0h1.32m2.65 0h1.32m5.29 0h2.65m1.32 0h1.32m1.32 0h1.32m2.65 0h1.32m1.32 0h1.32m1.32 0h1.32m2.65 0h1.32m1.32 0h1.32m2.65 0h1.32m1.32 0h3.97m10.58 0h1.32m7.94 0h1.32m15.87 0h1.32m5.29 0h2.65m2.65 0h3.97M336.47 403.17h2.65m17.2 0h1.32m7.94 0h2.65m1.32 0h2.65m1.32 0h2.65m2.65 0h1.32m10.58 0h1.32m2.65 0h1.32m15.87 0h1.32m1.32 0h1.32m2.65 0h3.97m2.65 0h1.32m5.29 0h1.32m6.61 0h1.32m1.32 0h2.65m3.97 0h3.97m2.65 0h1.32m3.97 0h1.32m3.97 0h1.32m3.97 0h1.32m1.32 0h1.32m10.58 0h1.32m3.97 0h5.29m2.65 0h1.32M332.5 394.29h1.32m1.32 0h2.65m2.65 0h1.32m2.65 0h2.65m1.32 0h1.32m3.97 0h1.32m14.55 0h1.32m1.32 0h3.97m5.29 0h1.32m3.97 0h1.32m5.29 0h1.32m3.97 0h2.65m1.32 0h1.32m1.32 0h2.65m1.32 0h1.32m2.65 0h1.32m3.97 0h2.65m2.65 0h1.32m14.55 0h3.97m3.97 0h1.32m3.97 0h1.32m2.65 0h1.32m2.65 0h1.32m5.29 0h1.32m6.61 0h1.32m3.97 0h1.32m1.32 0h3.97m5.29 0h1.32m1.32 0h1.32m1.32 0h1.32M336.47 389.84h1.32m2.65 0h1.32m2.65 0h1.32m1.32 0h1.32m2.65 0h1.32m1.32 0h1.32m9.26 0h1.32m1.32 0h5.29m6.61 0h1.32m3.97 0h1.32m5.29 0h1.32m2.65 0h1.32m1.32 0h1.32m2.65 0h1.32m2.65 0h1.32m1.32 0h1.32m2.65 0h2.65m1.32 0h1.32m2.65 0h1.32m3.97 0h1.32m21.17 0h1.32m6.61 0h1.32m5.29 0h1.32m1.32 0h3.97m1.32 0h1.32m11.91 0h1.32m1.32 0h1.32m1.32 0h1.32m1.32 0h1.32m2.65 0h1.32M333.82 385.4h2.65m2.65 0h1.32m3.97 0h1.32m5.29 0h1.32m2.65 0h1.32m2.65 0h1.32m1.32 0h5.29m1.32 0h1.32m1.32 0h1.32m1.32 0h5.29m6.61 0h2.65m6.61 0h1.32m1.32 0h1.32m2.65 0h2.65m1.32 0h1.32m5.29 0h1.32m5.29 0h5.29m2.65 0h1.32m6.61 0h1.32m6.61 0h1.32m5.29 0h1.32m1.32 0h3.97m1.32 0h1.32m3.97 0h1.32m9.26 0h1.32m5.29 0h3.97m1.32 0h2.65m1.32 0h2.65m2.65 0h2.65M333.82 380.96h2.65m5.29 0h3.97m10.58 0h1.32m2.65 0h1.32m3.97 0h2.65m1.32 0h1.32m3.97 0h1.32m3.97 0h2.65m11.91 0h1.32m10.58 0h1.32m2.65 0h1.32m2.65 0h2.65m3.97 0h3.97m1.32 0h1.32m3.97 0h2.65m1.32 0h2.65m1.32 0h1.32m1.32 0h1.32m3.97 0h2.65m2.65 0h9.26m2.65 0h1.32m3.97 0h1.32m1.32 0h3.97m2.65 0h3.97m2.65 0h1.32m5.29 0h1.32"/>
<path stroke="#ff0000" stroke-width="4.44" shape-rendering="crispEdges" d="M399.96 567.55h1.32m1.32 0h3.97m3.97 0h2.65M394.67 563.11h17.2m1.32 0h2.65m1.32 0h10.58m1.32 0h3.97M406.58 540.89h5.29m1.32 0h2.65m1.32 0h1.32M403.93 536.45h2.65m1.32 0h1.32m2.65 0h9.26M333.82 532.01h1.32m70.11 0h9.26m2.65 0h3.97M374.83 527.56h1.32m10.58 0h1.32m18.52 0h2.65m1.32 0h2.65m2.65 0h1.32m1.32 0h1.32m19.84 0h1.32m6.61 0h1.32m37.04 0h1.32"/>
<path stroke="#ff7800" stroke-width="4.44" shape-rendering="crispEdges" d="M396 558.66h1.32m9.26 0h1.32m13.23 0h1.32m30.43 0h1.32m7.94 0h1.32m6.61 0h1.32m10.58 0h1.32M345.73 554.22h1.32m1.32 0h1.32m3.97 0h1.32m6.61 0h1.32m18.52 0h1.32m17.2 0h1.32m7.94 0h1.32m48.94 0h1.32m29.1 0h1.32M348.37 549.78h1.32m5.29 0h1.32m25.13 0h1.32m17.2 0h1.32m1.32 0h1.32m17.2 0h1.32m35.72 0h1.32m2.65 0h1.32m6.61 0h1.32M380.12 545.34h2.65m59.53 0h1.32m18.52 0h2.65M332.5 540.89h1.32m2.65 0h1.32m7.94 0h2.65m1.32 0h1.32m3.97 0h3.97m2.65 0h5.29m2.65 0h1.32m3.97 0h2.65m1.32 0h1.32m1.32 0h1.32m7.94 0h3.97m3.97 0h5.29m7.94 0h1.32m2.65 0h1.32m7.94 0h2.65m11.91 0h1.32m5.29 0h1.32m5.29 0h2.65m2.65 0h1.32m1.32 0h2.65m1.32 0h1.32m2.65 0h1.32m5.29 0h1.32m3.97 0h1.32m14.55 0h1.32M406.58 536.45h1.32m2.65 0h1.32M414.52 532.01h2.65M402.61 527.56h2.65m14.55 0h1.32"/>
<path stroke="#ff6000" stroke-width="4.44" shape-rendering="crispEdges" d="M341.76 536.45h1.32m9.26 0h1.32m10.58 0h1.32m70.11 0h1.32m47.62 0h1.32"/>
<path stroke="#ffd800" stroke-width="4.44" shape-rendering="crispEdges" d="M382.77 536.45h1.32m2.65 0h1.32m85.98 0h1.32"/>
<path stroke="#ff9000" stroke-width="4.44" shape-rendering="crispEdges" d="M335.15 532.01h1.32m1.32 0h1.32m3.97 0h2.65m6.61 0h1.32m11.91 0h1.32m29.1 0h1.32m43.65 0h1.32m2.65 0h2.65m5.29 0h1.32m15.87 0h1.32m15.87 0h1.32m10.58 0h1.32M369.54 527.56h1.32m17.2 0h1.32m31.75 0h1.32m10.58 0h1.32m22.49 0h2.65m15.87 0h1.32m3.97 0h1.32m13.23 0h1.32"/>
<path stroke="#30f0f0" stroke-width="4.44" shape-rendering="crispEdges" d="M403.93 514.24h1.32M390.7 509.79h1.32M389.38 505.35h1.32m2.65 0h1.32m17.2 0h1.32M373.51 500.91h1.32m5.29 0h1.32m14.55 0h1.32m3.97 0h1.32m18.52 0h1.32M389.38 496.47h1.32m1.32 0h1.32M407.9 483.14h1.32"/>
<path stroke="#00f0f0" stroke-width="4.44" shape-rendering="crispEdges" d="M409.22 514.24h1.32m6.61 0h1.32M407.9 509.79h1.32M409.22 505.35h1.32m14.55 0h1.32M422.45 500.91h1.32M406.58 496.47h1.32m10.58 0h1.32m2.65 0h1.32M405.26 492.02h1.32m2.65 0h1.32M403.93 483.14h1.32M417.16 474.25h1.32"/>
<path stroke="#1878ff" stroke-width="4.44" shape-rendering="crispEdges" d="M335.15 465.37h1.32m6.61 0h1.32m18.52 0h1.32m6.61 0h1.32m44.98 0h1.32m1.32 0h2.65m5.29 0h1.32m3.97 0h2.65m9.26 0h1.32m3.97 0h1.32m14.55 0h1.32m9.26 0h1.32m5.29 0h1.32m5.29 0h1.32m3.97 0h1.32M336.47 460.93h1.32m1.32 0h1.32m3.97 0h3.97m1.32 0h2.65m1.32 0h2.65m2.65 0h1.32m1.32 0h1.32m1.32 0h1.32m1.32 0h1.32m2.65 0h2.65m3.97 0h1.32m5.29 0h6.61m10.58 0h1.32m11.91 0h1.32m2.65 0h1.32m6.61 0h1.32m2.65 0h6.61m3.97 0h2.65m1.32 0h1.32m3.97 0h2.65m1.32 0h3.97m1.32 0h1.32m2.65 0h1.32m2.65 0h2.65m3.97 0h1.32m1.32 0h2.65m3.97 0h1.32"/>
<path stroke="#0078ff" stroke-width="4.44" shape-rendering="crispEdges" d="M337.79 465.37h1.32m5.29 0h1.32m14.55 0h1.32m92.6 0h1.32m30.43 0h1.32m6.61 0h1.32m2.65 0h2.65"/>
<path stroke="#7878ff" stroke-width="4.44" shape-rendering="crispEdges" d="M374.83 465.37h1.32m5.29 0h1.32m39.69 0h1.32m58.2 0h1.32M397.32 460.93h1.32m21.17 0h1.32m74.08 0h1.32M475.37 456.48h1.32M344.41 452.04h1.32m19.84 0h1.32m3.97 0h1.32m7.94 0h1.32M340.44 447.6h1.32m88.63 0h1.32m58.2 0h1.32M339.11 434.27h1.32m29.1 0h1.32m70.11 0h1.32m54.24 0h1.32m1.32 0h1.32M336.47 429.83h1.32m1.32 0h1.32m2.65 0h1.32m10.58 0h1.32m14.55 0h1.32m19.84 0h1.32m6.61 0h1.32m2.65 0h1.32m5.29 0h1.32m10.58 0h1.32m11.91 0h1.32m1.32 0h1.32m1.32 0h1.32m21.17 0h1.32m7.94 0h1.32m11.91 0h1.32m2.65 0h1.32M336.47 425.38h1.32m6.61 0h1.32m2.65 0h1.32m1.32 0h1.32m2.65 0h1.32m1.32 0h1.32m3.97 0h1.32m1.32 0h1.32m5.29 0h1.32m27.78 0h1.32m19.84 0h1.32m1.32 0h1.32m7.94 0h1.32m2.65 0h1.32m14.55 0h2.65m1.32 0h1.32m6.61 0h1.32m15.87 0h1.32m9.26 0h1.32M347.05 420.94h1.32m5.29 0h1.32m1.32 0h1.32m10.58 0h1.32m2.65 0h5.29m3.97 0h1.32m14.55 0h1.32m2.65 0h1.32m2.65 0h1.32m1.32 0h2.65m3.97 0h2.65m1.32 0h1.32m3.97 0h1.32m25.13 0h1.32m13.23 0h1.32m22.49 0h1.32m1.32 0h1.32m5.29 0h1.32M344.41 416.5h1.32m13.23 0h2.65m6.61 0h1.32m1.32 0h2.65m2.65 0h1.32m7.94 0h1.32m5.29 0h2.65m6.61 0h9.26m7.94 0h2.65m3.97 0h1.32m1.32 0h1.32m2.65 0h1.32m6.61 0h1.32m6.61 0h1.32m18.52 0h1.32m3.97 0h1.32m2.65 0h1.32m2.65 0h3.97m2.65 0h1.32m2.65 0h2.65m3.97 0h2.65M333.82 398.73h1.32m9.26 0h1.32m5.29 0h1.32m5.29 0h7.94m11.91 0h1.32m14.55 0h1.32m7.94 0h1.32m2.65 0h2.65m2.65 0h1.32m1.32 0h1.32m14.55 0h1.32m1.32 0h1.32m1.32 0h2.65m1.32 0h5.29m1.32 0h1.32m5.29 0h1.32m3.97 0h2.65m6.61 0h2.65m3.97 0h1.32m2.65 0h1.32m2.65 0h1.32m13.23 0h1.32"/>
<path stroke="#4890ff" stroke-width="4.44" shape-rendering="crispEdges" d="M396 460.93h1.32m19.84 0h1.32m6.61 0h1.32m10.58 0h1.32m51.59 0h1.32m1.32 0h1.32M336.47 456.48h1.32m1.32 0h1.32m1.32 0h1.32m25.13 0h1.32m1.32 0h1.32m7.94 0h1.32m13.23 0h1.32m5.29 0h1.32m13.23 0h1.32m5.29 0h1.32m7.94 0h2.65m13.23 0h2.65m21.17 0h1.32m7.94 0h2.65m2.65 0h2.65m1.32 0h1.32"/>
<path stroke="#3060ff" stroke-width="4.44" shape-rendering="crispEdges" d="M344.41 456.48h1.32m27.78 0h1.32m6.61 0h1.32m3.97 0h1.32m26.46 0h1.32m37.04 0h1.32m5.29 0h1.32M335.15 447.6h1.32m2.65 0h1.32m1.32 0h1.32m5.29 0h1.32m19.84 0h1.32m14.55 0h1.32m56.88 0h1.32m2.65 0h1.32m19.84 0h1.32"/>
<path stroke="#1860ff" stroke-width="4.44" shape-rendering="crispEdges" d="M345.73 456.48h1.32m5.29 0h1.32m6.61 0h2.65m3.97 0h1.32m1.32 0h1.32m7.94 0h1.32m2.65 0h1.32m1.32 0h1.32m2.65 0h1.32m15.87 0h6.61m6.61 0h1.32m6.61 0h2.65m5.29 0h2.65m2.65 0h5.29m3.97 0h2.65m5.29 0h1.32m9.26 0h1.32m7.94 0h1.32m9.26 0h1.32m2.65 0h2.65m3.97 0h1.32M337.79 452.04h2.65m31.75 0h1.32m9.26 0h1.32m26.46 0h1.32m10.58 0h1.32m11.91 0h1.32m58.2 0h1.32"/>
<path stroke="#3048ff" stroke-width="4.44" shape-rendering="crispEdges" d="M336.47 447.6h2.65m3.97 0h1.32m1.32 0h1.32m7.94 0h1.32m7.94 0h1.32m7.94 0h1.32m11.91 0h2.65m10.58 0h1.32m7.94 0h2.65m1.32 0h1.32m2.65 0h1.32m7.94 0h2.65m2.65 0h1.32m3.97 0h1.32m1.32 0h3.97m2.65 0h1.32m1.32 0h1.32m5.29 0h2.65m6.61 0h1.32m3.97 0h1.32m1.32 0h1.32m1.32 0h1.32m18.52 0h2.65m1.32 0h1.32M336.47 438.71h1.32m6.61 0h2.65m3.97 0h1.32m6.61 0h1.32m1.32 0h3.97m3.97 0h1.32m2.65 0h3.97m7.94 0h2.65m10.58 0h1.32m10.58 0h1.32m7.94 0h1.32m18.52 0h1.32m23.81 0h1.32m2.65 0h1.32m3.97 0h1.32m13.23 0h1.32m5.29 0h1.32m1.32 0h1.32M343.08 434.27h2.65m3.97 0h1.32m23.81 0h1.32m2.65 0h2.65m10.58 0h2.65m6.61 0h1.32m11.91 0h1.32m10.58 0h1.32m2.65 0h1.32m11.91 0h1.32m1.32 0h1.32m9.26 0h1.32m3.97 0h1.32m5.29 0h1.32m5.29 0h1.32m1.32 0h2.65m6.61 0h1.32M337.79 429.83h1.32m27.78 0h1.32m33.07 0h1.32m5.29 0h1.32m33.07 0h1.32m10.58 0h1.32m5.29 0h1.32m31.75 0h1.32M353.67 425.38h1.32m71.43 0h1.32m25.13 0h1.32m31.75 0h1.32"/>
<path stroke="#3030ff" stroke-width="4.44" shape-rendering="crispEdges" d="M450.23 443.16h1.32m47.62 0h1.32"/>
<path stroke="#7890ff" stroke-width="4.44" shape-rendering="crispEdges" d="M406.58 403.17h1.32M378.8 398.73h1.32m5.29 0h1.32m17.2 0h1.32M384.09 394.29h1.32m6.61 0h1.32M440.97 389.84h1.32"/>
<path stroke="#6060ff" stroke-width="2.24" shape-rendering="crispEdges" d="M336.47 377.62h1.32m1.32 0h5.29m3.97 0h2.65m3.97 0h1.32m1.32 0h1.32m2.65 0h1.32m2.65 0h2.65m2.65 0h1.32m1.32 0h3.97m1.32 0h1.32m1.32 0h2.65m1.32 0h1.32m2.65 0h1.32m14.55 0h2.65m1.32 0h2.65m9.26 0h1.32m1.32 0h1.32m2.65 0h1.32m5.29 0h1.32m6.61 0h1.32m1.32 0h1.32m2.65 0h1.32m1.32 0h1.32m5.29 0h1.32m7.94 0h2.65m1.32 0h1.32m5.29 0h1.32m6.61 0h3.97m5.29 0h1.32"/>
<path stroke="#9090ff" stroke-width="2.24" shape-rendering="crispEdges" d="M337.79 377.62h1.32m5.29 0h2.65m3.97 0h1.32m11.91 0h1.32m52.91 0h1.32m37.04 0h1.32m5.29 0h1.32"/>
<path stroke="#4848ff" stroke-width="2.24" shape-rendering="crispEdges" d="M358.96 377.62h1.32m9.26 0h1.32m15.87 0h2.65m11.91 0h1.32m14.55 0h1.32m19.84 0h1.32m6.61 0h1.32m11.91 0h1.32m3.97 0h2.65m2.65 0h1.32m3.97 0h1.32m3.97 0h1.32m1.32 0h1.32m9.26 0h1.32m1.32 0h1.32m1.32 0h1.32"/>
<path stroke="#a8a8ff" stroke-width="2.24" shape-rendering="crispEdges" d="M407.9 377.62h1.32m5.29 0h1.32m3.97 0h1.32m5.29 0h1.32m25.13 0h1.32m22.49 0h1.32m3.97 0h1.32m6.61 0h2.65"/>
<path stroke="#7890ff" stroke-width="2.24" shape-rendering="crispEdges" d="M429.07 377.62h1.32"/>
<rect x="332.5" y="376.5" width="168" height="280" fill="none" stroke="#000" stroke-width="1"/>
<path d="M332.5 657v-3.5M332.5 376v3.5M338.5 657v-3.5M338.5 376v3.5M343.5 657v-3.5M343.5 376v3.5M349.5 657v-3.5M349.5 376v3.5M354.5 657v-3.5M354.5 376v3.5M360.5 657v-3.5M360.5 376v3.5M366.5 657v-3.5M366.5 376v3.5M371.5 657v-3.5M371.5 376v3.5M377.5 657v-3.5M377.5 376v3.5M382.5 657v-3.5M382.5 376v3.5M388.5 657v-3.5M388.5 376v3.5M394.5 657v-3.5M394.5 376v3.5M399.5 657v-3.5M399.5 376v3.5M405.5 657v-3.5M405.5 376v3.5M410.5 657v-3.5M410.5 376v3.5M416.5 657v-3.5M416.5 376v3.5M422.5 657v-3.5M422.5 376v3.5M427.5 657v-3.5M427.5 376v3.5M433.5 657v-3.5M433.5 376v3.5M438.5 657v-3.5M438.5 376v3.5M444.5 657v-3.5M444.5 376v3.5M450.5 657v-3.5M450.5 376v3.5M455.5 657v-3.5M455.5 376v3.5M461.5 657v-3.5M461.5 376v3.5M466.5 657v-3.5M466.5 376v3.5M472.5 657v-3.5M472.5 376v3.5M478.5 657v-3.5M478.5 376v3.5M483.5 657v-3.5M483.5 376v3.5M489.5 657v-3.5M489.5 376v3.5M494.5 657v-3.5M494.5 376v3.5M500.5 657v-3.5M500.5 376v3.5M332.5 657v-6.5M332.5 376v6.5M360.5 657v-6.5M360.5 376v6.5M388.5 657v-6.5M388.5 376v6.5M416.5 657v-6.5M416.5 376v6.5M444.5 657v-6.5M444.5 376v6.5M472.5 657v-6.5M472.5 376v6.5M500.5 657v-6.5M500.5 376v6.5" stroke="#000" stroke-width="1" fill="none"/>
<text x="332.5" y="668.8" font-size="8.3" text-anchor="middle" textLength="19.5" lengthAdjust="spacingAndGlyphs" font-weight="bold">–150</text>
<text x="360.5" y="668.8" font-size="8.3" text-anchor="middle" textLength="19.5" lengthAdjust="spacingAndGlyphs" font-weight="bold">–100</text>
<text x="388.5" y="668.8" font-size="8.3" text-anchor="middle" textLength="14.9" lengthAdjust="spacingAndGlyphs" font-weight="bold">–50</text>
<text x="416.5" y="668.8" font-size="8.3" text-anchor="middle" textLength="3.8" lengthAdjust="spacingAndGlyphs" font-weight="bold">0</text>
<text x="444.5" y="668.8" font-size="8.3" text-anchor="middle" textLength="8.4" lengthAdjust="spacingAndGlyphs" font-weight="bold">50</text>
<text x="472.5" y="668.8" font-size="8.3" text-anchor="middle" textLength="13" lengthAdjust="spacingAndGlyphs" font-weight="bold">100</text>
<text x="416.5" y="678" font-size="7.8" text-anchor="middle" textLength="80" lengthAdjust="spacingAndGlyphs" >Radial Velocity (m/s)</text>
<path d="M332 656.5h4M501 656.5h-4M332 644.5h2.5M501 644.5h-2.5M332 632.5h2.5M501 632.5h-2.5M332 621.5h2.5M501 621.5h-2.5M332 609.5h2.5M501 609.5h-2.5M332 597.5h4M501 597.5h-4M332 585.5h2.5M501 585.5h-2.5M332 573.5h2.5M501 573.5h-2.5M332 561.5h2.5M501 561.5h-2.5M332 550.5h2.5M501 550.5h-2.5M332 538.5h4M501 538.5h-4M332 526.5h2.5M501 526.5h-2.5M332 514.5h2.5M501 514.5h-2.5M332 502.5h2.5M501 502.5h-2.5M332 490.5h2.5M501 490.5h-2.5M332 479.5h4M501 479.5h-4M332 467.5h2.5M501 467.5h-2.5M332 455.5h2.5M501 455.5h-2.5M332 443.5h2.5M501 443.5h-2.5M332 431.5h2.5M501 431.5h-2.5M332 419.5h4M501 419.5h-4M332 408.5h2.5M501 408.5h-2.5M332 396.5h2.5M501 396.5h-2.5M332 384.5h2.5M501 384.5h-2.5" stroke="#000" stroke-width="1" fill="none"/>
<text x="329" y="658.1" font-size="8.3" text-anchor="end" textLength="3.8" lengthAdjust="spacingAndGlyphs" font-weight="bold">0</text>
<text x="329" y="601.1" font-size="8.3" text-anchor="end" textLength="13" lengthAdjust="spacingAndGlyphs" font-weight="bold">200</text>
<text x="329" y="542.1" font-size="8.3" text-anchor="end" textLength="13" lengthAdjust="spacingAndGlyphs" font-weight="bold">400</text>
<text x="329" y="483.1" font-size="8.3" text-anchor="end" textLength="13" lengthAdjust="spacingAndGlyphs" font-weight="bold">600</text>
<text x="329" y="423.1" font-size="8.3" text-anchor="end" textLength="13" lengthAdjust="spacingAndGlyphs" font-weight="bold">800</text>
<text transform="translate(309.1 516.8) rotate(-90)" font-size="8.6" text-anchor="middle" textLength="44.5" lengthAdjust="spacingAndGlyphs">Range (km)</text>
<path stroke="#ff0000" stroke-width="2.32" shape-rendering="crispEdges" d="M609.5 655.34h132"/>
<path stroke="#ff0000" stroke-width="4.44" shape-rendering="crispEdges" d="M609.5 651.96h132M609.5 647.51h132M609.5 643.07h132M609.5 638.63h132M609.5 634.19h132M609.5 629.74h132M609.5 625.3h132M609.5 620.86h132M609.5 616.42h132M609.5 611.97h132M609.5 607.53h132M609.5 603.09h132M609.5 598.65h132M609.5 594.2h132M609.5 589.76h132M609.5 585.32h132M609.5 580.88h132M609.5 576.43h132M609.5 571.99h132M609.5 567.55h132M609.5 563.11h132M609.5 558.66h132M609.5 554.22h132M609.5 549.78h132M609.5 545.34h132M609.5 540.89h132M609.5 536.45h132M609.5 532.01h132M609.5 527.56h132M609.5 523.12h132M609.5 518.68h132M609.5 514.24h132M609.5 509.79h132M609.5 505.35h132M609.5 500.91h132M609.5 496.47h132M609.5 492.02h132M609.5 487.58h132M609.5 483.14h132M609.5 478.7h132M609.5 474.25h132M609.5 469.81h132M609.5 465.37h132M609.5 460.93h132M609.5 456.48h132M609.5 452.04h132M609.5 447.6h132M609.5 443.16h132M609.5 438.71h132M609.5 434.27h132M609.5 429.83h132M609.5 425.38h132M609.5 420.94h132M609.5 416.5h132M609.5 412.06h132M609.5 407.61h132M609.5 403.17h132M609.5 398.73h132M609.5 394.29h132M609.5 389.84h132M609.5 385.4h132M609.5 380.96h132"/>
<path stroke="#ff0000" stroke-width="2.24" shape-rendering="crispEdges" d="M609.5 377.62h132"/>
<path stroke="#ff5a00" stroke-width="4.44" shape-rendering="crispEdges" d="M647.78 598.65h1.32m26.4 0h1.32m36.96 0h1.32m2.64 0h1.32M646.46 594.2h1.32m19.8 0h1.32m66 0h1.32m2.64 0h1.32M633.26 589.76h1.32m38.28 0h1.32M613.46 585.32h1.32m3.96 0h1.32m13.2 0h1.32m23.76 0h1.32m38.28 0h1.32m23.76 0h1.32M674.18 580.88h1.32M624.02 576.43h1.32M612.14 571.99h1.32m5.28 0h1.32m31.68 0h1.32m11.88 0h1.32m14.52 0h1.32m30.36 0h1.32m9.24 0h1.32"/>
<path stroke="#ff3200" stroke-width="4.44" shape-rendering="crispEdges" d="M674.18 598.65h1.32m1.32 0h1.32m5.28 0h1.32m5.28 0h1.32M614.78 594.2h1.32m1.32 0h1.32m31.68 0h1.32m33 0h1.32m10.56 0h1.32m39.6 0h1.32M645.14 589.76h1.32m3.96 0h1.32m1.32 0h3.96m6.6 0h1.32m21.12 0h1.32m29.04 0h2.64m2.64 0h1.32m2.64 0h1.32m5.28 0h1.32M617.42 585.32h1.32m3.96 0h1.32m39.6 0h2.64m19.8 0h1.32m17.16 0h1.32m13.2 0h1.32M629.3 580.88h1.32m5.28 0h1.32m14.52 0h1.32m69.96 0h2.64m6.6 0h1.32M641.18 576.43h1.32m15.84 0h1.32m14.52 0h1.32m25.08 0h1.32m9.24 0h1.32M617.42 571.99h1.32m1.32 0h1.32m23.76 0h1.32m7.92 0h1.32m1.32 0h1.32m11.88 0h1.32m18.48 0h1.32m11.88 0h1.32m15.84 0h2.64m10.56 0h1.32"/>
<path stroke="#ffeb00" stroke-width="4.44" shape-rendering="crispEdges" d="M610.82 567.55h1.32m23.76 0h1.32m26.4 0h1.32m51.48 0h1.32M668.9 563.11h1.32m2.64 0h2.64m2.64 0h1.32m21.12 0h1.32m7.92 0h1.32m13.2 0h1.32m1.32 0h1.32M643.82 558.66h1.32m72.6 0h1.32m21.12 0h1.32M612.14 554.22h1.32m9.24 0h1.32m3.96 0h1.32m6.6 0h1.32m39.6 0h1.32m3.96 0h1.32m10.56 0h1.32m7.92 0h2.64m7.92 0h1.32m13.2 0h1.32m5.28 0h1.32M610.82 549.78h1.32m13.2 0h1.32m58.08 0h1.32m3.96 0h1.32m17.16 0h1.32m2.64 0h1.32m5.28 0h1.32m10.56 0h1.32m2.64 0h1.32M630.62 545.34h1.32m18.48 0h1.32m60.72 0h1.32m9.24 0h1.32M658.34 540.89h1.32M621.38 536.45h1.32m38.28 0h1.32M610.82 532.01h1.32m2.64 0h1.32m1.32 0h1.32m13.2 0h1.32m31.68 0h2.64m13.2 0h1.32m5.28 0h1.32m1.32 0h1.32m7.92 0h1.32m10.56 0h1.32m2.64 0h1.32m2.64 0h1.32m6.6 0h2.64"/>
<path stroke="#ff7800" stroke-width="4.44" shape-rendering="crispEdges" d="M626.66 567.55h1.32m11.88 0h1.32m15.84 0h1.32m56.76 0h1.32M631.94 563.11h1.32m22.44 0h1.32m31.68 0h1.32m14.52 0h1.32m1.32 0h1.32m3.96 0h1.32m9.24 0h1.32M634.58 558.66h1.32m54.12 0h1.32m7.92 0h1.32M641.18 554.22h1.32m1.32 0h1.32m1.32 0h1.32m1.32 0h1.32m14.52 0h1.32m33 0h1.32m22.44 0h1.32m9.24 0h1.32M651.74 549.78h1.32m13.2 0h1.32m52.8 0h1.32m1.32 0h1.32M622.7 545.34h1.32m21.12 0h1.32m6.6 0h1.32m59.4 0h1.32m13.2 0h1.32m1.32 0h1.32M618.74 540.89h1.32m48.84 0h1.32m5.28 0h1.32m22.44 0h1.32m25.08 0h1.32M616.1 532.01h1.32m5.28 0h2.64m5.28 0h1.32m9.24 0h2.64m6.6 0h3.96m5.28 0h1.32m9.24 0h1.32m14.52 0h1.32m5.28 0h1.32m36.96 0h1.32m1.32 0h1.32"/>
<path stroke="#46ebd2" stroke-width="4.44" shape-rendering="crispEdges" d="M645.14 567.55h1.32M639.86 563.11h1.32m3.96 0h1.32m3.96 0h1.32m34.32 0h1.32M674.18 558.66h1.32m44.88 0h1.32M654.38 554.22h1.32m1.32 0h1.32M721.7 549.78h1.32M682.1 545.34h1.32m2.64 0h1.32M654.38 540.89h1.32m26.4 0h1.32m11.88 0h1.32M622.7 536.45h1.32m9.24 0h1.32m2.64 0h1.32m18.48 0h1.32m10.56 0h1.32M657.02 532.01h1.32m35.64 0h1.32"/>
<path stroke="#ffffff" stroke-width="4.44" shape-rendering="crispEdges" d="M647.78 567.55h3.96m1.32 0h1.32m1.32 0h1.32m3.96 0h1.32m5.28 0h1.32m1.32 0h5.28m3.96 0h2.64m1.32 0h2.64m2.64 0h1.32m34.32 0h1.32M624.02 563.11h1.32m42.24 0h1.32m14.52 0h1.32M616.1 558.66h1.32m1.32 0h3.96m2.64 0h2.64m1.32 0h1.32m2.64 0h1.32m3.96 0h1.32m7.92 0h1.32m1.32 0h1.32m5.28 0h1.32m1.32 0h2.64m14.52 0h3.96m2.64 0h1.32m10.56 0h2.64m3.96 0h5.28m15.84 0h1.32m2.64 0h1.32m1.32 0h1.32m6.6 0h2.64M617.42 554.22h1.32m11.88 0h1.32m35.64 0h1.32m15.84 0h1.32m22.44 0h1.32m27.72 0h1.32M614.78 549.78h1.32m26.4 0h1.32m39.6 0h1.32m9.24 0h2.64m14.52 0h1.32M610.82 545.34h1.32m2.64 0h1.32m1.32 0h1.32m5.28 0h6.6m2.64 0h1.32m2.64 0h1.32m3.96 0h1.32m3.96 0h2.64m5.28 0h1.32m3.96 0h2.64m3.96 0h1.32m7.92 0h1.32m5.28 0h1.32m6.6 0h1.32m14.52 0h1.32m2.64 0h1.32m5.28 0h1.32m1.32 0h1.32m5.28 0h1.32M614.78 540.89h1.32m1.32 0h1.32m10.56 0h2.64m1.32 0h1.32m7.92 0h1.32m11.88 0h1.32m5.28 0h1.32m38.28 0h1.32m7.92 0h1.32m7.92 0h1.32m11.88 0h1.32M614.78 536.45h1.32m9.24 0h1.32m11.88 0h1.32m6.6 0h2.64m21.12 0h1.32m7.92 0h1.32m2.64 0h1.32m11.88 0h1.32m14.52 0h2.64M627.98 532.01h1.32m6.6 0h1.32m30.36 0h1.32m3.96 0h5.28m6.6 0h1.32m2.64 0h1.32m31.68 0h1.32m6.6 0h1.32m6.6 0h1.32M672.86 527.56h5.28"/>
<path stroke="#ff2d00" stroke-width="4.44" shape-rendering="crispEdges" d="M609.5 527.56h1.32m5.28 0h1.32m3.96 0h1.32m6.6 0h2.64m7.92 0h1.32m13.2 0h1.32m29.04 0h1.32m1.32 0h1.32m39.6 0h1.32m2.64 0h1.32m1.32 0h1.32M610.82 523.12h1.32m17.16 0h1.32m9.24 0h1.32m21.12 0h1.32m1.32 0h1.32m25.08 0h1.32m5.28 0h1.32m1.32 0h1.32M613.46 518.68h1.32m3.96 0h1.32m2.64 0h1.32m3.96 0h1.32m18.48 0h1.32m2.64 0h1.32m22.44 0h1.32m9.24 0h1.32m15.84 0h1.32m10.56 0h1.32M639.86 514.24h1.32m6.6 0h1.32m26.4 0h1.32m5.28 0h1.32m31.68 0h1.32m3.96 0h1.32M620.06 509.79h1.32m3.96 0h1.32m6.6 0h1.32m1.32 0h1.32m7.92 0h1.32m35.64 0h1.32m17.16 0h2.64m13.2 0h1.32m13.2 0h1.32m2.64 0h2.64M614.78 505.35h1.32m1.32 0h1.32m1.32 0h1.32m47.52 0h1.32m3.96 0h1.32m9.24 0h1.32m1.32 0h1.32m14.52 0h1.32m7.92 0h1.32m1.32 0h1.32M621.38 500.91h1.32m34.32 0h1.32m10.56 0h1.32m14.52 0h1.32m35.64 0h1.32m17.16 0h1.32M621.38 496.47h1.32m6.6 0h1.32m18.48 0h1.32m5.28 0h1.32m2.64 0h1.32m5.28 0h1.32m1.32 0h1.32m18.48 0h1.32m21.12 0h1.32m6.6 0h1.32m3.96 0h1.32m7.92 0h1.32M609.5 492.02h1.32m2.64 0h1.32m18.48 0h1.32m6.6 0h1.32m39.6 0h1.32m5.28 0h2.64m30.36 0h1.32M626.66 487.58h1.32m2.64 0h1.32m1.32 0h2.64m6.6 0h1.32m19.8 0h1.32m3.96 0h1.32m2.64 0h1.32m18.48 0h2.64m19.8 0h1.32m13.2 0h1.32m6.6 0h1.32M621.38 483.14h1.32m13.2 0h1.32m2.64 0h1.32m36.96 0h1.32m9.24 0h1.32M629.3 478.7h1.32m1.32 0h1.32m6.6 0h1.32m9.24 0h3.96m35.64 0h1.32m1.32 0h1.32m7.92 0h1.32m7.92 0h2.64m7.92 0h1.32m15.84 0h1.32M609.5 474.25h1.32m10.56 0h1.32m2.64 0h1.32m19.8 0h1.32m6.6 0h1.32m3.96 0h1.32m19.8 0h1.32m1.32 0h1.32m10.56 0h2.64m10.56 0h1.32m3.96 0h1.32m1.32 0h1.32m11.88 0h1.32m1.32 0h2.64M609.5 469.81h1.32m26.4 0h1.32m5.28 0h1.32m5.28 0h2.64m72.6 0h1.32M616.1 465.37h1.32m17.16 0h1.32m7.92 0h1.32m19.8 0h1.32m1.32 0h2.64m3.96 0h1.32m27.72 0h2.64m13.2 0h1.32m13.2 0h2.64M629.3 460.93h1.32m1.32 0h1.32m18.48 0h1.32m21.12 0h1.32m23.76 0h1.32m17.16 0h1.32m6.6 0h1.32m6.6 0h1.32m2.64 0h1.32M612.14 456.48h1.32m5.28 0h1.32m5.28 0h1.32m6.6 0h1.32m3.96 0h1.32m14.52 0h2.64m14.52 0h1.32m2.64 0h1.32m13.2 0h1.32m1.32 0h1.32m7.92 0h1.32m15.84 0h2.64m7.92 0h1.32M620.06 452.04h2.64m27.72 0h1.32m7.92 0h1.32m5.28 0h1.32m7.92 0h1.32m5.28 0h1.32m1.32 0h1.32m3.96 0h1.32m2.64 0h1.32m22.44 0h1.32m19.8 0h1.32M609.5 447.6h1.32m22.44 0h1.32m9.24 0h1.32m6.6 0h1.32m5.28 0h1.32m26.4 0h1.32m9.24 0h1.32m1.32 0h1.32m2.64 0h2.64m7.92 0h1.32m6.6 0h1.32m1.32 0h1.32m2.64 0h1.32m6.6 0h1.32M622.7 443.16h1.32m23.76 0h1.32m10.56 0h1.32m2.64 0h1.32m2.64 0h1.32m2.64 0h1.32m13.2 0h1.32m3.96 0h1.32m3.96 0h1.32m1.32 0h2.64m14.52 0h1.32m2.64 0h1.32m17.16 0h1.32M645.14 438.71h2.64m5.28 0h1.32m6.6 0h1.32m2.64 0h2.64m1.32 0h1.32m13.2 0h1.32m10.56 0h2.64m11.88 0h1.32m2.64 0h1.32m14.52 0h3.96m5.28 0h1.32M614.78 434.27h1.32m6.6 0h1.32m6.6 0h1.32m18.48 0h1.32m11.88 0h1.32m3.96 0h1.32m26.4 0h1.32m13.2 0h1.32m3.96 0h1.32M610.82 429.83h1.32m2.64 0h1.32m5.28 0h1.32m3.96 0h1.32m15.84 0h1.32m1.32 0h2.64m1.32 0h1.32m64.68 0h1.32m19.8 0h1.32M613.46 425.38h3.96m6.6 0h1.32m7.92 0h1.32m14.52 0h1.32m2.64 0h1.32m54.12 0h1.32m6.6 0h1.32m2.64 0h1.32M627.98 420.94h1.32m14.52 0h2.64m2.64 0h1.32m5.28 0h1.32m2.64 0h2.64m3.96 0h3.96m1.32 0h1.32m5.28 0h1.32m19.8 0h1.32m38.28 0h1.32M612.14 416.5h1.32m10.56 0h1.32m5.28 0h1.32m13.2 0h1.32m9.24 0h1.32m31.68 0h1.32m2.64 0h1.32m11.88 0h1.32m3.96 0h1.32m14.52 0h1.32m1.32 0h1.32M609.5 412.06h1.32m2.64 0h1.32m7.92 0h1.32m13.2 0h1.32m3.96 0h1.32m3.96 0h1.32m44.88 0h1.32m1.32 0h1.32m9.24 0h1.32m1.32 0h1.32m6.6 0h1.32m9.24 0h1.32m5.28 0h1.32m1.32 0h1.32M609.5 407.61h1.32m1.32 0h1.32m15.84 0h1.32m1.32 0h1.32m7.92 0h1.32m6.6 0h1.32m3.96 0h2.64m7.92 0h1.32m6.6 0h1.32m14.52 0h1.32m39.6 0h1.32M610.82 403.17h1.32m2.64 0h1.32m14.52 0h1.32m14.52 0h3.96m11.88 0h1.32m1.32 0h1.32m5.28 0h1.32m21.12 0h1.32m6.6 0h1.32m17.16 0h1.32m2.64 0h2.64m2.64 0h1.32m1.32 0h1.32m2.64 0h1.32M616.1 398.73h1.32m21.12 0h1.32m19.8 0h1.32m2.64 0h1.32m1.32 0h1.32m13.2 0h1.32m17.16 0h1.32m7.92 0h1.32m7.92 0h1.32M614.78 394.29h1.32m3.96 0h1.32m3.96 0h1.32m14.52 0h1.32m19.8 0h1.32m1.32 0h1.32m3.96 0h1.32m19.8 0h1.32m5.28 0h1.32m15.84 0h2.64M612.14 389.84h2.64m2.64 0h1.32m5.28 0h2.64m2.64 0h1.32m14.52 0h1.32m7.92 0h1.32m7.92 0h1.32m9.24 0h1.32m15.84 0h1.32m7.92 0h1.32m7.92 0h3.96m11.88 0h1.32m1.32 0h1.32M667.58 385.4h1.32m11.88 0h1.32m9.24 0h1.32m7.92 0h1.32m1.32 0h2.64m10.56 0h1.32m2.64 0h1.32m13.2 0h1.32m2.64 0h2.64M617.42 380.96h1.32m15.84 0h1.32m21.12 0h1.32m11.88 0h1.32m11.88 0h1.32m6.6 0h2.64m5.28 0h1.32m3.96 0h1.32m11.88 0h1.32m18.48 0h1.32m1.32 0h1.32"/>
<path stroke="#ff5000" stroke-width="4.44" shape-rendering="crispEdges" d="M627.98 527.56h1.32m39.6 0h1.32m50.16 0h1.32M613.46 523.12h1.32m79.2 0h1.32M655.7 518.68h1.32m1.32 0h1.32m1.32 0h1.32m30.36 0h1.32m13.2 0h1.32m21.12 0h1.32m6.6 0h1.32M705.86 514.24h1.32M622.7 509.79h1.32m18.48 0h1.32m55.44 0h1.32m10.56 0h1.32M634.58 505.35h1.32m9.24 0h1.32m11.88 0h1.32m31.68 0h1.32m9.24 0h1.32M630.62 500.91h1.32m3.96 0h1.32m26.4 0h1.32m52.8 0h1.32M622.7 496.47h1.32m2.64 0h1.32m9.24 0h1.32m36.96 0h1.32M618.74 492.02h1.32m25.08 0h1.32m54.12 0h1.32m11.88 0h1.32m3.96 0h1.32m10.56 0h1.32M627.98 487.58h1.32m23.76 0h1.32m27.72 0h1.32m44.88 0h1.32M624.02 483.14h1.32m6.6 0h1.32m40.92 0h1.32M625.34 478.7h1.32m18.48 0h1.32m9.24 0h1.32m9.24 0h1.32m48.84 0h1.32M617.42 474.25h1.32m67.32 0h1.32m13.2 0h1.32M618.74 469.81h1.32m2.64 0h1.32m104.28 0h1.32M617.42 465.37h1.32m11.88 0h1.32m30.36 0h1.32m43.56 0h1.32M618.74 460.93h1.32m3.96 0h1.32m67.32 0h1.32m7.92 0h1.32m2.64 0h1.32m17.16 0h1.32m9.24 0h1.32M711.14 456.48h1.32M670.22 452.04h1.32m2.64 0h1.32m1.32 0h1.32m14.52 0h1.32m21.12 0h1.32M616.1 447.6h1.32m30.36 0h1.32m77.88 0h1.32m5.28 0h1.32m3.96 0h2.64M630.62 443.16h1.32m80.52 0h1.32m11.88 0h1.32m1.32 0h1.32M614.78 438.71h1.32m39.6 0h1.32m46.2 0h1.32M642.5 434.27h1.32m69.96 0h1.32m9.24 0h1.32m10.56 0h1.32M613.46 429.83h1.32m15.84 0h1.32m44.88 0h1.32m30.36 0h1.32M639.86 425.38h2.64m29.04 0h1.32m67.32 0h1.32M639.86 420.94h2.64m9.24 0h1.32m50.16 0h1.32M617.42 416.5h1.32m9.24 0h1.32m54.12 0h1.32M664.94 412.06h1.32m44.88 0h1.32m21.12 0h1.32M638.54 407.61h1.32m76.56 0h1.32M626.66 403.17h1.32m5.28 0h1.32m60.72 0h2.64m33 0h1.32M613.46 398.73h1.32m25.08 0h1.32m6.6 0h1.32m1.32 0h1.32m3.96 0h1.32m77.88 0h1.32M634.58 394.29h1.32m19.8 0h1.32M616.1 389.84h1.32m21.12 0h1.32M645.14 385.4h1.32m2.64 0h1.32m18.48 0h1.32M666.26 380.96h1.32"/>
<path stroke="#ff8200" stroke-width="4.44" shape-rendering="crispEdges" d="M705.86 523.12h1.32M704.54 509.79h1.32m11.88 0h1.32M610.82 496.47h1.32M704.54 478.7h1.32M679.46 474.25h1.32M697.94 469.81h1.32M657.02 460.93h1.32M674.18 447.6h1.32M717.74 425.38h1.32M672.86 416.5h1.32m17.16 0h1.32M614.78 389.84h1.32M709.82 385.4h1.32"/>
<path stroke="#ff2d00" stroke-width="2.24" shape-rendering="crispEdges" d="M609.5 377.62h1.32m11.88 0h2.64m5.28 0h1.32m5.28 0h1.32m3.96 0h1.32m13.2 0h1.32m1.32 0h1.32m30.36 0h1.32m2.64 0h1.32m21.12 0h1.32m7.92 0h1.32"/>
<path stroke="#ff5000" stroke-width="2.24" shape-rendering="crispEdges" d="M647.78 377.62h1.32m47.52 0h1.32m23.76 0h1.32m6.6 0h1.32"/>
<rect x="609.5" y="376.5" width="132" height="280" fill="none" stroke="#000" stroke-width="1"/>
<path d="M609.5 657v-3.5M609.5 376v3.5M613.5 657v-3.5M613.5 376v3.5M618.5 657v-3.5M618.5 376v3.5M622.5 657v-3.5M622.5 376v3.5M627.5 657v-3.5M627.5 376v3.5M631.5 657v-3.5M631.5 376v3.5M635.5 657v-3.5M635.5 376v3.5M640.5 657v-3.5M640.5 376v3.5M644.5 657v-3.5M644.5 376v3.5M649.5 657v-3.5M649.5 376v3.5M653.5 657v-3.5M653.5 376v3.5M657.5 657v-3.5M657.5 376v3.5M662.5 657v-3.5M662.5 376v3.5M666.5 657v-3.5M666.5 376v3.5M671.5 657v-3.5M671.5 376v3.5M675.5 657v-3.5M675.5 376v3.5M679.5 657v-3.5M679.5 376v3.5M684.5 657v-3.5M684.5 376v3.5M688.5 657v-3.5M688.5 376v3.5M693.5 657v-3.5M693.5 376v3.5M697.5 657v-3.5M697.5 376v3.5M701.5 657v-3.5M701.5 376v3.5M706.5 657v-3.5M706.5 376v3.5M710.5 657v-3.5M710.5 376v3.5M715.5 657v-3.5M715.5 376v3.5M719.5 657v-3.5M719.5 376v3.5M723.5 657v-3.5M723.5 376v3.5M728.5 657v-3.5M728.5 376v3.5M732.5 657v-3.5M732.5 376v3.5M737.5 657v-3.5M737.5 376v3.5M741.5 657v-3.5M741.5 376v3.5M609.5 657v-6.5M609.5 376v6.5M631.5 657v-6.5M631.5 376v6.5M653.5 657v-6.5M653.5 376v6.5M675.5 657v-6.5M675.5 376v6.5M697.5 657v-6.5M697.5 376v6.5M719.5 657v-6.5M719.5 376v6.5M741.5 657v-6.5M741.5 376v6.5" stroke="#000" stroke-width="1" fill="none"/>
<text x="609.5" y="668.8" font-size="8.3" text-anchor="middle" textLength="19.5" lengthAdjust="spacingAndGlyphs" font-weight="bold">–150</text>
<text x="631.5" y="668.8" font-size="8.3" text-anchor="middle" textLength="19.5" lengthAdjust="spacingAndGlyphs" font-weight="bold">–100</text>
<text x="653.5" y="668.8" font-size="8.3" text-anchor="middle" textLength="14.9" lengthAdjust="spacingAndGlyphs" font-weight="bold">–50</text>
<text x="675.5" y="668.8" font-size="8.3" text-anchor="middle" textLength="3.8" lengthAdjust="spacingAndGlyphs" font-weight="bold">0</text>
<text x="697.5" y="668.8" font-size="8.3" text-anchor="middle" textLength="8.4" lengthAdjust="spacingAndGlyphs" font-weight="bold">50</text>
<text x="719.5" y="668.8" font-size="8.3" text-anchor="middle" textLength="13" lengthAdjust="spacingAndGlyphs" font-weight="bold">100</text>
<text x="675.5" y="678" font-size="7.8" text-anchor="middle" textLength="80" lengthAdjust="spacingAndGlyphs" >Radial Velocity (m/s)</text>
<path d="M609 656.5h4M742 656.5h-4M609 641.5h2.5M742 641.5h-2.5M609 627.5h2.5M742 627.5h-2.5M609 612.5h2.5M742 612.5h-2.5M609 597.5h4M742 597.5h-4M609 582.5h2.5M742 582.5h-2.5M609 567.5h2.5M742 567.5h-2.5M609 553.5h2.5M742 553.5h-2.5M609 538.5h4M742 538.5h-4M609 523.5h2.5M742 523.5h-2.5M609 508.5h2.5M742 508.5h-2.5M609 493.5h2.5M742 493.5h-2.5M609 479.5h4M742 479.5h-4M609 464.5h2.5M742 464.5h-2.5M609 449.5h2.5M742 449.5h-2.5M609 434.5h2.5M742 434.5h-2.5M609 419.5h4M742 419.5h-4M609 405.5h2.5M742 405.5h-2.5M609 390.5h2.5M742 390.5h-2.5" stroke="#000" stroke-width="1" fill="none"/>
<rect x="759.5" y="376.5" width="132" height="280" fill="#ffffd8"/>
<path d="M800.96 543.35v4M803.85 543.35v4M827.99 543.35v4M835.93 543.35v4M846.05 543.35v4M783.91 547.68v4M768.88 552.31v4M812.81 552.31v4M761.95 556.79v4M806.74 565.31v4M822.93 565.31v4" stroke="#fff" stroke-width="1"/>
<rect x="759.5" y="376.5" width="132" height="280" fill="none" stroke="#000" stroke-width="1"/>
<path d="M759.5 657v-3.5M759.5 376v3.5M763.5 657v-3.5M763.5 376v3.5M768.5 657v-3.5M768.5 376v3.5M772.5 657v-3.5M772.5 376v3.5M777.5 657v-3.5M777.5 376v3.5M781.5 657v-3.5M781.5 376v3.5M785.5 657v-3.5M785.5 376v3.5M790.5 657v-3.5M790.5 376v3.5M794.5 657v-3.5M794.5 376v3.5M799.5 657v-3.5M799.5 376v3.5M803.5 657v-3.5M803.5 376v3.5M807.5 657v-3.5M807.5 376v3.5M812.5 657v-3.5M812.5 376v3.5M816.5 657v-3.5M816.5 376v3.5M821.5 657v-3.5M821.5 376v3.5M825.5 657v-3.5M825.5 376v3.5M829.5 657v-3.5M829.5 376v3.5M834.5 657v-3.5M834.5 376v3.5M838.5 657v-3.5M838.5 376v3.5M843.5 657v-3.5M843.5 376v3.5M847.5 657v-3.5M847.5 376v3.5M851.5 657v-3.5M851.5 376v3.5M856.5 657v-3.5M856.5 376v3.5M860.5 657v-3.5M860.5 376v3.5M865.5 657v-3.5M865.5 376v3.5M869.5 657v-3.5M869.5 376v3.5M873.5 657v-3.5M873.5 376v3.5M878.5 657v-3.5M878.5 376v3.5M882.5 657v-3.5M882.5 376v3.5M887.5 657v-3.5M887.5 376v3.5M891.5 657v-3.5M891.5 376v3.5M759.5 657v-6.5M759.5 376v6.5M781.5 657v-6.5M781.5 376v6.5M803.5 657v-6.5M803.5 376v6.5M825.5 657v-6.5M825.5 376v6.5M847.5 657v-6.5M847.5 376v6.5M869.5 657v-6.5M869.5 376v6.5M891.5 657v-6.5M891.5 376v6.5" stroke="#000" stroke-width="1" fill="none"/>
<text x="759.5" y="668.8" font-size="8.3" text-anchor="middle" textLength="19.5" lengthAdjust="spacingAndGlyphs" font-weight="bold">–150</text>
<text x="781.5" y="668.8" font-size="8.3" text-anchor="middle" textLength="19.5" lengthAdjust="spacingAndGlyphs" font-weight="bold">–100</text>
<text x="803.5" y="668.8" font-size="8.3" text-anchor="middle" textLength="14.9" lengthAdjust="spacingAndGlyphs" font-weight="bold">–50</text>
<text x="825.5" y="668.8" font-size="8.3" text-anchor="middle" textLength="3.8" lengthAdjust="spacingAndGlyphs" font-weight="bold">0</text>
<text x="847.5" y="668.8" font-size="8.3" text-anchor="middle" textLength="8.4" lengthAdjust="spacingAndGlyphs" font-weight="bold">50</text>
<text x="869.5" y="668.8" font-size="8.3" text-anchor="middle" textLength="13" lengthAdjust="spacingAndGlyphs" font-weight="bold">100</text>
<text x="825.5" y="678" font-size="7.8" text-anchor="middle" textLength="80" lengthAdjust="spacingAndGlyphs" >Radial Velocity (m/s)</text>
<path d="M759 656.5h4M892 656.5h-4M759 641.5h2.5M892 641.5h-2.5M759 627.5h2.5M892 627.5h-2.5M759 612.5h2.5M892 612.5h-2.5M759 597.5h4M892 597.5h-4M759 582.5h2.5M892 582.5h-2.5M759 567.5h2.5M892 567.5h-2.5M759 553.5h2.5M892 553.5h-2.5M759 538.5h4M892 538.5h-4M759 523.5h2.5M892 523.5h-2.5M759 508.5h2.5M892 508.5h-2.5M759 493.5h2.5M892 493.5h-2.5M759 479.5h4M892 479.5h-4M759 464.5h2.5M892 464.5h-2.5M759 449.5h2.5M892 449.5h-2.5M759 434.5h2.5M892 434.5h-2.5M759 419.5h4M892 419.5h-4M759 405.5h2.5M892 405.5h-2.5M759 390.5h2.5M892 390.5h-2.5" stroke="#000" stroke-width="1" fill="none"/>
<path d="M236.5 380V656M253.5 380V656M270.5 380V656M288.5 380V656" stroke="#000" stroke-width="1.15" stroke-dasharray="1.15 4.85"/>
<path d="M215.5 657v-3.8M215.5 376v3.8M222.5 657v-3.8M222.5 376v3.8M229.5 657v-3.8M229.5 376v3.8M243.5 657v-3.8M243.5 376v3.8M250.5 657v-3.8M250.5 376v3.8M257.5 657v-3.8M257.5 376v3.8M264.5 657v-3.8M264.5 376v3.8M277.5 657v-3.8M277.5 376v3.8M284.5 657v-3.8M284.5 376v3.8M236.5 657v-7M236.5 376v7M270.5 657v-7M270.5 376v7" stroke="#000" stroke-width="1" fill="none"/>
<path d="M209 656.5h4M292 656.5h-4M209 644.5h2.5M292 644.5h-2.5M209 632.5h2.5M292 632.5h-2.5M209 621.5h2.5M292 621.5h-2.5M209 609.5h2.5M292 609.5h-2.5M209 597.5h4M292 597.5h-4M209 585.5h2.5M292 585.5h-2.5M209 573.5h2.5M292 573.5h-2.5M209 561.5h2.5M292 561.5h-2.5M209 550.5h2.5M292 550.5h-2.5M209 538.5h4M292 538.5h-4M209 526.5h2.5M292 526.5h-2.5M209 514.5h2.5M292 514.5h-2.5M209 502.5h2.5M292 502.5h-2.5M209 490.5h2.5M292 490.5h-2.5M209 479.5h4M292 479.5h-4M209 467.5h2.5M292 467.5h-2.5M209 455.5h2.5M292 455.5h-2.5M209 443.5h2.5M292 443.5h-2.5M209 431.5h2.5M292 431.5h-2.5M209 419.5h4M292 419.5h-4M209 408.5h2.5M292 408.5h-2.5M209 396.5h2.5M292 396.5h-2.5M209 384.5h2.5M292 384.5h-2.5" stroke="#000" stroke-width="1" fill="none"/>
<rect x="209.5" y="376.5" width="82" height="280" fill="none" stroke="#000" stroke-width="1"/>
<text x="236.5" y="668.8" font-size="8.3" text-anchor="middle" textLength="8.4" lengthAdjust="spacingAndGlyphs" font-weight="bold">30</text>
<text x="270.5" y="668.8" font-size="8.3" text-anchor="middle" textLength="8.4" lengthAdjust="spacingAndGlyphs" font-weight="bold">40</text>
<text x="250.5" y="678" font-size="7.8" text-anchor="middle" textLength="9" lengthAdjust="spacingAndGlyphs" >dB</text>
<path d="M519.5 380V656M536.5 380V656M553.5 380V656M588.5 380V656" stroke="#000" stroke-width="1.15" stroke-dasharray="1.15 4.85"/>
<path d="M509 656.5h4M592 656.5h-4M509 644.5h2.5M592 644.5h-2.5M509 632.5h2.5M592 632.5h-2.5M509 621.5h2.5M592 621.5h-2.5M509 609.5h2.5M592 609.5h-2.5M509 597.5h4M592 597.5h-4M509 585.5h2.5M592 585.5h-2.5M509 573.5h2.5M592 573.5h-2.5M509 561.5h2.5M592 561.5h-2.5M509 550.5h2.5M592 550.5h-2.5M509 538.5h4M592 538.5h-4M509 526.5h2.5M592 526.5h-2.5M509 514.5h2.5M592 514.5h-2.5M509 502.5h2.5M592 502.5h-2.5M509 490.5h2.5M592 490.5h-2.5M509 479.5h4M592 479.5h-4M509 467.5h2.5M592 467.5h-2.5M509 455.5h2.5M592 455.5h-2.5M509 443.5h2.5M592 443.5h-2.5M509 431.5h2.5M592 431.5h-2.5M509 419.5h4M592 419.5h-4M509 408.5h2.5M592 408.5h-2.5M509 396.5h2.5M592 396.5h-2.5M509 384.5h2.5M592 384.5h-2.5" stroke="#000" stroke-width="1" fill="none"/>
<rect x="509.5" y="376.5" width="82" height="280" fill="none" stroke="#000" stroke-width="1"/>
<text x="509.5" y="668.8" font-size="8.3" text-anchor="middle" textLength="3.8" lengthAdjust="spacingAndGlyphs" font-weight="bold">0</text>
<polyline fill="none" stroke="#000" stroke-width="1.35" stroke-linejoin="round"  points="46.8,61.4 56.6,63.8 64.5,64.3 81.3,65.3 97,66.8 116,68.3 128.8,68.3"/>
<polyline fill="none" stroke="#000" stroke-width="1.4" stroke-linejoin="round"  points="82,58.9 108,57.9"/>
<polyline fill="none" stroke="#000" stroke-width="1.4" stroke-linejoin="round"  points="122,54 137.7,55"/>
<polyline fill="none" stroke="#000" stroke-width="1.35" stroke-linejoin="round"  points="116,57 133.7,57"/>
<polyline fill="none" stroke="#000" stroke-width="1" stroke-linejoin="round"  points="128.8,73.7 135.7,70.2"/>
<polyline fill="none" stroke="#000" stroke-width="1" stroke-linejoin="round"  points="128.8,73.7 129.8,78.6 127.8,82.6"/>
<polyline fill="none" stroke="#000" stroke-width="1.35" stroke-linejoin="round"  points="69.5,86.5 86,85.5 103,85"/>
<polyline fill="none" stroke="#000" stroke-width="1.35" stroke-linejoin="round"  points="61.6,94.4 73.4,92.9 93,91.4"/>
<polyline fill="none" stroke="#000" stroke-width="1.35" stroke-linejoin="round"  points="51.7,95.9 73.4,96.4 83.3,97.4 110,99.3 135.7,99.3 160.4,102.3 175,104.3 200,108.2"/>
<polyline fill="none" stroke="#000" stroke-width="1.35" stroke-linejoin="round"  points="167.3,116 175,114 200,110.2"/>
<polyline fill="none" stroke="#000" stroke-width="1.6" stroke-linejoin="round"  points="61,123.2 90,121.5 120,120.4 160,116 200,109"/>
<polyline fill="none" stroke="#000" stroke-width="1.35" stroke-linejoin="round"  points="68,122.5 83.5,124"/>
<polyline fill="none" stroke="#000" stroke-width="1.35" stroke-linejoin="round"  points="38.5,140.8 86.3,138 130,135.5 183.9,132.9"/>
<polyline fill="none" stroke="#000" stroke-width="1.4" stroke-linejoin="round"  points="52.5,142.3 86.3,144.4"/>
<path d="M77 97.5h14M83 210.5h16" stroke="#000" stroke-width="2.2"/>
<polyline fill="none" stroke="#000" stroke-width="1.1" stroke-linejoin="round"  points="97,146 95,153 98,165 100,177 103,189 111,201 112,219 117,240 116.5,250.6"/>
<polyline fill="none" stroke="#000" stroke-width="1.1" stroke-linejoin="round"  points="101.7,279.5 106,288 115,291 117,296 117,331"/>
<polyline fill="none" stroke="#000" stroke-width="1.2" stroke-linejoin="round"  points="83.3,210.7 107,208.8"/>
<polyline fill="none" stroke="#000" stroke-width="1.8" stroke-linejoin="round"  points="50.7,274.9 76.8,273 97.3,270.2 117.9,269.3 136.5,266.5 162.7,256.2"/>
<polyline fill="none" stroke="#000" stroke-width="1.5" stroke-linejoin="round"  points="119.7,260 136.5,260.9 162.7,264.6"/>
<polyline fill="none" stroke="#000" stroke-width="1.3" stroke-linejoin="round"  points="129,253.4 151.5,257.1"/>
<polyline fill="none" stroke="#000" stroke-width="1.3" stroke-linejoin="round"  points="65.6,276.7 88,277.7"/>
<polyline fill="none" stroke="#000" stroke-width="1.5" stroke-linejoin="round"  points="144,269.3 161,264.6"/>
<path d="M118 254h10M140 265h18M56 274.5h16" stroke="#000" stroke-width="2.2"/>
<polyline fill="none" stroke="#000" stroke-width="1.5" stroke-linejoin="round"  points="49.8,399.7 59.6,397.7 76.4,396.2"/>
<polyline fill="none" stroke="#000" stroke-width="1.5" stroke-linejoin="round"  points="54.7,402 71.4,407.6"/>
<polyline fill="none" stroke="#000" stroke-width="1.5" stroke-linejoin="round"  points="37.9,411 58.6,410 67.5,409.5"/>
<polyline fill="none" stroke="#000" stroke-width="1.5" stroke-linejoin="round"  points="54.7,417 86.2,417.4 116,417"/>
<polyline fill="none" stroke="#000" stroke-width="1.5" stroke-linejoin="round"  points="39.9,426.3 69.5,427.3 87.2,429.3 116,431.2 150,439 199.7,442"/>
<polyline fill="none" stroke="#000" stroke-width="1.5" stroke-linejoin="round"  points="73.4,433 93,432.2 116,432.2"/>
<polyline fill="none" stroke="#000" stroke-width="1.5" stroke-linejoin="round"  points="79.3,435.2 116,436.2"/>
<polyline fill="none" stroke="#000" stroke-width="1.5" stroke-linejoin="round"  points="131.8,384.9 145.6,384.9 159.4,383.4"/>
<polyline fill="none" stroke="#000" stroke-width="1.5" stroke-linejoin="round"  points="117,378 145.6,382.9 175,383.9 200,383.4"/>
<polyline fill="none" stroke="#000" stroke-width="1.5" stroke-linejoin="round"  points="143.6,392.8 181,392.3 200,392.8"/>
<polyline fill="none" stroke="#000" stroke-width="1.2" stroke-linejoin="round"  points="107,392.8 140,390.5"/>
<polyline fill="none" stroke="#000" stroke-width="1.5" stroke-linejoin="round"  points="118,419.4 155.4,420.9 200,420.9"/>
<polyline fill="none" stroke="#000" stroke-width="1.5" stroke-linejoin="round"  points="116,422.8 171.2,423.3"/>
<polyline fill="none" stroke="#000" stroke-width="1.5" stroke-linejoin="round"  points="129.8,438.1 155.4,438.6 200,437.6"/>
<polyline fill="none" stroke="#000" stroke-width="1.5" stroke-linejoin="round"  points="155.4,445 200,445"/>
<polyline fill="none" stroke="#000" stroke-width="1.2" stroke-linejoin="round"  points="91.2,449 199.7,443"/>
<polyline fill="none" stroke="#000" stroke-width="1.2" stroke-linejoin="round"  points="55.7,465.7 110.9,464.8"/>
<polyline fill="none" stroke="#000" stroke-width="1.2" stroke-linejoin="round"  points="110.9,494.3 199.7,488.4"/>
<polyline fill="none" stroke="#000" stroke-width="1.2" stroke-linejoin="round"  points="130,590 180,593"/>
<polyline fill="none" stroke="#000" stroke-width="1.2" stroke-linejoin="round"  points="142,594 199.7,589"/>
<polyline fill="none" stroke="#000" stroke-width="1.2" stroke-linejoin="round"  points="55.7,599.8 122,595"/>
<path d="M133 385.5h14M93 449h20M126 621.5h21M126 630.5h21M123 614.5h77" stroke="#000" stroke-width="2.4"/>
<polyline fill="none" stroke="#000" stroke-width="1.1" stroke-linejoin="round"  points="95,466 111,465.7 91.2,472.6 93,478.6 116.8,483.5 95,488.4 92,495 89.2,501.2 96.1,505.2 95,516 97,523 115,528 119,531 110,536 117,543.6 117,555 120,567 111,571 99,576 105,581 91,585 111,587 170,591 107,598 55.7,599.8 101,604.8 111,611.7 117,614.6"/>
<polyline fill="none" stroke="#000" stroke-width="1.1" stroke-linejoin="round"  points="116.5,639 116.5,656"/>
<path d="M126 638.5h22M148 619.5h20M148 621.5h20M148 624.5h20M148 628.5h20M148 630.5h20M148 633.5h20M148 638.5h20M168 616.5h21M168 619.5h21M168 625.5h21M168 627.5h21M168 633.5h21M168 636.5h21M189 625.5h11M189 633.5h11" stroke="#000" stroke-width="1"/>
<path d="M332 87.5H500M332 104.5H500M454 101.5H500M394.7 108.5H500M332 448.5H500M332 455.5H500" stroke="#000" stroke-width="1.1"/>
<path d="M407.5 77.6H426.3M407.5 75.4v4.4M426.3 75.4v4.4" stroke="#000" stroke-width="1.1"/>
<path d="M411.5 81.6H419.4M411.5 79.4v4.4M419.4 79.4v4.4" stroke="#000" stroke-width="1.1"/>
<path d="M412.5 85.5H419M412.5 83.3v4.4M419 83.3v4.4" stroke="#000" stroke-width="1.1"/>
<path d="M403 91.4H428.6M403 89.2v4.4M428.6 89.2v4.4" stroke="#000" stroke-width="1.1"/>
<path d="M368.5 96.4H418.8M368.5 94.2v4.4M418.8 94.2v4.4" stroke="#000" stroke-width="1.1"/>
<path d="M403 99.3H418.8M403 97.1v4.4M418.8 97.1v4.4" stroke="#000" stroke-width="1.1"/>
<path d="M373.4 114.5H451.3M373.4 112.3v4.4M451.3 112.3v4.4" stroke="#000" stroke-width="1.1"/>
<path d="M409.5 123.6H441.5M409.5 121.4v4.4M441.5 121.4v4.4" stroke="#000" stroke-width="1.1"/>
<path d="M401.4 131.3H420.4M401.4 129.1v4.4M420.4 129.1v4.4" stroke="#000" stroke-width="1.1"/>
<path d="M404.6 136.2H418.2M404.6 134v4.4M418.2 134v4.4" stroke="#000" stroke-width="1.1"/>
<path d="M407 140.7H418.2M407 138.5v4.4M418.2 138.5v4.4" stroke="#000" stroke-width="1.1"/>
<path d="M400 147.6H405M400 145.4v4.4M405 145.4v4.4" stroke="#000" stroke-width="1.1"/>
<path d="M395 153.6H398M395 151.4v4.4M398 151.4v4.4" stroke="#000" stroke-width="1.1"/>
<path d="M397 163.4H413.9M397 161.2v4.4M413.9 161.2v4.4" stroke="#000" stroke-width="1.1"/>
<path d="M397 167.4H400M397 165.2v4.4M400 165.2v4.4" stroke="#000" stroke-width="1.1"/>
<path d="M402 175.3H411M402 173.1v4.4M411 173.1v4.4" stroke="#000" stroke-width="1.1"/>
<path d="M402 181.2H405M402 179v4.4M405 179v4.4" stroke="#000" stroke-width="1.1"/>
<path d="M409 188H412M409 185.8v4.4M412 185.8v4.4" stroke="#000" stroke-width="1.1"/>
<path d="M401.4 265.6H413.3M401.4 263.4v4.4M413.3 263.4v4.4" stroke="#000" stroke-width="1.1"/>
<path d="M341.5 274.8H477M341.5 272.6v4.4M477 272.6v4.4" stroke="#000" stroke-width="1.1"/>
<polyline fill="none" stroke="#000" stroke-width="1.1" stroke-linejoin="round"  points="414.8,77.6 415.8,86.5 403,91.4 397,96.4 418.8,99.3 412.9,108.2 421.7,123 411,131.9 414.8,138.8 397,153.6 410,164.4 398,167.4 409,176.3 402,179.2 411.9,189 410,198.9 414.8,209.7 411.9,222.6 416.8,228.5 415.8,246.2 410,254"/>
<polyline fill="none" stroke="#000" stroke-width="1.1" stroke-linejoin="round"  points="399,277.8 406,283.7 413.9,287.6 413.9,331"/>
<polyline fill="none" stroke="#000" stroke-width="1.1" stroke-linejoin="round"  points="416.8,229.5 470,233.4 413.9,238.3"/>
<path d="M396.3 151v10M397.6 165l2 8M402 178v5.5M409.5 182l1.8 6M411.5 190l1.5 6M413 198l1.6 6M414.3 204l.8 5" stroke="#000" stroke-width="2.2"/>
<path d="M470 229v8" stroke="#000" stroke-width="1.1"/>
<path d="M402.6 394.7H408.9M402.6 392.5v4.4M408.9 392.5v4.4" stroke="#000" stroke-width="1.1"/>
<path d="M397 399.7H420M397 397.5v4.4M420 397.5v4.4" stroke="#000" stroke-width="1.1"/>
<path d="M379.3 403.6H441.5M379.3 401.4v4.4M441.5 401.4v4.4" stroke="#000" stroke-width="1.1"/>
<path d="M366.5 408H460.6M366.5 405.8v4.4M460.6 405.8v4.4" stroke="#000" stroke-width="1.1"/>
<path d="M402.6 412.5H420M402.6 410.3v4.4M420 410.3v4.4" stroke="#000" stroke-width="1.1"/>
<path d="M402.6 416.4H439.5M402.6 414.2v4.4M439.5 414.2v4.4" stroke="#000" stroke-width="1.1"/>
<path d="M373.4 421.4H430.6M373.4 419.2v4.4M430.6 419.2v4.4" stroke="#000" stroke-width="1.1"/>
<path d="M410 428.3H413.5M410 426.1v4.4M413.5 426.1v4.4" stroke="#000" stroke-width="1.1"/>
<path d="M387.8 434.8H437.5M387.8 432.6v4.4M437.5 432.6v4.4" stroke="#000" stroke-width="1.1"/>
<path d="M401.4 439.1H432.2M401.4 436.9v4.4M432.2 436.9v4.4" stroke="#000" stroke-width="1.1"/>
<path d="M401.4 443.7H447.4M401.4 441.5v4.4M447.4 441.5v4.4" stroke="#000" stroke-width="1.1"/>
<path d="M381.3 451.9H406.6M381.3 449.7v4.4M406.6 449.7v4.4" stroke="#000" stroke-width="1.1"/>
<path d="M402.4 461.2H413.9M402.4 459v4.4M413.9 459v4.4" stroke="#000" stroke-width="1.1"/>
<path d="M410 465.7H422.7M410 463.5v4.4M422.7 463.5v4.4" stroke="#000" stroke-width="1.1"/>
<path d="M410 470.7H418.8M410 468.5v4.4M418.8 468.5v4.4" stroke="#000" stroke-width="1.1"/>
<path d="M410 473.6H421.7M410 471.4v4.4M421.7 471.4v4.4" stroke="#000" stroke-width="1.1"/>
<path d="M400 478.6H416M400 476.4v4.4M416 476.4v4.4" stroke="#000" stroke-width="1.1"/>
<path d="M393 488.4H416.8M393 486.2v4.4M416.8 486.2v4.4" stroke="#000" stroke-width="1.1"/>
<path d="M407 494H415M407 491.8v4.4M415 491.8v4.4" stroke="#000" stroke-width="1.1"/>
<path d="M402 501H413M402 498.8v4.4M413 498.8v4.4" stroke="#000" stroke-width="1.1"/>
<path d="M405 506H414M405 503.8v4.4M414 503.8v4.4" stroke="#000" stroke-width="1.1"/>
<path d="M405 512H412M405 509.8v4.4M412 509.8v4.4" stroke="#000" stroke-width="1.1"/>
<path d="M332 559.6H430.6M430.6 557.4v4.4" stroke="#000" stroke-width="1.1"/>
<path d="M332 568.4H414M414 566.2v4.4" stroke="#000" stroke-width="1.1"/>
<path d="M379.3 599.8H448.8M379.3 597.6v4.4M448.8 597.6v4.4" stroke="#000" stroke-width="1.1"/>
<polyline fill="none" stroke="#000" stroke-width="1.1" stroke-linejoin="round"  points="430.6,422.3 500,425.3"/>
<path d="M462 425.5H500M339 455.9h17" stroke="#000" stroke-width="2.4"/>
<polyline fill="none" stroke="#000" stroke-width="1.1" stroke-linejoin="round"  points="364,448 406,445"/>
<polyline fill="none" stroke="#000" stroke-width="1.1" stroke-linejoin="round"  points="355.7,456.9 403,460.8"/>
<polyline fill="none" stroke="#000" stroke-width="1.1" stroke-linejoin="round"  points="407,394.7 410,402 415,408 419.8,414.5 404,420.4 411,432 421.7,443 403,446 398,452 403,460.8 414,466 405,472 418,476 402,480 413,486 398,492 414,498 402,503 412,509 405,516 404,524 418.8,528.8 414.8,535.7 414.8,555.4 430.6,558.4"/>
<path d="M410 567v9" stroke="#000" stroke-width="2"/><rect x="428" y="543" width="2" height="5" fill="#fff"/><rect x="128" y="543" width="2" height="5" fill="#fff"/>
<polyline fill="none" stroke="#000" stroke-width="1.1" stroke-linejoin="round"  points="399,602.8 410.9,609.7 415.8,613.6 415.8,656"/>
<polyline fill="none" stroke="#000" stroke-width="1.2" stroke-linejoin="round"  points="218.35,52.55 218.35,82.35 219.75,85.45 219.15,94.55 220.85,98.75 221.85,106.85 223.25,117.15 223.85,123.25 226.95,129.35 228.95,138.55 231.05,143.75 234.15,155.95 235.55,164.15 236.15,172.35 235.55,184.55 234.05,185.55 232.95,195.05 229.75,204.15 231.85,207.75 251.95,211.95 257.25,217.25 290.95,219.35"/>
<polyline fill="none" stroke="#f00" stroke-width="1.2" stroke-linejoin="round"  points="219.45,51.45 219.45,81.25 220.85,84.35 220.25,93.45 221.95,97.65 222.95,105.75 224.35,116.05 224.95,122.15 228.05,128.25 230.05,137.45 232.15,142.65 235.25,154.85 236.65,163.05 237.25,171.25 236.65,183.45 235.15,184.45 234.05,193.95 230.85,203.05 232.95,206.65 253.05,210.85 258.35,216.15 292.05,218.25"/>
<polyline fill="none" stroke="#000" stroke-width="1.2" stroke-linejoin="round"  points="290.95,247.15 219.25,251.45 218.85,276.35 220.25,278.85 236.15,283.75 290.95,288.35"/>
<polyline fill="none" stroke="#f00" stroke-width="1.2" stroke-linejoin="round"  points="292.05,246.05 220.35,250.35 219.95,275.25 221.35,277.75 237.25,282.65 292.05,287.25"/>
<polyline fill="none" stroke="#000" stroke-width="1.2" stroke-linejoin="round"  points="219.15,377.55 219.75,390.95 220.45,418.55 219.75,429.85 221.85,435.95 224.85,456.45 227.95,474.85 230.65,489.15 230.65,511.55 228.05,514.75 227.65,523.55 248.75,529.15 277.25,531.25 290.95,531.55"/>
<polyline fill="none" stroke="#b00000" stroke-width="1.2" stroke-linejoin="round"  points="220.25,376.45 220.85,389.85 221.55,417.45 220.85,428.75 222.95,434.85 225.95,455.35 229.05,473.75 231.75,488.05 231.75,510.45 229.15,513.65 228.75,522.45 249.85,528.05 278.35,530.15 292.05,530.45"/>
<polyline fill="none" stroke="#000" stroke-width="1.2" stroke-linejoin="round"  points="290.95,567.15 221.35,572.15 219.25,577.05 219.25,602.35 228.75,608.75 290.95,614.45"/>
<polyline fill="none" stroke="#b00000" stroke-width="1.2" stroke-linejoin="round"  points="292.05,566.05 222.45,571.05 220.35,575.95 220.35,601.25 229.85,607.65 292.05,613.35"/>
<path d="M218.5 52V331" stroke="#000" stroke-width="1" stroke-dasharray="7.5 1.5 1 3.3" stroke-dashoffset="4.3"/>
<path d="M219.5 52V331" stroke="#f00" stroke-width="1" stroke-dasharray="7.5 1.5 1 3.3" stroke-dashoffset="4.3"/>
<path d="M570.5 55V331" stroke="#000" stroke-width="1.15" stroke-dasharray="1.15 4.85"/>
<path d="M570 52V331" stroke="#f00" stroke-width="2" stroke-dasharray="7.4 6.6" stroke-dashoffset="4.7"/>
<path d="M218.5 377V656" stroke="#000" stroke-width="1" stroke-dasharray="7.5 1.5 1 3.3" stroke-dashoffset="4.3"/>
<path d="M219.5 377V656" stroke="#b00000" stroke-width="1" stroke-dasharray="7.5 1.5 1 3.3" stroke-dashoffset="4.3"/>
<path d="M570.5 380V656" stroke="#000" stroke-width="1.15" stroke-dasharray="1.15 4.85"/>
<path d="M570 377V656" stroke="#a8000a" stroke-width="2" stroke-dasharray="7.4 6.6" stroke-dashoffset="4.7"/>
<path d="M591 51.5V331M591 376.5V656" stroke="#000" stroke-width="2.2"/>
<polyline fill="none" stroke="#000" stroke-width="1.6" stroke-linejoin="round"  points="591.1,185 591,203 577.8,207.2 568.3,208.6 551.4,209.3 525,211.4 551.4,212.4 568.3,214.6 589.4,216.2 575.7,219.8 585.2,226.2 584.2,234.6 590.5,237.8 593.7,238.2 568.3,241 549.3,243 568.3,245.2 591.1,247.3"/>
<path d="M525 211.4h20" stroke="#000" stroke-width="2.6"/>
<polyline fill="none" stroke="#f00" stroke-width="2" stroke-linejoin="round"  points="569.8,206 560.8,209.8 555.2,212.1"/>
<polyline fill="none" stroke="#f00" stroke-width="2" stroke-linejoin="round"  points="563,213.8 569.8,216.5"/>
<polyline fill="none" stroke="#f00" stroke-width="2" stroke-linejoin="round"  points="564.8,243.6 569.8,247.5"/>
<polyline fill="none" stroke="#a8000a" stroke-width="2" stroke-linejoin="round"  points="565.9,528.6 570.4,528.1"/>
<polyline fill="none" stroke="#a8000a" stroke-width="2" stroke-linejoin="round"  points="553.5,531.5 558.6,531.1"/>
<polyline fill="none" stroke="#a8000a" stroke-width="2" stroke-linejoin="round"  points="555.2,537.7 561.4,539.3"/>
<polyline fill="none" stroke="#a8000a" stroke-width="2" stroke-linejoin="round"  points="567.6,541.6 573.2,545"/>
<polyline fill="none" stroke="#a8000a" stroke-width="2" stroke-linejoin="round"  points="565.9,550 568.7,554"/>
<polyline fill="none" stroke="#a8000a" stroke-width="2" stroke-linejoin="round"  points="564.8,568.6 570.4,572"/>
<polyline fill="none" stroke="#000" stroke-width="1.6" stroke-linejoin="round"  points="591.1,528 520.8,531.1 515.6,536.4 555.7,539.6 591.1,542.7"/>
<polyline fill="none" stroke="#000" stroke-width="1.6" stroke-linejoin="round"  points="591.1,548 562,550.1 591.1,559.6"/>
<polyline fill="none" stroke="#000" stroke-width="1.6" stroke-linejoin="round"  points="591.1,564.5 548.3,568 591.1,572.3"/>
<text x="150.5" y="700.4" font-size="12.3" text-anchor="middle" textLength="192" lengthAdjust="spacingAndGlyphs" >Batch name: ew_drifts_15oct2025</text>
</svg></body></html>
